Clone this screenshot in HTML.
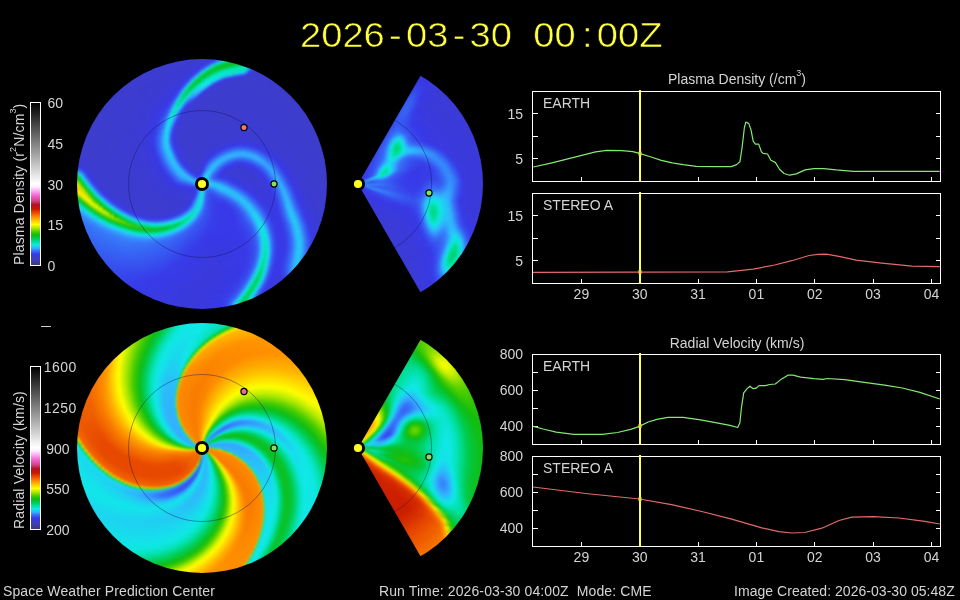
<!DOCTYPE html><html><head><meta charset="utf-8"><title>WSA-ENLIL Solar Wind Prediction</title><style>
html,body{margin:0;padding:0;background:#000;}
body{width:960px;height:600px;overflow:hidden;position:relative;font-family:"Liberation Sans",sans-serif;font-size:14px;color:#d4d4d4;}
.a{position:absolute;}
.t{position:absolute;white-space:nowrap;line-height:16px;}
.d{position:absolute;border-radius:50%;overflow:hidden;}.d .b{position:absolute;}.d i{position:absolute;border-radius:50%;}
.w{clip-path:polygon(125px 125px,250px -91.5px,400px -91.5px,400px 341.5px,250px 341.5px);}
.ttl{position:absolute;left:300px;top:15px;height:40px;white-space:nowrap;color:#ffff40;font-size:34.3px;line-height:40px;-webkit-text-stroke:0.55px #000;}
.ttl span{display:inline-block;width:21.2px;text-align:center;}
.ttl span i{display:inline-block;font-style:normal;transform:scaleX(1.11);}
.rot{position:absolute;white-space:nowrap;line-height:16px;letter-spacing:0.15px;transform-origin:0 0;transform:rotate(-90deg);}
sup{font-size:9px;line-height:0;vertical-align:8px;}
</style></head><body>
<div class="d" style="left:77px;top:59px;width:250px;height:250px"><div class="b" style="inset:-4px;filter:blur(0.8px)"><i style="inset:0px;background:conic-gradient(from 90deg,#3d3dcc 0%,#3b3bd5 6.25%,#383be9 7.97%,#367af9 9.58%,#34aeff 10.46%,#1cd5ef 11.29%,#34a6fe 12.12%,#3760f3 12.95%,#3747ec 13.33%,#3838e5 13.78%,#3a3adb 15%,#383ae8 17.08%,#374bed 17.5%,#366af6 17.92%,#34abff 18.33%,#0ee7e0 18.75%,#00db8b 19.2%,#00d061 19.58%,#02ca46 19.66%,#00d36d 20.11%,#06e3bb 20.57%,#14e1eb 20.83%,#2db9fb 21.03%,#3585fa 21.25%,#3762f4 21.48%,#3746ec 21.94%,#3839e8 22.5%,#3b3bd9 25.83%,#3838e7 33.75%,#3673f8 45%,#3588fb 45.97%,#3595fc 46.25%,#2eb8fb 46.72%,#18dbed 47.08%,#03e2af 47.5%,#02ca46 47.92%,#20c10b 48.22%,#37c705 48.33%,#c0ed00 48.75%,#f8fd00 48.98%,#ffe900 49.17%,#ffc400 49.58%,#e6f800 49.73%,#cff100 50%,#66d400 50.48%,#0ebe18 50.83%,#07e4c1 51.25%,#3584fa 51.67%,#3747ec 51.99%,#383be9 52.08%,#3c3cd1 52.74%,#3d3dcc 59.58%,#3b3bd3 75.42%,#3a3add 76.25%,#383dea 76.67%,#366ff8 77.12%,#28c2f7 77.5%,#0de7dc 77.72%,#01e1a6 77.92%,#03c945 78.33%,#0fbd13 78.75%,#0cc01e 79.17%,#04c840 79.58%,#00d881 80%,#00de99 80.11%,#09e5c9 80.42%,#04e2b3 80.71%,#03e2af 80.83%,#3674f9 81.25%,#375df2 81.31%,#3b3bd3 81.67%,#3d3dcc 82.92%,#3d3dcc 100%)"></i><i style="inset:1.5px;background:conic-gradient(from 90deg,#3d3dcc 0%,#3b3bd5 6.25%,#383be9 7.97%,#367af9 9.58%,#34aeff 10.46%,#1cd5ef 11.29%,#34a6fe 12.12%,#3760f3 12.95%,#3747ec 13.33%,#3838e5 13.78%,#3a3adb 15%,#383ae8 17.08%,#374bed 17.5%,#366af6 17.92%,#34abff 18.33%,#0ee7e0 18.75%,#00db8b 19.2%,#00d061 19.58%,#02ca46 19.66%,#00d36d 20.11%,#06e3bb 20.57%,#14e1eb 20.83%,#2db9fb 21.03%,#3585fa 21.25%,#3762f4 21.48%,#3746ec 21.94%,#3839e8 22.5%,#3b3bd9 25.83%,#3838e7 33.75%,#3673f8 45%,#3588fb 45.97%,#3595fc 46.25%,#2eb8fb 46.72%,#18dbed 47.08%,#03e2af 47.5%,#02ca46 47.92%,#20c10b 48.22%,#37c705 48.33%,#c0ed00 48.75%,#f8fd00 48.98%,#ffe900 49.17%,#ffc400 49.58%,#e6f800 49.73%,#cff100 50%,#66d400 50.48%,#0ebe18 50.83%,#07e4c1 51.25%,#3584fa 51.67%,#3747ec 51.99%,#383be9 52.08%,#3c3cd1 52.74%,#3d3dcc 59.58%,#3b3bd3 75.42%,#3a3add 76.25%,#383dea 76.67%,#366ff8 77.12%,#28c2f7 77.5%,#0de7dc 77.72%,#01e1a6 77.92%,#03c945 78.33%,#0fbd13 78.75%,#0cc01e 79.17%,#04c840 79.58%,#00d881 80%,#00de99 80.11%,#09e5c9 80.42%,#04e2b3 80.71%,#03e2af 80.83%,#3674f9 81.25%,#375df2 81.31%,#3b3bd3 81.67%,#3d3dcc 82.92%,#3d3dcc 100%)"></i><i style="inset:3px;background:conic-gradient(from 90deg,#3d3dcc 0%,#3b3bd5 6.25%,#383be9 7.97%,#367af9 9.58%,#34aeff 10.46%,#1cd5ef 11.29%,#34a6fe 12.12%,#3760f3 12.95%,#3747ec 13.33%,#3838e5 13.78%,#3a3adb 15%,#383ae8 17.08%,#374bed 17.5%,#366af6 17.92%,#34abff 18.33%,#0ee7e0 18.75%,#00db8b 19.2%,#00d061 19.58%,#02ca46 19.66%,#00d36d 20.11%,#06e3bb 20.57%,#14e1eb 20.83%,#2db9fb 21.03%,#3585fa 21.25%,#3762f4 21.48%,#3746ec 21.94%,#3839e8 22.5%,#3b3bd9 25.83%,#3838e7 33.75%,#3673f8 45%,#3588fb 45.97%,#3595fc 46.25%,#2eb8fb 46.72%,#18dbed 47.08%,#03e2af 47.5%,#02ca46 47.92%,#20c10b 48.22%,#37c705 48.33%,#c0ed00 48.75%,#f8fd00 48.98%,#ffe900 49.17%,#ffc400 49.58%,#e6f800 49.73%,#cff100 50%,#66d400 50.48%,#0ebe18 50.83%,#07e4c1 51.25%,#3584fa 51.67%,#3747ec 51.99%,#383be9 52.08%,#3c3cd1 52.74%,#3d3dcc 59.58%,#3b3bd3 75.42%,#3a3add 76.25%,#383dea 76.67%,#366ff8 77.12%,#28c2f7 77.5%,#0de7dc 77.72%,#01e1a6 77.92%,#03c945 78.33%,#0fbd13 78.75%,#0cc01e 79.17%,#04c840 79.58%,#00d881 80%,#00de99 80.11%,#09e5c9 80.42%,#04e2b3 80.71%,#03e2af 80.83%,#3674f9 81.25%,#375df2 81.31%,#3b3bd3 81.67%,#3d3dcc 82.92%,#3d3dcc 100%)"></i><i style="inset:4.5px;background:conic-gradient(from 90deg,#3d3dcc 0%,#3b3bd6 6.25%,#383be9 7.81%,#366df7 9.17%,#30b5fc 10.42%,#1fcff2 11.14%,#2db9fb 11.67%,#349ffd 12.08%,#375ff3 12.92%,#3839e8 13.63%,#3a3adc 14.58%,#3838e5 16.67%,#3844eb 17.2%,#3760f3 17.66%,#367cf9 17.92%,#359efd 18.12%,#28c2f7 18.33%,#0fe8e5 18.58%,#00d679 19.17%,#01cb4b 19.5%,#02ca4a 19.58%,#00d575 20%,#07e3bd 20.42%,#21cdf3 20.83%,#366df7 21.34%,#374bed 21.79%,#3839e8 22.5%,#3b3bd9 25.83%,#3838e7 33.75%,#3670f8 44.58%,#367cf9 45.42%,#3588fb 45.84%,#359dfd 46.25%,#2bbdf9 46.67%,#0fe8e5 47.08%,#00dd93 47.5%,#09c32c 47.92%,#1ec00c 48.11%,#58d000 48.33%,#dcf500 48.75%,#f7fd00 48.86%,#ffdd00 49.17%,#ffc300 49.61%,#baeb00 50%,#53cf00 50.42%,#08c431 50.83%,#00e09f 51.12%,#0be6d3 51.25%,#367bf9 51.67%,#3754f0 51.87%,#3839e8 52.08%,#3c3cd3 52.62%,#3d3dcc 55%,#3c3cd3 75%,#3b3bd8 75.83%,#3939e4 76.31%,#374dee 76.67%,#366af6 76.91%,#358cfb 77.08%,#0fe8e4 77.51%,#00d472 77.92%,#03c945 78.11%,#0ac227 78.33%,#0ebe17 78.75%,#06c636 79.31%,#00cd55 79.58%,#00e09f 80%,#09e5ca 80.42%,#04e2b3 80.83%,#2eb7fb 81.11%,#3669f6 81.25%,#3c3cd3 81.67%,#3d3dcc 83.33%,#3d3dcc 100%)"></i><i style="inset:6px;background:conic-gradient(from 90deg,#3d3dcc 0%,#3b3bd5 5.83%,#383ae9 7.5%,#366bf7 8.75%,#31b2fd 10%,#1fd1f1 10.83%,#34a8fe 11.67%,#3759f1 12.92%,#3843eb 13.33%,#3838e5 13.75%,#3a3add 15%,#383de9 16.67%,#3760f4 17.34%,#366ff8 17.5%,#33b0fe 17.92%,#11e7e8 18.26%,#00dc8f 18.75%,#00d05f 19.17%,#01cb4c 19.19%,#00d268 19.58%,#08e4c3 20.12%,#19daed 20.42%,#34a2fe 20.83%,#3668f6 21.25%,#374dee 21.67%,#3839e8 22.5%,#3a3ad9 25.83%,#383be9 34.58%,#3673f8 44.58%,#3588fb 45.59%,#2fb6fc 46.34%,#1cd5f0 46.67%,#05e2b6 47.1%,#00cd54 47.5%,#1abf0d 47.86%,#a6e500 48.33%,#effa00 48.61%,#fff600 48.75%,#ffcd00 49.17%,#ffc700 49.37%,#cef100 49.58%,#80db00 50%,#5dd200 50.12%,#19be0e 50.42%,#00d472 50.83%,#1bd7ef 51.25%,#3669f6 51.67%,#3838e5 52.08%,#3b3bd5 52.5%,#3d3dcc 54.17%,#3c3cd3 74.58%,#3a3adf 75.83%,#3845ec 76.25%,#3760f3 76.5%,#367bf9 76.67%,#16deec 77.1%,#00d983 77.5%,#01cb4d 77.7%,#09c32a 77.92%,#0ebe19 78.33%,#07c536 78.9%,#00cc50 79.17%,#00dd94 79.58%,#08e4c5 80%,#09e5ca 80.1%,#04e2b0 80.7%,#0ae5cc 80.83%,#3751ef 81.25%,#3844eb 81.3%,#3c3cd1 81.67%,#3d3dcc 86.25%,#3d3dcc 100%)"></i><i style="inset:7.5px;background:conic-gradient(from 90deg,#3d3dcc 0%,#3b3bd7 5.83%,#3838e7 7.09%,#3667f5 8.33%,#32b2fe 9.61%,#1fcff2 10.45%,#34adff 11.29%,#3676f9 12.13%,#3840ea 13.33%,#3939e4 13.81%,#3939e0 15.42%,#383be9 16.25%,#374cee 16.67%,#3668f6 17.08%,#34a0fd 17.5%,#11e6e9 17.96%,#00dd94 18.43%,#00d36a 18.75%,#00cf5c 19.17%,#00d576 19.36%,#00df9e 19.58%,#11e7e9 20%,#34aeff 20.42%,#3678f9 20.83%,#375bf2 21.25%,#3748ed 21.67%,#3838e8 22.5%,#3a3ad9 25.83%,#383ae9 34.17%,#3671f8 44.17%,#3588fb 45.33%,#2fb6fc 46.09%,#27c3f6 46.25%,#0de6da 46.67%,#06e3b9 46.85%,#00d984 47.08%,#0cc020 47.5%,#16be0e 47.61%,#65d400 47.92%,#e8f800 48.37%,#ffdf00 48.75%,#ffcb00 49.12%,#d6f300 49.17%,#a4e500 49.58%,#3bc804 50%,#04c842 50.42%,#00d986 50.64%,#07e3be 50.83%,#32b2fe 51.25%,#358bfb 51.4%,#3759f1 51.67%,#3939e1 52.08%,#3b3bd3 52.5%,#3d3dcc 54.58%,#3c3cd3 74.17%,#3a3ade 75.51%,#383ce9 75.83%,#366af6 76.25%,#24c8f5 76.67%,#1ed2f1 76.71%,#00de97 77.08%,#00cd55 77.31%,#07c532 77.5%,#0dbf1d 77.92%,#09c32d 78.33%,#00cd52 78.75%,#00dc8f 79.17%,#07e4c1 79.58%,#09e5ca 79.71%,#09e4c8 80%,#03e2ae 80.42%,#1dd3f0 80.83%,#30b5fc 80.91%,#3839e8 81.25%,#3c3cd0 81.67%,#3d3dcc 100%)"></i><i style="inset:9px;background:conic-gradient(from 90deg,#3d3dcd 0%,#3b3bd6 5.42%,#3939e5 6.7%,#383fea 7.08%,#3678f9 8.33%,#32b1fe 9.23%,#1ed2f1 10%,#33afff 10.92%,#3669f6 12.08%,#3839e8 13.45%,#3939e0 14.58%,#3839e8 15.83%,#3749ed 16.25%,#3666f5 16.71%,#34a3fe 17.18%,#10e8e7 17.65%,#00dd94 18.13%,#01cb4d 18.6%,#00cc52 18.75%,#00d677 19.07%,#0ce6d7 19.58%,#2eb7fb 20.02%,#3679f9 20.49%,#375bf2 20.97%,#383de9 22.08%,#3939df 23.75%,#3a3adb 28.75%,#383be9 34.17%,#3674f8 44.17%,#3588fb 45.07%,#3598fc 45.42%,#30b5fc 45.83%,#17ddec 46.25%,#06e3bd 46.59%,#02ca47 47.08%,#11bc10 47.35%,#33c606 47.5%,#b0e800 47.92%,#e0f600 48.12%,#fff600 48.33%,#ffd300 48.75%,#caef00 48.88%,#b9eb00 49.17%,#62d300 49.58%,#51cf00 49.64%,#0dbf1c 50%,#00db8d 50.42%,#1bd6ef 50.83%,#3594fc 51.16%,#3749ed 51.67%,#3939e4 51.92%,#3c3cd0 52.69%,#3c3cd0 72.5%,#3a3ada 75%,#3838e6 75.42%,#375cf2 75.83%,#30b4fd 76.25%,#23c9f4 76.35%,#03e2b0 76.67%,#00cf5c 76.95%,#04c841 77.08%,#10bc11 77.5%,#09c32c 77.92%,#00cd55 78.33%,#00dd93 78.76%,#07e4c1 79.17%,#0ae5cc 79.36%,#0ae5cd 79.58%,#04e2b4 80%,#08e4c4 80.42%,#0fe8e5 80.56%,#358efb 80.83%,#3a3adc 81.25%,#3c3cce 81.67%,#3d3dcd 100%)"></i><i style="inset:10.5px;background:conic-gradient(from 90deg,#3d3dcd 0%,#3b3bd5 5%,#383ae9 6.67%,#3676f9 8%,#33b0fe 8.85%,#1fd0f2 9.58%,#25c6f5 10%,#33afff 10.54%,#366ef8 11.67%,#383fea 13.09%,#3939e4 13.75%,#3939e3 15%,#3838e8 15.42%,#3749ed 15.91%,#3668f6 16.38%,#3589fb 16.67%,#34a8fe 16.86%,#0fe7e3 17.34%,#00d984 17.92%,#01cb4c 18.33%,#00d678 18.78%,#0be5d0 19.25%,#24c8f5 19.58%,#30b4fc 19.73%,#3675f9 20.21%,#3758f1 20.69%,#383be9 22.08%,#3a3ada 25.83%,#383ce9 34.17%,#3673f8 43.75%,#3587fb 44.8%,#31b4fd 45.57%,#22caf4 45.83%,#0ae5ce 46.25%,#00d574 46.67%,#10bc11 47.1%,#70d700 47.5%,#d8f400 47.86%,#e2f600 47.92%,#ffe400 48.33%,#c0ed00 48.63%,#bbeb00 48.75%,#80db00 49.17%,#4acd00 49.39%,#24c20a 49.58%,#00cf5d 50%,#00db8b 50.16%,#0ce6d4 50.42%,#34a7fe 50.83%,#3593fc 50.92%,#3760f4 51.25%,#3838e8 51.69%,#3c3cd1 52.5%,#3d3dcc 63.33%,#3b3bd5 74.19%,#3939e1 75%,#374eee 75.42%,#3598fd 75.83%,#28c1f8 76%,#0ae5ce 76.25%,#00cc4e 76.67%,#0ebe16 77.08%,#0fbd15 77.2%,#00cc50 77.92%,#00e0a0 78.41%,#08e4c5 78.75%,#0be5d0 79.01%,#0ae5cf 79.17%,#05e3b8 79.61%,#06e3bb 80%,#0ee7e0 80.22%,#27c3f7 80.42%,#374fef 80.83%,#3b3bd4 81.25%,#3d3dcc 82.08%,#3d3dcd 100%)"></i><i style="inset:12px;background:conic-gradient(from 90deg,#3d3dcd 0%,#3b3bd7 5.06%,#3838e7 6.25%,#3756f0 7.08%,#3670f8 7.62%,#34adff 8.48%,#21ccf3 9.17%,#23c9f4 9.58%,#34aeff 10.18%,#3672f8 11.25%,#3841eb 12.74%,#3939e3 13.75%,#3838e7 15%,#3748ed 15.56%,#3668f6 16.04%,#367ffa 16.25%,#34aaff 16.53%,#0ee7e1 17.01%,#00dd93 17.5%,#00d164 17.92%,#00d165 18.33%,#02e1aa 18.75%,#0ae5cd 18.94%,#19daee 19.17%,#2fb5fc 19.42%,#366cf7 20%,#3756f1 20.42%,#3843eb 21.25%,#3838e6 22.5%,#3a3ada 26.67%,#383be9 33.75%,#3676f9 43.75%,#3589fb 44.58%,#359dfd 45%,#2cbbfa 45.42%,#12e6e9 45.83%,#08e4c4 46.07%,#00e09f 46.25%,#05c73c 46.67%,#0ebe16 46.84%,#3bc804 47.08%,#b6ea00 47.5%,#cff100 47.61%,#fff800 47.92%,#ffdd00 48.37%,#96e100 48.75%,#3ec903 49.17%,#07c536 49.58%,#02e1ab 50%,#26c4f6 50.42%,#3592fc 50.68%,#3674f8 50.83%,#3748ed 51.25%,#383ae9 51.44%,#3b3bd3 52.21%,#3d3dcc 54.58%,#3b3bd4 73.33%,#3a3ade 74.58%,#3747ec 75.06%,#3679f9 75.42%,#2eb8fb 75.66%,#14e2ea 75.83%,#00d268 76.27%,#0dbf1d 76.67%,#0ac227 77.08%,#01cb4c 77.5%,#02e1a9 78.08%,#08e4c5 78.33%,#0be5d1 78.75%,#05e3b7 79.28%,#06e3ba 79.58%,#10e8e8 79.89%,#1dd2f1 80%,#3666f5 80.42%,#3939df 80.83%,#3c3cd0 81.25%,#3d3dcd 100%)"></i><i style="inset:13.5px;background:conic-gradient(from 90deg,#3d3dcd 0%,#3b3bd7 4.69%,#3939e4 5.83%,#3845ec 6.41%,#366cf7 7.27%,#2fb6fc 8.33%,#22caf4 8.75%,#22cbf4 9.17%,#34a3fe 10%,#3675f9 10.83%,#3842eb 12.41%,#3838e6 13.27%,#3838e6 14.58%,#3746ec 15.2%,#3673f8 15.83%,#30b4fd 16.25%,#0ee7e1 16.67%,#00dd94 17.15%,#00d36d 17.5%,#00cc50 17.64%,#00cf5d 17.92%,#00de97 18.33%,#0fe7e3 18.75%,#33b0fe 19.17%,#3675f9 19.59%,#3757f1 20.08%,#383fea 21.25%,#3939e2 22.92%,#3a3adb 27.5%,#383ce9 33.75%,#3674f9 43.33%,#3587fb 44.26%,#3593fc 44.58%,#32b1fe 45.03%,#1ed2f1 45.42%,#07e4c1 45.83%,#00d163 46.25%,#0dbf1b 46.58%,#16be0e 46.67%,#7fdb00 47.08%,#c7ef00 47.34%,#e6f800 47.5%,#ffe900 47.92%,#ade700 48.12%,#a1e400 48.33%,#3dc903 48.89%,#0ebe17 49.17%,#00d87e 49.58%,#00de97 49.66%,#13e3ea 50%,#3590fc 50.43%,#3757f1 50.83%,#3838e7 51.25%,#3c3cd3 52.08%,#3d3dcc 55.42%,#3b3bd4 72.92%,#3a3adb 74.17%,#3838e7 74.58%,#3843eb 74.73%,#3762f4 75%,#33afff 75.34%,#27c3f7 75.42%,#00dc91 75.83%,#00d46f 75.94%,#09c32c 76.25%,#0bc125 76.67%,#00cc4e 77.15%,#04e2b0 77.76%,#08e4c3 77.92%,#0be6d4 78.36%,#05e3b7 78.96%,#06e3bd 79.17%,#1bd7ef 79.58%,#3672f8 80%,#3838e6 80.42%,#3b3bd4 80.83%,#3d3dcc 82.5%,#3d3dcd 100%)"></i><i style="inset:15px;background:conic-gradient(from 90deg,#3c3ccd 0%,#3b3bd8 4.58%,#383ae9 5.83%,#3671f8 7.08%,#33afff 7.92%,#26c5f6 8.33%,#1fd0f2 8.75%,#34a5fe 9.58%,#3676f9 10.42%,#374cee 11.67%,#383be9 12.5%,#3838e6 14.17%,#3844ec 14.82%,#3669f6 15.42%,#34a3fe 15.83%,#0fe8e5 16.31%,#00dd96 16.8%,#00d572 17.08%,#00cc51 17.29%,#00ce57 17.5%,#00db8b 17.92%,#0be5d0 18.33%,#2abdf9 18.77%,#3679f9 19.26%,#3758f1 19.76%,#3840ea 20.83%,#3939e4 22.5%,#3a3adb 27.08%,#383ae9 33.33%,#3673f8 42.92%,#358cfb 44.17%,#33afff 44.76%,#28c2f7 45%,#0ee7df 45.42%,#00dc8e 45.83%,#0cc021 46.31%,#47cc00 46.67%,#beec00 47.08%,#fff900 47.5%,#ffe900 47.86%,#a3e500 47.92%,#70d700 48.33%,#22c10b 48.75%,#00cd54 49.17%,#00df9d 49.41%,#09e5c9 49.58%,#31b3fd 50%,#3668f6 50.42%,#3839e8 50.96%,#3b3bd4 51.73%,#3d3dcc 54.17%,#3b3bd4 72.5%,#3a3adb 73.81%,#3939e3 74.17%,#3840ea 74.42%,#3750ef 74.58%,#34a6fe 75.02%,#06e3bc 75.42%,#00d677 75.63%,#04c83f 75.83%,#0bc124 76.25%,#04c83f 76.67%,#00cd52 76.84%,#07e3be 77.5%,#0ce6d7 77.92%,#08e4c3 78.33%,#06e3bc 78.66%,#1dd3f0 79.17%,#28c2f7 79.26%,#3675f9 79.58%,#383ae8 80%,#3b3bd6 80.42%,#3d3dcc 81.67%,#3c3ccd 100%)"></i><i style="inset:16.5px;background:conic-gradient(from 90deg,#3c3ccd 0%,#3b3bd6 4.17%,#3838e6 5.42%,#3755f0 6.25%,#3669f6 6.67%,#34a5fe 7.5%,#1ed1f1 8.33%,#34a5fe 9.23%,#3672f8 10.1%,#3844eb 11.67%,#3838e6 12.7%,#383be9 14.17%,#3748ed 14.58%,#3760f3 15%,#3597fc 15.45%,#13e2ea 15.94%,#00de98 16.44%,#00cd52 16.94%,#00cd55 17.08%,#00d87f 17.5%,#09e4c6 17.94%,#21cdf3 18.33%,#3594fc 18.75%,#3668f6 19.17%,#3753f0 19.58%,#383ce9 20.83%,#3a3adb 26.25%,#383be9 33.33%,#3676f9 42.92%,#3587fb 43.75%,#3598fd 44.17%,#30b5fc 44.58%,#18dbed 45%,#0ae5cf 45.27%,#04e2b3 45.42%,#00cd53 45.83%,#0ac226 46.04%,#23c10b 46.25%,#b6ea00 46.82%,#e8f800 47.08%,#ffef00 47.5%,#95e100 47.6%,#7edb00 47.92%,#2fc507 48.38%,#06c63a 48.75%,#02e1a8 49.17%,#22cbf3 49.58%,#367efa 50%,#374eee 50.42%,#3838e8 50.71%,#3c3cd2 51.67%,#3d3dcc 56.67%,#3b3bd4 72.08%,#3939df 73.75%,#3843eb 74.17%,#367af9 74.58%,#34a0fd 74.73%,#11e6e9 75%,#00d05f 75.42%,#0ebe18 75.83%,#0ebe17 75.94%,#00ce59 76.55%,#07e4c0 77.15%,#0de6d9 77.5%,#09e5c9 77.92%,#08e4c5 78.37%,#1fd0f1 78.75%,#34a1fe 78.97%,#3670f8 79.17%,#383ae9 79.58%,#3b3bd7 80%,#3d3dcd 81.25%,#3c3ccd 100%)"></i><i style="inset:18px;background:conic-gradient(from 90deg,#3c3cce 0%,#3b3bd9 4.17%,#3939e4 5%,#3840ea 5.46%,#3666f5 6.33%,#2eb7fb 7.5%,#1fd0f1 8.07%,#34a2fe 8.95%,#366ef7 9.82%,#3845ec 11.25%,#3838e8 12.08%,#3839e8 13.75%,#3844eb 14.17%,#3759f1 14.58%,#367ffa 15%,#28c1f7 15.42%,#18dbed 15.59%,#0ae5cc 15.83%,#00da8a 16.25%,#00cd52 16.6%,#00cc4f 16.67%,#00d67a 17.1%,#09e5c9 17.61%,#1bd7ef 17.92%,#34a1fd 18.33%,#366ff8 18.75%,#3758f1 19.17%,#3843eb 20%,#3838e7 21.25%,#3a3adb 26.67%,#383ae9 32.92%,#3675f9 42.5%,#3586fa 43.44%,#34a9fe 44.17%,#23caf4 44.58%,#0be6d2 45%,#00d77d 45.42%,#0cc021 45.83%,#57d000 46.25%,#ade700 46.56%,#c5ee00 46.67%,#fffd00 47.08%,#8ade00 47.34%,#84dc00 47.5%,#44cb01 47.92%,#28c309 48.12%,#0cc01f 48.33%,#00d881 48.75%,#02e1ab 48.9%,#12e5e9 49.17%,#3599fd 49.58%,#375cf2 50%,#3838e8 50.46%,#3b3bd4 51.25%,#3d3dcc 54.17%,#3b3bd4 71.67%,#3a3add 73.33%,#3839e8 73.75%,#3663f4 74.17%,#359efd 74.44%,#27c3f7 74.58%,#00dc8e 75%,#0ac227 75.42%,#09c32e 75.83%,#00d05e 76.26%,#02e1ab 76.67%,#09e4c7 76.87%,#0de6d9 77.08%,#08e4c3 77.92%,#0be5d1 78.08%,#1cd5f0 78.33%,#3670f8 78.75%,#3838e8 79.17%,#3b3bd6 79.58%,#3d3dcc 81.25%,#3c3cce 100%)"></i><i style="inset:19.5px;background:conic-gradient(from 90deg,#3c3cce 0%,#3b3bd7 3.75%,#3839e8 5%,#3670f8 6.25%,#33afff 7.08%,#1fcff2 7.8%,#2fb6fc 8.33%,#3669f6 9.58%,#3845ec 10.83%,#3838e8 11.67%,#3838e8 13.33%,#3840ea 13.75%,#3756f0 14.23%,#3670f8 14.58%,#33b0fe 15%,#0fe7e3 15.42%,#00df9e 15.83%,#00d575 16.27%,#00d36d 16.67%,#03e1ad 17.08%,#0ae5cf 17.29%,#15e0eb 17.5%,#34acff 17.92%,#3677f9 18.33%,#375af2 18.82%,#3845ec 19.58%,#3838e5 21.25%,#3a3adb 26.67%,#383be9 32.92%,#3679f9 42.5%,#358bfb 43.33%,#34acff 43.94%,#2cbcfa 44.17%,#12e5e9 44.58%,#0ce6d6 44.72%,#01e0a4 45%,#08c431 45.51%,#2fc507 45.83%,#a4e500 46.29%,#e8f800 46.67%,#7fdb00 47.08%,#55cf00 47.5%,#17be0e 47.92%,#00cf5c 48.33%,#09e5ca 48.75%,#30b4fc 49.17%,#366bf7 49.58%,#3844eb 50%,#3838e7 50.21%,#3c3cd1 51.25%,#3d3dcd 60.83%,#3b3bd7 72.08%,#3a3adc 72.95%,#3939e4 73.33%,#3840ea 73.56%,#3753f0 73.75%,#34a1fe 74.17%,#06e3bd 74.58%,#00d881 74.77%,#04c83e 75%,#0ac229 75.42%,#01cb4b 75.83%,#00de99 76.25%,#0ce6d5 76.67%,#0ce6d8 77.08%,#08e4c4 77.5%,#0ee7e0 77.8%,#17dced 77.92%,#3678f9 78.33%,#3667f5 78.41%,#3838e8 78.75%,#3b3bd6 79.17%,#3d3dcc 80.83%,#3c3cce 100%)"></i><i style="inset:21px;background:conic-gradient(from 90deg,#3c3cce 0%,#3a3ada 3.75%,#3838e6 4.58%,#3843eb 5%,#3669f6 5.83%,#34a5fe 6.67%,#1ed1f1 7.5%,#34a4fe 8.33%,#3668f6 9.29%,#3845ec 10.42%,#3838e8 11.25%,#3838e7 12.92%,#383eea 13.38%,#3753f0 13.89%,#3665f5 14.17%,#3580fa 14.4%,#359cfd 14.58%,#19d9ee 15%,#04e2b2 15.43%,#00d87e 15.83%,#00d05f 15.95%,#00d46f 16.25%,#00d984 16.46%,#01e0a2 16.67%,#10e8e7 17.08%,#31b3fd 17.5%,#3676f9 18.01%,#3758f1 18.52%,#3840ea 19.58%,#3838e6 20.83%,#3a3adb 26.67%,#383ce9 32.92%,#3677f9 42.08%,#3586fb 42.92%,#3596fc 43.33%,#32b1fe 43.75%,#1dd3f0 44.17%,#0de6d9 44.45%,#08e4c3 44.58%,#00d269 45%,#0fbd13 45.42%,#67d400 45.83%,#9ae200 46.03%,#c9ef00 46.25%,#fbfe00 46.67%,#ffff00 46.81%,#61d300 47.08%,#1abf0d 47.6%,#04c83f 47.92%,#05e3b9 48.39%,#22ccf3 48.75%,#367cf9 49.18%,#374fef 49.58%,#3939e5 50%,#3c3cd3 50.83%,#3d3dcc 55%,#3b3bd4 70.83%,#3939e1 72.92%,#3846ec 73.33%,#367efa 73.75%,#34a1fe 73.89%,#12e5e9 74.17%,#00d061 74.58%,#0ebe19 75%,#09c32c 75.1%,#05c73e 75.42%,#00d268 75.7%,#0be5d1 76.31%,#0ee7df 76.67%,#09e4c8 77.08%,#13e3ea 77.52%,#3586fa 77.92%,#3759f1 78.12%,#383ce9 78.33%,#3b3bd6 78.75%,#3d3dcd 80%,#3c3cce 100%)"></i><i style="inset:22.5px;background:conic-gradient(from 90deg,#3c3ccf 0%,#3b3bd9 3.33%,#383dea 4.59%,#3664f5 5.48%,#2fb6fc 6.67%,#1fd0f1 7.25%,#34afff 7.92%,#3673f8 8.75%,#3846ec 10%,#3838e8 10.83%,#383eea 13.03%,#375cf2 13.75%,#3587fb 14.17%,#24c7f5 14.59%,#09e5cb 15%,#00dc91 15.42%,#00d267 15.63%,#00d36c 15.83%,#00db8c 16.15%,#0de7dc 16.68%,#33afff 17.19%,#3671f8 17.72%,#3753f0 18.33%,#383de9 19.58%,#3a3ade 23.33%,#3939e1 29.58%,#383de9 32.92%,#3676f9 41.67%,#3585fa 42.6%,#34a6fe 43.33%,#27c4f6 43.75%,#0de7dc 44.18%,#00dc91 44.58%,#07c535 45%,#3bc804 45.42%,#a4e500 45.83%,#e5f700 46.25%,#6ad500 46.55%,#66d400 46.67%,#38c705 47.08%,#13bd0f 47.34%,#0ac228 47.5%,#00da88 47.92%,#07e4c0 48.13%,#14e1eb 48.33%,#3598fc 48.75%,#3678f9 48.92%,#375cf2 49.17%,#383be9 49.58%,#3b3bd3 50.51%,#3d3dcc 54.17%,#3b3bd4 70.42%,#3a3adf 72.5%,#383ce9 72.92%,#3665f5 73.33%,#34a1fe 73.61%,#26c4f6 73.75%,#00dc91 74.17%,#00d881 74.21%,#0ac229 74.58%,#07c534 75%,#00d26a 75.42%,#06e3ba 75.83%,#0ce6d5 76.02%,#0fe7e2 76.25%,#0be5d0 76.67%,#0ee7dd 77.08%,#19daee 77.23%,#359afd 77.5%,#374fee 77.83%,#3843eb 77.92%,#3b3bd7 78.33%,#3c3cce 79.17%,#3c3ccf 100%)"></i><i style="inset:24px;background:conic-gradient(from 90deg,#3c3ccf 0%,#3a3adc 3.4%,#383ce9 4.3%,#366ff8 5.42%,#33afff 6.25%,#1fd0f1 6.98%,#2fb7fc 7.5%,#367cf9 8.33%,#3755f0 9.17%,#3838e8 10.42%,#3839e8 12.5%,#374fef 13.21%,#3676f9 13.75%,#31b3fd 14.17%,#0fe7e2 14.58%,#02e1a8 15%,#00d46f 15.32%,#00d46f 15.42%,#00dd95 15.85%,#0fe8e4 16.38%,#34a9fe 16.9%,#366df7 17.43%,#3754f0 17.96%,#383eea 19.17%,#3939e2 21.25%,#3a3add 27.5%,#383ce9 32.5%,#3679f9 41.67%,#358afb 42.5%,#34a8fe 43.11%,#17ddec 43.75%,#0ee7e0 43.9%,#04e2b2 44.17%,#00cd54 44.58%,#1bbf0d 45%,#86dd00 45.49%,#cbf000 45.83%,#eefa00 46.29%,#42ca02 46.67%,#0fbd14 47.08%,#00d269 47.5%,#0be6d2 47.92%,#32b1fe 48.33%,#3673f8 48.67%,#3845ec 49.17%,#3939e0 49.58%,#3c3ccf 50.83%,#3c3cd3 69.17%,#3a3ade 72.12%,#3838e6 72.5%,#3843eb 72.72%,#3755f0 72.92%,#34a3fe 73.33%,#07e3bf 73.75%,#00d985 73.93%,#03c943 74.17%,#08c431 74.58%,#00cd54 75%,#01e1a5 75.42%,#0ce6d7 75.73%,#0ee7e0 75.83%,#0be6d3 76.67%,#1ed2f1 76.94%,#31b3fd 77.08%,#3747ec 77.54%,#3a3ad9 77.92%,#3c3cce 78.75%,#3c3ccf 100%)"></i><i style="inset:25.5px;background:conic-gradient(from 90deg,#3c3cd0 0%,#3a3adc 3.1%,#383ce9 4%,#3667f5 5%,#34a4fe 5.83%,#1ed1f1 6.67%,#34a5fe 7.5%,#3664f5 8.49%,#3840ea 9.58%,#3838e6 10.29%,#383ce9 12.35%,#3750ef 12.92%,#3671f8 13.41%,#34a0fd 13.75%,#1ad8ee 14.17%,#09e5ca 14.48%,#06e3ba 14.58%,#00de96 15.01%,#00db8e 15.42%,#12e5e9 16.08%,#359bfd 16.67%,#3669f6 17.15%,#374cee 17.92%,#3838e8 19.58%,#3a3adb 25.42%,#383ae9 32.08%,#3678f9 41.25%,#3586fb 42.08%,#34a8fe 42.83%,#20cef2 43.33%,#0fe7e3 43.62%,#00d77c 44.17%,#0bc125 44.58%,#47cc00 45%,#abe700 45.42%,#def500 45.83%,#e6f800 46.02%,#48cc00 46.25%,#1dc00c 46.67%,#0ebe1a 46.82%,#01cb4b 47.08%,#04e2b3 47.5%,#0ae5ce 47.62%,#24c7f5 47.92%,#366ff8 48.41%,#374eee 48.75%,#3939e3 49.21%,#3c3ccf 50.42%,#3c3cd2 68.33%,#3a3adf 71.84%,#3939e3 72.08%,#3748ed 72.5%,#3580fa 72.92%,#34a0fd 73.04%,#11e6e9 73.33%,#00da88 73.64%,#00d268 73.75%,#0cc020 74.17%,#0cc021 74.24%,#02ca49 74.58%,#00dc90 75%,#0de6da 75.44%,#10e8e6 75.83%,#0be6d2 76.25%,#22caf4 76.67%,#375df3 77.08%,#3842eb 77.24%,#3a3adc 77.5%,#3c3cd1 77.92%,#3d3dcc 91.25%,#3c3cd0 100%)"></i><i style="inset:27px;background:conic-gradient(from 90deg,#3c3cd1 0%,#3a3ade 2.92%,#383de9 3.75%,#3761f4 4.61%,#3677f9 5%,#2fb6fc 5.83%,#1fcff2 6.42%,#33afff 7.08%,#3673f8 7.92%,#3842eb 9.17%,#3839e8 9.58%,#3939e4 11.25%,#383dea 12.08%,#374dee 12.55%,#366ff8 13.09%,#2db9fb 13.63%,#24c8f5 13.75%,#0be5d0 14.17%,#00e0a1 14.58%,#00d87f 14.71%,#00db8c 15%,#06e3bb 15.42%,#16dfec 15.79%,#34a6fe 16.25%,#3675f9 16.67%,#375cf2 17.08%,#3845ec 17.92%,#3838e6 19.58%,#3a3adb 25.42%,#383ce9 32.08%,#367cf9 41.25%,#358ffc 42.08%,#34a6fe 42.54%,#29c0f8 42.92%,#0fe8e5 43.34%,#00e0a0 43.75%,#03c943 44.17%,#29c309 44.58%,#74d800 44.95%,#83dc00 45%,#c7ef00 45.42%,#ddf500 45.75%,#4acd00 45.83%,#29c309 46.25%,#0cc021 46.55%,#07c535 46.67%,#00dd94 47.08%,#0be6d4 47.35%,#16deec 47.5%,#3593fc 47.92%,#366df7 48.16%,#383ae9 48.75%,#3c3cd2 49.76%,#3d3dcc 55%,#3b3bd6 69.58%,#3939e1 71.67%,#3845ec 72.17%,#3667f5 72.5%,#34a1fe 72.77%,#26c5f6 72.92%,#00dd95 73.33%,#08c431 73.75%,#04c842 74.17%,#00d77e 74.58%,#09e5c9 75%,#0ee7de 75.16%,#12e4e9 75.42%,#0de6d9 75.83%,#15e0eb 76.25%,#20cdf3 76.36%,#3677f9 76.67%,#3840ea 76.95%,#3939e3 77.08%,#3c3cd2 77.5%,#3d3dcc 81.67%,#3c3cd1 100%)"></i><i style="inset:28.5px;background:conic-gradient(from 90deg,#3c3cd2 0%,#3939e3 2.92%,#383de9 3.42%,#366ef7 4.58%,#34adff 5.42%,#1fd1f1 6.15%,#359cfd 7.06%,#3663f4 7.97%,#383ce9 9.17%,#3939e3 10.83%,#383be9 11.68%,#374cee 12.22%,#366df7 12.77%,#2eb7fb 13.33%,#10e8e7 13.75%,#04e2b1 14.17%,#00da87 14.41%,#00db8b 14.58%,#04e2b2 15%,#12e4ea 15.42%,#32b2fe 15.83%,#367efa 16.25%,#3760f4 16.67%,#3747ec 17.5%,#3838e7 19.17%,#3a3adb 25%,#383ae9 31.67%,#367af9 40.83%,#358bfb 41.67%,#34a5fe 42.26%,#30b5fc 42.5%,#10e8e8 43.06%,#07e3be 43.33%,#01cb4b 43.87%,#0ebe16 44.17%,#57d000 44.58%,#b0e800 45%,#d6f300 45.42%,#d5f300 45.48%,#31c606 45.83%,#0ac227 46.28%,#00d574 46.67%,#0de6da 47.09%,#34acff 47.5%,#3668f6 47.92%,#3843eb 48.33%,#3939e0 48.75%,#3c3ccf 50%,#3b3bd3 67.92%,#3939e0 71.29%,#3838e8 71.67%,#3757f1 72.08%,#34a3fe 72.5%,#07e4c0 72.92%,#00db8c 73.08%,#02ca4a 73.33%,#04c83e 73.75%,#00d36a 74.17%,#06e3b9 74.58%,#0fe8e5 74.87%,#14e2ea 75%,#0ee7e1 75.47%,#0fe7e2 75.83%,#23c9f4 76.07%,#359efd 76.25%,#383eea 76.67%,#3b3bd4 77.08%,#3d3dcc 78.75%,#3c3cd2 100%)"></i><i style="inset:30px;background:conic-gradient(from 90deg,#3c3cd3 0%,#3939e3 2.5%,#3838e8 2.92%,#3666f5 4.17%,#34a2fe 5%,#1ed2f1 5.83%,#29c0f8 6.25%,#359bfd 6.81%,#3762f4 7.72%,#383eea 8.75%,#3939e4 9.58%,#383ae9 11.34%,#3753f0 12.08%,#366ff8 12.5%,#32b2fd 13%,#19daee 13.33%,#0de6da 13.56%,#08e4c3 13.75%,#00db8c 14.11%,#00db8a 14.17%,#04e2b4 14.66%,#0ee7e0 15%,#2bbdf9 15.42%,#3589fb 15.83%,#3762f4 16.32%,#3749ed 17.08%,#3838e7 18.75%,#3a3adb 24.58%,#383ce9 31.67%,#3679f9 40.42%,#3587fb 41.25%,#34a4fe 41.97%,#23caf4 42.5%,#12e5e9 42.78%,#0ce6d6 42.92%,#00db8c 43.33%,#00cc51 43.58%,#07c533 43.75%,#35c705 44.17%,#8cde00 44.58%,#c4ee00 45%,#cdf000 45.2%,#36c705 45.42%,#0fbd15 45.83%,#00ce58 46.25%,#06e3bd 46.67%,#0fe7e2 46.82%,#28c1f7 47.08%,#3678f9 47.5%,#374cee 47.92%,#3939e4 48.33%,#3c3cd2 49.25%,#3d3dcd 55.83%,#3b3bd7 69.17%,#3838e5 71.25%,#374bed 71.67%,#3581fa 72.08%,#359efd 72.21%,#12e4ea 72.5%,#00dc91 72.8%,#00d36d 72.92%,#0ac229 73.33%,#03c944 73.4%,#00cf5b 73.75%,#02e1a7 74.17%,#12e5e9 74.59%,#19daee 75%,#11e6e9 75.18%,#0fe7e2 75.42%,#24c7f5 75.78%,#2bbdf9 75.83%,#3752ef 76.25%,#383fea 76.37%,#3b3bd9 76.67%,#3c3ccd 77.5%,#3c3cd1 99.17%,#3c3cd3 100%)"></i><i style="inset:31.5px;background:conic-gradient(from 90deg,#3b3bd5 0%,#3839e8 2.5%,#3663f4 3.78%,#3676f9 4.17%,#30b4fc 5%,#1fd0f2 5.62%,#33b0fe 6.25%,#3673f8 7.08%,#3841ea 8.39%,#3839e8 8.75%,#3939e4 10.42%,#383fea 11.25%,#374dee 11.67%,#3668f6 12.13%,#34aeff 12.69%,#0ee7df 13.25%,#03e1ad 13.75%,#01e0a3 14.17%,#0ce6d4 14.58%,#24c8f5 15%,#358cfb 15.49%,#366bf7 15.83%,#374dee 16.61%,#3838e8 18.33%,#3a3adb 24.17%,#383ae9 31.25%,#3679f9 40%,#3590fc 41.25%,#34a4fe 41.67%,#2abef9 42.08%,#12e4e9 42.5%,#03e1ac 42.92%,#00cc50 43.33%,#18be0e 43.75%,#64d400 44.17%,#ace700 44.58%,#34c606 44.93%,#35c705 45%,#15bd0f 45.42%,#03c943 45.83%,#00e0a2 46.25%,#10e8e8 46.56%,#358efb 47.08%,#3664f5 47.37%,#3839e8 47.92%,#3b3bd4 48.75%,#3d3dcc 51.67%,#3b3bd5 67.92%,#3939e3 70.83%,#3747ec 71.33%,#3668f6 71.67%,#359cfd 71.92%,#28c1f7 72.08%,#00de97 72.52%,#05c73c 72.92%,#08c430 73.11%,#00cc51 73.33%,#00dd95 73.75%,#0ee7df 74.17%,#15e0eb 74.3%,#1fd0f2 74.58%,#15dfeb 75%,#21cdf3 75.42%,#29c0f8 75.48%,#3668f6 75.83%,#383fea 76.08%,#3939df 76.25%,#3c3cd1 76.67%,#3d3dcc 90.83%,#3b3bd5 100%)"></i><i style="inset:33px;background:conic-gradient(from 90deg,#3b3bd7 0%,#383ae8 2.08%,#3665f5 3.49%,#358cfb 4.17%,#34abff 4.58%,#1fcff2 5.35%,#1ed1f1 5.42%,#359dfd 6.25%,#3665f5 7.08%,#383ce9 8.33%,#3939e3 10%,#383be9 10.83%,#3748ec 11.25%,#3666f5 11.81%,#3580fa 12.08%,#34a9fe 12.38%,#0fe8e5 12.95%,#06e3bd 13.33%,#00de96 13.52%,#00e09e 13.75%,#09e4c8 14.17%,#1cd4f0 14.58%,#34a2fe 15%,#3673f8 15.42%,#375cf2 15.83%,#3846ec 16.67%,#3838e7 18.33%,#3a3adb 24.58%,#383be9 31.25%,#3673f8 39.17%,#358dfb 40.83%,#34a3fe 41.38%,#2fb5fc 41.67%,#14e1eb 42.2%,#08e4c4 42.5%,#00cf5e 43.01%,#0bc123 43.33%,#3fca02 43.75%,#90df00 44.17%,#bbeb00 44.58%,#baeb00 44.65%,#1dc00c 45%,#05c73d 45.47%,#00da87 45.83%,#0fe8e5 46.25%,#34a5fe 46.67%,#3762f4 47.1%,#3841eb 47.5%,#3a3adf 47.92%,#3c3ccf 49.17%,#3c3cd3 66.25%,#3939e3 70.46%,#383ce9 70.83%,#3759f1 71.25%,#34a1fe 71.67%,#09e5ca 72.08%,#00df9e 72.24%,#00ce57 72.5%,#06c636 72.83%,#00cc51 72.92%,#00d882 73.33%,#0be5d0 73.75%,#18dbed 74.01%,#20cff2 74.17%,#1fd0f1 75%,#2eb7fb 75.19%,#367ffa 75.42%,#383ce9 75.78%,#3c3cd3 76.25%,#3d3dcc 79.17%,#3c3cd2 98.75%,#3b3bd7 100%)"></i><i style="inset:34.5px;background:conic-gradient(from 90deg,#3a3ad9 0%,#383be9 1.67%,#366ff8 3.33%,#34a2fe 4.17%,#1fcff2 5%,#28c1f8 5.42%,#359cfd 5.99%,#366cf7 6.67%,#383fea 7.92%,#3939e4 8.8%,#3839e8 10.42%,#3754f0 11.25%,#366ff8 11.67%,#34a5fe 12.08%,#11e7e9 12.65%,#09e5cb 12.92%,#00df9b 13.22%,#00df9c 13.33%,#08e4c2 13.8%,#15e0eb 14.17%,#32b1fe 14.58%,#367ffa 15%,#375cf2 15.52%,#3842eb 16.67%,#3838e5 18.33%,#3a3adc 24.58%,#383ce9 31.25%,#3670f8 38.75%,#358afb 40.42%,#34a3fe 41.08%,#34aeff 41.25%,#15e0eb 41.91%,#0de6da 42.08%,#00dd93 42.5%,#04c83f 42.92%,#25c20a 43.33%,#46cc00 43.55%,#6ed600 43.75%,#a7e600 44.17%,#26c20a 44.37%,#20c10b 44.58%,#0ac228 45%,#03c944 45.19%,#00d46e 45.42%,#0ae5cd 45.83%,#16deec 46.02%,#2db9fb 46.25%,#3671f8 46.67%,#374aed 47.08%,#3939e3 47.5%,#3c3ccf 48.75%,#3c3cd2 65.42%,#3939e4 70.19%,#3838e8 70.42%,#374eee 70.83%,#3581fa 71.25%,#359cfd 71.37%,#17dced 71.67%,#01e0a3 71.96%,#00d87f 72.08%,#05c73b 72.5%,#00cf5d 72.55%,#00d678 72.92%,#07e4c0 73.33%,#1dd3f0 73.75%,#27c2f7 74.17%,#22cbf3 74.58%,#34aeff 74.9%,#3595fc 75%,#383ae8 75.49%,#3b3bd6 75.83%,#3c3ccd 76.67%,#3c3cd2 97.92%,#3a3ad9 100%)"></i><i style="inset:36px;background:conic-gradient(from 90deg,#3a3add 0%,#383de9 1.25%,#366ff8 2.92%,#30b5fc 4.17%,#21ccf3 4.74%,#33affe 5.42%,#3676f9 6.25%,#374fef 7.08%,#3839e8 7.92%,#3939e4 9.58%,#383fea 10.42%,#3761f4 11.19%,#349ffd 11.77%,#14e2ea 12.36%,#0ee7dd 12.5%,#06e3bd 12.92%,#00e0a0 12.94%,#04e2b4 13.33%,#0fe8e4 13.75%,#2abef9 14.17%,#3581fa 14.69%,#3668f6 15%,#374aed 15.85%,#3838e8 17.5%,#3a3adb 23.75%,#383be9 30.83%,#366ff8 38.33%,#3588fb 40%,#34a4fe 40.78%,#29c0f8 41.25%,#12e5e9 41.67%,#03e2ae 42.08%,#00cf5c 42.5%,#0fbd13 42.92%,#49cc00 43.33%,#90df00 43.75%,#1fc00c 44.09%,#0cc020 44.58%,#00ce59 45%,#05e2b6 45.42%,#19d9ee 45.74%,#3584fa 46.25%,#3754f0 46.67%,#3838e7 47.08%,#3c3cd1 48.22%,#3c3ccf 60.42%,#3a3adc 68.33%,#3838e6 70%,#374cee 70.5%,#366af6 70.83%,#359cfd 71.09%,#2abff8 71.25%,#02e1a9 71.68%,#00cc4f 72.08%,#03c944 72.26%,#00d573 72.5%,#04e2b3 72.92%,#19daee 73.33%,#21ccf3 73.44%,#2dbafa 73.75%,#29c0f8 74.17%,#359dfd 74.61%,#3754f0 75%,#3838e8 75.2%,#3a3ada 75.42%,#3c3ccd 76.25%,#3c3cd2 97.5%,#3a3add 100%)"></i><i style="inset:37.5px;background:conic-gradient(from 90deg,#3939e2 0%,#383fea 0.83%,#3670f8 2.5%,#31b2fd 3.75%,#24c8f5 4.38%,#31b3fd 5%,#3665f5 6.29%,#383ce9 7.5%,#3939e3 9.17%,#383ce9 10%,#375bf2 10.83%,#367df9 11.25%,#31b3fd 11.67%,#15dfeb 12.08%,#09e4c8 12.5%,#08e4c3 12.66%,#03e2ae 12.92%,#0ce6d7 13.33%,#28c1f8 13.84%,#359bfd 14.17%,#3670f8 14.58%,#374eee 15.42%,#3839e8 17.08%,#3a3adb 23.75%,#383ce9 30.83%,#3671f8 38.33%,#3586fb 39.65%,#34a5fe 40.48%,#2dbafa 40.83%,#16deec 41.31%,#08e4c4 41.67%,#00d36c 42.14%,#09c32c 42.5%,#3bc804 42.98%,#74d800 43.33%,#9ce300 43.75%,#9be200 43.81%,#0ebe19 44.17%,#00cd52 44.64%,#00e0a1 45%,#17ddec 45.42%,#3598fc 45.83%,#375af2 46.3%,#383eea 46.67%,#3c3cd1 47.92%,#3c3ccf 60%,#3a3adc 67.92%,#3838e7 69.64%,#3841eb 70%,#375ef3 70.42%,#34a3fe 70.83%,#0ce6d4 71.25%,#03e1ad 71.4%,#00d36b 71.67%,#01cb4a 71.98%,#00d574 72.08%,#03e2af 72.57%,#13e4ea 72.92%,#26c5f6 73.15%,#2fb5fc 73.33%,#31b3fd 73.75%,#34a7fe 74.17%,#3663f4 74.58%,#3838e7 74.91%,#3c3cd1 75.42%,#3d3dcc 82.92%,#3b3bd3 97.5%,#3939e2 100%)"></i><i style="inset:39px;background:conic-gradient(from 90deg,#3838e8 0%,#3672f8 2.08%,#32b1fe 3.33%,#26c5f6 3.98%,#31b3fd 4.58%,#3669f6 5.89%,#383fea 7.08%,#3939e4 7.92%,#3839e8 9.58%,#3753f0 10.42%,#366df7 10.83%,#359dfd 11.25%,#19daee 11.79%,#0ce6d8 12.08%,#02e1a9 12.39%,#02e1aa 12.5%,#0be5d1 12.99%,#1ad8ee 13.33%,#34abff 13.75%,#367bf9 14.18%,#3759f1 14.78%,#3842eb 15.83%,#3838e6 17.5%,#3a3adc 24.17%,#383be9 30.42%,#3674f8 38.33%,#358cfb 39.58%,#31b3fd 40.42%,#15e0eb 41.01%,#0be6d4 41.25%,#00dc92 41.67%,#03c944 42.08%,#1dc00c 42.5%,#55cf00 42.92%,#87dd00 43.33%,#10bc10 43.52%,#0ebe17 43.75%,#04c83f 44.17%,#00cf5b 44.35%,#00db8d 44.58%,#0ee7e0 45%,#34acff 45.42%,#366af6 45.83%,#3846ec 46.25%,#3939e1 46.67%,#3c3ccf 47.92%,#3b3bd3 64.17%,#3838e7 69.17%,#3840ea 69.58%,#3755f0 70%,#3587fb 70.42%,#349ffd 70.53%,#17dced 70.83%,#04e2b2 71.11%,#00dc90 71.25%,#00cc50 71.67%,#00df9b 72.08%,#0ee7e0 72.5%,#2fb6fc 72.92%,#349ffd 73.44%,#34a1fe 73.75%,#3586fa 74.03%,#366ef8 74.17%,#3939e4 74.61%,#3b3bd4 75%,#3d3dcc 77.08%,#3c3cd2 96.67%,#3939e3 99.58%,#3838e8 100%)"></i><i style="inset:40.5px;background:conic-gradient(from 90deg,#3844eb 0%,#3677f9 1.67%,#32b2fe 2.92%,#27c2f7 3.53%,#32b1fe 4.17%,#366ef7 5.44%,#3843eb 6.67%,#3838e6 7.35%,#3838e6 9.09%,#3842eb 9.69%,#3762f4 10.42%,#3592fc 10.91%,#2cbbfa 11.25%,#12e5e9 11.67%,#09e5ca 12.08%,#03e1ad 12.12%,#07e3bf 12.5%,#12e5e9 12.92%,#2db9fb 13.34%,#3677f9 13.95%,#3757f1 14.58%,#3840ea 15.83%,#3939e5 17.5%,#3a3adc 24.58%,#383ce9 30.42%,#3671f8 37.92%,#3588fb 39.17%,#34aeff 40%,#0fe7e3 40.83%,#01e1a6 41.25%,#00ce57 41.67%,#0ebe18 42.08%,#3ec903 42.5%,#74d800 42.92%,#85dc00 43.22%,#0ebe19 43.33%,#06c639 43.75%,#00d677 44.17%,#0ae5cc 44.58%,#21ccf3 44.9%,#2bbcf9 45%,#3678f9 45.42%,#374eee 45.83%,#3939e5 46.25%,#3c3cd0 47.5%,#3c3cd2 62.92%,#3939e1 67.92%,#383de9 69.07%,#3755f0 69.66%,#3675f9 70%,#34a1fe 70.24%,#27c2f7 70.42%,#05e2b4 70.83%,#00d062 71.25%,#00da89 71.41%,#00de96 71.67%,#0be6d3 72.08%,#2fb6fc 72.57%,#3595fc 72.92%,#358cfb 73.33%,#3671f8 73.73%,#3675f9 73.75%,#3840ea 74.17%,#3939e3 74.32%,#3b3bd6 74.58%,#3c3ccd 75.42%,#3c3cd2 95.83%,#3939e4 99.17%,#3844eb 100%)"></i><i style="inset:42px;background:conic-gradient(from 90deg,#3751ef 0%,#367bf9 1.25%,#31b3fd 2.5%,#28c2f7 2.92%,#2bbcf9 3.33%,#34a2fe 3.99%,#366ff8 5%,#383ce9 6.67%,#3939e3 8.33%,#383ce9 9.17%,#375af2 10.02%,#3675f9 10.42%,#34a7fe 10.83%,#1dd3f0 11.25%,#0de6d9 11.67%,#0ae5cf 11.87%,#05e3b7 12.08%,#0de7dc 12.5%,#30b5fc 13.1%,#3671f8 13.75%,#3750ef 14.58%,#383ae9 16.25%,#3a3adb 23.33%,#383be9 30%,#366ff8 37.5%,#3584fa 38.75%,#34a6fe 39.58%,#29c0f8 40%,#13e2ea 40.42%,#05e3b7 40.83%,#00d36d 41.25%,#0ac22a 41.67%,#2dc408 42.08%,#5dd200 42.5%,#7ad900 42.92%,#0cc01f 42.92%,#07c533 43.33%,#00d36b 43.76%,#06e3bb 44.17%,#23c9f4 44.61%,#358afb 45%,#3754f0 45.46%,#3839e8 45.83%,#3b3bd5 46.67%,#3d3dcd 49.58%,#3b3bd7 65%,#3838e8 68.33%,#374eee 69.17%,#366af6 69.58%,#34aeff 70%,#0be6d3 70.42%,#00d77c 70.83%,#00d164 71.11%,#00de99 71.25%,#09e5c9 71.69%,#23c9f4 72.08%,#33b0fe 72.27%,#3591fc 72.5%,#3678f9 72.92%,#366ef8 73.33%,#3748ed 73.75%,#3939e1 74.02%,#3c3cd0 74.58%,#3c3ccf 93.33%,#3a3ade 97.92%,#383de9 99.17%,#3751ef 100%)"></i><i style="inset:43.5px;background:conic-gradient(from 90deg,#3760f4 0%,#367efa 0.83%,#30b4fd 2.08%,#2cbbfa 2.52%,#2fb6fc 2.92%,#366ef8 4.58%,#383ce9 6.34%,#3939e3 7.92%,#3839e8 8.75%,#3759f1 9.74%,#3668f6 10%,#3591fc 10.42%,#1fd0f2 10.99%,#11e7e9 11.25%,#04e2b4 11.62%,#0ae5ce 12.08%,#0ee7de 12.24%,#1ad7ef 12.5%,#34aeff 12.92%,#3671f8 13.49%,#3754f0 14.17%,#383ce9 15.83%,#3a3adb 23.33%,#383be9 30%,#3672f8 37.5%,#358dfb 38.75%,#2db9fb 39.58%,#17ddec 40.05%,#08e4c6 40.42%,#00d574 40.91%,#05c73b 41.25%,#1dc00c 41.67%,#49cc00 42.08%,#70d700 42.5%,#0ac226 42.61%,#07c532 42.92%,#00d05f 43.33%,#02e1a9 43.75%,#18dbed 44.17%,#359afd 44.58%,#3761f4 45%,#3840ea 45.42%,#3b3bd6 46.25%,#3d3dcd 48.33%,#3b3bd6 64.17%,#383ae9 67.92%,#374cee 68.75%,#3664f4 69.17%,#34a5fe 69.65%,#14e1eb 70%,#00df9d 70.42%,#00e09f 70.83%,#07e3bf 71.25%,#0be6d2 71.39%,#1dd3f0 71.67%,#34a8fe 71.97%,#3594fc 72.08%,#366cf7 72.55%,#3759f1 73.13%,#374aed 73.33%,#3a3add 73.75%,#3c3cd1 74.17%,#3d3dcc 81.67%,#3b3bd4 95.42%,#3838e8 98.33%,#3760f4 100%)"></i><i style="inset:45px;background:conic-gradient(from 90deg,#3670f8 0%,#2fb6fc 1.67%,#2bbdf9 2.08%,#34a0fd 2.93%,#375ff3 4.58%,#3838e8 6.25%,#3939e4 7.92%,#383fea 8.75%,#375ef3 9.58%,#3588fb 10.1%,#34aeff 10.42%,#1bd6ef 10.83%,#0ce6d7 11.37%,#08e4c3 11.67%,#12e6e9 12.08%,#33b0fe 12.64%,#366ff8 13.27%,#374eee 14.17%,#3838e7 16.25%,#3a3adc 23.33%,#383be9 29.58%,#366ff8 37.08%,#3589fb 38.33%,#349ffd 38.86%,#31b2fd 39.17%,#19daed 39.71%,#0ce6d4 40%,#00d679 40.57%,#02ca4a 40.83%,#10bc12 41.25%,#3ac804 41.67%,#5fd200 42.08%,#09c32d 42.29%,#07c532 42.5%,#00cd55 42.92%,#00df9d 43.33%,#11e7e8 43.75%,#34aaff 44.17%,#366af6 44.58%,#3748ed 45%,#3939e2 45.42%,#3c3cd0 46.67%,#3c3cd3 61.67%,#3939e3 66.67%,#3842eb 67.92%,#374cee 68.33%,#3760f3 68.77%,#358afb 69.17%,#34a7fe 69.34%,#20cdf3 69.58%,#09e4c7 69.92%,#05e2b6 70%,#00d678 70.42%,#00d679 70.5%,#07e3bf 70.83%,#0de7dc 71.08%,#19daee 71.25%,#34a0fd 71.67%,#3668f6 72.08%,#3746ec 72.92%,#3a3ade 73.4%,#3c3cce 74.17%,#3c3cd0 93.33%,#3939e2 97.2%,#3840ea 98.16%,#3670f8 100%)"></i><i style="inset:46.5px;background:conic-gradient(from 90deg,#3587fb 0%,#2eb8fb 1.25%,#30b4fc 1.67%,#375cf2 4.17%,#3838e8 5.83%,#3939e3 7.5%,#3841ea 8.55%,#3757f1 9.19%,#366df7 9.58%,#3598fc 10%,#23c9f4 10.48%,#11e6e9 10.83%,#0de7db 11.13%,#06e3bd 11.25%,#0fe8e5 11.77%,#34a4fe 12.5%,#366ef7 13.06%,#3753f0 13.75%,#383ce9 15.42%,#3a3adc 22.92%,#383be9 29.58%,#366ef7 36.67%,#3585fa 37.92%,#34acff 38.75%,#1ad8ee 39.36%,#0fe7e2 39.58%,#01e1a6 40%,#00cf5b 40.42%,#0cc020 40.83%,#1ec00c 41.09%,#52cf00 41.67%,#5ed200 41.95%,#07c535 42.08%,#00cd53 42.5%,#00dd94 42.92%,#0de6da 43.33%,#2eb8fb 43.75%,#3676f9 44.17%,#374fef 44.58%,#3838e6 45%,#3b3bd4 45.83%,#3d3dcd 49.58%,#3b3bd8 63.75%,#383ce9 67.08%,#374cee 67.92%,#3663f4 68.46%,#367efa 68.75%,#34a9fe 69.04%,#2bbcf9 69.17%,#09e5ca 69.62%,#00dd92 70%,#00d984 70.19%,#07e3bf 70.42%,#11e6e9 70.77%,#34a9fe 71.25%,#3594fc 71.35%,#3668f6 71.67%,#374bed 72.08%,#383ce9 72.51%,#3c3ccf 73.75%,#3c3cd1 92.92%,#3939e3 96.67%,#383fea 97.5%,#3676f9 99.58%,#3587fb 100%)"></i><i style="inset:48px;background:conic-gradient(from 90deg,#359efd 0%,#30b5fc 0.87%,#33b0fe 1.25%,#3664f5 3.33%,#383eea 5%,#3939e4 5.83%,#3838e6 7.62%,#3842eb 8.33%,#3663f4 9.17%,#3584fa 9.58%,#32b1fe 10%,#1bd6ef 10.42%,#0ee7df 10.83%,#07e3bf 10.89%,#0ae5cf 11.25%,#11e7e8 11.55%,#34abff 12.2%,#366df7 12.86%,#374eee 13.75%,#3838e8 15.83%,#3a3adc 22.92%,#383ce9 29.58%,#3670f8 36.67%,#3590fc 37.92%,#34a5fe 38.33%,#1cd4f0 39.01%,#13e3ea 39.17%,#05e2b6 39.58%,#00d46f 40%,#08c42f 40.42%,#18be0e 40.75%,#44cb01 41.25%,#06c63a 41.62%,#06c638 41.67%,#00cc4f 42.08%,#00da8a 42.5%,#0be5d0 42.92%,#2abef9 43.35%,#3582fa 43.75%,#3751ef 44.22%,#3839e8 44.58%,#3b3bd5 45.42%,#3d3dcd 48.33%,#3b3bd7 62.92%,#3838e8 66.25%,#374eee 67.58%,#3666f5 68.15%,#3674f8 68.33%,#34aeff 68.75%,#10e8e7 69.17%,#01e1a5 69.58%,#08e4c4 69.88%,#08e4c5 70%,#12e4ea 70.42%,#32b1fe 70.83%,#366df7 71.25%,#3747ec 71.67%,#3939e2 72.19%,#3c3cce 73.75%,#3c3cd1 92.5%,#3838e5 96.25%,#374cee 97.5%,#367bf9 99.17%,#359efd 100%)"></i><i style="inset:49.5px;background:conic-gradient(from 90deg,#33b0fe 0%,#2fb6fc 0.42%,#366af6 2.5%,#383ce9 4.58%,#3939e2 6.67%,#3838e7 7.5%,#374aed 8.33%,#3672f8 9.17%,#359cfd 9.58%,#26c4f6 10%,#13e3ea 10.42%,#08e4c4 10.66%,#09e4c8 10.83%,#12e4ea 11.32%,#359dfd 12.08%,#366cf7 12.66%,#374bed 13.75%,#3838e7 15.83%,#3a3add 23.33%,#383ce9 29.17%,#366ef7 36.25%,#367efa 37.08%,#349ffd 37.92%,#2eb8fb 38.33%,#19d9ee 38.75%,#09e4c6 39.17%,#00d985 39.58%,#04c83f 40%,#14bd0f 40.42%,#38c804 40.83%,#4ccd00 41.25%,#04c83f 41.28%,#00cd52 41.67%,#00dc8f 42.15%,#09e4c7 42.5%,#22caf4 42.92%,#2cbbfa 43.02%,#358efb 43.33%,#3750ef 43.9%,#383fea 44.17%,#3b3bd7 45%,#3d3dcd 47.08%,#3b3bd6 62.08%,#3839e8 65.83%,#375af2 67.5%,#366ff8 67.92%,#34acff 68.41%,#1bd7ef 68.75%,#0be6d4 68.99%,#06e3ba 69.17%,#11e6e9 70%,#2eb8fb 70.42%,#3677f9 70.83%,#3749ed 71.29%,#3939e3 71.67%,#3b3bd4 72.5%,#3d3dcc 75.42%,#3c3cd2 92.5%,#3838e8 95.83%,#3671f8 98.33%,#33b0fe 100%)"></i><i style="inset:51px;background:conic-gradient(from 90deg,#34aeff 0%,#3670f8 1.67%,#3840ea 3.75%,#3838e6 4.58%,#3939e3 6.67%,#383fea 7.71%,#3755f0 8.39%,#3667f5 8.75%,#3589fb 9.17%,#31b3fd 9.58%,#1cd4f0 10%,#10e8e7 10.43%,#0de6d9 10.83%,#14e1eb 11.11%,#34a5fe 11.79%,#3587fb 12.08%,#3669f6 12.5%,#374fef 13.33%,#3838e8 15.42%,#3a3add 22.92%,#383ae9 28.75%,#366cf7 35.83%,#367af9 36.67%,#3598fd 37.5%,#31b2fd 37.92%,#1fd1f1 38.33%,#0be6d3 38.75%,#00dd95 39.17%,#01cb4d 39.58%,#0fbd14 40.05%,#2fc507 40.42%,#45cb01 40.83%,#02ca46 40.93%,#00cc50 41.25%,#00de97 41.81%,#08e4c2 42.08%,#1fd0f2 42.5%,#2eb7fb 42.69%,#3662f4 43.33%,#3843eb 43.75%,#3939e1 44.17%,#3c3cd0 45.42%,#3b3bd3 60%,#3939e2 64.58%,#3841ea 65.83%,#375af2 67.08%,#366ef7 67.52%,#3596fc 67.92%,#34aeff 68.1%,#23caf4 68.33%,#0de6d9 68.67%,#00e0a2 69.17%,#01e0a3 69.24%,#11e6e9 69.58%,#2bbcf9 70%,#367ffa 70.42%,#3747ec 70.97%,#3838e5 71.25%,#3c3cd3 72.12%,#3d3dcc 78.33%,#3c3cd3 92.08%,#3838e6 95%,#3761f4 97.08%,#359afd 98.79%,#31b4fd 99.58%,#34aeff 100%)"></i><i style="inset:52.5px;background:conic-gradient(from 90deg,#359bfd 0%,#366bf7 1.25%,#383de9 3.33%,#3939e0 5.83%,#3838e8 7.08%,#3755f0 8.12%,#367df9 8.82%,#349ffd 9.17%,#26c4f6 9.58%,#15dfeb 10%,#12e5e9 10.2%,#0be5d1 10.42%,#16dfec 10.9%,#359bfd 11.67%,#3676f9 12.08%,#3754f0 12.92%,#383de9 14.58%,#3a3adf 19.17%,#3939e3 26.67%,#383eea 29.17%,#366ff8 35.83%,#3582fa 36.67%,#3593fc 37.08%,#34acff 37.5%,#23caf4 37.92%,#0ee7df 38.33%,#00df9c 38.81%,#00d05e 39.17%,#0dbf1b 39.7%,#23c20a 40%,#3dc903 40.42%,#02ca49 40.59%,#00cc50 40.83%,#00d77d 41.25%,#06e3bb 41.67%,#1bd6ef 42.08%,#32b2fd 42.36%,#3668f6 42.92%,#3748ed 43.33%,#3939e4 43.75%,#3c3cd0 45.03%,#3c3cd3 59.17%,#3939e3 64.17%,#3842eb 65.42%,#375bf2 66.67%,#3673f8 67.2%,#33b0fe 67.77%,#0ee7de 68.35%,#04e2b2 68.75%,#03e1ad 68.92%,#12e5e9 69.17%,#29c0f8 69.58%,#367df9 70.07%,#3845ec 70.64%,#3838e8 70.83%,#3c3cd3 71.79%,#3d3dcc 78.33%,#3b3bd3 91.67%,#3839e8 94.58%,#3677f9 97.24%,#34acff 98.75%,#32b1fe 99.17%,#34aaff 99.58%,#359bfd 100%)"></i><i style="inset:54px;background:conic-gradient(from 90deg,#3583fa 0%,#3757f1 1.41%,#3839e8 2.92%,#3939df 5.42%,#383de9 7.08%,#3756f1 7.92%,#367bf9 8.57%,#2cbbfa 9.28%,#1ed1f1 9.58%,#14e2ea 9.98%,#0ae5cd 10%,#0fe7e2 10.42%,#1ed1f1 10.83%,#33affe 11.25%,#3588fb 11.67%,#366af6 12.1%,#3750ef 12.92%,#3838e8 15%,#3a3ade 22.92%,#383ce9 28.75%,#366df7 35.42%,#367efa 36.25%,#34a5fe 37.08%,#25c6f6 37.56%,#12e6e9 37.92%,#01e0a3 38.46%,#00d470 38.75%,#0cc020 39.35%,#17be0e 39.58%,#33c606 40%,#00cc50 40.25%,#00cd52 40.42%,#00d77b 40.83%,#05e2b6 41.25%,#18dbed 41.67%,#34a5fe 42.08%,#366cf7 42.5%,#3749ed 42.94%,#3838e5 43.33%,#3c3cd1 44.58%,#3c3cd1 57.08%,#3939e1 63.33%,#383ce9 64.58%,#375ef3 66.3%,#3677f9 66.87%,#2eb8fb 67.5%,#13e3ea 67.92%,#07e4c0 68.33%,#12e5e9 68.59%,#14e1eb 68.75%,#28c1f7 69.17%,#3678f9 69.73%,#3844eb 70.31%,#383ce9 70.42%,#3c3cd3 71.45%,#3d3dcc 77.92%,#3c3cd2 90.83%,#3838e6 93.77%,#366df7 96.25%,#33affe 98.33%,#34afff 98.75%,#3583fa 100%)"></i><i style="inset:55.5px;background:conic-gradient(from 90deg,#366cf7 0%,#383ce9 2.08%,#3a3ade 5%,#383eea 6.88%,#3761f4 7.92%,#367af9 8.33%,#2eb8fb 9.04%,#18daed 9.58%,#16dfec 9.76%,#0ce6d8 10%,#19daee 10.48%,#359bfd 11.25%,#3678f9 11.67%,#3663f4 12.08%,#3846ec 13.37%,#3838e6 15.42%,#3a3adf 23.75%,#383be9 28.75%,#3671f8 35.42%,#358afb 36.28%,#2cbbfa 37.08%,#17dded 37.5%,#02e1a9 38.09%,#04c842 38.75%,#0fbd14 39.17%,#2bc408 39.58%,#00cd53 39.92%,#00cc52 40%,#00d676 40.42%,#03e2b0 40.83%,#14e2ea 41.25%,#34adff 41.67%,#3671f8 42.08%,#3845ec 42.65%,#3838e7 42.92%,#3c3cd1 44.17%,#3c3ccf 55%,#3a3ade 62.5%,#3838e8 63.75%,#3663f4 65.96%,#366cf7 66.25%,#3588fb 66.67%,#30b4fd 67.11%,#0fe7e3 67.68%,#09e5cb 67.92%,#17ddec 68.25%,#15e1eb 68.33%,#2bbdf9 68.82%,#3674f8 69.39%,#3840ea 70%,#3a3adc 70.53%,#3c3cce 72.08%,#3c3cd1 90%,#3838e6 93.14%,#375ff3 95.06%,#34aaff 97.5%,#34adff 97.92%,#34a8fe 98.33%,#366cf7 100%)"></i><i style="inset:57px;background:conic-gradient(from 90deg,#375df2 0%,#3839e8 1.67%,#3a3add 4.17%,#3838e7 6.25%,#3753f0 7.34%,#3677f9 8.07%,#2fb6fc 8.81%,#21ccf3 9.17%,#0ce6d4 9.58%,#10e8e8 10%,#33afff 10.83%,#358afb 11.25%,#3669f6 11.76%,#374aed 12.92%,#3838e7 15%,#3a3ade 22.92%,#383de9 28.75%,#366ef7 35%,#3586fb 35.89%,#2abef9 36.81%,#1cd4f0 37.08%,#0be5d0 37.5%,#00dd93 37.92%,#00cc4e 38.33%,#0cc020 38.75%,#22c10b 39.17%,#00ce58 39.58%,#00d574 40%,#04e2b4 40.5%,#10e8e8 40.83%,#31b3fd 41.25%,#3677f9 41.67%,#3840ea 42.35%,#3839e8 42.5%,#3c3cd2 43.75%,#3c3cce 52.5%,#3a3adc 61.67%,#3838e8 63.33%,#3665f5 65.62%,#3587fb 66.25%,#30b5fc 66.76%,#10e8e6 67.33%,#0ce6d6 67.5%,#07e4c1 67.9%,#18dbed 67.92%,#2db9fb 68.47%,#3671f8 69.04%,#3842eb 69.61%,#3a3adc 70.18%,#3c3ccf 71.67%,#3c3cd0 89.17%,#3939e1 92.08%,#383de9 92.92%,#367cf9 95.42%,#33afff 97.08%,#34a0fd 97.92%,#3667f6 99.58%,#375df2 100%)"></i><i style="inset:58.5px;background:conic-gradient(from 90deg,#374eee 0%,#3838e6 1.36%,#3a3adc 4.17%,#383de9 6.32%,#3664f4 7.5%,#367df9 7.92%,#31b3fd 8.58%,#1cd5f0 9.17%,#1ad8ee 9.33%,#0ee7e1 9.58%,#1cd4f0 10.09%,#359cfd 10.84%,#367cf9 11.25%,#3666f5 11.67%,#3748ed 12.92%,#3838e7 15%,#3939df 23.33%,#383ce9 28.33%,#366cf7 34.58%,#3584fa 35.49%,#34afff 36.25%,#22cbf3 36.67%,#0de7dc 37.08%,#01e0a3 37.5%,#00d05f 37.92%,#09c32c 38.33%,#17be0e 38.75%,#2bc408 39.24%,#00d46f 39.58%,#06e3b9 40.18%,#0de7dc 40.42%,#2bbcf9 40.83%,#367efa 41.25%,#3755f0 41.67%,#383be9 42.08%,#3c3cd2 43.33%,#3c3cce 50.83%,#3a3adb 60.83%,#3839e8 62.92%,#3669f6 65.26%,#3586fa 65.83%,#2fb6fc 66.41%,#11e6e9 66.98%,#09e4c6 67.5%,#1cd4f0 67.54%,#27c4f6 67.92%,#359afd 68.33%,#3668f6 68.75%,#3841eb 69.25%,#3939e2 69.58%,#3c3cd1 70.83%,#3c3cce 87.08%,#3a3ada 90.83%,#3838e8 92.08%,#3676f9 94.66%,#34a8fe 96.25%,#34aeff 96.67%,#3757f1 99.58%,#374eee 100%)"></i><i style="inset:60px;background:conic-gradient(from 90deg,#3841eb 0%,#3939e5 0.83%,#3a3adb 3.75%,#383ce9 6.04%,#375cf2 7.08%,#3674f8 7.58%,#33b0fe 8.35%,#1cd5f0 9.12%,#0de7dc 9.17%,#13e3ea 9.58%,#33affe 10.42%,#3670f8 11.25%,#374cee 12.5%,#3838e8 14.58%,#3939e0 22.92%,#383ae9 27.92%,#366af6 34.17%,#3580fa 35.1%,#34a7fe 35.83%,#27c4f6 36.25%,#10e8e7 36.67%,#04e2b0 37.08%,#00d470 37.5%,#07c535 37.96%,#10bc12 38.33%,#25c20a 38.75%,#26c20a 38.91%,#00d36d 39.17%,#00df9b 39.58%,#0be6d3 40%,#26c5f6 40.42%,#358bfb 40.83%,#375cf2 41.25%,#3839e8 41.77%,#3c3cd3 42.92%,#3c3cce 49.58%,#3a3adb 60.42%,#383ae9 62.5%,#3670f8 65%,#3587fb 65.45%,#30b5fc 66.03%,#11e6e9 66.67%,#0ae5cd 67.08%,#21cdf3 67.19%,#27c3f7 67.5%,#34aeff 67.77%,#3669f6 68.35%,#383fea 68.92%,#3939e4 69.17%,#3c3cd1 70.42%,#3d3dcd 84.17%,#3b3bd5 89.58%,#383be9 91.67%,#367cf9 94.17%,#34adff 95.83%,#358dfb 97.08%,#375cf2 98.75%,#3841eb 100%)"></i><i style="inset:61.5px;background:conic-gradient(from 90deg,#3838e7 0%,#3a3ad9 2.92%,#3838e6 5.42%,#3748ec 6.25%,#3673f8 7.34%,#34aeff 8.13%,#20cef2 8.75%,#1ed1f1 8.91%,#10e8e8 9.17%,#2bbdf9 10%,#359afd 10.49%,#3669f6 11.25%,#374aed 12.5%,#3838e8 14.58%,#3939e0 22.92%,#383ce9 27.92%,#3668f6 33.75%,#367cf9 34.7%,#34a0fd 35.42%,#2bbdf9 35.83%,#15dfeb 36.25%,#07e3be 36.67%,#00d982 37.08%,#03c945 37.5%,#0dbf1c 37.92%,#1bbf0d 38.33%,#00d268 38.58%,#00d36d 38.75%,#00dd93 39.17%,#09e5c9 39.58%,#20cff2 40%,#3589fb 40.51%,#3663f4 40.83%,#3838e8 41.48%,#3b3bd3 42.5%,#3c3ccd 47.92%,#3b3bd9 59.58%,#383ae9 62.08%,#3672f8 64.58%,#34a0fd 65.42%,#29c0f8 65.83%,#16dfec 66.25%,#0ce6d6 66.67%,#23c9f4 66.84%,#28c1f8 67.08%,#359cfd 67.5%,#3663f4 68.01%,#383ce9 68.6%,#3b3bd3 69.78%,#3d3dcc 76.25%,#3c3cd2 88.33%,#3838e5 90.83%,#3752f0 92.08%,#34a6fe 95%,#34acff 95.42%,#366af6 97.5%,#383de9 99.58%,#3838e7 100%)"></i><i style="inset:63px;background:conic-gradient(from 90deg,#3939e1 0%,#3b3bd9 2.92%,#383be9 5.49%,#375ef3 6.67%,#3671f8 7.1%,#34abff 7.92%,#20cef2 8.71%,#0fe8e4 8.75%,#16deec 9.17%,#32b1fe 10%,#3675f9 10.83%,#3752ef 11.93%,#383ce9 13.75%,#3939e0 20.83%,#383be9 27.5%,#3666f5 33.33%,#3679f9 34.31%,#359afd 35%,#2fb6fc 35.42%,#1bd7ef 35.83%,#09e4c8 36.27%,#00dd92 36.67%,#00cc52 37.08%,#0ac229 37.5%,#15bd0f 37.92%,#00d36d 38.24%,#00d36c 38.33%,#00dc8e 38.75%,#09e5c9 39.22%,#1ad7ef 39.58%,#34a3fe 40%,#366bf7 40.42%,#374aed 40.83%,#3939e5 41.25%,#3c3cd1 42.5%,#3c3cd2 55.83%,#3939e1 60.83%,#383ae9 61.67%,#3674f8 64.17%,#34a0fd 65%,#2cbcfa 65.42%,#18dbed 65.89%,#0ee7e0 66.25%,#27c4f6 66.49%,#29bff8 66.67%,#359efd 67.09%,#375ef3 67.69%,#3838e7 68.33%,#3c3cd3 69.58%,#3d3dcc 78.75%,#3b3bd4 88.33%,#3838e7 90.42%,#3675f9 92.71%,#34a4fe 94.17%,#34aeff 94.58%,#3664f4 97.08%,#3839e8 99.17%,#3939e1 100%)"></i><i style="inset:64.5px;background:conic-gradient(from 90deg,#3a3add 0%,#3a3ada 3.33%,#3839e8 5.21%,#3668f6 6.67%,#30b5fc 7.92%,#22cbf4 8.5%,#13e3ea 8.75%,#2bbdf9 9.58%,#3598fc 10.15%,#3668f6 10.98%,#374dee 12.08%,#3838e8 14.58%,#3939e2 23.33%,#383ce9 27.5%,#3664f5 32.92%,#3675f9 33.91%,#3593fc 34.58%,#33afff 35%,#20cef2 35.42%,#0de6da 35.83%,#00e0a2 36.25%,#00d162 36.67%,#07c534 37.08%,#0fbd14 37.5%,#00d471 37.92%,#00db8b 38.33%,#0ae5ce 38.91%,#15e0eb 39.17%,#34aeff 39.58%,#3674f8 40%,#3751ef 40.42%,#3838e8 40.83%,#3c3cd2 42.08%,#3c3cd0 52.92%,#3a3ade 60%,#383ae8 61.25%,#3676f9 63.75%,#349ffd 64.58%,#2db9fb 65%,#10e7e8 65.83%,#0ee7e0 66.15%,#2abff8 66.25%,#3595fc 66.76%,#366ff8 67.08%,#3838e8 67.92%,#3b3bd3 69.19%,#3d3dcc 77.08%,#3c3cd2 87.5%,#3839e8 90.07%,#3675f9 92.11%,#34abff 93.75%,#34aeff 94.17%,#358dfb 95.16%,#3668f6 96.25%,#383ce9 98.33%,#3a3add 100%)"></i><i style="inset:66px;background:conic-gradient(from 90deg,#3a3ad9 0%,#3a3ada 3.33%,#383ae9 5%,#3760f4 6.25%,#3672f8 6.67%,#34a7fe 7.5%,#2cbbfa 7.92%,#12e5e9 8.33%,#24c7f5 9.17%,#32b2fe 9.58%,#367bf9 10.42%,#375cf2 11.25%,#3841eb 12.92%,#3838e6 15.42%,#3939e4 25%,#3840ea 27.92%,#3667f6 32.92%,#367af9 33.75%,#34a8fe 34.58%,#10e8e6 35.42%,#04e2b0 35.83%,#02ca4a 36.56%,#0dbf1e 37.08%,#14bd0f 37.5%,#00d677 37.58%,#00da87 37.92%,#0ce6d4 38.59%,#10e8e8 38.75%,#2eb8fb 39.17%,#367bf9 39.61%,#3757f1 40%,#383de9 40.42%,#3c3cd2 41.67%,#3c3cce 49.58%,#3a3adc 59.17%,#3839e8 60.83%,#366af6 62.92%,#3593fc 63.95%,#2fb7fc 64.58%,#13e3ea 65.42%,#2bbcf9 65.83%,#34a1fe 66.25%,#3674f8 66.67%,#3753f0 67.08%,#383be9 67.5%,#3c3cd3 68.9%,#3d3dcc 77.5%,#3c3cd2 87.08%,#383ae8 89.58%,#3678f9 91.67%,#34a7fe 92.92%,#33b0fe 93.75%,#3663f4 95.83%,#3838e8 97.92%,#3a3ad9 100%)"></i><i style="inset:67.5px;background:conic-gradient(from 90deg,#3b3bd7 0%,#3a3adb 3.33%,#3838e7 4.64%,#3759f1 5.83%,#367ffa 6.67%,#32b1fe 7.5%,#26c5f6 8.1%,#16deec 8.33%,#2bbdf9 9.17%,#3596fc 9.83%,#3673f8 10.42%,#3750ef 11.67%,#383be9 13.75%,#3939e3 23.75%,#383de9 27.08%,#3665f5 32.5%,#3676f9 33.33%,#34a1fd 34.17%,#2abff8 34.58%,#15e0eb 35%,#0de7dd 35.17%,#00d986 35.83%,#01cb4b 36.25%,#0ac229 36.67%,#0fbd12 37.08%,#10bc11 37.25%,#00da87 37.5%,#03e1ac 37.92%,#0ee7de 38.33%,#28c1f8 38.75%,#3676f9 39.32%,#3842eb 40%,#3939e1 40.42%,#3c3cd0 41.67%,#3b3bd3 55.42%,#3939e0 59.58%,#3838e8 60.42%,#366af6 62.5%,#349ffd 63.75%,#2fb6fc 64.2%,#16deec 65%,#10e8e6 65.42%,#2eb8fb 65.46%,#34a5fe 65.83%,#3679f9 66.25%,#3753f0 66.72%,#383eea 67.08%,#3939e0 67.5%,#3c3cd0 69.17%,#3c3ccf 85%,#3a3adb 87.92%,#383be9 89.17%,#367cf9 91.25%,#34acff 92.5%,#31b3fd 93.06%,#3591fc 94.11%,#3761f4 95.42%,#3838e7 97.26%,#3b3bd7 100%)"></i><i style="inset:69px;background:conic-gradient(from 90deg,#3b3bd6 0%,#3a3ade 3.47%,#383be9 4.58%,#366cf7 6.12%,#2eb7fb 7.5%,#27c3f7 7.9%,#15e0eb 7.92%,#26c5f6 8.78%,#31b3fd 9.17%,#366df7 10.42%,#374eee 11.67%,#3839e8 14.17%,#3939e4 24.17%,#383eea 27.08%,#3664f4 32.08%,#3672f8 32.92%,#359afd 33.76%,#2eb8fb 34.17%,#0fe7e3 34.81%,#00dd96 35.42%,#00ce56 35.87%,#07c533 36.25%,#0dbf1b 36.67%,#0fbd16 36.92%,#00d984 37.08%,#01e1a7 37.5%,#0ee7de 37.98%,#23caf4 38.33%,#3596fc 38.75%,#3671f8 39.03%,#3748ed 39.58%,#3939e2 40.09%,#3c3cd1 41.25%,#3c3cd2 53.33%,#3939e0 59.17%,#3838e8 60%,#366af6 62.08%,#359efd 63.33%,#2fb6fc 63.82%,#19daee 64.58%,#11e7e9 65.11%,#34a7fe 65.42%,#375bf2 66.25%,#3842eb 66.67%,#3939e2 67.08%,#3c3cd1 68.75%,#3c3cce 83.75%,#3a3adb 87.5%,#383de9 88.75%,#366ef7 90.42%,#33afff 92.08%,#30b4fd 92.54%,#33afff 92.92%,#3668f6 94.68%,#383fea 96.25%,#3939e3 97.08%,#3b3bd6 100%)"></i><i style="inset:70.5px;background:conic-gradient(from 90deg,#3b3bd5 0%,#3a3ade 3.33%,#3838e7 4.17%,#375af2 5.42%,#367efa 6.25%,#34adff 7.08%,#28c1f8 7.7%,#19d9ee 7.92%,#34a9fe 9.17%,#3679f9 10%,#375df2 10.83%,#3842eb 12.5%,#3838e6 15.42%,#3838e7 25%,#3753f0 30%,#366ff8 32.5%,#3596fc 33.37%,#32b1fe 33.75%,#10e8e8 34.45%,#01e1a5 35%,#00cf5d 35.52%,#04c83e 35.83%,#0bc124 36.25%,#0dbf1b 36.6%,#00d985 36.67%,#01e0a2 37.08%,#0fe8e4 37.68%,#34a3fe 38.33%,#366df7 38.75%,#374fee 39.17%,#3838e7 39.58%,#3c3cd1 40.91%,#3c3cd2 52.92%,#3939e0 58.75%,#3838e7 59.58%,#3762f4 61.43%,#3595fc 62.77%,#2fb5fc 63.44%,#14e2ea 64.58%,#31b3fd 64.78%,#34acff 65%,#375ff3 65.83%,#3845ec 66.25%,#3939e2 66.79%,#3c3cd2 68.33%,#3d3dcd 81.67%,#3b3bd7 86.6%,#3838e5 87.92%,#374aed 88.78%,#3670f8 90%,#34a4fe 91.25%,#32b1fe 91.67%,#2fb5fc 92.08%,#359dfd 92.92%,#375cf2 94.58%,#383ce9 95.83%,#3b3bd6 98.75%,#3b3bd5 100%)"></i><i style="inset:72px;background:conic-gradient(from 90deg,#3b3bd4 0%,#3939e0 3.33%,#383ce9 4.17%,#3672f8 5.83%,#31b3fd 7.08%,#2abff8 7.5%,#19d9ee 7.51%,#2abff8 8.44%,#3591fc 9.37%,#3668f6 10.31%,#374bed 11.67%,#3838e8 14.58%,#3838e7 24.58%,#374eee 29.17%,#3669f6 31.89%,#367bf9 32.5%,#34aaff 33.33%,#0fe8e5 34.17%,#00d77c 35%,#02ca4a 35.42%,#09c32d 35.83%,#0cc01f 36.28%,#00e09e 36.67%,#10e8e8 37.38%,#33afff 37.92%,#366bf6 38.47%,#383ce9 39.17%,#3c3cd3 40.42%,#3c3ccf 47.92%,#3a3add 57.92%,#383ce9 59.58%,#3676f9 61.68%,#30b4fc 63.07%,#17deec 64.17%,#14e1eb 64.46%,#32b2fe 64.58%,#3666f5 65.42%,#3749ed 65.85%,#3838e7 66.25%,#3b3bd5 67.5%,#3d3dcc 73.33%,#3c3cd3 85.42%,#3838e6 87.5%,#374aed 88.33%,#3672f8 89.58%,#34a7fe 90.83%,#2fb6fc 91.67%,#3677f9 93.33%,#3844eb 95%,#3939e4 95.83%,#3b3bd4 98.75%,#3b3bd4 100%)"></i><i style="inset:73.5px;background:conic-gradient(from 90deg,#3b3bd4 0%,#3939e3 3.33%,#3838e8 3.75%,#366af6 5.42%,#34a8fe 6.67%,#2eb8fb 7.08%,#1cd5f0 7.31%,#2db9fb 8.33%,#358efb 9.23%,#3665f5 10.19%,#3749ed 11.67%,#3838e8 14.58%,#3838e7 24.17%,#3750ef 29.17%,#366bf7 31.67%,#358ffb 32.6%,#34a3fe 32.92%,#14e2ea 33.75%,#07e3bf 34.17%,#00ce58 35%,#06c636 35.42%,#0bc124 35.96%,#00df9e 36.25%,#07e3be 36.67%,#13e4ea 37.08%,#2db9fb 37.5%,#3668f6 38.2%,#3843eb 38.75%,#3a3ade 39.32%,#3c3ccf 40.83%,#3b3bd7 55.42%,#383be9 59.17%,#3673f8 61.25%,#30b4fd 62.72%,#1ad8ee 63.75%,#32b2fe 64.17%,#3597fc 64.58%,#366df7 65%,#383be9 65.83%,#3b3bd3 67.5%,#3d3dcc 75.83%,#3c3cd3 85%,#3838e6 87.08%,#3758f1 88.33%,#3597fc 89.96%,#31b3fd 90.83%,#30b5fc 91.25%,#375af2 93.75%,#3839e8 95%,#3b3bd5 97.5%,#3b3bd4 100%)"></i><i style="inset:75px;background:conic-gradient(from 90deg,#3b3bd4 0%,#3939e1 2.92%,#383eea 3.75%,#3674f8 5.42%,#33b0fe 6.67%,#2cbcfa 7.08%,#1dd2f1 7.12%,#33b0fe 8.33%,#3673f8 9.58%,#374eee 11.06%,#383be9 13.33%,#3838e7 23.75%,#374fef 28.75%,#3669f6 31.25%,#3585fa 32.08%,#359dfd 32.5%,#2cbbfa 32.92%,#18dbed 33.34%,#0ae5cc 33.75%,#00de99 34.17%,#00d266 34.58%,#04c842 35%,#09c32c 35.42%,#0ac229 35.63%,#00df9a 35.83%,#06e3ba 36.25%,#0fe8e4 36.67%,#27c2f7 37.08%,#3592fc 37.5%,#3666f5 37.92%,#3749ed 38.33%,#3838e5 38.75%,#3c3cd2 40%,#3c3cd2 51.67%,#3939e1 57.92%,#383ae8 58.75%,#366ff8 60.83%,#2fb7fc 62.5%,#18dced 63.75%,#32b1fe 63.9%,#34a2fe 64.17%,#3673f8 64.64%,#3842eb 65.42%,#3939e4 65.83%,#3c3cd1 67.63%,#3c3ccd 81.25%,#3b3bd8 85.42%,#3838e6 86.67%,#3758f1 87.92%,#3589fb 89.17%,#30b5fc 90.42%,#30b4fd 90.83%,#3663f4 92.95%,#3838e8 94.58%,#3b3bd5 97.08%,#3b3bd4 100%)"></i><i style="inset:76.5px;background:conic-gradient(from 90deg,#3b3bd4 0%,#3939e4 2.92%,#383ae9 3.33%,#366cf7 5%,#34a9fe 6.25%,#2eb7fb 6.67%,#1ed2f1 6.93%,#2fb6fc 7.94%,#366cf7 9.58%,#3749ed 11.25%,#3838e8 14.17%,#383be9 24.58%,#3758f1 29.58%,#3671f8 31.25%,#3598fd 32.08%,#2fb6fc 32.5%,#1bd7ef 32.97%,#0ce6d7 33.33%,#01e1a6 33.75%,#00d574 34.17%,#01cb4b 34.58%,#07c533 35%,#00de9a 35.31%,#00de9a 35.42%,#05e2b5 35.83%,#0de7dd 36.25%,#16deec 36.47%,#349ffd 37.08%,#366ef7 37.5%,#383ae8 38.33%,#3c3cd3 39.58%,#3c3ccf 47.08%,#3a3add 56.67%,#3838e8 58.33%,#366bf7 60.42%,#31b3fd 62.1%,#1ad7ef 63.33%,#19daee 63.65%,#33afff 63.75%,#3665f5 64.58%,#3838e8 65.42%,#3c3cd3 67.08%,#3d3dcc 76.25%,#3b3bd3 84.3%,#3838e6 86.25%,#374bed 87.08%,#3676f9 88.33%,#34aaff 89.58%,#2fb6fc 90.2%,#34a6fe 90.83%,#3761f4 92.56%,#3838e7 94.17%,#3b3bd4 96.67%,#3b3bd4 100%)"></i><i style="inset:78px;background:conic-gradient(from 90deg,#3b3bd4 0%,#3939e3 2.56%,#3838e7 2.92%,#3666f5 4.58%,#32b1fe 6.25%,#2bbdf9 6.67%,#1ed1f1 6.74%,#33b0fe 7.92%,#3674f8 9.17%,#3753f0 10.42%,#383ce9 12.5%,#3838e8 22.92%,#3753f0 28.75%,#366ef8 30.83%,#3595fc 31.67%,#32b1fe 32.08%,#0ee7e1 32.92%,#00d880 33.78%,#00ce57 34.17%,#05c73d 34.58%,#07c532 34.97%,#00df9e 35%,#04e2b2 35.42%,#0ce6d5 35.83%,#18dbed 36.17%,#34aaff 36.67%,#367af9 37.08%,#3758f1 37.5%,#3840ea 37.92%,#3a3add 38.56%,#3c3ccf 40.42%,#3b3bd8 55%,#3838e8 57.92%,#375cf2 59.58%,#3677f9 60.42%,#31b2fd 61.8%,#1dd2f1 62.92%,#1ad8ef 63.33%,#34afff 63.42%,#359afd 63.75%,#366df7 64.22%,#383fea 65.03%,#3a3adc 65.84%,#3c3cce 68.33%,#3c3cd1 83.33%,#3838e5 85.83%,#374aed 86.67%,#3675f9 87.92%,#34abff 89.17%,#2fb6fc 89.78%,#34a6fe 90.42%,#3662f4 92.08%,#3838e6 93.75%,#3b3bd4 96.25%,#3b3bd4 100%)"></i><i style="inset:79.5px;background:conic-gradient(from 90deg,#3b3bd5 0%,#383ce9 2.92%,#366ef7 4.58%,#34aaff 5.83%,#2bbdf9 6.54%,#1fcff2 6.67%,#34a8fe 7.92%,#366ef7 9.17%,#3748ed 10.86%,#3838e8 13.33%,#383be9 23.75%,#3759f2 29.17%,#366cf7 30.42%,#3581fa 30.96%,#34acff 31.67%,#11e6e9 32.5%,#00da88 33.41%,#00d165 33.75%,#02ca47 34.17%,#06c63a 34.63%,#04e2b2 35%,#0be5d0 35.42%,#1ad8ee 35.86%,#30b4fd 36.25%,#3585fa 36.67%,#3760f3 37.08%,#3746ec 37.5%,#3939e5 37.92%,#3c3cd2 39.17%,#3c3cd1 49.58%,#3a3adf 56.25%,#3838e8 57.5%,#375af2 59.17%,#3584fa 60.42%,#2fb6fc 61.67%,#1cd4f0 62.92%,#34aeff 63.2%,#34abff 63.33%,#3663f4 64.17%,#3839e8 65%,#3b3bd3 66.67%,#3d3dcc 74.58%,#3c3cd2 83.33%,#3839e8 85.69%,#3673f8 87.5%,#34aaff 88.75%,#2eb8fb 89.38%,#3595fc 90.42%,#3662f4 91.67%,#383be9 93.08%,#3b3bd4 95.83%,#3b3bd5 100%)"></i><i style="inset:81px;background:conic-gradient(from 90deg,#3b3bd6 0%,#3839e8 2.5%,#3668f6 4.17%,#32b2fe 5.83%,#2bbdf9 6.25%,#1fcff2 6.36%,#32b2fe 7.5%,#3669f6 9.17%,#3746ec 10.83%,#3838e7 13.33%,#383ce9 23.33%,#3758f1 28.75%,#366bf7 30%,#358dfb 30.83%,#34a7fe 31.25%,#15dfeb 32.08%,#09e4c8 32.5%,#00dc91 33.04%,#00cc51 33.75%,#04c841 34.17%,#03e1ac 34.29%,#05e2b6 34.58%,#0be6d2 35%,#16deec 35.42%,#2cbbfa 35.83%,#3668f6 36.67%,#3838e8 37.5%,#3b3bd3 38.75%,#3c3ccf 45%,#3a3add 55.42%,#3838e8 57.08%,#3663f4 59.17%,#32b1fe 61.25%,#1fcff2 62.5%,#1dd3f0 62.92%,#34adff 62.98%,#3597fc 63.33%,#366af6 63.86%,#383dea 64.73%,#3a3adc 65.6%,#3c3cce 68.33%,#3c3cd2 82.71%,#3838e8 85.23%,#3671f8 87.08%,#34a8fe 88.33%,#2eb8fb 89.02%,#3597fc 90%,#3663f4 91.25%,#3838e8 92.8%,#3b3bd3 95.42%,#3b3bd6 100%)"></i><i style="inset:82.5px;background:conic-gradient(from 90deg,#3b3bd7 0%,#3838e7 2.08%,#3663f4 3.75%,#34abff 5.42%,#2eb8fb 5.83%,#20cef2 6.16%,#32b2fe 7.31%,#3671f8 8.75%,#374aed 10.42%,#3838e8 12.5%,#383ce9 22.92%,#3758f1 28.33%,#3669f6 29.58%,#3589fb 30.42%,#34a2fe 30.83%,#25c6f6 31.37%,#19d9ee 31.67%,#0be5d1 32.08%,#00d880 32.92%,#00cf5e 33.33%,#02ca49 33.75%,#02ca48 33.94%,#05e3b9 34.17%,#0be5d1 34.58%,#16dfec 35%,#2abff8 35.42%,#3597fc 35.83%,#366df7 36.25%,#383eea 37.08%,#3a3ada 37.92%,#3c3cce 40%,#3a3ada 54.17%,#3838e7 56.67%,#3762f4 58.75%,#33b0fe 60.95%,#22cbf4 62.08%,#1fd0f2 62.5%,#34acff 62.77%,#34a8fe 62.92%,#3665f5 63.75%,#383de9 64.59%,#3c3cd2 66.67%,#3d3dcd 77.08%,#3b3bd4 82.92%,#383be9 85%,#366ef8 86.67%,#34a6fe 87.92%,#2eb8fb 88.67%,#359bfd 89.58%,#3665f5 90.83%,#383fea 92.08%,#3939e1 92.92%,#3c3cd2 95.83%,#3b3bd7 100%)"></i><i style="inset:84px;background:conic-gradient(from 90deg,#3b3bd8 0%,#383ce9 2.08%,#366af6 3.75%,#31b2fd 5.42%,#2abef9 5.83%,#20cef2 5.98%,#33b0fe 7.16%,#366cf7 8.75%,#3748ec 10.42%,#3838e8 12.5%,#383de9 22.5%,#3757f1 27.92%,#3673f8 29.58%,#359dfd 30.42%,#29c0f8 30.95%,#1cd5f0 31.25%,#0de6da 31.67%,#00db8d 32.5%,#00d36a 32.92%,#00cd52 33.33%,#07e3bd 33.59%,#06e3bc 33.75%,#15e1eb 34.58%,#359efd 35.42%,#3675f9 35.83%,#3843eb 36.67%,#3939e4 37.08%,#3c3cd3 38.33%,#3c3cd1 46.67%,#3a3adf 55%,#3838e7 56.25%,#3761f4 58.33%,#30b4fd 60.83%,#21ccf3 62.08%,#20cef2 62.5%,#34abff 62.56%,#3596fc 62.92%,#3668f6 63.51%,#3838e8 64.58%,#3b3bd4 66.35%,#3d3dcc 74.58%,#3b3bd4 82.5%,#383ae9 84.58%,#366cf7 86.25%,#32b1fe 87.92%,#2eb8fb 88.35%,#349ffd 89.17%,#375af2 90.83%,#3838e7 92.08%,#3b3bd3 94.58%,#3b3bd8 100%)"></i><i style="inset:85.5px;background:conic-gradient(from 90deg,#3a3ad9 0%,#3839e8 1.67%,#3673f8 3.75%,#34acff 5%,#29c0f8 5.79%,#21cdf3 5.83%,#34acff 7.08%,#3667f6 8.75%,#3845ec 10.42%,#3838e7 12.5%,#383de9 22.08%,#3756f1 27.5%,#3668f6 28.75%,#3584fa 29.58%,#2cbbfa 30.52%,#0fe7e3 31.25%,#00de99 32.08%,#00d677 32.5%,#00d05e 32.92%,#08e4c2 33.24%,#0ce6d4 33.75%,#14e1eb 34.17%,#34a4fe 35%,#367cf9 35.42%,#3748ed 36.25%,#3838e7 36.67%,#3b3bd4 37.92%,#3c3ccf 43.33%,#3a3add 54.17%,#3838e8 55.83%,#3760f3 57.92%,#3596fc 59.58%,#2cbafa 60.83%,#22ccf3 62.08%,#21ccf3 62.34%,#34a5fe 62.5%,#3667f5 63.33%,#383ce9 64.32%,#3b3bd3 66.3%,#3d3dcc 75%,#3b3bd4 82.08%,#3839e8 84.17%,#366af6 85.83%,#33afff 87.5%,#2eb8fb 88.04%,#34a5fe 88.75%,#375ef3 90.42%,#3839e8 91.67%,#3b3bd3 94.17%,#3b3bd8 99.65%,#3a3ad9 100%)"></i><i style="inset:87px;background:conic-gradient(from 90deg,#3a3adb 0%,#3838e7 1.25%,#375ff3 2.92%,#31b2fd 5%,#2abdf9 5.42%,#22ccf3 5.62%,#34aeff 6.89%,#3670f8 8.33%,#3749ed 10%,#3838e7 12.08%,#383de9 21.67%,#3758f1 27.3%,#3670f8 28.75%,#3597fc 29.58%,#2fb6fc 30.1%,#12e5e9 30.83%,#01e1a5 31.67%,#00d36b 32.5%,#0ae5cc 32.89%,#0ce6d7 33.33%,#15dfeb 33.75%,#34a8fe 34.58%,#3663f4 35.42%,#383be9 36.25%,#3c3cd2 37.92%,#3c3cd3 48.33%,#3939e2 54.58%,#3838e8 55.42%,#375ff3 57.5%,#3593fc 59.17%,#2eb8fb 60.42%,#23c9f4 61.67%,#23caf4 62.08%,#34a9fe 62.11%,#3594fc 62.5%,#3667f5 63.14%,#383be9 64.17%,#3b3bd3 66.25%,#3d3dcc 75.42%,#3b3bd5 81.67%,#3839e8 83.75%,#3678f9 85.83%,#34acff 87.08%,#2dbafa 87.73%,#3599fd 88.75%,#3663f4 90%,#383dea 91.25%,#3a3adb 92.5%,#3c3cd1 95.83%,#3a3adb 100%)"></i><i style="inset:88.5px;background:conic-gradient(from 90deg,#3a3ade 0%,#383ce9 1.25%,#3676f9 3.33%,#34acff 4.58%,#28c1f8 5.42%,#22cbf4 5.45%,#34acff 6.77%,#366cf7 8.33%,#3747ec 10%,#3838e8 11.67%,#383ce9 20.83%,#3757f1 26.79%,#366ff8 28.33%,#3594fc 29.17%,#32b2fd 29.67%,#16dfec 30.42%,#06e3bd 31.11%,#00dc91 31.67%,#00d677 32.08%,#00d36b 32.5%,#0be5d0 32.55%,#0de7dc 32.92%,#15dfeb 33.33%,#34adff 34.17%,#3668f6 35%,#383fea 35.83%,#3a3adc 36.67%,#3c3ccf 38.75%,#3a3adb 52.5%,#3838e8 55%,#366af6 57.54%,#30b5fc 60%,#25c7f5 61.25%,#23c9f4 61.86%,#34a2fe 62.08%,#3666f5 62.94%,#3838e8 64.17%,#3c3cd3 66.25%,#3d3dcd 76.25%,#3b3bd7 81.69%,#3838e8 83.33%,#3675f9 85.42%,#34a9fe 86.67%,#2dbafa 87.5%,#349ffd 88.33%,#375bf2 90%,#3838e8 91.25%,#3b3bd3 93.75%,#3b3bd7 98.86%,#3a3ade 100%)"></i><i style="inset:90px;background:conic-gradient(from 90deg,#3939e0 0%,#3839e8 0.83%,#366ff8 2.92%,#32b2fd 4.58%,#22caf4 5.29%,#34abff 6.67%,#3669f6 8.33%,#3846ec 10%,#3838e7 11.67%,#383de9 20.83%,#3756f1 26.26%,#366ef8 27.92%,#3592fc 28.75%,#34aeff 29.23%,#19daee 30%,#0de6d9 30.42%,#00df9d 31.25%,#00d574 32.08%,#0de6d9 32.21%,#15dfeb 32.92%,#33b0fe 33.75%,#366cf7 34.58%,#3844eb 35.42%,#3838e6 35.83%,#3c3cd2 37.5%,#3b3bd5 48.75%,#3838e5 54.17%,#3846ec 55.42%,#3673f8 57.5%,#31b3fd 59.58%,#24c7f5 61.25%,#34a8fe 61.61%,#375ef3 62.92%,#383be9 63.86%,#3c3cd3 66.25%,#3d3dcd 76.67%,#3b3bd8 81.29%,#3839e8 82.92%,#3672f8 85%,#31b2fd 86.67%,#2cbbfa 87.14%,#34a6fe 87.92%,#3761f4 89.58%,#383de9 90.83%,#3b3bd8 92.5%,#3c3cd2 96.67%,#3939e0 100%)"></i><i style="inset:91.5px;background:conic-gradient(from 90deg,#3939e3 0%,#3838e8 0.42%,#366af6 2.5%,#34acff 4.17%,#25c7f5 5.42%,#34a6fe 6.67%,#3667f5 8.33%,#3840ea 10.42%,#3838e6 12.08%,#383de9 20.42%,#3755f0 25.83%,#366ff8 27.5%,#3590fc 28.33%,#34aaff 28.79%,#1bd6ef 29.58%,#0ee7e0 30%,#00dc90 31.25%,#00d77e 31.67%,#0ee7de 31.86%,#16dfec 32.5%,#34adff 33.4%,#3672f8 34.17%,#3839e8 35.42%,#3b3bd3 37.08%,#3c3cd2 45%,#3939e1 52.92%,#383ae9 54.17%,#3669f6 56.68%,#32b1fe 59.17%,#26c5f6 60.83%,#25c6f6 61.25%,#34a7fe 61.36%,#359bfd 61.67%,#3665f5 62.53%,#383ae8 63.75%,#3c3cd2 66.25%,#3c3ccd 76.67%,#3a3adb 81.25%,#3839e8 82.5%,#3670f8 84.58%,#33b0fe 86.25%,#2cbbfa 86.85%,#359cfd 87.92%,#375bf2 89.58%,#3839e8 90.83%,#3b3bd4 93.33%,#3b3bd8 98.33%,#3939e3 100%)"></i><i style="inset:93px;background:conic-gradient(from 90deg,#3838e7 0%,#375af2 1.67%,#3583fa 2.92%,#32b2fd 4.17%,#23c9f4 5%,#34abff 6.4%,#3670f8 7.92%,#3844ec 10%,#3838e7 11.67%,#383de9 20%,#3756f0 25.42%,#366ef7 27.08%,#3590fc 27.92%,#2cbbfa 28.75%,#10e8e6 29.58%,#00de99 30.83%,#00da87 31.25%,#00d984 31.51%,#0fe7e2 31.67%,#16deec 32.08%,#34a9fe 33.11%,#3678f9 33.75%,#383dea 35%,#3b3bd4 36.67%,#3c3cd0 42.92%,#3939df 52.08%,#383be9 53.75%,#3668f6 56.25%,#33afff 58.75%,#27c3f7 60.42%,#26c4f6 60.83%,#34a6fe 61.11%,#34a4fe 61.25%,#3664f5 62.33%,#383ae9 63.54%,#3c3cd2 66.25%,#3c3ccd 76.67%,#3a3adc 80.83%,#3839e8 82.08%,#366ff8 84.17%,#34afff 85.83%,#2cbbfa 86.67%,#358bfb 88.08%,#3761f4 89.17%,#3838e6 90.83%,#3b3bd4 93.33%,#3b3bd8 97.92%,#3838e7 100%)"></i><i style="inset:94.5px;background:conic-gradient(from 90deg,#383de9 0%,#366ef7 2.08%,#34adff 3.75%,#24c7f5 5%,#34aaff 6.28%,#366ef7 7.92%,#3844eb 10%,#3838e7 11.67%,#383ce9 19.58%,#3756f0 25%,#366ef7 26.67%,#358efb 27.5%,#2dbafa 28.33%,#12e5e9 29.17%,#01e0a2 30.42%,#00dc90 30.83%,#10e8e8 31.16%,#21ccf3 32.08%,#359dfd 32.92%,#3666f5 33.75%,#3843eb 34.58%,#3838e6 35%,#3b3bd3 36.67%,#3b3bd3 45.42%,#3939e2 52.08%,#383ce9 53.33%,#3672f8 56.25%,#34adff 58.33%,#28c1f7 60%,#27c3f7 60.83%,#34a5fe 60.86%,#3594fc 61.25%,#3663f4 62.13%,#3839e8 63.41%,#3c3cd3 65.95%,#3c3cce 76.25%,#3a3adc 80.42%,#383ae9 81.67%,#366ef7 83.75%,#34adff 85.42%,#2bbcf9 86.25%,#34a8fe 87.08%,#3668f6 88.75%,#383be9 90.42%,#3b3bd4 93.33%,#3a3ada 97.92%,#383de9 100%)"></i><i style="inset:96px;background:conic-gradient(from 90deg,#3844eb 0%,#3678f9 2.08%,#31b3fd 3.75%,#24c8f5 4.64%,#34aaff 6.16%,#366cf7 7.92%,#3845ec 10%,#3838e7 11.67%,#383ce9 19.17%,#3755f0 24.58%,#366df7 26.25%,#34a1fe 27.5%,#22cbf3 28.33%,#15e0eb 28.75%,#0ce6d7 29.17%,#02e1ab 30%,#00de9a 30.42%,#11e6e9 30.83%,#21cdf3 31.67%,#349ffd 32.54%,#366bf7 33.33%,#383ae9 34.58%,#3c3cd2 36.67%,#3b3bd6 46.67%,#3838e5 52.08%,#3843eb 53.33%,#3672f8 55.83%,#34acff 57.95%,#28c1f7 60%,#28c1f7 60.61%,#349ffd 60.83%,#366df7 61.67%,#3842eb 62.92%,#3838e8 63.33%,#3c3cd2 65.94%,#3c3cce 76.25%,#3939e1 80.42%,#383be9 81.25%,#366ef7 83.33%,#30b5fc 85.42%,#2bbcf9 85.96%,#34a0fd 87.08%,#3662f4 88.75%,#3838e8 90.42%,#3b3bd5 92.92%,#3a3ada 97.5%,#383ce9 99.58%,#3844eb 100%)"></i><i style="inset:97.5px;background:conic-gradient(from 90deg,#374cee 0%,#3674f8 1.67%,#33afff 3.33%,#25c7f5 4.58%,#34a3fe 6.25%,#366bf7 7.92%,#3840ea 10.42%,#3838e5 12.5%,#383dea 19.17%,#3755f0 24.17%,#366df7 25.83%,#3595fc 26.89%,#31b3fd 27.5%,#0fe7e3 28.69%,#04e2b4 29.58%,#01e0a3 30%,#00df9b 30.42%,#15e0eb 30.48%,#21cdf3 31.25%,#359afd 32.27%,#3670f8 32.92%,#383fea 34.17%,#3a3ade 35%,#3c3cd0 37.64%,#3a3adc 49.17%,#383ae9 52.08%,#366af6 55%,#32b1fe 57.92%,#29c0f8 60%,#34a4fe 60.42%,#3761f4 61.78%,#3838e8 63.18%,#3c3cd2 65.97%,#3c3ccf 76.25%,#3939e1 80%,#383ce9 80.83%,#366df7 82.92%,#31b3fd 85%,#2bbdf9 85.67%,#34a6fe 86.67%,#375ef3 88.75%,#3838e7 90.42%,#3b3bd5 93.33%,#3a3add 97.5%,#383ce9 99.17%,#374cee 100%)"></i><i style="inset:99px;background:conic-gradient(from 90deg,#3754f0 0%,#3581fa 1.67%,#30b5fc 3.33%,#24c7f5 4.29%,#34aaff 5.91%,#366af6 7.92%,#3841eb 10.42%,#3838e6 12.5%,#383eea 19.17%,#3755f0 23.75%,#366cf7 25.42%,#359cfd 26.67%,#32b1fe 27.08%,#10e8e7 28.33%,#03e1ac 29.58%,#01e0a3 30.15%,#18daed 30.42%,#34a9fe 31.67%,#3676f9 32.5%,#3840ea 33.9%,#3838e8 34.17%,#3c3cd3 36.25%,#3b3bd6 46.25%,#3838e8 51.25%,#366bf6 54.58%,#33b0fe 57.5%,#2abff8 59.58%,#2abef9 60.16%,#359bfd 60.42%,#366df7 61.25%,#383be9 62.92%,#3c3cd2 66.04%,#3c3ccf 75.83%,#3838e6 80%,#3762f4 82.08%,#32b1fe 84.58%,#2abef9 85.42%,#349ffd 86.67%,#3665f5 88.33%,#383de9 90%,#3a3adc 91.67%,#3b3bd7 95.42%,#3838e7 98.33%,#3754f0 100%)"></i><i style="inset:100.5px;background:conic-gradient(from 90deg,#375ef3 0%,#367ffa 1.25%,#31b3fd 2.92%,#24c8f5 4.17%,#34aaff 5.83%,#366bf6 7.92%,#3843eb 10.42%,#3838e7 12.51%,#383eea 18.75%,#3754f0 23.33%,#366cf7 25%,#3599fd 26.25%,#34adff 26.67%,#14e2eb 27.92%,#09e4c7 28.75%,#03e1ab 29.58%,#1ad8ee 29.85%,#21cdf3 30.42%,#34aeff 31.25%,#3669f6 32.5%,#383de9 33.77%,#3b3bd7 35.42%,#3c3cd1 40.42%,#3a3add 48.33%,#383be9 50.83%,#366cf7 54.17%,#33afff 57.08%,#2abef9 59.17%,#2bbdf9 59.95%,#34a2fe 60%,#375ff3 61.5%,#3838e7 63.05%,#3c3cd1 66.25%,#3c3cd0 75.83%,#383ce9 79.87%,#366cf7 82.08%,#33b0fe 84.17%,#2abff8 85.11%,#34a6fe 86.25%,#3762f4 88.33%,#3838e7 90.36%,#3b3bd7 93.33%,#3939e4 97.37%,#383fea 98.33%,#375ef3 100%)"></i><i style="inset:102px;background:conic-gradient(from 90deg,#3667f6 0%,#32b1fe 2.5%,#23c9f4 3.9%,#34adff 5.65%,#366bf7 7.92%,#3845ec 10.42%,#3838e7 12.92%,#383fea 18.75%,#3758f1 23.33%,#3677f9 25%,#34aaff 26.25%,#17ddec 27.51%,#0fe7e2 27.92%,#05e2b5 29.17%,#1bd6ef 29.58%,#28c1f8 30.42%,#359efd 31.25%,#366ff8 32.08%,#3839e8 33.75%,#3b3bd4 35.83%,#3b3bd5 44.58%,#3939e4 49.17%,#3843eb 50.83%,#3678f9 54.17%,#34aeff 56.67%,#2abdf9 58.75%,#2bbdf9 59.75%,#359cfd 60%,#3671f8 60.83%,#3841eb 62.5%,#3838e7 63.02%,#3c3cd2 66.3%,#3c3cd0 75%,#3a3ade 77.92%,#383dea 79.44%,#366cf7 81.67%,#34aeff 83.75%,#29c0f8 84.86%,#34aeff 85.83%,#3760f3 88.33%,#3838e7 90.42%,#3b3bd9 93.33%,#383be9 97.5%,#3667f6 100%)"></i><i style="inset:103.5px;background:conic-gradient(from 90deg,#3672f8 0%,#33b0fe 2.08%,#23caf4 3.75%,#34a7fe 5.83%,#366cf7 7.92%,#3844eb 10.83%,#3838e8 14.17%,#3749ed 20.83%,#375ef3 23.33%,#3676f9 24.58%,#34a7fe 25.83%,#10e8e8 27.5%,#06e3ba 28.75%,#04e2b2 29.32%,#1ed2f1 29.58%,#34a7fe 30.83%,#3669f6 32.08%,#3838e7 33.75%,#3b3bd3 36.25%,#3b3bd9 46.25%,#3839e8 49.58%,#367bf9 53.75%,#34aeff 56.25%,#2bbdf9 58.75%,#2bbdf9 59.17%,#34a3fe 59.58%,#375ff3 61.25%,#3838e7 63.02%,#3c3cd2 66.5%,#3c3cd1 75%,#3939e2 77.92%,#3842eb 79.17%,#3679f9 81.67%,#2fb5fc 83.75%,#28c1f8 84.62%,#34aaff 85.83%,#3669f6 87.92%,#3838e8 90.42%,#3a3adb 93.33%,#383ae8 96.67%,#3669f6 99.58%,#3672f8 100%)"></i><i style="inset:105px;background:conic-gradient(from 90deg,#3581fa 0%,#2eb7fb 2.08%,#22ccf3 3.44%,#33b0fe 5.42%,#366df7 7.92%,#3844eb 11.1%,#383ae8 14.58%,#374bed 20.83%,#3664f5 23.33%,#3584fa 24.58%,#2fb6fc 25.83%,#13e3ea 27.08%,#05e3b7 28.75%,#1cd5f0 29.09%,#29c0f8 30%,#34a0fd 30.83%,#3666f5 32.08%,#3838e7 33.75%,#3b3bd4 36.25%,#3a3ad9 45.83%,#3838e8 49.17%,#366df7 52.5%,#34aeff 55.83%,#2bbdf9 58.33%,#2bbcf9 59.36%,#359efd 59.58%,#3669f6 60.83%,#3838e8 62.92%,#3c3cd2 66.67%,#3c3cd2 74.66%,#3a3add 77.08%,#3838e8 77.92%,#366df7 80.83%,#30b4fd 83.33%,#27c2f7 84.4%,#34a8fe 85.83%,#3669f6 87.92%,#383be9 90.42%,#3a3ade 93.75%,#383be9 96.25%,#3676f9 99.61%,#3581fa 100%)"></i><i style="inset:106.5px;background:conic-gradient(from 90deg,#3590fc 0%,#2eb8fb 1.67%,#21cdf3 3.33%,#34aeff 5.42%,#366ff8 7.92%,#3747ec 11.25%,#383be9 15%,#374dee 20.83%,#3663f4 22.92%,#3674f8 23.75%,#31b3fd 25.42%,#16dfec 26.67%,#0fe7e3 27.08%,#06e3bc 28.33%,#05e2b6 28.88%,#1ed2f1 29.17%,#34aeff 30.42%,#3665f5 32.08%,#3839e8 33.75%,#3b3bd5 36.25%,#3b3bd8 45%,#3838e8 48.75%,#3669f6 52.08%,#34a2fe 54.58%,#2db9fb 56.67%,#2bbcfa 59.17%,#34a3fe 59.17%,#3585fa 60%,#375ef3 61.14%,#3839e8 62.92%,#3c3cd3 66.67%,#3c3cd2 74.17%,#3939e0 77.08%,#3841eb 78.1%,#367af9 80.83%,#31b2fd 82.92%,#26c5f6 84.2%,#34a7fe 85.83%,#3663f4 88.33%,#383be9 90.83%,#3939e3 94.36%,#383de9 95.83%,#366ef7 98.75%,#3590fc 100%)"></i><i style="inset:108px;background:conic-gradient(from 90deg,#359bfd 0%,#29c0f8 1.67%,#20cff2 2.92%,#30b4fd 5.04%,#3672f8 7.92%,#3748ec 11.67%,#383dea 15%,#374dee 20.42%,#3669f6 22.92%,#358ffc 24.23%,#33afff 25%,#11e7e9 26.67%,#07e4c1 27.92%,#06e3ba 28.33%,#1cd5ef 28.68%,#2eb8fb 30%,#3586fa 31.25%,#375af2 32.5%,#383ce9 33.75%,#3b3bd5 36.67%,#3a3adc 45.83%,#383ce9 48.75%,#366ef7 52.08%,#34a8fe 54.74%,#2bbcf9 57.08%,#2bbcfa 58.75%,#34a4fe 58.99%,#3592fc 59.58%,#3670f8 60.42%,#383ae9 62.92%,#3c3cd2 67.08%,#3b3bd3 74.17%,#3939e4 77.08%,#366df7 80%,#32b2fe 82.5%,#25c6f6 84%,#34a7fe 85.83%,#3666f5 88.33%,#383ce9 91.25%,#3838e8 94.58%,#375ef3 97.5%,#3584fa 99.17%,#359bfd 100%)"></i><i style="inset:109.5px;background:conic-gradient(from 90deg,#34a6fe 0%,#23c9f4 2.08%,#21cdf3 2.92%,#34abff 5.42%,#3673f8 7.92%,#3749ed 11.67%,#3840ea 15.42%,#3750ef 20.42%,#3667f5 22.5%,#3588fb 23.75%,#34a9fe 24.58%,#14e1eb 26.26%,#0be6d3 27.08%,#06e3b9 28.33%,#06e3b9 28.48%,#1dd4f0 28.75%,#34a7fe 30.42%,#3665f5 32.08%,#383ce9 33.75%,#3b3bd6 36.67%,#3a3adc 45.42%,#383ce9 48.33%,#366df7 51.67%,#34acff 55%,#2bbcf9 57.5%,#2cbbfa 58.75%,#34a5fe 58.82%,#358dfb 59.58%,#3663f4 60.83%,#383ae9 62.92%,#3c3cd3 67.08%,#3b3bd4 73.75%,#3838e8 77.08%,#3842eb 77.24%,#3674f8 80%,#30b5fc 82.5%,#26c5f6 83.81%,#34afff 85.42%,#375ff3 88.75%,#3840ea 91.25%,#383ae9 93.33%,#3750ef 96.02%,#367bf9 98.33%,#34a6fe 100%)"></i><i style="inset:111px;background:conic-gradient(from 90deg,#33afff 0%,#22ccf3 2.23%,#2db9fb 4.17%,#3593fc 6.25%,#3670f8 7.92%,#374bed 11.67%,#3843eb 15.83%,#3754f0 20.42%,#366ff8 22.5%,#2fb6fc 24.58%,#10e8e6 26.25%,#08e4c3 27.5%,#06e3bc 27.92%,#1bd7ef 28.29%,#2abef9 29.58%,#3592fc 30.83%,#3665f5 32.08%,#383de9 33.75%,#3a3adf 35%,#3b3bd5 38.75%,#3939e3 46.67%,#383be9 47.92%,#366ff8 51.67%,#34aaff 54.58%,#2cbbfa 57.08%,#2cbcfa 58.33%,#34a6fe 58.66%,#358afb 59.58%,#3761f4 60.89%,#3839e8 63.11%,#3b3bd3 67.55%,#3b3bd6 73.75%,#383ce9 76.96%,#374fee 77.5%,#3674f8 79.58%,#31b2fd 82.08%,#26c4f6 83.75%,#34a2fe 85.84%,#3668f6 88.33%,#3846ec 91.25%,#3842eb 93.34%,#3759f1 95.83%,#367efa 97.92%,#33afff 100%)"></i><i style="inset:112.5px;background:conic-gradient(from 90deg,#2fb6fc 0%,#22cbf3 2.08%,#34a8fe 5%,#366ef7 7.92%,#374dee 11.67%,#3845ec 15.83%,#3757f1 20.42%,#3678f9 22.5%,#31b3fd 24.17%,#11e6e9 25.86%,#07e4c0 27.5%,#06e3bb 27.92%,#1ad8ef 28.09%,#2cbcfa 29.58%,#34a1fe 30.42%,#3670f8 31.67%,#383fea 33.75%,#3939e5 34.58%,#3b3bd7 37.92%,#3939e0 45.42%,#383ae9 47.41%,#3667f6 50.83%,#34abff 54.58%,#2cbbfa 57.08%,#2cbbfa 58.33%,#34a7fe 58.52%,#3588fb 59.58%,#3663f4 60.83%,#3838e8 63.33%,#3b3bd4 67.92%,#3b3bd9 73.75%,#3839e8 76.25%,#3845ec 77.08%,#3757f1 77.5%,#3675f9 79.17%,#31b3fd 81.67%,#24c7f5 83.43%,#34a8fe 85.65%,#366cf7 88.33%,#3750ef 90.83%,#374bed 92.94%,#3760f3 95.42%,#3580fa 97.39%,#33b0fe 99.61%,#2fb6fc 100%)"></i><i style="inset:114px;background:conic-gradient(from 90deg,#2abef9 0%,#22cbf4 1.67%,#34a9fe 4.58%,#366bf7 7.92%,#366cf7 8.33%,#374dee 12.08%,#374aed 16.67%,#375bf2 20%,#3670f8 21.67%,#31b2fd 23.75%,#10e8e7 25.65%,#08e4c3 27.08%,#06e3bd 27.5%,#19d9ee 27.87%,#26c4f6 29.17%,#34a0fd 30.42%,#3664f5 32.08%,#383ce9 34.17%,#3b3bd9 37.92%,#3939e3 45.42%,#383fea 47.29%,#367bf9 51.73%,#34a7fe 54.17%,#2cbafa 56.67%,#2cbcfa 58.33%,#34a8fe 58.4%,#3595fc 59.17%,#3664f5 60.83%,#383ce9 63.33%,#3b3bd5 68.33%,#3a3add 73.75%,#383be9 75.83%,#374dee 77.08%,#3762f4 77.5%,#367af9 78.79%,#30b4fd 81.25%,#22caf4 83.23%,#33afff 85.45%,#366cf7 88.75%,#3756f1 91.25%,#375bf2 93.75%,#3679f9 96.25%,#32b2fd 99.17%,#2abef9 100%)"></i><i style="inset:115.5px;background:conic-gradient(from 90deg,#27c4f6 0%,#24c8f5 1.67%,#34a5fe 4.58%,#366cf7 7.92%,#366af6 8.75%,#374fef 12.5%,#374fef 17.08%,#3663f4 20%,#3673f8 21.25%,#31b3fd 23.33%,#14e1eb 25%,#0ce6d8 25.83%,#07e3be 27.08%,#06e3bb 27.5%,#18dbed 27.65%,#27c3f7 29.17%,#34a0fd 30.42%,#3671f8 31.67%,#3839e8 34.58%,#3a3adb 38.76%,#3838e7 45.42%,#3751ef 48.33%,#3671f8 50.83%,#34a5fe 53.84%,#2db9fb 56.25%,#2cbbfa 57.92%,#34a9fe 58.33%,#3667f5 60.83%,#383be9 63.75%,#3b3bd8 69.17%,#3939e2 73.75%,#383be9 75%,#3757f1 77.08%,#366cf7 77.5%,#2fb6fc 80.83%,#20cff2 83.02%,#30b4fd 85.42%,#3670f8 89.17%,#3762f4 91.67%,#366df7 94.17%,#3593fc 96.67%,#2cbbfa 99.17%,#27c4f6 100%)"></i><i style="inset:117px;background:conic-gradient(from 90deg,#24c8f5 0%,#26c5f6 1.67%,#34a4fe 4.58%,#366cf7 7.92%,#3670f8 8.33%,#3758f1 11.67%,#3752f0 16.29%,#3668f6 19.58%,#3591fc 21.67%,#2eb8fb 22.96%,#14e2ea 24.58%,#0ce6d8 25.42%,#06e3bb 27.08%,#17ddec 27.41%,#21ccf3 28.75%,#34a2fe 30.42%,#366bf7 32.08%,#383be9 35%,#3a3ade 39.58%,#383de9 45.42%,#366df7 50%,#34a1fe 53.33%,#30b5fc 55.42%,#2cbbfa 57.92%,#34aaff 58.18%,#358bfb 59.58%,#3664f5 61.25%,#3839e8 64.58%,#3a3adc 69.58%,#383ce9 74.17%,#3761f4 77.08%,#367efa 77.5%,#30b4fd 80%,#1dd3f0 82.5%,#23caf4 84.17%,#34a6fe 86.67%,#3678f9 90%,#3675f9 91.69%,#367af9 92.92%,#358efb 95%,#30b5fc 97.92%,#24c8f5 100%)"></i><i style="inset:118.5px;background:conic-gradient(from 90deg,#21cdf3 0%,#33b0fe 3.75%,#3671f8 7.92%,#3679f9 8.33%,#3762f4 11.03%,#3759f1 15.42%,#3667f5 18.33%,#366ef7 19.17%,#3590fc 20.83%,#31b3fd 22.08%,#12e5e9 24.17%,#07e3be 26.25%,#05e3b7 27.08%,#15e1eb 27.15%,#21cdf3 28.75%,#34a7fe 30.42%,#3669f6 32.5%,#3843eb 35%,#3838e7 36.67%,#3838e5 42.08%,#3844eb 45%,#366bf7 49.18%,#34a1fd 52.92%,#2fb6fc 55.42%,#2bbcf9 58.07%,#34aaff 58.33%,#366af6 61.25%,#383fea 65%,#3838e5 67.08%,#3838e8 71.67%,#3754f0 75%,#366ff8 77.08%,#3593fc 77.5%,#30b5fc 79.17%,#19daee 82.08%,#1cd5f0 83.75%,#34a6fe 87.92%,#3595fc 90%,#3591fc 91.46%,#3598fd 93.25%,#2fb6fc 96.67%,#21cdf3 100%)"></i><i style="inset:120px;background:conic-gradient(from 90deg,#1fd1f1 0%,#34aaff 4.58%,#367cf9 7.92%,#3585fa 8.33%,#366ef7 10.83%,#3662f4 14.58%,#366ef8 17.5%,#3596fc 20%,#2fb5fc 21.25%,#0fe8e4 23.75%,#06e3bb 25.83%,#04e2b4 26.67%,#12e5e9 26.89%,#1ed1f1 28.75%,#34a3fe 30.83%,#366ef7 32.92%,#3750ef 35%,#383ce9 38%,#3840ea 42.5%,#366cf7 48.33%,#359efd 52.08%,#30b5fc 54.58%,#2abff8 57.98%,#34aeff 58.33%,#3669f6 62.08%,#3746ec 65.83%,#3840ea 70%,#375bf2 74.17%,#3583fa 77.08%,#34acff 77.5%,#15e0eb 81.25%,#12e4e9 82.92%,#30b5fc 89.58%,#31b3fd 93.33%,#1ed2f1 99.58%,#1fd1f1 100%)"></i><i style="inset:121.5px;background:conic-gradient(from 90deg,#1ad8ee 0%,#34a8fe 5.49%,#358afb 7.92%,#359bfd 8.33%,#367bf9 12.08%,#3675f9 14.17%,#3580fa 16.25%,#359afd 18.33%,#2db9fb 20%,#10e7e8 22.5%,#04e2b4 25.42%,#03e1ad 26.25%,#0fe7e2 26.62%,#13e4ea 27.92%,#34aaff 31.25%,#366cf7 34.17%,#3751ef 37.5%,#3750ef 41.67%,#3761f4 45.42%,#366ff8 47.08%,#34a0fd 51.25%,#2eb8fb 54.17%,#27c3f7 57.5%,#30b5fc 57.92%,#34a3fe 59.58%,#366df7 63.33%,#3755f0 67.92%,#375ef3 71.67%,#3675f9 74.17%,#34a2fe 77.08%,#24c8f5 77.5%,#10e8e8 80%,#0ce6d4 82.11%,#0fe7e1 84.58%,#15e0eb 86.67%,#1fd0f1 91.25%,#18dbed 99.58%,#1ad8ee 100%)"></i><i style="inset:123px;background:conic-gradient(from 90deg,#10e8e6 0%,#34a8fe 7.92%,#2dbafa 8.33%,#34a8fe 12.5%,#2fb5fc 16.67%,#17dced 20%,#11e6e9 20.42%,#02e1a9 24.58%,#00e09e 26.25%,#0be6d2 26.34%,#0fe7e3 28.33%,#1bd6ef 30%,#34acff 33.01%,#3584fa 35.42%,#366ff8 37.5%,#3670f8 42.5%,#3591fc 47.92%,#34a9fe 50.42%,#24c8f5 55.83%,#21ccf3 57.5%,#29c0f8 57.92%,#359cfd 62.27%,#3581fa 66.25%,#3582fa 70%,#3593fc 72.5%,#32b1fe 75.42%,#23c9f4 77.5%,#0ee7de 77.92%,#04e2b4 81.67%,#06e3bb 85%,#0ce6d7 90.83%,#0de6da 93.33%,#0de7db 98.33%,#10e8e6 100%)"></i><i style="inset:124.5px;background:conic-gradient(from 90deg,#09e4c8 0%,#13e4ea 4.35%,#20cff2 7.92%,#11e6e9 8.33%,#15e0eb 12.92%,#0fe7e3 15.83%,#00db8a 23.84%,#00d87f 25.83%,#05e2b4 26.06%,#08e4c6 28.75%,#12e5e9 31.67%,#33b0fe 37.92%,#34a4fe 42.08%,#2cbcfa 48.88%,#16deec 57.5%,#1dd3f0 57.77%,#2eb8fb 67.08%,#25c6f6 72.08%,#0fe8e4 77.18%,#0ee7e1 77.5%,#03e1ad 77.92%,#00db8c 81.67%,#00dc91 86.07%,#07e3bd 98.75%,#09e4c8 100%)"></i><i style="inset:126px;background:conic-gradient(from 90deg,#09e4c8 0%,#10e8e8 8.21%,#07e3bd 8.33%,#07e3be 14.67%,#00e0a0 25.42%,#0de6da 25.78%,#12e4e9 32.08%,#21ccf3 42.08%,#18dbed 52.08%,#10e8e6 57.5%,#2cbafa 57.72%,#1ad8ee 72.92%,#0fe8e4 78.33%,#03e1ad 78.75%,#01e1a6 80.83%,#02e1a9 90.43%,#09e4c8 100%)"></i><i style="inset:127.5px;background:conic-gradient(from 90deg,#0ee7df 0%,#10e8e7 8.75%,#03e1ac 9.17%,#04e2b3 22.08%,#14e2ea 22.5%,#16dfec 36.25%,#13e3ea 40.83%,#0fe7e2 56.67%,#30b4fd 57.08%,#24c8f5 78.33%,#26c5f6 81.25%,#0de6d9 81.67%,#0ee7df 100%)"></i></div></div><div class="d" style="left:77px;top:323px;width:250px;height:250px"><div class="b" style="inset:-4px;filter:blur(0.8px)"><i style="inset:0px;background:conic-gradient(from 90deg,#26c20a 0%,#0fbd15 0.92%,#00ce59 2.92%,#04e2b4 5%,#0ee7e0 6.67%,#10e8e8 8.75%,#0fe8e5 10.42%,#07e4c0 11.67%,#00cd55 13.75%,#08c432 15%,#08c430 15.83%,#04c842 16.25%,#00d163 16.67%,#06e3b9 17.5%,#0de6d8 17.92%,#10e8e8 18.41%,#10e8e8 19.14%,#0fe7e3 19.17%,#0ae5cc 19.2%,#00d985 19.26%,#0bc125 19.33%,#5ed200 19.39%,#e2f700 19.46%,#ffd000 19.52%,#ff9e00 19.58%,#fe8c00 19.64%,#ff9200 23.75%,#ffb700 25.42%,#ffff00 27.5%,#c2ed00 28.33%,#3dc903 29.58%,#0fbd15 30.44%,#00d267 32.08%,#06e3bb 33.75%,#0ee7e0 35%,#15dfeb 37.08%,#1bd6ef 41.67%,#10e8e8 45%,#18dbed 49.58%,#13e3ea 50.31%,#0ee7e0 50.42%,#0be5d0 50.47%,#00d880 50.63%,#0dbf1c 50.79%,#20c10b 50.83%,#77d900 50.95%,#fdff00 51.11%,#ffb800 51.26%,#fa8100 51.42%,#f36a00 51.58%,#ed5800 53.39%,#f36a00 57.5%,#ff9100 60.83%,#ffbb00 62.08%,#fcfe00 63.75%,#64d400 66.67%,#2ec507 67.92%,#0fbd15 68.88%,#02ca4a 70%,#05e3b9 71.67%,#0de7dc 72.5%,#10e8e8 73.33%,#0fe8e4 75.42%,#08e4c5 77.08%,#00e0a1 78.11%,#00d982 78.33%,#02ca47 78.55%,#16be0e 78.77%,#62d300 78.99%,#c6ee00 79.21%,#fff300 79.43%,#ffcf00 79.65%,#ffbc00 80%,#ff9700 82.92%,#ff9200 86.25%,#ffb700 90%,#ffff00 94.59%,#bbeb00 96.67%,#41ca02 99.17%,#26c20a 100%)"></i><i style="inset:1.5px;background:conic-gradient(from 90deg,#26c20a 0%,#0fbd15 0.92%,#00ce59 2.92%,#04e2b4 5%,#0ee7e0 6.67%,#10e8e8 8.75%,#0fe8e5 10.42%,#07e4c0 11.67%,#00cd55 13.75%,#08c432 15%,#08c430 15.83%,#04c842 16.25%,#00d163 16.67%,#06e3b9 17.5%,#0de6d8 17.92%,#10e8e8 18.41%,#10e8e8 19.14%,#0fe7e3 19.17%,#0ae5cc 19.2%,#00d985 19.26%,#0bc125 19.33%,#5ed200 19.39%,#e2f700 19.46%,#ffd000 19.52%,#ff9e00 19.58%,#fe8c00 19.64%,#ff9200 23.75%,#ffb700 25.42%,#ffff00 27.5%,#c2ed00 28.33%,#3dc903 29.58%,#0fbd15 30.44%,#00d267 32.08%,#06e3bb 33.75%,#0ee7e0 35%,#15dfeb 37.08%,#1bd6ef 41.67%,#10e8e8 45%,#18dbed 49.58%,#13e3ea 50.31%,#0ee7e0 50.42%,#0be5d0 50.47%,#00d880 50.63%,#0dbf1c 50.79%,#20c10b 50.83%,#77d900 50.95%,#fdff00 51.11%,#ffb800 51.26%,#fa8100 51.42%,#f36a00 51.58%,#ed5800 53.39%,#f36a00 57.5%,#ff9100 60.83%,#ffbb00 62.08%,#fcfe00 63.75%,#64d400 66.67%,#2ec507 67.92%,#0fbd15 68.88%,#02ca4a 70%,#05e3b9 71.67%,#0de7dc 72.5%,#10e8e8 73.33%,#0fe8e4 75.42%,#08e4c5 77.08%,#00e0a1 78.11%,#00d982 78.33%,#02ca47 78.55%,#16be0e 78.77%,#62d300 78.99%,#c6ee00 79.21%,#fff300 79.43%,#ffcf00 79.65%,#ffbc00 80%,#ff9700 82.92%,#ff9200 86.25%,#ffb700 90%,#ffff00 94.59%,#bbeb00 96.67%,#41ca02 99.17%,#26c20a 100%)"></i><i style="inset:3px;background:conic-gradient(from 90deg,#26c20a 0%,#0fbd15 0.92%,#00ce59 2.92%,#04e2b4 5%,#0ee7e0 6.67%,#10e8e8 8.75%,#0fe8e5 10.42%,#07e4c0 11.67%,#00cd55 13.75%,#08c432 15%,#08c430 15.83%,#04c842 16.25%,#00d163 16.67%,#06e3b9 17.5%,#0de6d8 17.92%,#10e8e8 18.41%,#10e8e8 19.14%,#0fe7e3 19.17%,#0ae5cc 19.2%,#00d985 19.26%,#0bc125 19.33%,#5ed200 19.39%,#e2f700 19.46%,#ffd000 19.52%,#ff9e00 19.58%,#fe8c00 19.64%,#ff9200 23.75%,#ffb700 25.42%,#ffff00 27.5%,#c2ed00 28.33%,#3dc903 29.58%,#0fbd15 30.44%,#00d267 32.08%,#06e3bb 33.75%,#0ee7e0 35%,#15dfeb 37.08%,#1bd6ef 41.67%,#10e8e8 45%,#18dbed 49.58%,#13e3ea 50.31%,#0ee7e0 50.42%,#0be5d0 50.47%,#00d880 50.63%,#0dbf1c 50.79%,#20c10b 50.83%,#77d900 50.95%,#fdff00 51.11%,#ffb800 51.26%,#fa8100 51.42%,#f36a00 51.58%,#ed5800 53.39%,#f36a00 57.5%,#ff9100 60.83%,#ffbb00 62.08%,#fcfe00 63.75%,#64d400 66.67%,#2ec507 67.92%,#0fbd15 68.88%,#02ca4a 70%,#05e3b9 71.67%,#0de7dc 72.5%,#10e8e8 73.33%,#0fe8e4 75.42%,#08e4c5 77.08%,#00e0a1 78.11%,#00d982 78.33%,#02ca47 78.55%,#16be0e 78.77%,#62d300 78.99%,#c6ee00 79.21%,#fff300 79.43%,#ffcf00 79.65%,#ffbc00 80%,#ff9700 82.92%,#ff9200 86.25%,#ffb700 90%,#ffff00 94.59%,#bbeb00 96.67%,#41ca02 99.17%,#26c20a 100%)"></i><i style="inset:4.5px;background:conic-gradient(from 90deg,#21c10b 0%,#0ebe17 0.83%,#00d062 2.92%,#06e3bb 5%,#0fe7e3 6.67%,#10e8e7 10%,#09e4c8 11.25%,#00d05f 13.33%,#07c535 14.58%,#09c32c 15.42%,#06c637 15.83%,#00cc4e 16.25%,#01e0a4 17.08%,#09e4c8 17.5%,#0ee7e1 17.92%,#10e8e8 19%,#0ae5cd 19.06%,#00d983 19.13%,#0bc123 19.19%,#5bd100 19.25%,#e0f600 19.32%,#ffd100 19.38%,#ff9f00 19.44%,#fe8c00 19.51%,#ff9300 23.75%,#ffbc00 25.42%,#ffff00 27.34%,#b4e900 28.33%,#54cf00 29.17%,#1abf0d 30%,#08c42f 30.83%,#00da87 32.5%,#07e4c0 33.75%,#0fe7e2 35%,#1cd5f0 41.25%,#10e7e8 45%,#19daee 49.17%,#13e3ea 50.17%,#0be5cf 50.33%,#02e1aa 50.42%,#00d880 50.49%,#0dbf1c 50.65%,#76d900 50.81%,#fdfe00 50.97%,#fd8b00 51.25%,#f36a00 51.44%,#ed5700 53.33%,#f36b00 57.5%,#ff9400 60.83%,#ffd500 62.5%,#ffff00 63.55%,#47cc00 67.08%,#0fbd15 68.75%,#00cc52 70%,#02e1a9 71.25%,#0ee7df 72.5%,#11e7e8 73.75%,#0fe8e4 75.42%,#08e4c2 77.08%,#00e0a2 77.98%,#00d984 78.2%,#02ca48 78.42%,#16be0e 78.64%,#37c705 78.75%,#c7ef00 79.08%,#e7f800 79.17%,#fff200 79.3%,#ffc700 79.58%,#ffb900 80%,#ff9600 82.92%,#ff9200 86.25%,#ffb900 90%,#fcfe00 94.58%,#b5ea00 96.67%,#4acd00 98.75%,#21c10b 100%)"></i><i style="inset:6px;background:conic-gradient(from 90deg,#18be0e 0%,#08c42f 1.25%,#00d573 2.92%,#06e3ba 4.58%,#0fe7e3 6.25%,#10e8e7 9.58%,#09e4c7 10.83%,#00cf5d 12.92%,#07c534 14.17%,#09c32c 15%,#07c536 15.42%,#01cb4c 15.83%,#00e09f 16.67%,#0ee7de 17.5%,#10e8e8 17.92%,#0fe8e4 18.75%,#0ae5cf 18.79%,#00d986 18.85%,#0bc126 18.91%,#5dd200 18.98%,#e0f600 19.04%,#ffd100 19.11%,#ff9f00 19.17%,#fe8c00 19.23%,#ff9100 23.33%,#ffb800 25%,#fcfe00 27.08%,#bdec00 27.92%,#61d300 28.75%,#3ac804 29.17%,#0fbd16 30%,#00d269 31.67%,#02e1ab 32.92%,#0ee7e0 34.58%,#16dfec 36.67%,#1cd5ef 41.25%,#10e8e8 44.58%,#18dbed 49.17%,#13e2ea 49.89%,#0ee7df 50%,#0be5d0 50.05%,#00d880 50.21%,#0dbf1b 50.37%,#21c10b 50.42%,#77d900 50.53%,#fcfe00 50.69%,#ffb800 50.85%,#fa8100 51.01%,#f36a00 51.17%,#ed5600 52.92%,#f16500 56.67%,#ff9200 60.42%,#ffbc00 61.67%,#fdfe00 63.33%,#7cda00 65.83%,#3dc903 67.08%,#0fbd15 68.46%,#02ca4a 69.58%,#05e3b7 71.25%,#0de7db 72.08%,#10e8e8 72.92%,#0fe7e2 75.42%,#06e3bb 77.08%,#01e0a3 77.72%,#00d985 77.94%,#02ca48 78.16%,#16be0e 78.38%,#63d300 78.6%,#c7ef00 78.81%,#fff200 79.03%,#ffce00 79.25%,#ffbb00 79.58%,#ff9600 82.5%,#ff9100 85.83%,#ffb700 89.58%,#ffff00 94.19%,#baeb00 96.25%,#3fc903 98.75%,#18be0e 100%)"></i><i style="inset:7.5px;background:conic-gradient(from 90deg,#10bc12 0%,#00cf5b 2.08%,#05e3b8 4.17%,#0fe7e3 5.83%,#10e8e7 9.17%,#09e4c6 10.42%,#00cf5c 12.5%,#07c533 13.75%,#09c32b 14.58%,#07c535 15%,#01cb4a 15.42%,#00df9b 16.25%,#0de6da 17.08%,#10e8e8 17.57%,#11e7e8 18.45%,#0ae5cd 18.51%,#00d983 18.58%,#0bc124 18.64%,#5fd200 18.7%,#e2f600 18.77%,#ffd100 18.83%,#ff9f00 18.89%,#fe8c00 18.96%,#ff8f00 22.92%,#ffb400 24.58%,#ffff00 26.73%,#c7ef00 27.5%,#42ca02 28.75%,#0fbd15 29.67%,#00d162 31.25%,#05e3b7 32.92%,#0ee7de 34.17%,#12e4e9 35.42%,#1dd4f0 40.42%,#11e7e8 44.58%,#19d9ee 48.75%,#14e2ea 49.61%,#0be5d0 49.77%,#00d880 49.93%,#00cc4e 50%,#0dbf1c 50.09%,#75d800 50.25%,#fffe00 50.42%,#ffb900 50.57%,#fa8100 50.73%,#f36a00 50.9%,#ec5600 52.5%,#f16300 56.25%,#ff9000 60%,#ffb700 61.25%,#ffff00 63.03%,#85dc00 65.42%,#42ca02 66.67%,#0fbd15 68.18%,#00cf5b 69.58%,#03e2af 70.83%,#0fe7e1 72.08%,#12e5e9 74.17%,#0ee7e0 75.42%,#04e2b3 77.08%,#01e0a2 77.5%,#00d986 77.69%,#03c945 77.92%,#16be0e 78.12%,#63d300 78.34%,#c8ef00 78.55%,#fff100 78.77%,#ffcd00 78.98%,#ffbc00 79.2%,#ff9600 82.08%,#ff9000 85.42%,#ffb400 89.17%,#ffff00 93.92%,#afe800 96.25%,#43cb01 98.33%,#10bc12 100%)"></i><i style="inset:9px;background:conic-gradient(from 90deg,#0dbf1b 0%,#00ce58 1.67%,#05e3b7 3.75%,#0fe7e3 5.42%,#10e8e7 8.75%,#08e4c6 10%,#00d471 11.67%,#05c73c 12.92%,#0ac22a 14.17%,#07c534 14.58%,#02ca49 15%,#06e3bb 16.25%,#0ce6d7 16.67%,#10e8e8 17.23%,#11e7e8 18.17%,#0ae5ce 18.23%,#00d985 18.3%,#0bc125 18.36%,#5cd100 18.42%,#dff600 18.49%,#ffd200 18.55%,#ff9e00 18.62%,#fe8c00 18.68%,#ff9200 22.92%,#ffbd00 24.58%,#ffff00 26.42%,#d1f200 27.08%,#abe700 27.5%,#4bcd00 28.33%,#15bd0f 29.17%,#00cf5b 30.83%,#04e2b2 32.5%,#0de7db 33.75%,#12e5e9 35%,#1dd4f0 40.42%,#11e7e8 44.17%,#1ad8ee 48.33%,#14e2ea 49.32%,#0be5d0 49.48%,#01e1a5 49.58%,#0dbf1b 49.81%,#75d800 49.97%,#feff00 50.13%,#fe8c00 50.42%,#f36900 50.62%,#ec5400 52.5%,#f16500 56.25%,#ff9700 60%,#ffff00 62.78%,#76d800 65.42%,#47cc00 66.25%,#0fbd16 67.92%,#00cc51 69.17%,#06e3bc 70.83%,#0ee7dd 71.67%,#12e6e9 72.92%,#0fe8e5 75%,#06e3bb 76.67%,#01e1a5 77.21%,#00da87 77.43%,#02ca49 77.64%,#15be0e 77.86%,#64d400 78.08%,#daf400 78.33%,#fff000 78.5%,#ffc800 78.75%,#ffbb00 78.93%,#ff9600 81.67%,#ff8f00 85%,#ffb200 88.75%,#fcfe00 93.75%,#b4e900 95.83%,#47cc00 97.92%,#0fbd15 99.79%,#0dbf1b 100%)"></i><i style="inset:10.5px;background:conic-gradient(from 90deg,#0bc126 0%,#00d269 1.67%,#05e2b6 3.33%,#0fe7e2 5%,#10e8e7 8.33%,#08e4c5 9.58%,#00ce59 11.67%,#08c431 12.92%,#0ac229 13.75%,#07c532 14.17%,#02ca47 14.58%,#05e2b6 15.83%,#0be6d3 16.25%,#10e8e8 16.88%,#0fe8e5 17.92%,#0ae5ce 17.96%,#00d985 18.02%,#0bc126 18.08%,#5bd100 18.15%,#e2f700 18.21%,#ffd100 18.28%,#ff9f00 18.34%,#fe8c00 18.41%,#ff9000 22.5%,#ffb900 24.17%,#ffff00 26.12%,#b7ea00 27.08%,#58d000 27.92%,#1bbf0d 28.75%,#0ebe19 29.17%,#00d36d 30.83%,#03e1ad 32.08%,#0ee7e1 33.75%,#18daed 36.67%,#1bd7ef 40.83%,#10e7e8 43.75%,#1ad7ef 47.92%,#14e2eb 49.03%,#0be5d1 49.2%,#00d880 49.36%,#0dbf1b 49.52%,#27c309 49.58%,#77d900 49.69%,#fcfe00 49.85%,#ffb900 50.01%,#fa8100 50.18%,#f36900 50.34%,#ec5300 52.08%,#ef5f00 55.42%,#ff9400 59.58%,#ffe000 61.67%,#ffff00 62.52%,#7fdb00 65%,#3ec903 66.25%,#0fbd15 67.62%,#02ca49 68.75%,#05e2b5 70.42%,#0fe7e3 71.67%,#10e8e8 74.58%,#08e4c2 76.25%,#01e1a6 76.96%,#00de9a 77.08%,#00da88 77.17%,#0ac229 77.5%,#16be0e 77.6%,#63d300 77.81%,#c9ef00 78.02%,#fff000 78.24%,#ffcb00 78.45%,#ffb800 78.75%,#ff9400 81.67%,#ff9000 85%,#ffb600 88.75%,#ffff00 93.36%,#b9eb00 95.42%,#4ccd00 97.5%,#0fbd15 99.47%,#0bc126 100%)"></i><i style="inset:12px;background:conic-gradient(from 90deg,#08c431 0%,#00d166 1.25%,#04e2b4 2.92%,#0fe7e2 4.58%,#10e8e6 7.92%,#08e4c4 9.17%,#00ce58 11.25%,#08c430 12.5%,#0ac228 13.33%,#08c431 13.75%,#03c945 14.17%,#04e2b2 15.42%,#0be5d0 15.83%,#10e8e8 16.54%,#11e6e9 17.61%,#0be5d0 17.68%,#00d985 17.74%,#0bc126 17.81%,#5ad100 17.87%,#bfed00 17.92%,#e1f600 17.94%,#ffd100 18%,#ffa000 18.06%,#fe8c00 18.13%,#fe8e00 22.08%,#ffb500 23.75%,#ffff00 25.83%,#c1ed00 26.67%,#3dc903 27.92%,#0fbd15 28.77%,#00d166 30.42%,#06e3b9 32.08%,#0ee7de 33.33%,#14e1eb 35%,#1dd3f0 40%,#11e7e9 43.75%,#1ad8ee 47.92%,#14e1eb 48.75%,#0be5d1 48.91%,#00d881 49.08%,#0dbf1c 49.24%,#74d800 49.4%,#fdfe00 49.57%,#ffb800 49.73%,#fa8100 49.9%,#f36900 50.06%,#eb5100 52.08%,#f06000 55.42%,#ff9200 59.17%,#ffca00 60.83%,#ffff00 62.27%,#88dd00 64.58%,#43cb01 65.83%,#0fbd15 67.34%,#00cf5a 68.75%,#03e1ac 70%,#0ee7e0 71.25%,#12e4e9 72.5%,#10e8e7 74.58%,#06e3ba 76.25%,#02e1a7 76.7%,#00da89 76.92%,#01cb4a 77.13%,#15bd0f 77.34%,#49cc00 77.5%,#cbf000 77.76%,#fffc00 77.92%,#ffca00 78.19%,#ffb900 78.4%,#ff9400 81.25%,#ff8f00 84.58%,#ffb400 88.33%,#ffff00 93.07%,#beec00 95%,#40ca02 97.5%,#0fbd15 99.17%,#08c431 100%)"></i><i style="inset:13.5px;background:conic-gradient(from 90deg,#05c73d 0%,#04e2b2 2.5%,#0fe7e2 4.17%,#10e8e8 7.18%,#0be6d3 8.33%,#00df9d 9.58%,#03c946 11.25%,#0ac229 12.5%,#0ac227 12.92%,#08c430 13.33%,#03c943 13.75%,#00da89 14.58%,#0ae5cc 15.42%,#0ee7e1 15.83%,#11e6e9 17.08%,#11e6e9 17.33%,#0be5cf 17.4%,#00da88 17.46%,#0bc125 17.53%,#5bd100 17.59%,#e2f600 17.66%,#ffd200 17.72%,#ff9e00 17.79%,#fe8c00 17.85%,#fe8c00 21.67%,#ffa400 22.92%,#ffff00 25.53%,#ccf000 26.25%,#74d800 27.08%,#45cb01 27.5%,#0fbd15 28.48%,#00d676 30.42%,#04e2b4 31.67%,#0de7dc 32.92%,#12e5e9 34.17%,#1dd3f0 39.58%,#11e7e8 43.33%,#1bd7ef 47.5%,#14e1eb 48.46%,#0be5d1 48.62%,#00d882 48.79%,#0dbf1c 48.95%,#76d800 49.12%,#a2e400 49.17%,#feff00 49.29%,#ffb900 49.45%,#fa8000 49.62%,#f36900 49.78%,#eb5100 51.67%,#ee5a00 54.58%,#ff9000 58.76%,#ffb400 60%,#fcfe00 62.08%,#91e000 64.17%,#49cc00 65.42%,#0fbd16 67.08%,#00cc50 68.33%,#06e3ba 70%,#0fe8e5 71.25%,#13e3ea 73.75%,#0de7db 75%,#02e1a8 76.45%,#00da88 76.67%,#01cb4b 76.87%,#16be0e 77.08%,#64d400 77.29%,#cbf000 77.5%,#ffee00 77.71%,#ffca00 77.92%,#ffb800 78.13%,#ff9500 80.83%,#fe8e00 84.17%,#ffb200 87.92%,#fcfe00 92.92%,#b2e900 95%,#44cb01 97.08%,#0fbd15 98.84%,#05c73d 100%)"></i><i style="inset:15px;background:conic-gradient(from 90deg,#02ca4a 0%,#04e2b0 2.08%,#0fe7e1 3.75%,#10e8e8 6.74%,#0be6d3 7.92%,#00df9c 9.17%,#03c945 10.83%,#0ac228 12.08%,#08c42f 12.92%,#04c841 13.33%,#00d985 14.17%,#09e4c8 15%,#0ee7de 15.42%,#11e7e8 16.25%,#0fe8e4 17.08%,#0be5d0 17.12%,#00d985 17.18%,#0ac227 17.25%,#5ed200 17.31%,#dff600 17.38%,#ffd100 17.44%,#ffa000 17.51%,#fe8c00 17.58%,#ff8f00 21.67%,#ffba00 23.33%,#ffff00 25.24%,#b2e900 26.25%,#52cf00 27.08%,#19be0e 27.92%,#08c42f 28.75%,#00df9c 30.83%,#0de6d9 32.5%,#11e6e9 33.75%,#1ed2f1 39.17%,#11e7e8 42.92%,#1bd6ef 47.08%,#14e1eb 48.16%,#0be5d1 48.33%,#00d882 48.5%,#0dbf1b 48.67%,#34c606 48.75%,#fdfe00 49%,#ffb800 49.17%,#fa8000 49.33%,#f36900 49.5%,#eb5100 51.25%,#ed5700 54.17%,#ff9000 58.46%,#ffbe00 60%,#ffff00 61.76%,#9be200 63.75%,#3ec903 65.42%,#0fbd15 66.79%,#02ca49 67.92%,#04e2b2 69.58%,#0fe7e2 70.83%,#13e3ea 73.75%,#0ce6d6 75%,#01e1a5 76.25%,#00db8b 76.4%,#05c73b 76.67%,#15bd0f 76.82%,#64d400 77.03%,#cbf000 77.24%,#ffee00 77.44%,#ffc900 77.65%,#ffb600 77.92%,#ff9200 80.83%,#ff8f00 84.17%,#ffb500 87.92%,#ffff00 92.5%,#b7ea00 94.58%,#48cc00 96.67%,#0fbd15 98.52%,#02ca4a 100%)"></i><i style="inset:16.5px;background:conic-gradient(from 90deg,#00ce5a 0%,#03e2ae 1.67%,#0de6d8 2.92%,#10e8e8 4.17%,#10e8e6 6.67%,#08e4c2 7.92%,#00cd55 10%,#09c32d 11.25%,#0bc126 12.08%,#04c83f 12.92%,#00cf5b 13.33%,#08e4c5 14.58%,#0de7dc 15%,#10e8e8 15.49%,#12e6e9 16.77%,#0be5d0 16.84%,#00d985 16.9%,#0ac227 16.97%,#5dd200 17.03%,#def500 17.1%,#ffd200 17.16%,#ff9f00 17.23%,#fe8c00 17.29%,#fe8d00 21.25%,#ffb500 22.92%,#fcfe00 25%,#bdec00 25.83%,#60d300 26.67%,#3ac804 27.08%,#0fbd16 27.92%,#00d268 29.58%,#06e3ba 31.25%,#0ee7df 32.5%,#14e1eb 34.17%,#1dd2f1 39.17%,#11e6e9 42.92%,#1bd7ef 47.08%,#13e3ea 47.92%,#0be6d2 48.04%,#00d881 48.21%,#0dbf1d 48.38%,#75d800 48.54%,#feff00 48.71%,#ffb800 48.88%,#fa8000 49.05%,#f36900 49.22%,#ea4f00 51.25%,#ed5800 54.17%,#ff9300 58.33%,#ffd900 60.42%,#ffff00 61.51%,#8cde00 63.75%,#44cb01 65%,#0fbd15 66.51%,#00ce59 67.92%,#02e1aa 69.17%,#0ee7de 70.42%,#13e3ea 71.67%,#12e4ea 73.75%,#0be5d0 75%,#02e1ab 75.94%,#00db8c 76.14%,#01cb4c 76.35%,#15bd0f 76.56%,#38c804 76.67%,#ccf000 76.97%,#f8fd00 77.08%,#ffc800 77.39%,#ffb600 77.59%,#ff9200 80.42%,#fe8e00 83.75%,#ffb300 87.5%,#ffff00 92.19%,#bceb00 94.17%,#3dc903 96.67%,#0fbd15 98.21%,#00ce5a 100%)"></i><i style="inset:18px;background:conic-gradient(from 90deg,#00d36c 0%,#06e3bd 1.67%,#0ee7e1 2.92%,#10e8e8 5%,#0fe8e5 6.25%,#07e4c1 7.5%,#00cd54 9.58%,#09c32d 10.83%,#0bc125 11.67%,#05c73d 12.5%,#00ce57 12.92%,#07e4c1 14.17%,#0de6d9 14.58%,#10e8e8 15.14%,#12e5e9 16.49%,#0be5d1 16.55%,#00da87 16.62%,#0bc126 16.69%,#5ed200 16.75%,#def500 16.82%,#ffd200 16.88%,#ff9f00 16.95%,#fe8c00 17.02%,#fd8b00 20.83%,#ffa400 22.08%,#ffff00 24.66%,#c8ef00 25.42%,#43ca02 26.67%,#0fbd15 27.61%,#00d678 29.58%,#05e2b5 30.83%,#0de7dc 32.08%,#12e4e9 33.33%,#1ed1f1 38.46%,#11e7e9 42.5%,#1bd6ef 46.67%,#15e0eb 47.58%,#0be6d2 47.75%,#00d881 47.92%,#0dbf1c 48.09%,#75d800 48.26%,#baeb00 48.33%,#fdfe00 48.42%,#ffb800 48.59%,#fa8000 48.76%,#f26900 48.93%,#ea4f00 50.83%,#eb5200 53.33%,#fb8200 57.08%,#ffa600 58.75%,#ffff00 61.26%,#95e100 63.33%,#4bcd00 64.58%,#0fbd15 66.25%,#00cc4f 67.5%,#05e3b8 69.17%,#0fe8e4 70.42%,#14e1eb 73.33%,#0ce6d7 74.58%,#03e1ac 75.68%,#00db8d 75.89%,#01cb4c 76.09%,#15bd0f 76.3%,#66d400 76.51%,#cdf000 76.71%,#ffec00 76.91%,#ffc700 77.12%,#ffb500 77.32%,#ff9300 80%,#fe8d00 83.33%,#ffab00 86.67%,#ffff00 91.88%,#afe800 94.17%,#41ca02 96.25%,#0fbd15 97.92%,#00cd55 99.58%,#00d36c 100%)"></i><i style="inset:19.5px;background:conic-gradient(from 90deg,#00d77e 0%,#09e5c9 1.67%,#10e8e6 2.92%,#10e8e7 5.83%,#08e4c2 7.08%,#00cd54 9.17%,#09c32c 10.42%,#0bc124 11.25%,#05c73c 12.08%,#00cd54 12.5%,#07e3be 13.75%,#0ce6d7 14.17%,#10e8e8 14.78%,#12e5e9 16.21%,#0ee7df 16.25%,#0be5d0 16.27%,#00da89 16.34%,#0ac228 16.4%,#5ad100 16.47%,#dff600 16.54%,#ffd100 16.6%,#ff9f00 16.67%,#fe8c00 16.74%,#fd8900 20.42%,#ffa000 21.67%,#ffff00 24.38%,#aee800 25.42%,#4ece00 26.25%,#17be0e 27.08%,#00ce59 28.75%,#04e2b0 30.42%,#0fe7e2 32.08%,#1ed1f1 37.5%,#16dfec 40.42%,#13e4ea 42.92%,#1cd4f0 46.25%,#15e0eb 47.28%,#0be6d2 47.45%,#00d882 47.62%,#0dbf1c 47.79%,#4acc00 47.92%,#fdff00 48.14%,#ffad00 48.33%,#fa8000 48.48%,#f26900 48.65%,#e94c00 50.83%,#ec5300 53.33%,#ff9000 57.59%,#ffce00 59.58%,#ffff00 61.01%,#9fe300 62.92%,#40ca02 64.58%,#0fbd15 65.96%,#00d062 67.5%,#04e2b0 68.75%,#0ee7e1 70%,#16deec 72.08%,#10e8e8 73.75%,#08e4c2 75%,#03e2af 75.43%,#00dc91 75.63%,#00cc4e 75.84%,#13bd0f 76.04%,#69d500 76.25%,#cef100 76.45%,#ffe800 76.67%,#ffc600 76.85%,#ffb300 77.08%,#ff9000 80%,#fe8e00 83.33%,#ffb600 87.08%,#fcfe00 91.67%,#b3e900 93.75%,#45cb01 95.83%,#0fbd15 97.6%,#00cc50 99.17%,#00d77e 100%)"></i><i style="inset:21px;background:conic-gradient(from 90deg,#00dc90 0%,#0be6d4 1.67%,#10e8e8 2.92%,#10e8e8 5.42%,#08e4c3 6.67%,#00cd53 8.75%,#09c32c 10%,#0bc123 10.83%,#06c63a 11.67%,#00cc51 12.08%,#06e3ba 13.33%,#0fe8e4 14.17%,#12e5e9 15.92%,#0be5d1 15.99%,#00da87 16.06%,#0bc126 16.12%,#5dd200 16.19%,#e1f600 16.26%,#ffd100 16.32%,#ff9f00 16.39%,#fe8c00 16.46%,#fe8b00 20.42%,#ffb500 22.08%,#fbfe00 24.17%,#bbeb00 25%,#5dd200 25.83%,#38c705 26.25%,#0fbd15 27.03%,#00d26a 28.75%,#06e3bb 30.42%,#0ee7df 31.67%,#15e1eb 33.33%,#1ed1f1 38.33%,#11e6e9 42.08%,#1dd3f0 45.83%,#15e0eb 46.98%,#10e8e6 47.08%,#0be6d2 47.16%,#00d882 47.33%,#0dbf1c 47.5%,#75d800 47.67%,#fdfe00 47.84%,#ffb800 48.02%,#fa8000 48.19%,#f26900 48.36%,#e94c00 50.42%,#eb5000 52.92%,#fb8500 56.67%,#ffab00 58.33%,#fcfe00 60.83%,#90df00 62.92%,#45cb01 64.17%,#0fbd15 65.69%,#00ce58 67.08%,#07e3bd 68.75%,#10e8e6 70%,#17ddec 72.5%,#0fe8e5 73.75%,#04e2b3 75.17%,#00da89 75.42%,#00cc51 75.58%,#11bc10 75.78%,#63d300 75.98%,#eaf900 76.25%,#ffeb00 76.38%,#ffbb00 76.67%,#ffa700 77.5%,#fe8c00 80.42%,#ff9100 83.75%,#ffc800 87.92%,#ffff00 91.25%,#b8ea00 93.33%,#4acd00 95.42%,#0fbd15 97.29%,#00d062 99.17%,#00dc90 100%)"></i><i style="inset:22.5px;background:conic-gradient(from 90deg,#00e0a1 0%,#0de7dd 1.67%,#11e7e9 2.92%,#11e7e9 5%,#08e4c3 6.25%,#00cd53 8.33%,#09c32b 9.58%,#0bc122 10.42%,#06c638 11.25%,#00cc4e 11.67%,#05e3b7 12.92%,#0fe7e3 13.75%,#12e5e9 15.64%,#0be6d2 15.71%,#00da89 15.77%,#0ac228 15.84%,#59d100 15.91%,#e2f600 15.98%,#ffd100 16.04%,#ff9f00 16.11%,#fe8c00 16.17%,#fd8900 20%,#ffb000 21.67%,#ffff00 23.81%,#c6ef00 24.58%,#41ca02 25.83%,#0fbd15 26.75%,#00d062 28.33%,#05e2b6 30%,#0de7dd 31.25%,#12e4ea 32.5%,#1fd0f1 37.64%,#11e6e9 41.67%,#1dd3f0 45.83%,#15dfeb 46.69%,#0be6d3 46.86%,#00d881 47.03%,#0dbf1c 47.21%,#76d800 47.38%,#fdfe00 47.55%,#ffb800 47.73%,#f97c00 47.92%,#f26900 48.07%,#e94c00 50%,#ea4e00 52.5%,#f87a00 55.83%,#ffa600 57.92%,#ffff00 60.52%,#99e200 62.5%,#4dcd00 63.75%,#0fbd15 65.42%,#00cc4e 66.67%,#05e2b6 68.33%,#0fe7e3 69.58%,#17dced 72.5%,#0fe7e1 73.75%,#05e2b6 74.92%,#00de98 75.12%,#07c534 75.42%,#10bc10 75.52%,#62d300 75.72%,#cdf000 75.92%,#ffeb00 76.12%,#ffc400 76.32%,#ffb200 76.52%,#ff9100 79.17%,#fe8b00 82.5%,#ffab00 85.83%,#ffff00 90.94%,#bcec00 92.92%,#3fc903 95.42%,#0ebe18 97.08%,#00cf5c 98.75%,#00e0a1 100%)"></i><i style="inset:24px;background:conic-gradient(from 90deg,#03e2b0 0%,#0de7db 1.25%,#11e6e9 2.5%,#12e5e9 4.58%,#0ce6d5 5.42%,#00d983 7.08%,#03c943 8.33%,#0bc124 9.58%,#0ac227 10.42%,#01cb4c 11.25%,#04e2b3 12.5%,#0ee7e1 13.33%,#12e5e9 14.58%,#12e4e9 15.36%,#0be6d3 15.42%,#00da87 15.49%,#0ac227 15.56%,#5ad100 15.62%,#ddf500 15.69%,#ffd100 15.76%,#ff9c00 15.83%,#fe8c00 15.89%,#fc8700 19.58%,#ff9f00 20.83%,#ffff00 23.53%,#ade700 24.58%,#4ccd00 25.42%,#16be0e 26.25%,#00ce5a 27.92%,#04e2b1 29.58%,#0fe7e2 31.25%,#1fd0f1 37.08%,#11e6e9 41.25%,#1ed1f1 45.42%,#16dfec 46.39%,#0be6d3 46.56%,#02e1a8 46.67%,#0dbf1c 46.91%,#76d800 47.09%,#fdfe00 47.26%,#ffa000 47.5%,#fa8000 47.61%,#f26800 47.79%,#e94a00 50%,#ea4e00 52.5%,#fc8700 56.25%,#ffaf00 57.92%,#ffff00 60.27%,#8ade00 62.5%,#41ca02 63.75%,#0fbd15 65.15%,#00d060 66.67%,#03e2ae 67.92%,#0ee7e0 69.17%,#16deec 70.83%,#17ddec 72.5%,#10e8e8 73.33%,#06e3ba 74.67%,#00df9c 74.86%,#00ce58 75.06%,#10bc11 75.26%,#48cc00 75.42%,#ccf000 75.66%,#ffeb00 75.85%,#ffc300 76.05%,#ffb100 76.25%,#ff8f00 79.17%,#fe8c00 82.5%,#ffb600 86.25%,#ffff00 90.62%,#afe800 92.92%,#43cb01 95%,#0fbd15 96.68%,#00ce56 98.33%,#03e2b0 100%)"></i><i style="inset:25.5px;background:conic-gradient(from 90deg,#07e3bd 0%,#0fe7e3 1.25%,#12e4ea 4.17%,#0ce6d6 5%,#00d984 6.67%,#03c943 7.92%,#0bc123 9.17%,#0bc125 10%,#02ca49 10.83%,#03e2b0 12.08%,#0ee7df 12.92%,#11e7e9 13.75%,#12e4ea 15.08%,#0be6d2 15.14%,#00db8a 15.21%,#0ac226 15.28%,#5ad100 15.34%,#e6f800 15.42%,#ffd100 15.48%,#ffa000 15.55%,#fe8c00 15.62%,#fd8a00 19.58%,#ffb400 21.25%,#fafe00 23.33%,#baeb00 24.17%,#5cd100 25%,#38c705 25.42%,#0fbd15 26.19%,#00d36a 27.92%,#06e3bb 29.58%,#0ee7e0 30.83%,#16deec 32.92%,#1fd1f1 37.5%,#11e6e9 40.83%,#1fd0f2 45%,#16dfec 46.09%,#0be6d2 46.26%,#00d882 46.44%,#0dbf1d 46.61%,#20c10b 46.67%,#76d800 46.79%,#fcfe00 46.97%,#ffb800 47.14%,#fa8000 47.32%,#f26800 47.5%,#e94a00 49.58%,#e94c00 52.08%,#f97c00 55.42%,#ffaa00 57.5%,#ffff00 60.02%,#94e000 62.08%,#47cc00 63.33%,#0fbd15 64.88%,#00cd56 66.25%,#06e3bb 67.92%,#0fe8e6 69.17%,#19daed 72.08%,#0fe8e4 73.33%,#07e3bd 74.41%,#00e0a1 74.61%,#00cf5b 74.81%,#0fbd13 75%,#5ed200 75.2%,#d7f300 75.42%,#ffea00 75.59%,#ffbb00 75.83%,#ffb000 75.98%,#ff8f00 78.75%,#fd8b00 82.08%,#ffad00 85.42%,#fcfe00 90.42%,#b4e900 92.5%,#47cc00 94.58%,#0fbd15 96.38%,#00cc51 97.92%,#03e1ac 99.58%,#07e3bd 100%)"></i><i style="inset:27px;background:conic-gradient(from 90deg,#09e5ca 0%,#10e8e8 1.3%,#13e3ea 3.75%,#0ce6d8 4.58%,#00d984 6.25%,#03c943 7.5%,#0bc123 8.75%,#0bc124 9.58%,#02ca46 10.42%,#03e1ac 11.67%,#0de7dd 12.5%,#11e7e9 13.33%,#13e4ea 14.79%,#0be6d2 14.86%,#00da87 14.93%,#0bc124 15%,#5dd200 15.07%,#dff600 15.13%,#ffd300 15.2%,#ff9f00 15.27%,#fe8c00 15.34%,#fc8700 19.17%,#ffa200 20.42%,#ffff00 22.98%,#c6ee00 23.75%,#41ca02 25%,#0fbd15 25.92%,#00d062 27.5%,#05e2b6 29.17%,#0ee7dd 30.42%,#13e4ea 31.67%,#1fcff2 36.81%,#11e6e9 40.83%,#20cef2 44.58%,#14e2eb 45.83%,#0be6d2 45.96%,#00d881 46.14%,#0dbf1b 46.32%,#76d900 46.5%,#feff00 46.68%,#ffb700 46.85%,#f67500 47.08%,#f26800 47.21%,#e94a00 49.17%,#e84900 51.67%,#f87900 55%,#ffa600 57.08%,#ffff00 59.78%,#9ee300 61.67%,#3dc903 63.33%,#0fbd15 64.61%,#01cb4d 65.83%,#04e2b4 67.5%,#0fe7e2 68.75%,#1ad8ee 71.67%,#12e6e9 72.92%,#07e4c1 74.17%,#01e0a4 74.36%,#00cc50 74.58%,#0fbd15 74.74%,#5dd200 74.94%,#cbf000 75.13%,#ffea00 75.32%,#ffc200 75.52%,#ffaf00 75.71%,#fe8d00 78.75%,#fe8c00 82.08%,#ffb800 85.83%,#ffff00 90.02%,#b9eb00 92.08%,#3dc903 94.58%,#0fbd15 96.08%,#01cb4c 97.5%,#06e3ba 99.58%,#09e5ca 100%)"></i><i style="inset:28.5px;background:conic-gradient(from 90deg,#0ce6d5 0%,#12e5e9 1.25%,#14e1eb 3.33%,#10e8e7 3.75%,#05e2b4 5%,#00cd55 6.67%,#0ac22a 7.92%,#0cc01f 8.82%,#08c430 9.58%,#00d061 10.42%,#08e4c5 11.67%,#10e8e7 12.5%,#13e3ea 14.51%,#0be6d2 14.58%,#00da8a 14.65%,#0ac227 14.72%,#58d000 14.79%,#dff600 14.86%,#ffd100 14.92%,#ff9b00 15%,#fe8c00 15.06%,#fc8500 18.75%,#ff9d00 20%,#ffff00 22.71%,#ade700 23.75%,#4dcd00 24.58%,#17be0e 25.42%,#00ce59 27.08%,#04e2b0 28.75%,#0fe7e2 30.42%,#1fcff2 36.25%,#11e6e9 40.42%,#20cff2 44.58%,#16deec 45.48%,#0be6d3 45.66%,#00d982 45.84%,#0dbf1c 46.02%,#75d800 46.2%,#a0e400 46.25%,#feff00 46.38%,#ff9300 46.67%,#fa8000 46.74%,#f26800 46.92%,#e84700 49.17%,#e94a00 51.67%,#f97d00 55%,#ffae00 57.08%,#fdfe00 59.58%,#8fdf00 61.67%,#43cb01 62.92%,#0fbd15 64.34%,#00cf5e 65.83%,#03e1ac 67.08%,#0ee7df 68.33%,#15e0eb 69.58%,#1ad8ee 71.67%,#10e8e7 72.92%,#08e4c5 73.91%,#02e1a8 74.1%,#00d163 74.29%,#0ebe18 74.49%,#2ec507 74.58%,#5cd100 74.68%,#ccf000 74.87%,#fffa00 75%,#ffc000 75.26%,#ffae00 75.45%,#fe8d00 78.33%,#fd8b00 81.67%,#ffaf00 85%,#ffff00 89.73%,#ade700 92.08%,#41ca02 94.17%,#0ebe17 95.83%,#00cf5d 97.5%,#05e3b7 99.17%,#0ce6d5 100%)"></i><i style="inset:30px;background:conic-gradient(from 90deg,#0ee7df 0%,#14e2ea 1.25%,#15e0eb 2.92%,#10e7e8 3.33%,#05e2b6 4.58%,#03c944 6.67%,#0bc122 7.92%,#0cc022 8.75%,#04c842 9.58%,#00d982 10.42%,#08e4c3 11.25%,#10e8e7 12.08%,#13e3ea 14.24%,#0be6d4 14.3%,#00da8a 14.37%,#0ac227 14.44%,#5cd100 14.51%,#e6f800 14.58%,#ffd200 14.65%,#ff9f00 14.72%,#fe8c00 14.79%,#fb8400 18.33%,#ff9800 19.58%,#fbfe00 22.5%,#bbeb00 23.33%,#5ed200 24.17%,#39c804 24.58%,#0ebe16 25.42%,#00d269 27.08%,#06e3bb 28.75%,#0ee7e0 30%,#17ddec 32.08%,#1fd0f2 36.67%,#11e6e9 40%,#21cdf3 44.17%,#17dced 45.18%,#0ce6d5 45.36%,#00d984 45.54%,#0dbf1d 45.72%,#3dc903 45.83%,#fcfe00 46.08%,#ffb800 46.26%,#fa7f00 46.44%,#f26700 46.67%,#e84900 48.75%,#e84800 51.25%,#f87a00 54.58%,#ffa800 56.67%,#ffff00 59.3%,#99e200 61.25%,#4acd00 62.5%,#0ebe19 64.17%,#00cd54 65.42%,#06e3b9 67.08%,#0fe8e5 68.33%,#1bd6ef 71.25%,#0fe7e3 72.92%,#07e4c0 73.75%,#02e1ab 73.85%,#00d166 74.04%,#0ebe19 74.23%,#5bd100 74.42%,#ccf000 74.61%,#ffe800 74.8%,#ffbd00 75%,#ffac00 75.18%,#fe8d00 77.92%,#fd8900 81.25%,#ffac00 84.58%,#fbfe00 89.58%,#b3e900 91.67%,#46cb01 93.75%,#0fbd15 95.49%,#00ce57 97.08%,#04e2b3 98.75%,#0ee7df 100%)"></i><i style="inset:31.5px;background:conic-gradient(from 90deg,#10e8e6 0%,#18dbed 2.08%,#11e6e9 2.92%,#05e3b8 4.17%,#03c945 6.25%,#0bc123 7.5%,#0cc021 8.33%,#04c840 9.17%,#00d880 10%,#07e4c1 10.83%,#10e8e8 11.67%,#13e3ea 13.96%,#0ce6d4 14.02%,#00db8b 14.09%,#0bc125 14.17%,#58d000 14.23%,#def500 14.3%,#ffd200 14.37%,#ff9f00 14.44%,#fe8c00 14.51%,#fb8500 18.33%,#ff9f00 19.58%,#ffff00 22.17%,#c8ef00 22.92%,#43cb01 24.17%,#0fbd15 25.12%,#00d678 27.08%,#05e2b5 28.33%,#0de7dd 29.58%,#13e4ea 30.83%,#20cff2 35.99%,#12e5e9 40%,#22cbf3 43.75%,#18dbed 44.88%,#11e7e8 45%,#0ce6d8 45.06%,#00da86 45.24%,#0cc01f 45.42%,#72d700 45.61%,#fcfe00 45.79%,#ffb800 45.97%,#fa8000 46.15%,#f26800 46.33%,#e94a00 48.33%,#e74700 50.83%,#f46f00 53.75%,#ffb000 56.67%,#fafe00 59.17%,#a4e500 60.83%,#3fc903 62.5%,#0fbd15 63.81%,#01cb4b 65%,#04e2b2 66.67%,#0fe7e2 67.92%,#1cd5f0 70.83%,#11e6e9 72.5%,#0ae5cc 73.41%,#03e2ae 73.6%,#00d269 73.79%,#0dbf1a 73.98%,#5bd100 74.17%,#cdf100 74.35%,#ffe700 74.54%,#ffbd00 74.73%,#ffa900 75%,#fd8b00 77.92%,#fd8a00 81.25%,#ffb000 84.58%,#ffff00 89.17%,#b8ea00 91.25%,#3cc903 93.75%,#0fbd15 95.19%,#00cc51 96.67%,#03e2af 98.33%,#0ee7dd 99.58%,#10e8e6 100%)"></i><i style="inset:33px;background:conic-gradient(from 90deg,#12e5e9 0%,#19daee 1.67%,#12e4ea 2.5%,#0ae5ce 3.33%,#00d572 5%,#02ca46 5.83%,#0bc123 7.08%,#0cc020 7.92%,#04c83e 8.75%,#00ce58 9.17%,#07e3bf 10.42%,#10e8e8 11.25%,#13e3ea 13.68%,#0be6d3 13.75%,#00da8a 13.82%,#0ac228 13.89%,#59d100 13.96%,#def500 14.03%,#ffd200 14.1%,#ffa000 14.17%,#fe8c00 14.24%,#fb8300 17.92%,#ff9a00 19.17%,#ffff00 21.9%,#b1e800 22.92%,#52cf00 23.75%,#19bf0d 24.58%,#08c42f 25.42%,#00df9d 27.5%,#0de6d9 29.17%,#12e5e9 30.42%,#20cef2 35.42%,#12e5e9 39.58%,#23caf4 43.36%,#19d9ee 44.58%,#0de6d9 44.76%,#00da88 44.94%,#0cc020 45.12%,#73d700 45.31%,#caf000 45.42%,#fcfe00 45.49%,#ffb800 45.67%,#fa8000 45.85%,#f26800 46.03%,#e84800 48.33%,#e84800 50.83%,#f87b00 54.17%,#ffab00 56.25%,#ffff00 58.83%,#95e100 60.83%,#46cb01 62.08%,#0fbd15 63.55%,#00cf5b 65%,#07e3be 66.67%,#10e8e8 67.97%,#1dd4f0 70.61%,#10e8e6 72.5%,#0be5cf 73.17%,#04e2b2 73.35%,#00d36d 73.54%,#10bc10 73.75%,#59d100 73.91%,#cef100 74.09%,#f3fb00 74.17%,#ffe600 74.28%,#ffbc00 74.46%,#ffa900 74.65%,#fd8b00 77.5%,#fd8900 80.83%,#ffad00 84.17%,#ffff00 88.89%,#ace700 91.25%,#40ca02 93.33%,#0ebe19 95%,#00d163 96.67%,#07e3be 98.33%,#10e8e8 99.76%,#12e5e9 100%)"></i><i style="inset:34.5px;background:conic-gradient(from 90deg,#15e0eb 0%,#18dbed 1.67%,#0fe7e1 2.5%,#00db8e 4.17%,#02ca47 5.42%,#0bc123 6.67%,#0cc01f 7.5%,#05c73c 8.33%,#00cd55 8.75%,#06e3bd 10%,#10e8e8 10.83%,#13e2ea 13.4%,#0ce6d5 13.47%,#00da89 13.54%,#0ac228 13.61%,#58d000 13.68%,#ddf500 13.75%,#ffd100 13.82%,#ff9f00 13.89%,#fe8c00 13.96%,#fa8100 17.5%,#ff9500 18.75%,#fdfe00 21.67%,#beec00 22.5%,#3cc903 23.75%,#0fbd15 24.6%,#00d266 26.25%,#06e3ba 27.92%,#0ee7df 29.17%,#15e0eb 30.83%,#20cef2 35.43%,#12e5e9 39.17%,#23caf4 43.33%,#1bd7ef 44.28%,#0de7dc 44.46%,#02e1ab 44.58%,#0cc021 44.82%,#71d700 45.01%,#fafe00 45.19%,#ffa800 45.42%,#fa8000 45.55%,#f26800 45.74%,#e84900 47.92%,#e74700 50.42%,#f57000 53.33%,#ffb200 56.25%,#ffff00 58.59%,#a0e400 60.42%,#4fce00 61.67%,#0ebe17 63.33%,#00cc51 64.58%,#05e3b7 66.25%,#0fe8e4 67.5%,#1dd3f1 70.42%,#13e3ea 72.08%,#0be6d3 72.92%,#05e2b6 73.1%,#00ce58 73.33%,#0dbf1e 73.47%,#58d000 73.65%,#cef100 73.84%,#ffe500 74.02%,#ffba00 74.2%,#ffa700 74.38%,#fd8900 77.5%,#fd8a00 80.83%,#ffb100 84.17%,#fbfe00 88.75%,#b2e900 90.83%,#45cb01 92.92%,#0fbd15 94.6%,#00cf5d 96.25%,#06e3ba 97.92%,#0fe8e4 99.17%,#15e0eb 100%)"></i><i style="inset:36px;background:conic-gradient(from 90deg,#18dbed 0%,#19daee 1.25%,#0fe8e4 2.08%,#00dc90 3.75%,#02ca49 5%,#0bc124 6.25%,#0cc01f 7.08%,#06c63a 7.92%,#00cc52 8.33%,#06e3bb 9.58%,#10e8e8 10.42%,#14e2ea 13.13%,#0ce6d5 13.2%,#00da89 13.27%,#0ac229 13.34%,#57d000 13.41%,#dff600 13.48%,#ffd200 13.55%,#ffa000 13.62%,#fe8c00 13.69%,#fa8000 17.12%,#ff9000 18.33%,#fffa00 21.25%,#ffff00 21.37%,#ccf000 22.08%,#75d800 22.92%,#47cc00 23.33%,#0fbd15 24.34%,#00d576 26.25%,#04e2b4 27.5%,#0de7dc 28.75%,#13e4ea 30%,#20cef2 35.16%,#12e5e9 38.75%,#24c8f5 42.92%,#1cd5ef 43.98%,#0de7db 44.17%,#00db8c 44.34%,#0cc022 44.52%,#1ec00c 44.58%,#6ed600 44.71%,#f9fd00 44.89%,#ffb900 45.07%,#fa7f00 45.26%,#f26800 45.44%,#e84800 47.92%,#e84900 50.42%,#f97d00 53.75%,#ffad00 55.83%,#ffff00 58.36%,#90df00 60.42%,#42ca02 61.67%,#0fbd15 63.02%,#00d163 64.58%,#03e2af 65.83%,#0ee7e1 67.08%,#1cd5ef 69.17%,#1cd4f0 70.83%,#11e6e9 72.08%,#0ce6d7 72.68%,#06e3b9 72.86%,#01e1a6 72.92%,#00d572 73.04%,#0cc01f 73.22%,#35c705 73.33%,#57d000 73.4%,#cff100 73.58%,#ffe400 73.76%,#ffb800 73.94%,#ffa500 74.17%,#fc8800 77.5%,#fd8b00 80.83%,#ffbc00 84.58%,#ffff00 88.34%,#b8ea00 90.42%,#4bcd00 92.5%,#0fbd15 94.31%,#00ce56 95.83%,#05e2b6 97.5%,#0fe7e3 98.75%,#18dbed 100%)"></i><i style="inset:37.5px;background:conic-gradient(from 90deg,#1bd7ef 0%,#16dfec 1.25%,#10e8e6 1.67%,#00dd93 3.33%,#01cb4a 4.58%,#0bc124 5.83%,#0cc01e 6.67%,#06c638 7.5%,#00cc4f 7.92%,#05e3b8 9.17%,#10e8e7 10%,#14e1eb 11.67%,#14e2ea 12.85%,#0ce6d5 12.92%,#00da89 12.99%,#0ac229 13.06%,#5bd100 13.14%,#ddf500 13.21%,#ffd100 13.28%,#ffa000 13.35%,#fe8c00 13.42%,#fa8000 17.08%,#ff9600 18.33%,#ffff00 21.11%,#b5e900 22.08%,#58d000 22.92%,#1cc00c 23.75%,#0ebe18 24.17%,#00d36c 25.83%,#03e2ae 27.08%,#0fe7e2 28.75%,#20cff2 33.75%,#1cd5ef 36.25%,#12e5e9 38.75%,#25c7f5 42.5%,#1dd4f0 43.67%,#0ee7e0 43.86%,#00dc8f 44.04%,#0bc124 44.22%,#6dd600 44.41%,#f9fd00 44.59%,#ffb900 44.77%,#f77600 45%,#f26700 45.14%,#e84900 47.5%,#e74700 50%,#f57100 52.92%,#ffa700 55.42%,#ffff00 58.13%,#9be200 60%,#49cc00 61.25%,#0fbd15 62.77%,#00ce59 64.17%,#06e3bc 65.83%,#10e8e8 67.16%,#1fd0f1 70%,#15e1eb 71.67%,#0de6da 72.43%,#0ce6d4 72.5%,#06e3bd 72.61%,#00d576 72.79%,#0cc021 72.96%,#56d000 73.14%,#d6f300 73.33%,#ffe300 73.5%,#ffab00 73.75%,#ff9f00 74.17%,#fc8600 77.5%,#fe8d00 80.83%,#ffc100 84.58%,#ffff00 88.08%,#ace700 90.42%,#40ca02 92.5%,#0fbd15 94.02%,#00cc50 95.42%,#04e2b2 97.08%,#0fe7e1 98.33%,#1bd7ef 100%)"></i><i style="inset:39px;background:conic-gradient(from 90deg,#1dd3f0 0%,#11e7e8 1.25%,#03e2af 2.5%,#01cb4c 4.17%,#0bc125 5.42%,#0dbf1e 6.25%,#07c535 7.08%,#01cb4c 7.5%,#05e2b5 8.75%,#10e8e6 9.58%,#15e0eb 10.83%,#14e2eb 12.58%,#0ce6d4 12.65%,#00da8a 12.72%,#0ac22a 12.79%,#59d100 12.86%,#dff600 12.93%,#ffd300 13%,#ffa000 13.08%,#fe8c00 13.15%,#fa7f00 16.67%,#ff9100 17.92%,#ffff00 20.86%,#c3ee00 21.67%,#41ca02 22.92%,#0fbd15 23.84%,#00d163 25.42%,#05e3b8 27.08%,#0ee7df 28.33%,#15dfeb 30%,#21cdf3 34.61%,#12e5e9 38.33%,#26c4f6 42.14%,#1ed2f1 43.37%,#0fe7e2 43.55%,#00da88 43.75%,#0bc125 43.92%,#6dd600 44.11%,#a2e400 44.17%,#f9fd00 44.29%,#ff9300 44.58%,#fa7f00 44.66%,#f26700 44.84%,#e94a00 47.08%,#e84900 50%,#f97e00 53.33%,#ffae00 55.42%,#feff00 57.92%,#a7e600 59.58%,#3ec903 61.25%,#0fbd15 62.51%,#00cc4f 63.75%,#05e2b5 65.42%,#0fe8e4 66.67%,#20cff2 69.72%,#18dbed 71.25%,#0ee7de 72.19%,#07e4c1 72.36%,#00d67a 72.54%,#0bc123 72.71%,#54cf00 72.89%,#d0f100 73.06%,#ffe200 73.24%,#ffb500 73.41%,#ffa200 73.59%,#fc8600 77.08%,#fd8b00 80.42%,#ffbe00 84.17%,#fcfe00 87.92%,#b3e900 90%,#45cb01 92.08%,#0fbd16 93.75%,#00d163 95.42%,#07e4c1 97.08%,#11e7e9 98.33%,#1dd3f0 100%)"></i><i style="inset:40.5px;background:conic-gradient(from 90deg,#1dd2f1 0%,#13e3ea 0.83%,#09e5c9 1.67%,#00d266 3.33%,#04c83e 4.17%,#0cc01f 5.42%,#0bc124 6.25%,#02ca49 7.08%,#04e2b1 8.33%,#0fe8e4 9.17%,#15dfeb 10.42%,#14e1eb 12.3%,#0ce6d4 12.37%,#00da8a 12.44%,#09c32a 12.51%,#57d000 12.59%,#ddf500 12.66%,#ffd200 12.73%,#ff9f00 12.8%,#fe8c00 12.88%,#f97e00 16.39%,#fe8c00 17.5%,#ffd700 19.58%,#ffff00 20.6%,#ace700 21.67%,#4ece00 22.5%,#18be0e 23.33%,#03c943 24.58%,#04e2b2 26.67%,#0de7db 27.92%,#13e4ea 29.17%,#21cdf3 34.17%,#12e5e9 37.92%,#28c1f7 41.82%,#1fd0f1 43.06%,#0fe8e4 43.25%,#08e4c3 43.33%,#00dd93 43.43%,#0bc126 43.62%,#42ca02 43.75%,#f9fd00 43.99%,#ffb800 44.18%,#fa7f00 44.36%,#f26700 44.58%,#e84800 47.08%,#e94b00 50%,#fb8200 53.33%,#ffb600 55.42%,#ffff00 57.67%,#97e100 59.58%,#45cb01 60.83%,#0fbd15 62.25%,#00d05f 63.75%,#03e1ad 65%,#0ee7e0 66.25%,#1bd7ef 67.92%,#20cef2 70%,#0fe7e3 71.94%,#08e4c5 72.11%,#00d87e 72.29%,#10bc11 72.5%,#54cf00 72.63%,#cff100 72.81%,#fff500 72.92%,#ffb400 73.15%,#ffa000 73.33%,#fc8600 76.67%,#fd8900 80%,#ffb300 83.33%,#ffff00 87.55%,#b9eb00 89.58%,#3bc804 92.08%,#0fbd15 93.44%,#00cf5b 95%,#06e3bc 96.67%,#10e7e8 97.92%,#1fd0f1 99.62%,#1dd2f1 100%)"></i><i style="inset:42px;background:conic-gradient(from 90deg,#1bd6ef 0%,#0fe7e1 0.83%,#00d985 2.5%,#00cc51 3.33%,#0ac227 4.58%,#0dbf1d 5.42%,#08c431 6.25%,#00d165 7.08%,#0ae5cb 8.33%,#0fe7e3 8.75%,#16deec 9.58%,#14e1eb 12.02%,#0ce6d6 12.09%,#00db8d 12.17%,#09c32b 12.24%,#56d000 12.31%,#dbf500 12.38%,#ffd100 12.46%,#ff9f00 12.53%,#fe8c00 12.6%,#f97e00 16.25%,#ff9200 17.5%,#fbfe00 20.42%,#bbeb00 21.25%,#3bc804 22.5%,#0fbd15 23.34%,#00d268 25%,#02e1ab 26.25%,#0ee7e1 27.92%,#1bd6ef 30.83%,#20cef2 34.58%,#12e5e9 37.5%,#2abef9 41.51%,#20cef2 42.76%,#0fe8e6 42.94%,#00dd94 43.13%,#0dbf1c 43.33%,#6ad500 43.5%,#fafd00 43.69%,#ffb800 43.87%,#fa7f00 44.06%,#f26700 44.25%,#e84900 46.67%,#e84900 49.58%,#f97e00 52.92%,#ffb000 55%,#fcfe00 57.5%,#a3e400 59.17%,#4fce00 60.42%,#0fbd15 61.99%,#00cd55 63.33%,#06e3ba 65%,#10e8e8 66.34%,#21cdf3 68.75%,#1ed1f1 70.42%,#10e8e7 71.7%,#09e5c9 71.87%,#00d882 72.04%,#0ac227 72.21%,#51ce00 72.38%,#b1e800 72.5%,#cff100 72.55%,#ffe000 72.72%,#ffad00 72.92%,#ff9e00 73.06%,#fb8500 76.67%,#fd8b00 80%,#ffbf00 83.75%,#ffff00 87.29%,#aee700 89.58%,#40ca02 91.67%,#0fbd15 93.16%,#00cd53 94.58%,#05e3b7 96.25%,#10e8e8 97.52%,#20cdf3 99.24%,#1bd6ef 100%)"></i><i style="inset:43.5px;background:conic-gradient(from 90deg,#17dced 0%,#10e8e6 0.42%,#00da89 2.08%,#00cd54 2.92%,#0ac228 4.17%,#0dbf1d 5.05%,#08c42e 5.83%,#00d060 6.67%,#09e4c8 7.92%,#0ee7e1 8.33%,#17ddec 9.17%,#14e1eb 11.75%,#0ce6d5 11.82%,#00db8c 11.89%,#09c32a 11.96%,#55d000 12.04%,#b3e900 12.08%,#dff600 12.11%,#ffd200 12.18%,#ffa000 12.26%,#fe8c00 12.33%,#f97d00 15.93%,#fe8c00 17.08%,#ffeb00 19.58%,#ffff00 20.1%,#c9ef00 20.83%,#46cc00 22.08%,#0fbd15 23.1%,#00d677 25%,#05e2b5 26.25%,#0ee7de 27.5%,#13e3ea 28.75%,#21ccf3 33.33%,#17dced 35.83%,#12e4ea 37.5%,#2cbafa 41.2%,#21cdf3 42.45%,#10e8e7 42.64%,#00dd95 42.82%,#00cf5b 42.92%,#0ac227 43.01%,#6bd500 43.2%,#f8fd00 43.39%,#ffb800 43.58%,#fa7f00 43.76%,#f26700 43.95%,#e84800 46.67%,#e94b00 49.58%,#fd8b00 53.33%,#ffd200 55.83%,#ffff00 57.21%,#93e000 59.17%,#42ca02 60.42%,#0fbd15 61.74%,#01cb4c 62.92%,#04e2b2 64.58%,#0fe7e3 65.83%,#23c9f4 69.04%,#1ad8ee 70.83%,#12e5e9 71.46%,#0ae5ce 71.62%,#00da87 71.79%,#0ac229 71.96%,#38c705 72.08%,#51ce00 72.12%,#d0f100 72.29%,#ffdf00 72.46%,#ffb100 72.62%,#ff9d00 72.79%,#fb8500 76.25%,#fd8900 79.58%,#ffb400 82.92%,#feff00 87.08%,#b4e900 89.17%,#45cb01 91.25%,#0ebe17 92.92%,#01cb4d 94.17%,#04e2b2 95.83%,#10e8e8 97.16%,#22cbf4 98.85%,#17dced 100%)"></i><i style="inset:45px;background:conic-gradient(from 90deg,#11e6e9 0%,#02e1a8 1.25%,#00ce58 2.5%,#0ac229 3.75%,#0dbf1c 4.69%,#09c32c 5.42%,#00cf5b 6.25%,#08e4c4 7.5%,#0ee7de 7.92%,#14e1eb 8.33%,#17ddec 10.42%,#15e1eb 11.47%,#0ce6d5 11.54%,#00db8d 11.61%,#0ac228 11.69%,#58d000 11.76%,#dbf500 11.83%,#ffd200 11.91%,#ffa000 11.98%,#fe8c00 12.06%,#f97c00 15.42%,#fc8700 16.67%,#ffc100 18.33%,#ffff00 19.85%,#b4e900 20.83%,#58d000 21.67%,#1dc00c 22.5%,#0ebe18 22.92%,#00d36d 24.58%,#03e2af 25.83%,#0de6da 27.08%,#13e4ea 28.33%,#21ccf3 32.92%,#1bd6ef 35%,#12e4e9 37.08%,#2eb7fb 40.88%,#22cbf4 42.14%,#10e7e8 42.33%,#00dd96 42.52%,#0ac227 42.71%,#6cd600 42.9%,#f8fd00 43.09%,#ffa400 43.33%,#f97f00 43.46%,#f26700 43.65%,#e84800 46.25%,#e84900 49.17%,#f97f00 52.5%,#ffb000 54.58%,#fafe00 57.08%,#9fe300 58.75%,#4acd00 60%,#0fbd15 61.48%,#00cf5c 62.92%,#07e3be 64.58%,#10e7e8 65.83%,#23c9f4 68.33%,#1dd3f0 70.42%,#13e3ea 71.25%,#0be6d3 71.38%,#00db8b 71.54%,#09c32c 71.71%,#4ece00 71.87%,#d1f200 72.04%,#effa00 72.08%,#ffde00 72.2%,#ffaf00 72.36%,#ff9b00 72.53%,#fb8400 76.25%,#fd8a00 79.58%,#ffc000 83.33%,#ffff00 86.79%,#a8e600 89.17%,#3cc804 91.25%,#0fbd15 92.59%,#00d05f 94.17%,#07e4c1 95.83%,#10e8e8 96.8%,#24c8f5 98.33%,#1ad8ee 99.58%,#11e6e9 100%)"></i><i style="inset:46.5px;background:conic-gradient(from 90deg,#0de7dc 0%,#00d677 1.67%,#02ca47 2.5%,#0cc021 3.75%,#0cc01e 4.58%,#05c73c 5.42%,#00ce56 5.83%,#07e4c0 7.08%,#0de7dc 7.5%,#14e2ea 7.92%,#18dbed 9.17%,#15e0eb 11.19%,#0ce6d6 11.26%,#00db8b 11.34%,#09c32b 11.41%,#58d000 11.48%,#dff600 11.56%,#ffd300 11.63%,#ffa000 11.71%,#fe8c00 11.78%,#f97c00 15%,#fb8300 16.25%,#ffa800 17.5%,#ffff00 19.6%,#c2ed00 20.42%,#41ca02 21.67%,#0fbd15 22.61%,#00d162 24.17%,#06e3b9 25.83%,#0ee7e0 27.08%,#16deec 28.75%,#22cbf3 33.33%,#12e4e9 36.67%,#28c1f7 39.17%,#30b5fc 40.83%,#23c9f4 41.84%,#11e6e9 42.03%,#0ce6d7 42.08%,#00de97 42.22%,#0ac228 42.41%,#29c309 42.5%,#69d500 42.6%,#f8fd00 42.79%,#ffb800 42.98%,#f97f00 43.17%,#f26700 43.36%,#e84700 46.25%,#e94b00 49.17%,#fe8b00 52.92%,#ffc500 55%,#ffff00 56.76%,#abe700 58.33%,#3fc903 60%,#0fbd16 61.25%,#00cc51 62.5%,#05e3b7 64.17%,#10e8e8 65.52%,#24c8f5 67.92%,#20cef2 70%,#16deec 70.97%,#0ce6d7 71.13%,#00dc8f 71.29%,#09c32e 71.46%,#4dcd00 71.62%,#d0f100 71.78%,#ffde00 71.94%,#ffad00 72.1%,#ff9900 72.26%,#fb8300 76.25%,#fd8800 79.17%,#ffb500 82.5%,#fbfe00 86.67%,#b0e800 88.75%,#41ca02 90.83%,#0fbd15 92.3%,#00ce57 93.75%,#06e3bc 95.42%,#10e8e8 96.45%,#25c5f6 97.92%,#1cd5f0 99.17%,#0de7dc 100%)"></i><i style="inset:48px;background:conic-gradient(from 90deg,#09e5ca 0%,#00d060 1.67%,#06c639 2.5%,#0dbf1d 3.75%,#0ac227 4.58%,#00cc51 5.42%,#06e3bc 6.67%,#0de6d8 7.08%,#13e4ea 7.5%,#19daee 8.33%,#15e0eb 10.91%,#0ce6d7 10.98%,#00db8d 11.06%,#0ac229 11.13%,#59d100 11.21%,#b0e800 11.25%,#dbf500 11.28%,#ffd300 11.35%,#ffa000 11.43%,#fe8c00 11.5%,#f87b00 15%,#fc8700 16.25%,#ffc300 17.92%,#ffff00 19.36%,#ace700 20.42%,#50ce00 21.25%,#19bf0d 22.08%,#08c42f 22.92%,#00e09f 25%,#0de7dc 26.67%,#13e3ea 27.92%,#22cbf3 32.5%,#1ad7ef 34.58%,#12e4e9 36.25%,#1fd1f1 37.92%,#32b1fe 40%,#2abff8 41.25%,#24c7f5 41.54%,#12e5e9 41.72%,#00de98 41.92%,#0ac229 42.11%,#6ad500 42.3%,#fffe00 42.5%,#ffb800 42.68%,#f67500 42.92%,#f26700 43.06%,#e84800 45.83%,#e84900 48.75%,#f97f00 52.08%,#ffb100 54.17%,#ffff00 56.54%,#9be200 58.33%,#46cb01 59.58%,#0fbd15 60.97%,#00d162 62.5%,#03e2af 63.75%,#0fe7e2 65%,#26c5f6 67.92%,#20cef2 70%,#19daed 70.73%,#12e5e9 70.83%,#0de7dc 70.89%,#00dd93 71.05%,#0ebe16 71.25%,#4bcd00 71.36%,#d0f100 71.52%,#ffdc00 71.68%,#ffac00 71.84%,#ff9700 72%,#fa8200 76.25%,#fd8a00 79.17%,#ffc000 82.92%,#ffff00 86.29%,#b7ea00 88.33%,#47cc00 90.42%,#0ebe17 92.08%,#00cc4f 93.33%,#05e3b7 95%,#10e8e8 96.09%,#27c3f7 97.5%,#24c8f5 98.33%,#0ee7e0 99.58%,#09e5ca 100%)"></i><i style="inset:49.5px;background:conic-gradient(from 90deg,#05e2b6 0%,#01cb4c 1.67%,#0bc123 2.92%,#0dbf1c 3.75%,#06c636 4.58%,#01cb4d 5%,#05e3b9 6.25%,#12e4e9 7.08%,#1ad8ee 7.92%,#15e0eb 10.62%,#0ce6d6 10.7%,#00db8c 10.78%,#09c32a 10.85%,#56d000 10.92%,#dbf500 11%,#ffd200 11.08%,#ffa000 11.15%,#fe8c00 11.25%,#f87b00 14.58%,#fb8300 15.83%,#ffa900 17.08%,#fcfe00 19.17%,#bcec00 20%,#3dc903 21.25%,#0fbd15 22.13%,#00d266 23.75%,#02e1aa 25%,#0ce6d7 26.25%,#12e4e9 27.5%,#22cbf4 32.08%,#1cd5ef 34.17%,#13e3ea 36.25%,#34aeff 39.58%,#32b1fe 40.42%,#25c7f5 41.25%,#13e4ea 41.42%,#00de99 41.61%,#0ac229 41.81%,#6ad500 42%,#b2e900 42.08%,#f9fd00 42.19%,#ff9000 42.5%,#f97f00 42.57%,#f26700 42.76%,#e84900 45.42%,#e84800 48.33%,#f67200 51.25%,#ffaa00 53.75%,#ffff00 56.32%,#a8e600 57.92%,#51ce00 59.17%,#0fbd15 60.72%,#00ce57 62.08%,#06e3bc 63.75%,#10e7e8 65%,#26c4f6 67.5%,#23c9f4 69.58%,#1bd6ef 70.49%,#0ee7e0 70.65%,#00d982 70.83%,#07c532 70.96%,#4acc00 71.11%,#d1f200 71.27%,#ffdb00 71.42%,#ffaa00 71.58%,#ff9600 71.73%,#fa8100 75.83%,#fc8800 78.75%,#ffb500 82.08%,#ffff00 86.05%,#abe700 88.33%,#3dc903 90.42%,#0fbd15 91.74%,#00d062 93.33%,#09e4c7 95%,#12e5e9 95.83%,#28c1f8 97.08%,#26c4f6 97.92%,#0fe8e6 99.17%,#05e2b6 100%)"></i><i style="inset:51px;background:conic-gradient(from 90deg,#00e0a2 0%,#00cc4f 1.25%,#0bc124 2.5%,#0dbf1c 3.33%,#07c533 4.17%,#02ca4a 4.58%,#05e2b5 5.83%,#12e5e9 6.67%,#1bd6ef 7.5%,#15e0eb 10.34%,#0ce6d7 10.42%,#00db8c 10.49%,#09c32c 10.57%,#57d000 10.65%,#def500 10.72%,#ffd300 10.8%,#ffa000 10.88%,#fe8c00 10.96%,#f87b00 14.17%,#fa7f00 15.42%,#ffa200 16.67%,#ffff00 18.87%,#a5e500 20%,#49cc00 20.83%,#16be0e 21.67%,#00cf5c 23.33%,#05e2b4 25%,#0ee7dd 26.25%,#14e2ea 27.5%,#23c9f4 32.08%,#1ad8ee 34.17%,#13e4ea 35.83%,#29c0f8 37.92%,#34a8fe 39.58%,#28c1f8 40.83%,#26c4f6 40.92%,#14e2ea 41.12%,#06e3b9 41.25%,#00df9c 41.31%,#0ac229 41.5%,#51ce00 41.67%,#f7fd00 41.89%,#ffb700 42.08%,#f97e00 42.27%,#f26600 42.5%,#e84800 45.42%,#e84900 48.33%,#f97f00 51.67%,#ffb100 53.75%,#ffff00 56.1%,#98e200 57.92%,#43cb01 59.17%,#0fbd15 60.47%,#01cb4e 61.67%,#05e2b4 63.33%,#10e8e8 64.69%,#27c4f6 67.08%,#25c5f6 69.17%,#1dd3f0 70.25%,#0ee7e0 70.42%,#00df9c 70.56%,#07c534 70.71%,#48cc00 70.86%,#d1f200 71.01%,#ffdb00 71.16%,#ffa800 71.31%,#ff9400 71.46%,#fa8100 75.83%,#fd8900 78.75%,#ffc100 82.5%,#feff00 85.83%,#b3e900 87.92%,#42ca02 90%,#0fbd15 91.46%,#00ce5a 92.92%,#07e4c2 94.58%,#10e7e8 95.42%,#2abff8 96.67%,#29c0f8 97.5%,#11e6e9 98.75%,#00e0a2 100%)"></i><i style="inset:52.5px;background:conic-gradient(from 90deg,#00db8b 0%,#00cd53 0.83%,#0bc125 2.08%,#0dbf1b 2.92%,#08c430 3.75%,#02ca46 4.17%,#04e2b1 5.42%,#11e6e9 6.25%,#1dd3f0 7.08%,#15dfeb 10.06%,#0ce6d7 10.14%,#00dc8e 10.21%,#09c32b 10.29%,#55d000 10.37%,#ade700 10.42%,#dbf500 10.45%,#ffd200 10.53%,#ff9f00 10.61%,#fe8c00 10.68%,#f87b00 14.17%,#fb8300 15.42%,#ffab00 16.67%,#ffff00 18.63%,#b7ea00 19.58%,#5dd200 20.42%,#39c804 20.83%,#0fbd15 21.67%,#00d26a 23.33%,#03e1ad 24.58%,#0de6d9 25.83%,#13e3ea 27.08%,#24c9f4 31.67%,#1bd6ef 33.75%,#12e4ea 35.42%,#23caf4 37.08%,#34a7fe 38.75%,#34a6fe 39.58%,#27c2f7 40.62%,#11e7e8 40.83%,#00df9c 41.01%,#11bc10 41.25%,#67d400 41.39%,#f8fd00 41.59%,#ffb800 41.78%,#f97e00 41.98%,#f26700 42.17%,#e84800 45%,#e84800 47.92%,#f57200 50.83%,#ffaa00 53.33%,#ffff00 55.88%,#a5e500 57.5%,#4dcd00 58.75%,#0fbd15 60.22%,#00cf5e 61.67%,#03e1ac 62.92%,#0ee7e1 64.17%,#29c0f8 67.08%,#23c9f4 69.58%,#1fcff2 70.02%,#10e7e8 70.16%,#00e09f 70.31%,#06c636 70.46%,#47cc00 70.61%,#d2f200 70.76%,#fff700 70.83%,#ffa700 71.05%,#ff9200 71.2%,#fa8000 75.83%,#fd8b00 78.75%,#ffc500 82.5%,#ffff00 85.58%,#baeb00 87.5%,#48cc00 89.58%,#0ebe17 91.25%,#00cc51 92.5%,#06e3bc 94.17%,#10e8e8 95.05%,#2bbdf9 96.25%,#2bbdf9 97.08%,#14e1eb 98.33%,#07e4c1 99.17%,#00db8b 100%)"></i><i style="inset:54px;background:conic-gradient(from 90deg,#00d573 0%,#03c943 0.83%,#0cc01e 2.08%,#0cc020 2.92%,#03c942 3.75%,#00da87 4.58%,#0ae5cd 5.42%,#10e8e8 5.83%,#1ed1f1 6.67%,#16dfec 9.78%,#0ce6d7 9.86%,#00dc8f 9.94%,#0ac22a 10.02%,#55d000 10.09%,#ddf500 10.18%,#ffd400 10.25%,#ffa000 10.33%,#fe8c00 10.42%,#f87b00 13.75%,#fa7f00 15%,#ffa300 16.25%,#ffff00 18.4%,#c6ee00 19.17%,#45cb01 20.42%,#0fbd15 21.42%,#00d678 23.33%,#05e3b7 24.58%,#0ee7df 25.83%,#17ddec 27.5%,#24c7f5 31.9%,#12e4ea 35.01%,#1cd4f0 36.25%,#34a4fe 38.33%,#34a0fd 39.17%,#29c0f8 40.31%,#22cbf3 40.42%,#16deec 40.5%,#00e0a0 40.7%,#01cb4b 40.83%,#09c32b 40.89%,#66d400 41.09%,#f7fd00 41.28%,#ffb900 41.48%,#f97e00 41.68%,#f26600 41.87%,#e84900 44.58%,#e94a00 47.92%,#f97e00 51.25%,#ffb000 53.33%,#ffff00 55.66%,#95e100 57.5%,#40ca02 58.75%,#0ebe16 60%,#00cd53 61.25%,#06e3ba 62.92%,#10e8e8 64.17%,#29c0f8 66.67%,#26c5f6 69.17%,#22ccf3 69.78%,#13e4ea 69.92%,#09e5ca 70%,#01e0a3 70.07%,#06c638 70.21%,#47cc00 70.36%,#d0f100 70.5%,#ffd900 70.64%,#ff9b00 70.83%,#ff9100 70.93%,#fa7f00 75.83%,#fe8d00 78.75%,#ffd100 82.92%,#fdfe00 85.42%,#b0e800 87.5%,#3ec903 89.58%,#0fbd15 90.91%,#01cb4a 92.08%,#05e2b6 93.75%,#10e8e8 94.71%,#2bbcfa 95.83%,#2db9fb 96.67%,#17dced 97.92%,#0ee7e0 98.33%,#00d573 100%)"></i><i style="inset:55.5px;background:conic-gradient(from 90deg,#00cf5d 0%,#07c536 0.83%,#0dbf1b 2.08%,#09c32a 2.92%,#00cf5b 3.75%,#09e5c9 5%,#0fe8e6 5.42%,#20cff2 6.41%,#16dfec 9.5%,#0ce6d6 9.58%,#00dc8f 9.66%,#09c32b 9.74%,#55d000 9.82%,#dbf500 9.9%,#ffd300 9.98%,#ffa000 10.06%,#fe8c00 10.14%,#f87b00 13.75%,#fb8300 15%,#ffac00 16.25%,#ffff00 18.17%,#b2e900 19.17%,#57d000 20%,#1dc00c 20.83%,#0ebe18 21.25%,#00d36d 22.92%,#03e2af 24.17%,#0de6da 25.42%,#14e2ea 26.67%,#24c7f5 30.83%,#21ccf3 32.5%,#13e4ea 34.71%,#1bd5ef 35.83%,#34aaff 37.5%,#3598fd 38.58%,#34adff 39.58%,#2bbdf9 40%,#18dced 40.19%,#00dd93 40.42%,#09c32d 40.59%,#64d300 40.78%,#f6fc00 40.98%,#ffa000 41.25%,#f97e00 41.37%,#f26600 41.57%,#e84800 44.58%,#e84800 47.5%,#f57200 50.42%,#ffa900 52.92%,#ffff00 55.44%,#a2e400 57.08%,#49cc00 58.33%,#0fbd15 59.73%,#00d164 61.25%,#04e2b2 62.5%,#10e8e8 63.87%,#29bff8 66.25%,#29c0f8 68.75%,#22cbf4 69.58%,#15e0eb 69.68%,#01e1a7 69.82%,#0cc020 70%,#46cb01 70.1%,#d1f200 70.24%,#ffd700 70.38%,#ffa400 70.52%,#ff8f00 70.66%,#fa7f00 75.83%,#ff8f00 78.75%,#ffe500 83.75%,#ffff00 85.12%,#b8ea00 87.08%,#44cb01 89.17%,#0fbd15 90.64%,#00cf5c 92.08%,#09e4c8 93.75%,#10e8e8 94.36%,#2cbbfa 95.42%,#2fb6fc 96.25%,#1ad8ef 97.5%,#10e8e6 97.92%,#00d679 99.58%,#00cf5d 100%)"></i><i style="inset:57px;background:conic-gradient(from 90deg,#02ca4a 0%,#0cc020 1.25%,#0dbf1d 2.08%,#05c73b 2.92%,#00cd55 3.33%,#08e4c4 4.58%,#0fe7e3 5%,#21cdf3 6.08%,#1ad9ee 8.75%,#16dfec 9.23%,#0ce6d8 9.31%,#00db8c 9.39%,#09c32a 9.47%,#59d100 9.56%,#ddf500 9.64%,#ffd200 9.72%,#ffa000 9.8%,#fe8c00 9.88%,#f87b00 13.33%,#fa7f00 14.58%,#ffa300 15.83%,#ffff00 17.94%,#c2ed00 18.75%,#42ca02 20%,#0fbd15 20.96%,#00d062 22.5%,#05e3b9 24.17%,#0ee7e0 25.42%,#1ad8ee 27.5%,#25c5f6 31.36%,#13e3ea 34.58%,#21ccf3 35.83%,#34a8fe 37.08%,#3592fc 38.25%,#34a4fe 39.17%,#2db9fb 39.69%,#19d9ee 39.89%,#0ae5ce 40%,#01e1a5 40.08%,#08c42f 40.28%,#38c705 40.42%,#f5fc00 40.68%,#ffb800 40.88%,#f97e00 41.07%,#f26600 41.27%,#e84800 44.17%,#e94a00 47.5%,#f97e00 50.83%,#ffaf00 52.92%,#ffff00 55.23%,#b0e800 56.67%,#3ec903 58.33%,#0ebe1a 59.58%,#00ce59 60.83%,#07e3bf 62.5%,#10e8e8 63.59%,#2cbcfa 66.25%,#27c3f7 69.17%,#26c4f6 69.31%,#17dded 69.44%,#01e1a6 69.58%,#05c73c 69.71%,#45cb01 69.85%,#def500 70%,#ffd700 70.12%,#ffa200 70.26%,#fe8d00 70.42%,#f97e00 75.95%,#ff9100 78.75%,#fff900 84.58%,#fcfe00 85%,#ade700 87.08%,#4ccd00 88.75%,#0ebe17 90.42%,#00cd53 91.67%,#08e4c2 93.33%,#10e8e8 94.03%,#2cbbfa 95%,#32b0fe 95.53%,#27c4f6 96.67%,#12e4ea 97.5%,#00d87f 99.17%,#02ca4a 100%)"></i><i style="inset:58.5px;background:conic-gradient(from 90deg,#05c73b 0%,#0dbf1c 1.25%,#0bc125 2.08%,#00cc4f 2.92%,#07e4c0 4.17%,#0ee7df 4.58%,#20cef2 5.42%,#1ed2f1 7.92%,#16deec 8.96%,#0ce6d8 9.04%,#00dc8e 9.12%,#09c32b 9.21%,#56d000 9.29%,#dcf500 9.37%,#ffd300 9.46%,#ffa000 9.54%,#fe8c00 9.62%,#f87b00 13.33%,#fb8300 14.58%,#ffac00 15.83%,#ffff00 17.71%,#aee800 18.75%,#53cf00 19.58%,#1bbf0d 20.42%,#0ebe19 20.83%,#00d46f 22.5%,#04e2b1 23.75%,#0de7dc 25%,#14e1eb 26.25%,#26c5f6 30.42%,#21ccf3 32.08%,#13e4ea 34.17%,#20cef2 35.42%,#34a6fe 36.67%,#358ffc 37.5%,#3590fc 38.33%,#2fb6fc 39.38%,#1ad9ee 39.58%,#02e1a8 39.77%,#0bc122 40%,#62d300 40.17%,#f4fc00 40.37%,#fff300 40.42%,#ffb900 40.57%,#f97e00 40.77%,#f26600 40.97%,#e84700 44.17%,#e84800 47.08%,#f87900 50.42%,#ffa800 52.5%,#ffff00 55.02%,#a0e400 56.67%,#46cb01 57.92%,#0fbd15 59.24%,#00cc4e 60.42%,#05e3b7 62.08%,#10e8e8 63.33%,#2cbbfa 65.83%,#2abff8 68.75%,#28c1f7 69.07%,#19d9ee 69.2%,#03e2ae 69.33%,#04c83f 69.46%,#44cb01 69.6%,#d1f100 69.73%,#ffd600 69.86%,#ff9f00 70%,#fe8c00 70.12%,#f97e00 75.83%,#ff9300 78.75%,#ffff00 84.69%,#b5ea00 86.67%,#41ca02 88.75%,#0fbd15 90.09%,#01cb4c 91.25%,#06e3bc 92.92%,#12e6e9 93.75%,#33affe 95%,#30b4fd 95.83%,#16dfec 97.08%,#0de7db 97.5%,#00da86 98.75%,#01cb4e 99.58%,#05c73b 100%)"></i><i style="inset:60px;background:conic-gradient(from 90deg,#08c42f 0%,#0dbf1a 1.16%,#0bc122 1.67%,#01cb4a 2.5%,#06e3ba 3.75%,#0de7db 4.17%,#17ddec 4.58%,#24c8f5 5.42%,#1ad8ef 8.33%,#17ddec 8.69%,#10e8e6 8.75%,#0de6da 8.77%,#00dc8f 8.86%,#09c32c 8.94%,#56d000 9.03%,#def500 9.11%,#ffe900 9.17%,#ff9f00 9.28%,#fe8c00 9.37%,#f87b00 13.33%,#fc8700 14.58%,#ffc900 16.25%,#feff00 17.5%,#bfec00 18.33%,#40ca02 19.58%,#0fbd15 20.52%,#00d164 22.08%,#06e3ba 23.75%,#0ee7e1 25%,#23caf4 28.75%,#26c5f6 31.25%,#13e4ea 33.83%,#1fd0f2 35%,#34a5fe 36.25%,#358bfb 37.08%,#3588fb 37.92%,#34a4fe 38.75%,#2abef9 39.17%,#1dd3f0 39.26%,#02e1ab 39.46%,#00d060 39.58%,#07c532 39.66%,#5ed200 39.86%,#ccf000 40%,#f4fc00 40.06%,#ffba00 40.26%,#f97e00 40.46%,#f26600 40.66%,#e84800 43.75%,#e94a00 47.08%,#f97d00 50.42%,#ffae00 52.5%,#ffff00 54.81%,#aee700 56.25%,#52cf00 57.5%,#0fbd15 58.99%,#00d05f 60.42%,#03e2af 61.67%,#10e8e8 63.04%,#2bbcf9 65.42%,#2cbafa 67.92%,#29c0f8 68.83%,#1ad9ee 68.96%,#03e2ae 69.09%,#04c83f 69.22%,#44cb01 69.34%,#d2f200 69.47%,#ffde00 69.58%,#ffa100 69.72%,#fe8c00 69.85%,#f97d00 75.54%,#ff9000 78.33%,#fff100 83.75%,#fcfe00 84.58%,#aae600 86.67%,#47cc00 88.33%,#0fbd15 89.82%,#00d05e 91.25%,#05e2b5 92.5%,#10e8e8 93.36%,#33afff 94.58%,#32b0fe 95.42%,#0fe7e2 97.08%,#00d46f 98.75%,#04c83f 99.58%,#08c42f 100%)"></i><i style="inset:61.5px;background:conic-gradient(from 90deg,#0bc125 0%,#0dbf1a 0.83%,#08c42f 1.67%,#03c945 2.08%,#05e2b5 3.33%,#0ce6d6 3.75%,#16dfec 4.17%,#25c7f5 5%,#1cd4f0 7.92%,#18dbed 8.42%,#0de7dc 8.51%,#00dd92 8.59%,#09c32e 8.68%,#3dc903 8.75%,#ddf500 8.86%,#ffd300 8.94%,#ffa000 9.03%,#fe8c00 9.11%,#f87b00 12.92%,#fa8200 14.17%,#ffac00 15.42%,#ffff00 17.27%,#abe700 18.33%,#51ce00 19.17%,#1abf0d 20%,#0dbf1b 20.42%,#00d471 22.08%,#04e2b2 23.33%,#0ee7dd 24.58%,#15e0eb 25.83%,#27c3f7 30%,#21cdf3 31.67%,#13e3ea 33.54%,#1ed2f1 34.58%,#34a5fe 35.83%,#3587fb 36.67%,#3581fa 37.5%,#359afd 38.33%,#33b0fe 38.76%,#1fd1f1 38.96%,#02e1a7 39.17%,#07c535 39.35%,#5ed200 39.55%,#f3fb00 39.75%,#ffa800 40%,#f97e00 40.15%,#f26600 40.35%,#e84800 43.33%,#e84800 46.67%,#f77800 50%,#ffa600 52.08%,#ffff00 54.6%,#9ee300 56.25%,#44cb01 57.5%,#0fbd15 58.75%,#00cd54 60%,#06e3bd 61.67%,#10e8e8 62.76%,#2db9fb 65.42%,#2abef9 68.33%,#29c0f8 68.6%,#13e3ea 68.75%,#03e2af 68.84%,#04c840 68.97%,#42ca02 69.09%,#d2f200 69.21%,#ffd600 69.34%,#ffa100 69.46%,#fe8c00 69.58%,#f97d00 75.42%,#ff9200 78.33%,#ffff00 84.28%,#b4e900 86.25%,#3dc903 88.33%,#0ebe16 89.58%,#00cd55 90.83%,#09e5c9 92.5%,#10e8e8 93.03%,#33b0fe 94.17%,#34a8fe 94.58%,#27c3f7 95.83%,#11e7e8 96.67%,#00d575 98.33%,#03c942 99.17%,#0bc125 100%)"></i><i style="inset:63px;background:conic-gradient(from 90deg,#0dbf1e 0%,#0dbf1e 0.83%,#04c841 1.67%,#00da87 2.5%,#0be5d1 3.33%,#14e2ea 3.75%,#25c5f6 4.58%,#1ed1f1 7.5%,#19daee 8.16%,#0de7dd 8.25%,#00dc91 8.34%,#08c42e 8.42%,#54cf00 8.51%,#dcf500 8.6%,#ffd400 8.69%,#ffa000 8.78%,#fe8c00 8.86%,#f87b00 12.92%,#fc8600 14.17%,#ffb500 15.42%,#fdfe00 17.08%,#bdec00 17.92%,#3fc903 19.17%,#0fbd15 20.08%,#00d165 21.67%,#06e3bb 23.33%,#10e8e8 24.92%,#27c4f6 29.17%,#26c4f6 30.83%,#13e3ea 33.33%,#25c7f5 34.58%,#3592fc 35.83%,#367bf9 36.67%,#3582fa 37.5%,#34acff 38.44%,#20cef2 38.64%,#0ee7df 38.75%,#04e2b1 38.84%,#06c637 39.04%,#2dc408 39.17%,#5cd100 39.24%,#f2fb00 39.44%,#ffba00 39.64%,#f97e00 39.84%,#f26600 40.04%,#e84700 43.33%,#e94a00 46.67%,#f87b00 50%,#ffac00 52.08%,#ffff00 54.4%,#ace700 55.83%,#4fce00 57.08%,#0fbd15 58.51%,#00d166 60%,#05e2b5 61.25%,#10e8e8 62.5%,#2dbafa 65%,#2db9fb 67.5%,#29bff8 68.36%,#1ad8ef 68.48%,#04e2b1 68.6%,#0bc126 68.75%,#42ca02 68.84%,#d1f200 68.96%,#ffd700 69.07%,#ffa100 69.19%,#fe8c00 69.31%,#f97c00 75%,#ff8f00 77.92%,#ffe800 82.92%,#fcfe00 84.17%,#a9e600 86.25%,#44cb01 87.92%,#0fbd15 89.29%,#01cb4d 90.42%,#08e4c2 92.08%,#10e8e8 92.7%,#32b1fe 93.75%,#34a5fe 94.22%,#2abef9 95.42%,#14e1eb 96.25%,#06e3ba 97.08%,#02ca46 98.75%,#0dbf1e 100%)"></i><i style="inset:64.5px;background:conic-gradient(from 90deg,#0dbf1a 0%,#0ac228 0.83%,#00ce58 1.67%,#0ae5cc 2.92%,#12e5e9 3.33%,#26c5f6 4.17%,#23c9f4 6.67%,#19daee 7.92%,#0ee7df 7.99%,#00dd93 8.08%,#09c32e 8.17%,#52cf00 8.26%,#dcf500 8.35%,#ffd300 8.44%,#ffa000 8.52%,#fe8c00 8.62%,#f87b00 12.5%,#fa8100 13.75%,#ffab00 15%,#ffff00 16.84%,#a9e600 17.92%,#4fce00 18.75%,#19bf0d 19.58%,#08c42f 20.42%,#00e0a1 22.5%,#0ee7de 24.17%,#15dfeb 25.42%,#28c2f7 29.17%,#25c7f5 30.83%,#13e3ea 32.98%,#23caf4 34.17%,#34a6fe 35%,#3580fa 35.83%,#3673f8 36.67%,#3587fb 37.5%,#34a8fe 38.13%,#22cbf3 38.33%,#04e2b3 38.53%,#09c32d 38.75%,#59d100 38.93%,#f2fb00 39.13%,#fff700 39.17%,#ffba00 39.32%,#f67300 39.58%,#f16600 39.72%,#e84800 42.92%,#e84900 46.25%,#f77700 49.58%,#ffa400 51.67%,#ffff00 54.19%,#9ce300 55.83%,#42ca02 57.08%,#0ebe18 58.33%,#00cf5a 59.58%,#03e1ad 60.83%,#10e8e8 62.21%,#2cbbfa 64.58%,#2eb7fb 67.08%,#2abef9 68.13%,#1bd7ef 68.24%,#08e4c4 68.33%,#04c841 68.47%,#42ca02 68.58%,#d2f200 68.7%,#fffa00 68.75%,#ffa100 68.92%,#fe8c00 69.04%,#f97c00 74.58%,#fe8c00 77.5%,#ffd300 81.67%,#ffff00 83.89%,#b3e900 85.83%,#3ac804 87.92%,#0fbd15 89.02%,#00d061 90.42%,#06e3bc 91.67%,#10e8e8 92.38%,#30b4fd 93.33%,#34a2fe 93.9%,#2eb8fb 95%,#18dbed 95.83%,#0ee7de 96.25%,#00d984 97.5%,#01cb4b 98.33%,#0cc01f 99.58%,#0dbf1a 100%)"></i><i style="inset:66px;background:conic-gradient(from 90deg,#0dbf1b 0%,#06c637 0.83%,#00cc50 1.25%,#00e0a1 2.08%,#10e8e7 2.92%,#26c5f6 3.75%,#27c4f6 5.83%,#1bd7ef 7.64%,#0ee7e1 7.73%,#00de97 7.82%,#0ac22a 7.92%,#51ce00 8%,#daf400 8.09%,#ffd400 8.19%,#ffa000 8.28%,#fe8c00 8.37%,#f87b00 12.5%,#fb8500 13.75%,#ffb400 15%,#fdfe00 16.67%,#bcec00 17.5%,#3ec903 18.75%,#0fbd15 19.66%,#00d266 21.25%,#02e1ab 22.5%,#0fe7e3 24.17%,#28c1f7 28.75%,#26c4f6 30.42%,#13e3ea 32.71%,#21cdf3 33.75%,#34a8fe 34.58%,#367efa 35.42%,#366ef7 36.25%,#367efa 37.08%,#34a4fe 37.82%,#32b1fe 37.92%,#24c7f5 38.02%,#05e3b7 38.22%,#00d36d 38.33%,#06c63a 38.42%,#57d000 38.61%,#c6ee00 38.75%,#f1fb00 38.81%,#ffbb00 39.01%,#f97e00 39.21%,#f16600 39.41%,#e84800 42.5%,#e84700 45.83%,#f67300 49.17%,#ffa900 51.67%,#ffff00 53.99%,#abe700 55.42%,#4ccd00 56.67%,#0fbd15 58.03%,#00cc4f 59.17%,#06e3bb 60.83%,#10e8e8 61.93%,#2eb8fb 64.58%,#2cbafa 67.5%,#2abff8 67.92%,#1bd6ef 68.01%,#04e2b2 68.11%,#04c840 68.22%,#45cb01 68.33%,#cff100 68.44%,#ffd700 68.54%,#ffa100 68.65%,#fe8c00 68.76%,#f87c00 74.17%,#fd8900 77.08%,#ffc600 80.83%,#fdff00 83.75%,#bdec00 85.42%,#41ca02 87.5%,#0fbd15 88.76%,#00ce57 90%,#05e2b4 91.25%,#11e7e9 92.08%,#2eb7fb 92.92%,#34a0fd 93.59%,#31b3fd 94.58%,#10e8e6 95.83%,#00db8d 97.08%,#00cc50 97.92%,#0cc021 99.17%,#0dbf1b 100%)"></i><i style="inset:67.5px;background:conic-gradient(from 90deg,#0cc022 0%,#01cb4b 0.83%,#00de99 1.67%,#0fe7e2 2.5%,#26c5f6 3.33%,#2abef9 4.17%,#22cbf3 6.67%,#1cd5ef 7.38%,#0fe7e2 7.47%,#00dd96 7.57%,#08c430 7.66%,#52cf00 7.75%,#dbf500 7.85%,#ffe300 7.92%,#ffa000 8.03%,#fe8c00 8.13%,#f87b00 12.08%,#fa8000 13.33%,#ffa900 14.58%,#ffff00 16.42%,#a9e600 17.5%,#4ece00 18.33%,#19bf0d 19.17%,#08c430 20%,#00e0a1 22.08%,#0ee7de 23.75%,#16deec 25%,#29c0f8 28.75%,#24c7f5 30.42%,#13e3ea 32.43%,#1fd0f1 33.33%,#34abff 34.17%,#367cf9 35%,#366ef7 35.42%,#366cf7 36.25%,#3587fb 37.08%,#34a0fd 37.5%,#26c5f6 37.7%,#04e2b2 37.92%,#05c73d 38.1%,#55d000 38.3%,#eefa00 38.5%,#ffa800 38.75%,#f97e00 38.9%,#f16600 39.09%,#e84700 42.5%,#e84900 45.83%,#f77600 49.17%,#ffa100 51.25%,#ffff00 53.79%,#9be200 55.42%,#40ca02 56.67%,#0fbd15 57.79%,#00d061 59.17%,#04e2b3 60.42%,#10e8e8 61.67%,#2eb8fb 64.17%,#2fb6fc 66.67%,#2bbdf9 67.67%,#1cd5ef 67.77%,#04e2b2 67.87%,#04c840 67.97%,#40ca02 68.08%,#cff100 68.18%,#ffd700 68.28%,#ffa100 68.38%,#fe8c00 68.49%,#f87b00 73.75%,#fc8600 76.67%,#ffb900 80%,#ffff00 83.51%,#b3e900 85.42%,#49cc00 87.08%,#0fbd15 88.49%,#01cb4e 89.58%,#09e5c9 91.25%,#10e8e8 91.74%,#34a6fe 92.92%,#359dfd 93.33%,#34aeff 94.17%,#13e2ea 95.42%,#00dd96 96.67%,#00ce56 97.5%,#0bc123 98.75%,#0ebe1a 99.58%,#0cc022 100%)"></i><i style="inset:69px;background:conic-gradient(from 90deg,#08c42e 0%,#03c945 0.42%,#05e3b8 1.67%,#0de7dc 2.08%,#19d9ee 2.5%,#2bbdf9 3.33%,#24c8f5 6.25%,#1cd4f0 7.12%,#0fe8e4 7.22%,#00df9a 7.31%,#08c430 7.41%,#4fce00 7.5%,#d7f300 7.6%,#ffd400 7.69%,#ffa100 7.79%,#fe8b00 7.92%,#f87b00 12.08%,#fb8300 13.33%,#ffb200 14.58%,#fdfe00 16.25%,#bceb00 17.08%,#3ec903 18.33%,#0fbd15 19.24%,#00d266 20.83%,#02e1ab 22.08%,#0fe7e3 23.75%,#29bff8 28.33%,#26c4f6 30%,#13e3ea 32.16%,#1cd4f0 32.92%,#34afff 33.75%,#367df9 34.58%,#366cf7 35%,#3668f6 35.83%,#367efa 36.67%,#359cfd 37.19%,#28c2f7 37.39%,#10e7e8 37.5%,#06e3bd 37.59%,#05c73e 37.79%,#2ac309 37.92%,#52cf00 37.98%,#eefa00 38.18%,#ffbb00 38.38%,#f97e00 38.58%,#f16500 38.78%,#e84800 42.08%,#e94b00 45.83%,#fa8000 49.58%,#ffa700 51.25%,#ffff00 53.59%,#aae600 55%,#49cc00 56.25%,#0fbd15 57.55%,#00cd54 58.75%,#02e1ab 60%,#10e8e8 61.37%,#2db9fa 63.75%,#31b4fd 65.83%,#2bbcf9 67.42%,#1cd4f0 67.52%,#04e2b4 67.62%,#03c943 67.72%,#40ca02 67.82%,#d1f200 67.92%,#ffd600 68.02%,#ffa100 68.12%,#fe8c00 68.23%,#f87b00 73.75%,#fc8700 76.67%,#ffc400 80.42%,#ffff00 83.33%,#bdec00 85%,#3ec903 87.08%,#0ebe1a 88.33%,#00d163 89.58%,#07e4c1 90.83%,#10e8e8 91.42%,#34a9fe 92.5%,#359afd 92.99%,#34a7fe 93.75%,#18dbed 95%,#0de7dc 95.42%,#00d77e 96.67%,#03c945 97.5%,#0dbf1c 98.75%,#0cc01f 99.58%,#08c42e 100%)"></i><i style="inset:70.5px;background:conic-gradient(from 90deg,#04c83f 0%,#00d05e 0.42%,#0ce6d5 1.67%,#16deec 2.08%,#2bbdf9 2.92%,#28c1f7 5.42%,#1dd2f1 6.86%,#0fe8e5 6.96%,#00de9a 7.06%,#08c432 7.16%,#4fce00 7.26%,#d8f400 7.35%,#ffd400 7.45%,#ffa100 7.55%,#fe8c00 7.65%,#f87b00 12.08%,#fc8700 13.33%,#ffd000 15%,#ffff00 16.01%,#a9e600 17.08%,#4fce00 17.92%,#19bf0d 18.75%,#08c430 19.58%,#00db8b 21.25%,#08e4c5 22.5%,#10e8e8 23.77%,#29bff8 27.92%,#28c1f7 29.58%,#13e3ea 31.88%,#1ad8ee 32.5%,#31b3fd 33.33%,#367ffa 34.17%,#366cf7 34.58%,#3664f5 35.42%,#3676f9 36.25%,#3598fc 36.87%,#27c2f7 37.08%,#07e4c0 37.27%,#08c42f 37.5%,#50ce00 37.67%,#edfa00 37.87%,#fff500 37.92%,#ffbc00 38.06%,#f97e00 38.26%,#f16500 38.46%,#e84800 41.67%,#e84900 45.42%,#f67400 48.75%,#ff9e00 50.83%,#ffff00 53.39%,#99e200 55%,#3ec903 56.25%,#0fbd15 57.32%,#00d267 58.75%,#06e3b9 60%,#10e8e8 61.09%,#2fb6fc 63.75%,#2eb8fb 66.67%,#2cbbfa 67.16%,#1dd4f0 67.26%,#04e2b4 67.37%,#04c842 67.47%,#0bc124 67.5%,#42ca02 67.57%,#d1f100 67.68%,#ffd800 67.78%,#ffa200 67.88%,#fe8c00 67.98%,#f87b00 73.33%,#fb8500 76.25%,#ffb700 79.58%,#ffff00 83.15%,#b3e900 85%,#46cc00 86.67%,#0fbd15 87.97%,#00ce58 89.17%,#06e3b9 90.42%,#10e8e8 91.11%,#34aeff 92.08%,#3597fc 92.69%,#34a1fe 93.33%,#29c0f8 94.17%,#0fe8e5 95%,#00da87 96.25%,#01cb4a 97.08%,#0dbf1e 98.33%,#0dbf1c 99.17%,#04c83f 100%)"></i><i style="inset:72px;background:conic-gradient(from 90deg,#00cd55 0%,#02e1a7 0.83%,#13e3ea 1.67%,#2abef9 2.5%,#2bbcf9 4.58%,#1ed1f1 6.61%,#10e8e6 6.71%,#00df9b 6.81%,#07c534 6.91%,#4ccd00 7.01%,#baeb00 7.08%,#d7f300 7.11%,#ffd500 7.21%,#ffa100 7.31%,#fe8c00 7.41%,#f87b00 11.67%,#fa8100 12.92%,#ffaf00 14.17%,#fdfe00 15.83%,#bcec00 16.67%,#3fc903 17.92%,#0fbd15 18.83%,#00d266 20.42%,#02e1ab 21.67%,#0fe8e4 23.33%,#2bbdf9 27.92%,#26c4f6 29.58%,#13e3ea 31.61%,#21cdf3 32.5%,#359efd 33.33%,#366df7 34.17%,#3761f4 35%,#366ff8 35.83%,#3594fc 36.55%,#34a5fe 36.67%,#2cbcfa 36.75%,#08e4c5 36.95%,#03c943 37.15%,#4fce00 37.35%,#cbf000 37.5%,#ebf900 37.55%,#ffbb00 37.75%,#f97e00 37.95%,#f16500 38.14%,#e84700 41.67%,#e94b00 45.42%,#f97e00 49.17%,#ffa300 50.83%,#ffff00 53.19%,#a9e600 54.58%,#47cc00 55.83%,#0fbd15 57.08%,#00cf5a 58.33%,#04e2b1 59.58%,#10e8e8 60.83%,#2fb7fc 63.33%,#30b4fd 65.83%,#2cbbfa 66.9%,#1dd3f0 67.01%,#0ae5cd 67.08%,#03c944 67.21%,#40ca02 67.32%,#cff100 67.42%,#ffe900 67.5%,#ffa100 67.63%,#fe8c00 67.74%,#f87b00 73.33%,#fc8700 76.25%,#ffc300 80%,#ffff00 82.98%,#bdec00 84.58%,#3cc804 86.67%,#0fbd15 87.71%,#01cb4d 88.75%,#04e2b1 90%,#11e7e9 90.83%,#31b3fd 91.67%,#359bfd 92.08%,#3595fc 92.5%,#34a8fe 93.33%,#14e2ea 94.58%,#04e2b2 95.42%,#00cc50 96.67%,#0cc01f 97.92%,#0dbf1a 98.75%,#06c63a 99.58%,#00cd55 100%)"></i><i style="inset:73.5px;background:conic-gradient(from 90deg,#00d574 0%,#08e4c5 0.83%,#10e8e8 1.25%,#29bff8 2.08%,#2eb8fb 2.92%,#24c8f5 5.83%,#1fd0f2 6.36%,#10e7e8 6.46%,#00df9e 6.56%,#08c430 6.67%,#4bcd00 6.76%,#d7f300 6.87%,#ffd400 6.97%,#ff9c00 7.08%,#fe8c00 7.17%,#f87b00 11.67%,#fb8500 12.92%,#ffb900 14.17%,#ffff00 15.61%,#aae600 16.67%,#50ce00 17.5%,#1abf0d 18.33%,#0dbf1b 18.75%,#00d573 20.42%,#05e2b4 21.67%,#0ee7df 22.92%,#1bd7ef 24.58%,#2cbbfa 27.92%,#28c1f8 29.17%,#13e3ea 31.34%,#1ed2f1 32.08%,#34a4fe 32.92%,#366ef7 33.75%,#375ef3 34.58%,#366af6 35.42%,#3591fc 36.25%,#2eb8fb 36.43%,#09e4c7 36.63%,#03c946 36.83%,#4ccd00 37.03%,#eaf900 37.23%,#ffbc00 37.43%,#f97e00 37.63%,#f16500 37.82%,#e84800 41.25%,#e84900 45%,#f87900 48.75%,#ff9b00 50.42%,#ffff00 52.99%,#98e200 54.58%,#3cc903 55.83%,#0fbd15 56.85%,#00cc4e 57.92%,#07e4c0 59.58%,#10e8e8 60.54%,#2eb8fb 62.92%,#32b1fe 65%,#2cbcfa 66.67%,#1ed2f1 66.75%,#05e2b6 66.86%,#03c945 66.96%,#40ca02 67.07%,#d0f100 67.18%,#ffd700 67.28%,#ffa100 67.39%,#fe8c00 67.5%,#f87b00 72.92%,#fb8400 75.83%,#ffb500 79.17%,#fbfe00 82.92%,#b4e900 84.58%,#44cb01 86.25%,#0ebe17 87.5%,#00d163 88.75%,#08e4c5 90%,#10e8e8 90.51%,#2db9fb 91.25%,#349ffd 91.67%,#3592fc 92.12%,#34a1fe 92.92%,#26c4f6 93.75%,#0de7db 94.58%,#00d679 95.83%,#04c841 96.67%,#0cc022 97.5%,#0ebe19 98.33%,#07c534 99.17%,#01cb4d 99.58%,#00d574 100%)"></i><i style="inset:75px;background:conic-gradient(from 90deg,#00dd94 0%,#0ee7e0 0.83%,#28c2f7 1.67%,#2fb6fc 2.5%,#26c5f6 5.42%,#20cef2 6.1%,#11e6e9 6.21%,#0be5d1 6.25%,#00e09f 6.31%,#07c536 6.42%,#4ccd00 6.52%,#d8f400 6.63%,#fffd00 6.67%,#ffd500 6.73%,#ffa000 6.84%,#fe8c00 6.94%,#f87b00 11.67%,#fa7f00 12.5%,#ffac00 13.75%,#feff00 15.42%,#beec00 16.25%,#40ca02 17.5%,#0fbd15 18.44%,#00d165 20%,#02e1ab 21.25%,#0fe8e4 22.92%,#2bbdf9 27.08%,#2abef9 28.75%,#13e2ea 31.08%,#1bd7ef 31.67%,#34acff 32.5%,#3670f8 33.33%,#375cf2 34.17%,#3671f8 35.42%,#358cfb 35.91%,#30b5fc 36.11%,#12e5e9 36.25%,#09e5cb 36.31%,#02ca49 36.51%,#31c507 36.67%,#49cc00 36.71%,#eaf900 36.91%,#ffbd00 37.11%,#f97e00 37.31%,#f16500 37.51%,#e84800 40.83%,#e84800 44.58%,#f46e00 47.92%,#ff9f00 50.42%,#ffff00 52.8%,#a9e600 54.17%,#46cb01 55.42%,#0ebe17 56.67%,#00d060 57.92%,#05e3b7 59.17%,#10e8e8 60.26%,#30b4fd 62.92%,#30b5fc 65.83%,#2db9fb 66.38%,#1ed2f1 66.49%,#05e3b7 66.6%,#03c944 66.71%,#3fc903 66.82%,#cff100 66.93%,#ffd700 67.04%,#ffa100 67.15%,#fe8c00 67.26%,#f87b00 72.92%,#fc8600 75.83%,#ffb900 79.17%,#ffff00 82.63%,#bfec00 84.17%,#39c804 86.25%,#0fbd15 87.2%,#00ce57 88.33%,#06e3bc 89.58%,#10e8e8 90.21%,#34a5fe 91.25%,#358ffb 91.84%,#359afd 92.5%,#2bbcf9 93.33%,#10e8e6 94.17%,#00d983 95.42%,#02ca46 96.25%,#0bc124 97.08%,#0ebe18 97.92%,#08c42f 98.75%,#02ca47 99.17%,#00dd94 100%)"></i><i style="inset:76.5px;background:conic-gradient(from 90deg,#04e2b3 0%,#0de6d8 0.42%,#19daee 0.83%,#2eb8fb 1.67%,#2abef9 4.58%,#21cdf3 5.85%,#12e4ea 5.96%,#00e0a1 6.07%,#07c535 6.18%,#2ec408 6.25%,#49cc00 6.28%,#d7f300 6.39%,#ffd500 6.49%,#ffa100 6.6%,#fe8c00 6.71%,#f87b00 11.25%,#fb8200 12.5%,#ffb500 13.75%,#ffff00 15.21%,#ace700 16.25%,#53cf00 17.08%,#1cbf0d 17.92%,#0ebe19 18.33%,#00d472 20%,#04e2b4 21.25%,#0ee7e0 22.5%,#1bd6ef 24.17%,#2db9fb 27.5%,#28c1f8 28.75%,#15e0eb 30.42%,#18dbed 31.25%,#31b2fd 32.08%,#3674f8 32.92%,#375af2 33.75%,#366bf7 35%,#3587fb 35.59%,#31b2fd 35.79%,#29c0f8 35.83%,#0ae5cf 35.99%,#02ca4a 36.19%,#0bc125 36.25%,#46cc00 36.38%,#e8f800 36.58%,#ffea00 36.67%,#ffbc00 36.78%,#f97e00 36.98%,#f36c00 37.08%,#f06100 37.5%,#e74600 41.25%,#e94c00 45%,#f97e00 48.75%,#ffa400 50.42%,#ffff00 52.6%,#98e100 54.17%,#55cf00 55%,#0fbd15 56.39%,#00cd53 57.5%,#03e2ae 58.75%,#10e7e8 60%,#30b5fc 62.5%,#32b2fe 65%,#2db9fb 66.12%,#1ad7ef 66.25%,#05e3b7 66.35%,#03c945 66.46%,#40ca02 66.57%,#cef100 66.68%,#ffd800 66.79%,#ffa100 66.91%,#fe8c00 67.02%,#f87b00 72.5%,#fb8400 75.42%,#ffb400 78.75%,#feff00 82.5%,#b4e900 84.17%,#42ca02 85.83%,#0fbd15 86.95%,#01cb4c 87.92%,#04e2b2 89.17%,#13e3ea 90%,#34acff 90.83%,#3593fc 91.25%,#358cfb 91.67%,#34a1fe 92.5%,#23c9f4 93.33%,#15e0eb 93.75%,#04e2b1 94.58%,#01cb4d 95.83%,#0dbf1d 97.08%,#0dbf1c 97.92%,#04c840 98.75%,#00d060 99.17%,#04e2b3 100%)"></i><i style="inset:78px;background:conic-gradient(from 90deg,#0be5d0 0%,#15e0eb 0.42%,#2db9fb 1.25%,#30b5fc 2.92%,#22cbf3 5.6%,#13e3ea 5.71%,#00de98 5.83%,#07c536 5.93%,#49cc00 6.04%,#d7f300 6.15%,#ffd500 6.26%,#ffa000 6.37%,#fe8c00 6.48%,#f87b00 11.25%,#f97d00 12.08%,#ff9500 12.92%,#ffff00 15.02%,#bfed00 15.83%,#42ca02 17.08%,#0fbd15 18.05%,#00d164 19.58%,#02e1aa 20.83%,#0fe8e5 22.5%,#2cbafa 26.67%,#2abdf9 28.33%,#14e2ea 30.42%,#16dfec 30.83%,#2db9fb 31.67%,#3679f9 32.5%,#3663f4 32.92%,#3757f1 33.53%,#3665f5 34.58%,#3583fa 35.26%,#33afff 35.46%,#0be5d1 35.66%,#01cb4d 35.86%,#45cb01 36.06%,#e7f800 36.26%,#ffbd00 36.46%,#f87b00 36.67%,#f16500 36.86%,#e84800 40.42%,#e94b00 44.58%,#f87a00 48.33%,#ff9a00 50%,#ffff00 52.41%,#a8e600 53.75%,#45cb01 55%,#0ebe19 56.25%,#00d266 57.5%,#07e3be 58.75%,#10e8e8 59.7%,#2fb6fc 62.08%,#33afff 64.17%,#2eb8fb 65.86%,#1fd0f2 65.98%,#05e3b7 66.09%,#03c945 66.21%,#0cc021 66.25%,#3ec903 66.32%,#cef100 66.44%,#ffd800 66.55%,#ffa200 66.67%,#fe8c00 66.78%,#f87b00 72.5%,#fb8500 75.42%,#ffb700 78.75%,#ffff00 82.29%,#c0ed00 83.75%,#6cd600 85%,#36c705 85.83%,#0fbd15 86.7%,#00d061 87.92%,#09e4c7 89.17%,#10e8e8 89.62%,#30b4fd 90.42%,#3597fc 90.83%,#3589fb 91.29%,#3599fd 92.08%,#34acff 92.5%,#1ad7ef 93.33%,#0ee7dd 93.75%,#00d676 95%,#00cd55 95.42%,#09c32c 96.25%,#0ebe18 97.26%,#0bc125 97.92%,#00cd56 98.75%,#0be5d0 100%)"></i><i style="inset:79.5px;background:conic-gradient(from 90deg,#11e6e9 0%,#2cbbfa 0.83%,#32b2fe 1.67%,#29c0f8 4.58%,#23caf4 5.35%,#1ed2f1 5.42%,#14e2ea 5.47%,#01e1a5 5.58%,#06c638 5.69%,#49cc00 5.81%,#d4f300 5.92%,#ffd500 6.03%,#ffa000 6.14%,#fe8c00 6.26%,#f87b00 11.25%,#fa7f00 12.08%,#ff9c00 12.92%,#ffff00 14.82%,#afe800 15.83%,#56d000 16.67%,#1ec00c 17.5%,#0ebe18 17.92%,#00d470 19.58%,#04e2b4 20.83%,#10e8e8 22.45%,#2cbbfa 26.25%,#2cbbfa 27.92%,#14e1eb 30%,#14e1eb 30.42%,#29c1f8 31.25%,#34a3fe 31.67%,#3666f5 32.5%,#3754f0 33.21%,#3761f4 34.17%,#3583fa 34.94%,#358afb 35%,#34afff 35.13%,#0be6d2 35.33%,#00e0a0 35.42%,#01cb4b 35.53%,#45cb01 35.73%,#a0e400 35.83%,#e7f800 35.93%,#ffbc00 36.13%,#f97e00 36.33%,#f16500 36.53%,#e84800 40%,#e84900 44.17%,#f67500 47.92%,#ff9f00 50%,#ffff00 52.21%,#97e100 53.75%,#54cf00 54.58%,#0fbd15 55.94%,#00ce58 57.08%,#05e2b5 58.33%,#10e8e8 59.42%,#31b2fd 62.08%,#31b3fd 65%,#2eb8fb 65.61%,#1fd0f2 65.72%,#06e3b9 65.84%,#03c945 65.96%,#3ec903 66.08%,#cef100 66.19%,#fffb00 66.25%,#ffa100 66.43%,#fe8c00 66.55%,#f87b00 72.5%,#fc8600 75.42%,#ffba00 78.75%,#ffff00 82.13%,#b6ea00 83.75%,#3fca02 85.42%,#0fbd15 86.45%,#00cd54 87.5%,#07e3bd 88.75%,#10e8e8 89.33%,#359efd 90.42%,#3586fb 91.02%,#3591fc 91.67%,#2eb8fb 92.5%,#11e7e8 93.33%,#00d882 94.58%,#03c944 95.42%,#0cc022 96.25%,#0ebe18 97.08%,#07c534 97.92%,#01cb4d 98.33%,#00e09f 99.17%,#11e6e9 100%)"></i><i style="inset:81px;background:conic-gradient(from 90deg,#1dd2f1 0%,#31b2fd 0.83%,#2db9fb 3.75%,#24c8f5 5.11%,#15e0eb 5.22%,#01e1a6 5.34%,#06c639 5.45%,#48cc00 5.57%,#d3f200 5.68%,#ffd600 5.8%,#ffa100 5.92%,#fe8c00 6.03%,#f87b00 10.83%,#fb8300 12.08%,#ffba00 13.33%,#ffff00 14.64%,#9ae200 15.83%,#44cb01 16.67%,#0fbd15 17.68%,#00d162 19.17%,#02e1aa 20.42%,#0de6da 21.67%,#13e4ea 22.5%,#2bbcf9 25.83%,#2db9fb 27.5%,#14e2ea 30.02%,#18dbed 30.42%,#34adff 31.25%,#3669f6 32.08%,#3758f1 32.5%,#3754f0 33.33%,#366af6 34.17%,#3583fa 34.61%,#33afff 34.81%,#0be5d1 35.01%,#01cb4b 35.21%,#46cb01 35.4%,#e8f800 35.6%,#ffb000 35.83%,#f97e00 36%,#f16400 36.25%,#e74700 40%,#e94b00 44.17%,#f77700 47.92%,#ff9600 49.58%,#fbfe00 52.08%,#86dd00 53.75%,#44cb01 54.58%,#0fbd15 55.71%,#01cb4c 56.67%,#03e1ab 57.92%,#10e8e8 59.14%,#30b4fd 61.67%,#32b1fe 64.17%,#2eb8fb 65.34%,#28c1f8 65.42%,#1fd0f1 65.47%,#05e3b9 65.59%,#03c945 65.71%,#43ca02 65.83%,#cef100 65.95%,#ffd800 66.07%,#ffa100 66.19%,#fe8c00 66.31%,#f87b00 72.08%,#fb8400 75%,#ffb400 78.33%,#fbfe00 82.08%,#c2ed00 83.33%,#6bd500 84.58%,#4acc00 85%,#0ebe18 86.25%,#02ca49 87.08%,#04e2b3 88.33%,#10e8e8 89.05%,#34a7fe 90%,#358cfb 90.42%,#3584fa 90.83%,#3599fd 91.67%,#33afff 92.08%,#17ddec 92.92%,#0ce6d4 93.33%,#00d269 94.58%,#01cb4a 95%,#0bc125 95.83%,#0ebe17 96.67%,#09c32e 97.5%,#03c946 97.92%,#00dd94 98.75%,#0fe7e2 99.58%,#1dd2f1 100%)"></i><i style="inset:82.5px;background:conic-gradient(from 90deg,#28c2f7 0%,#34afff 0.83%,#2abef9 4.17%,#25c7f5 4.86%,#10e8e7 5%,#02e1a8 5.09%,#05c73a 5.21%,#46cb01 5.33%,#afe800 5.42%,#d4f200 5.45%,#ffd600 5.57%,#ffa100 5.69%,#fe8c00 5.83%,#f87b00 10.83%,#f97d00 11.67%,#ff9700 12.5%,#ffff00 14.45%,#b2e900 15.42%,#5ad100 16.25%,#20c10b 17.08%,#0fbd15 17.5%,#00d46e 19.17%,#04e2b3 20.42%,#10e8e8 22.02%,#2bbdf9 25.42%,#2eb8fb 27.08%,#14e2ea 29.76%,#1fcff2 30.42%,#2fb6fc 30.83%,#366df7 31.67%,#3759f1 32.08%,#374fef 32.59%,#3665f5 33.75%,#3583fa 34.28%,#32b0fe 34.48%,#1dd4f0 34.58%,#0be5d0 34.68%,#02ca4a 34.88%,#1dc00c 35%,#47cc00 35.07%,#e9f900 35.28%,#ffd200 35.42%,#f97e00 35.67%,#f16400 35.87%,#e84700 39.58%,#e94a00 43.75%,#f67300 47.5%,#ff9900 49.58%,#ffff00 51.83%,#97e100 53.33%,#53cf00 54.17%,#0fbd15 55.49%,#00d05e 56.67%,#06e3bc 57.92%,#10e8e8 58.86%,#2fb6fc 61.25%,#33afff 63.33%,#2eb8fb 65.09%,#1fd0f2 65.21%,#05e3b8 65.33%,#03c945 65.46%,#40ca02 65.58%,#cdf000 65.71%,#ffd600 65.83%,#ffa100 65.96%,#fe8c00 66.08%,#f87b00 72.08%,#fc8500 75%,#ffb700 78.33%,#ffff00 81.81%,#b8ea00 83.33%,#3dc903 85%,#0fbd15 85.95%,#00cf5d 87.08%,#09e4c8 88.33%,#10e8e8 88.77%,#32b1fe 89.58%,#3592fc 90%,#3581fa 90.51%,#3590fc 91.25%,#2cbbfa 92.08%,#0fe7e1 92.92%,#00d575 94.17%,#00cd52 94.58%,#0ac229 95.42%,#0ebe17 96.34%,#0ac229 97.08%,#00cf5e 97.92%,#0de6d9 99.17%,#1ad8ee 99.58%,#28c2f7 100%)"></i><i style="inset:84px;background:conic-gradient(from 90deg,#2fb5fc 0%,#34adff 0.83%,#29c0f8 4.17%,#25c5f6 4.61%,#16deec 4.73%,#02e1a8 4.86%,#0ac229 5%,#46cb01 5.1%,#d2f200 5.22%,#ffd500 5.35%,#ffa100 5.47%,#fe8c00 5.59%,#f87b00 10.83%,#fa7f00 11.67%,#ff9e00 12.5%,#ffff00 14.26%,#9ee300 15.42%,#47cc00 16.25%,#0fbd15 17.31%,#00d77a 19.17%,#06e3bc 20.42%,#10e8e8 21.81%,#2cbbfa 25.42%,#2dbafa 27.08%,#15e0eb 29.17%,#14e1eb 29.58%,#1bd6ef 30%,#2abff8 30.42%,#3676f9 31.25%,#375df3 31.67%,#374eee 32.28%,#3761f4 33.33%,#3583fa 33.95%,#30b5fc 34.17%,#0be5d0 34.35%,#02ca4a 34.55%,#06c637 34.58%,#49cc00 34.75%,#e9f900 34.95%,#fff700 35%,#ffbc00 35.15%,#f97d00 35.35%,#f16400 35.54%,#e84800 39.17%,#e94b00 43.75%,#f67500 47.5%,#ff9e00 49.58%,#fdfe00 51.67%,#86dd00 53.33%,#44cb01 54.17%,#0fbd15 55.26%,#00cc50 56.25%,#04e2b2 57.5%,#10e8e8 58.58%,#2eb7fb 60.83%,#34afff 62.92%,#2eb8fb 64.82%,#1fd0f1 64.95%,#13e4ea 65%,#05e3b8 65.08%,#03c945 65.21%,#3fc903 65.34%,#cef100 65.46%,#ffd700 65.59%,#ffa100 65.72%,#fe8c00 65.85%,#f87b00 72.08%,#fc8700 75%,#ffba00 78.33%,#ffff00 81.67%,#c5ee00 82.92%,#8cde00 83.75%,#47cc00 84.58%,#0fbd15 85.71%,#00cc50 86.67%,#06e3bc 87.92%,#10e8e8 88.5%,#2cbafa 89.17%,#3583fa 90%,#367ffa 90.42%,#3599fd 91.25%,#32b1fe 91.67%,#14e2ea 92.5%,#02e1a8 93.33%,#00cf5d 94.17%,#08c42e 95%,#0ebe18 95.83%,#0ebe18 96.25%,#06c638 97.08%,#00cd53 97.5%,#02e1a8 98.33%,#0be5cf 98.75%,#16dfec 99.17%,#2fb5fc 100%)"></i><i style="inset:85.5px;background:conic-gradient(from 90deg,#34adff 0%,#2eb8fb 3.33%,#26c4f6 4.36%,#17dded 4.49%,#07e4c1 4.58%,#05c73c 4.74%,#46cc00 4.87%,#d8f400 5%,#ffd500 5.12%,#ffa100 5.25%,#fe8c00 5.38%,#f87b00 10.42%,#fb8200 11.67%,#ffa600 12.5%,#ffff00 14.08%,#b5ea00 15%,#5fd200 15.83%,#3cc903 16.25%,#0fbd15 17.13%,#00d36c 18.75%,#04e2b2 20%,#0ee7e0 21.25%,#1dd4f0 22.92%,#2eb8fb 25.83%,#2abdf9 27.08%,#14e2eb 29.17%,#18dced 29.58%,#34aaff 30.42%,#3663f4 31.25%,#374eee 31.97%,#375ef3 32.92%,#366ef8 33.33%,#3583fa 33.63%,#3598fd 33.75%,#32b1fe 33.83%,#0ae5cf 34.02%,#02ca49 34.22%,#49cc00 34.43%,#e9f900 34.62%,#ffbb00 34.82%,#f97d00 35.02%,#f16400 35.22%,#e84800 38.75%,#e94a00 43.33%,#f57000 47.08%,#ff9400 49.17%,#ffcc00 50.42%,#ffff00 51.45%,#98e100 52.92%,#52cf00 53.75%,#0fbd15 55.04%,#00d164 56.25%,#08e4c3 57.5%,#11e7e8 58.33%,#31b4fd 60.83%,#32b1fe 63.33%,#2eb8fb 64.58%,#1fd0f2 64.69%,#05e3b7 64.83%,#03c945 64.96%,#0bc125 65%,#3ec903 65.09%,#cef100 65.22%,#ffd800 65.35%,#ffa200 65.48%,#fe8c00 65.62%,#f87b00 71.67%,#fb8400 74.58%,#ffb500 77.92%,#ffff00 81.51%,#bbeb00 82.92%,#3bc804 84.58%,#0fbd15 85.46%,#03c945 86.25%,#03e2b0 87.5%,#10e8e8 88.24%,#34a6fe 89.17%,#3588fb 89.58%,#367bf9 90.01%,#358ffb 90.83%,#2bbdf9 91.67%,#1bd7ef 92.08%,#0de6da 92.5%,#00d26a 93.75%,#02ca49 94.17%,#0bc123 95%,#0ebe17 95.83%,#08c431 96.67%,#01cb4a 97.08%,#00df9c 97.92%,#11e6e9 98.75%,#2eb8fb 99.58%,#34adff 100%)"></i><i style="inset:87px;background:conic-gradient(from 90deg,#34a9fe 0%,#2db9fb 3.33%,#24c7f5 4.17%,#18dbed 4.24%,#03e1ac 4.38%,#05c73d 4.51%,#1dc00c 4.58%,#44cb01 4.64%,#d2f200 4.77%,#ffd600 4.9%,#ffa100 5.03%,#fe8c00 5.16%,#f87b00 10.42%,#f97c00 11.25%,#ff9800 12.08%,#ffff00 13.9%,#a3e500 15%,#4ccd00 15.83%,#0fbd15 16.95%,#00d677 18.75%,#06e3ba 20%,#10e8e8 21.39%,#2cbafa 25%,#2cbbfa 26.67%,#15e1eb 28.75%,#15e0eb 29.17%,#1fd0f1 29.58%,#2fb5fc 30%,#366af6 30.83%,#3756f0 31.25%,#374eee 31.67%,#375bf2 32.5%,#366af6 32.92%,#3586fa 33.33%,#33b0fe 33.5%,#0ae5ce 33.7%,#02ca49 33.9%,#48cc00 34.1%,#84dc00 34.17%,#eaf900 34.3%,#ffbc00 34.5%,#f97d00 34.7%,#f16400 34.9%,#e74700 38.75%,#e94b00 43.33%,#f77800 47.5%,#ff9700 49.17%,#ffff00 51.26%,#86dd00 52.92%,#44cb01 53.75%,#0fbd15 54.82%,#00cd55 55.83%,#06e3ba 57.08%,#10e8e8 58.01%,#30b5fc 60.42%,#33afff 62.5%,#2eb8fb 64.3%,#1fd0f2 64.44%,#04e2b0 64.58%,#03c945 64.71%,#3fca02 64.84%,#e0f600 65%,#ffd800 65.11%,#ffa200 65.25%,#fe8c00 65.42%,#f87b00 71.67%,#fc8600 74.58%,#ffb700 77.92%,#ffff00 81.36%,#c9ef00 82.5%,#8ddf00 83.33%,#46cb01 84.17%,#0fbd15 85.21%,#00ce58 86.25%,#08e4c3 87.5%,#10e8e8 87.98%,#31b2fd 88.75%,#3590fc 89.17%,#3679f9 89.78%,#3585fa 90.42%,#31b2fd 91.25%,#11e7e8 92.08%,#00e09f 92.92%,#00cd52 93.75%,#0ac228 94.58%,#0ebe17 95.44%,#09c32b 96.25%,#03c942 96.67%,#00dc90 97.5%,#0ee7e0 98.33%,#2bbcf9 99.17%,#34a9fe 100%)"></i><i style="inset:88.5px;background:conic-gradient(from 90deg,#34a8fe 0%,#2cbafa 3.33%,#28c1f7 3.87%,#19daee 4%,#03e1ad 4.14%,#05c73d 4.27%,#44cb01 4.41%,#d2f200 4.54%,#f6fc00 4.58%,#ffd700 4.68%,#ffa100 4.81%,#fe8c00 4.95%,#f87b00 10.42%,#f97e00 11.25%,#ff9f00 12.08%,#fdfe00 13.75%,#baeb00 14.58%,#40ca02 15.83%,#0fbd15 16.78%,#00d269 18.33%,#04e2b0 19.58%,#0ee7df 20.83%,#19daee 22.08%,#2db9fb 25%,#2db9fb 26.25%,#14e1eb 28.74%,#1ad7ef 29.17%,#29c0f8 29.58%,#359cfd 30%,#3673f8 30.42%,#375bf2 30.83%,#374eee 31.37%,#3758f1 32.08%,#367efa 32.92%,#3583fa 32.98%,#32b1fe 33.18%,#10e8e8 33.33%,#02ca49 33.58%,#38c705 33.75%,#49cc00 33.78%,#ebf900 33.98%,#ffbb00 34.18%,#f97d00 34.38%,#f16400 34.58%,#e84800 38.33%,#e94a00 42.92%,#f67400 47.08%,#ff9b00 49.17%,#ffff00 51.08%,#98e200 52.5%,#52cf00 53.33%,#0fbd15 54.6%,#02ca48 55.42%,#03e2af 56.67%,#10e8e8 57.73%,#2fb7fc 60%,#34afff 62.08%,#2eb8fb 64.04%,#1fd0f2 64.18%,#06e3b9 64.32%,#03c945 64.46%,#3ec903 64.6%,#cef100 64.74%,#ffd800 64.88%,#ffa200 65.02%,#fe8c00 65.16%,#f87b00 71.67%,#fc8700 74.58%,#ffb900 77.92%,#feff00 81.25%,#bfec00 82.5%,#38c804 84.17%,#0ebe17 85%,#01cb4b 85.83%,#05e2b6 87.08%,#10e8e8 87.74%,#359dfd 88.75%,#3580fa 89.17%,#3676f9 89.58%,#358dfb 90.42%,#34a5fe 90.83%,#18daed 91.67%,#0ce6d4 92.08%,#00d05f 93.33%,#09c32d 94.17%,#0ebe17 95%,#0ebe19 95.42%,#05c73b 96.25%,#00ce58 96.67%,#0ce6d6 97.92%,#19daee 98.33%,#32b1fe 99.17%,#34a8fe 100%)"></i><i style="inset:90px;background:conic-gradient(from 90deg,#34a8fe 0%,#2bbdf9 3.33%,#28c1f8 3.62%,#19daee 3.76%,#03e1ad 3.9%,#04c83f 4.04%,#45cb01 4.18%,#d2f200 4.32%,#ffd700 4.46%,#ffa100 4.6%,#fe8c00 4.74%,#f87b00 10.42%,#fa8100 11.25%,#ffa700 12.08%,#ffff00 13.55%,#aae600 14.58%,#53cf00 15.42%,#1ec00c 16.25%,#0ebe18 16.67%,#00d574 18.33%,#05e3b9 19.58%,#10e8e8 20.99%,#2dbafa 24.58%,#2bbcfa 26.25%,#14e1eb 28.33%,#17ddec 28.75%,#23c9f4 29.17%,#34abff 29.58%,#3580fa 30%,#3761f4 30.42%,#374eee 31.07%,#3662f4 32.08%,#3583fa 32.64%,#32b1fe 32.85%,#25c6f5 32.92%,#0ae5ce 33.05%,#02ca48 33.26%,#0cc01e 33.33%,#48cc00 33.46%,#eaf900 33.67%,#ffea00 33.75%,#ffbb00 33.87%,#f97d00 34.08%,#f46d00 34.17%,#f16400 34.28%,#e84800 37.92%,#e94b00 42.92%,#f67500 47.08%,#ff9100 48.75%,#ffb400 49.58%,#ffff00 50.9%,#87dd00 52.5%,#44cb01 53.33%,#0fbd15 54.39%,#00cf5a 55.42%,#01e0a4 56.25%,#0de6d9 57.08%,#11e7e9 57.5%,#31b3fd 60%,#31b2fd 62.92%,#2eb8fb 63.77%,#1fd0f1 63.92%,#05e3b7 64.06%,#03c945 64.21%,#3fc903 64.35%,#cef100 64.5%,#fff300 64.58%,#ffa100 64.79%,#fe8c00 64.93%,#f87b00 71.25%,#fb8400 74.17%,#ffb300 77.5%,#ffff00 81.1%,#cff100 82.08%,#90df00 82.92%,#44cb01 83.75%,#0fbd15 84.71%,#00d05f 85.83%,#09e4c8 87.08%,#10e8e8 87.51%,#34acff 88.33%,#3589fb 88.75%,#3673f8 89.33%,#3581fa 90%,#31b2fd 90.83%,#0fe8e5 91.67%,#00de96 92.5%,#01cb4a 93.33%,#0bc122 94.17%,#0ebe17 95%,#07c533 95.83%,#01cb4d 96.25%,#00e0a1 97.08%,#13e2ea 97.92%,#30b5fc 98.75%,#34a8fe 99.37%,#34a8fe 100%)"></i><i style="inset:91.5px;background:conic-gradient(from 90deg,#34a8fe 0%,#29c0f8 3.37%,#19d9ee 3.51%,#03e2ae 3.66%,#04c83f 3.8%,#43ca02 3.95%,#d2f200 4.09%,#fff700 4.17%,#ffa100 4.38%,#fe8c00 4.53%,#f87b00 10%,#f87b00 10.83%,#ff9600 11.67%,#ffff00 13.39%,#98e200 14.58%,#45cb01 15.42%,#0fbd15 16.45%,#00d164 17.92%,#03e1ad 19.17%,#0ee7de 20.42%,#15e0eb 21.25%,#2eb8fb 24.58%,#2db9fa 25.83%,#15e0eb 27.92%,#15e0eb 28.33%,#1ed2f1 28.75%,#2fb7fc 29.17%,#3669f6 30%,#3754f0 30.42%,#374eee 30.83%,#375ff3 31.67%,#3583fa 32.31%,#32b2fe 32.52%,#0ae5cd 32.73%,#02ca49 32.94%,#4bcd00 33.15%,#eaf900 33.36%,#ffbb00 33.57%,#f97d00 33.78%,#f16400 33.99%,#e74700 37.92%,#e94c00 42.92%,#f77700 47.08%,#ff9300 48.75%,#ffbb00 49.58%,#ffff00 50.73%,#77d900 52.5%,#39c804 53.33%,#0fbd15 54.17%,#01cb4b 55%,#05e3b7 56.25%,#10e8e8 57.16%,#30b4fc 59.58%,#33b0fe 62.08%,#2eb8fb 63.51%,#1fd0f1 63.66%,#0de6da 63.75%,#05e3b7 63.81%,#03c945 63.96%,#40ca02 64.11%,#ccf000 64.26%,#ffd800 64.41%,#ff9b00 64.58%,#fe8c00 64.71%,#f87b00 71.25%,#fb8500 74.17%,#ffb500 77.5%,#ffff00 80.99%,#c5ee00 82.08%,#7edb00 82.92%,#55cf00 83.33%,#0fbd15 84.46%,#00cc50 85.42%,#06e3b9 86.67%,#10e8e8 87.28%,#2cbbfa 87.92%,#367af9 88.75%,#3670f8 89.17%,#3677f9 89.58%,#34a3fe 90.42%,#17ddec 91.25%,#0ae5cf 91.67%,#00d77d 92.5%,#00cd56 92.92%,#0ac227 93.75%,#0fbd16 94.58%,#09c32c 95.42%,#03c944 95.83%,#00dd93 96.67%,#0fe7e3 97.5%,#2cbafa 98.33%,#34a7fe 99.17%,#34a8fe 100%)"></i><i style="inset:93px;background:conic-gradient(from 90deg,#34a9fe 0%,#29c0f8 3.12%,#1ad8ee 3.27%,#0ee7e0 3.33%,#03e2ae 3.42%,#04c83e 3.57%,#44cb01 3.72%,#d1f200 3.87%,#ffd600 4.02%,#ffa100 4.17%,#fe8c00 4.32%,#f87b00 10%,#f97c00 10.83%,#ff9c00 11.67%,#ffff00 13.23%,#b2e900 14.17%,#5dd200 15%,#23c10b 15.83%,#0fbd15 16.29%,#00d46e 17.92%,#05e2b6 19.17%,#10e8e8 20.62%,#2bbcf9 23.75%,#2eb8fb 25.42%,#14e1eb 27.98%,#19d9ee 28.33%,#28c2f7 28.75%,#359dfd 29.17%,#3672f8 29.58%,#3759f2 30%,#374eee 30.48%,#375bf2 31.25%,#366df7 31.67%,#3583fa 31.97%,#3594fc 32.08%,#31b2fd 32.19%,#0ae5cc 32.4%,#00dd95 32.5%,#02ca48 32.62%,#4ccd00 32.83%,#90df00 32.92%,#ebf900 33.05%,#ffa300 33.33%,#f97d00 33.48%,#f16300 33.75%,#e84700 37.5%,#e94a00 42.5%,#f57200 46.67%,#ff9500 48.75%,#ffc300 49.58%,#ffff00 50.57%,#8ade00 52.08%,#45cb01 52.92%,#0fbd15 53.96%,#00d060 55%,#03e1ac 55.83%,#0ee7e0 56.67%,#1ad8ef 57.5%,#32b1fe 59.58%,#2fb5fc 62.92%,#2eb8fb 63.24%,#28c1f7 63.33%,#1fd0f1 63.4%,#05e3b7 63.55%,#03c946 63.71%,#0ac229 63.75%,#3ec903 63.86%,#cdf000 64.02%,#ffd800 64.17%,#ffa200 64.33%,#fe8c00 64.48%,#f87b00 71.25%,#fc8600 74.17%,#ffb700 77.5%,#ffff00 80.88%,#d7f300 81.67%,#95e100 82.5%,#42ca02 83.33%,#0fbd15 84.22%,#00d165 85.42%,#09e5ca 86.67%,#10e7e8 87.08%,#34a9fe 87.92%,#3585fa 88.33%,#366ef7 88.92%,#367df9 89.58%,#32b1fe 90.42%,#0fe7e1 91.25%,#00d164 92.5%,#03c943 92.92%,#0dbf1d 93.75%,#0fbd16 94.27%,#0ac226 95%,#00cf5a 95.83%,#0ce6d7 97.08%,#19d9ee 97.5%,#33b0fe 98.33%,#34a7fe 99.17%,#34a9fe 100%)"></i><i style="inset:94.5px;background:conic-gradient(from 90deg,#34a9fe 0%,#28c2f7 2.92%,#1ad8ee 3.03%,#03e2af 3.18%,#04c83f 3.34%,#42ca02 3.49%,#d1f200 3.65%,#ffef00 3.75%,#ffa100 3.96%,#fe8b00 4.17%,#f87b00 10%,#f97e00 10.83%,#ffa400 11.67%,#ffff00 13.08%,#a2e400 14.17%,#4dcd00 15%,#0fbd15 16.14%,#00d679 17.92%,#06e3bd 19.17%,#10e8e8 20.43%,#2cbafa 23.75%,#2cbafa 25.42%,#15e0eb 27.5%,#16dfec 27.92%,#21ccf3 28.33%,#34adff 28.75%,#3580fa 29.17%,#3760f3 29.58%,#374eee 30.19%,#3758f1 30.83%,#3669f6 31.25%,#3586fa 31.67%,#32b2fd 31.86%,#09e4c8 32.08%,#03c946 32.3%,#4ccd00 32.52%,#ecfa00 32.74%,#ffbb00 32.96%,#f97c00 33.18%,#f16400 33.41%,#e84800 37.08%,#e84900 42.08%,#f46d00 46.25%,#ff9800 48.75%,#feff00 50.42%,#56d000 52.5%,#0fbd15 53.75%,#00cc4e 54.58%,#00e09f 55.42%,#0de6da 56.25%,#11e6e9 56.67%,#2eb8fb 58.75%,#34afff 60.83%,#2eb8fb 62.97%,#1fd0f1 63.13%,#05e3b8 63.29%,#03c946 63.46%,#3ec903 63.62%,#cdf000 63.78%,#ffd800 63.94%,#ffa100 64.1%,#fe8c00 64.26%,#f87b00 70.83%,#fc8700 74.17%,#ffb800 77.5%,#fdfe00 80.83%,#cef100 81.67%,#ade700 82.08%,#55cf00 82.92%,#19be0e 83.75%,#05c73b 84.58%,#00d678 85.42%,#10e8e8 86.86%,#2dbafa 87.5%,#3676f9 88.33%,#366cf7 88.75%,#3672f8 89.17%,#34a0fd 90%,#16deec 90.83%,#0ae5cb 91.25%,#00d575 92.08%,#01cb4d 92.5%,#0cc022 93.33%,#0fbd15 93.98%,#0cc021 94.58%,#01cb4e 95.42%,#01e0a2 96.25%,#14e2ea 97.08%,#30b5fc 97.92%,#34a7fe 98.55%,#34a9fe 100%)"></i><i style="inset:96px;background:conic-gradient(from 90deg,#34aaff 0%,#2abff8 2.62%,#1ad8ee 2.78%,#04e2b0 2.94%,#04c83f 3.11%,#43cb01 3.27%,#d0f100 3.43%,#ffd700 3.6%,#ffa100 3.76%,#fe8c00 3.92%,#f87b00 10%,#fa8000 10.83%,#ffac00 11.67%,#ffff00 12.92%,#92e000 14.17%,#42ca02 15%,#0fbd15 15.99%,#00d268 17.5%,#04e2b2 18.75%,#10e8e8 20.25%,#2cbcfa 23.33%,#2eb8fb 25%,#14e1eb 27.48%,#1cd5f0 27.92%,#2db9fa 28.33%,#3668f6 29.17%,#3753f0 29.58%,#374eee 30%,#3665f5 30.83%,#3583fa 31.3%,#31b3fd 31.52%,#15dfeb 31.67%,#09e5ca 31.75%,#03c945 31.98%,#10bc12 32.08%,#4ecd00 32.21%,#edfa00 32.44%,#fff300 32.5%,#ffba00 32.66%,#f77800 32.92%,#f16400 33.12%,#e74700 37.08%,#e94a00 42.08%,#f46f00 46.25%,#ff9000 48.42%,#ff9b00 48.75%,#ffff00 50.24%,#46cb01 52.5%,#0fbd15 53.54%,#04c840 54.17%,#05e2b5 55.42%,#10e8e8 56.29%,#31b4fd 58.75%,#33b0fe 61.25%,#2eb8fb 62.7%,#1fd0f1 62.87%,#16deec 62.92%,#05e3b9 63.04%,#03c945 63.21%,#27c309 63.33%,#3ec903 63.37%,#cef100 63.54%,#ffd800 63.71%,#ffa100 63.88%,#fe8c00 64.04%,#f87b00 70.83%,#fc8800 74.17%,#ffba00 77.5%,#ffff00 80.68%,#e1f600 81.25%,#9ce300 82.08%,#41ca02 82.92%,#0ebe16 83.75%,#00d269 85%,#09e5ca 86.25%,#10e8e8 86.67%,#34a8fe 87.5%,#3582fa 87.92%,#366cf7 88.33%,#366cf7 88.75%,#3677f9 89.17%,#33affe 90%,#0ee7df 90.83%,#00cf5c 92.08%,#0ac227 92.92%,#0fbd15 93.75%,#09c32d 94.58%,#03c945 95%,#00dd94 95.83%,#0fe7e3 96.67%,#2cbbfa 97.5%,#34a7fe 98.33%,#34aaff 100%)"></i><i style="inset:97.5px;background:conic-gradient(from 90deg,#34abff 0%,#2abef9 2.37%,#1bd7ef 2.54%,#04e2b1 2.71%,#0ac229 2.92%,#43ca02 3.05%,#d0f100 3.22%,#ffeb00 3.33%,#ffa100 3.56%,#fe8c00 3.75%,#f87b00 10%,#fb8300 10.83%,#ffb500 11.67%,#ffff00 12.76%,#ace700 13.75%,#57d000 14.58%,#21c10b 15.42%,#0fbd15 15.83%,#00d573 17.5%,#06e3ba 18.75%,#10e8e8 20.07%,#2dbafa 23.33%,#2cbbfa 25%,#15e0eb 27.08%,#18dced 27.5%,#26c5f6 27.92%,#34a1fd 28.33%,#3673f8 28.75%,#3759f1 29.17%,#374eee 29.61%,#3760f4 30.42%,#3583fa 30.96%,#31b4fd 31.19%,#26c4f6 31.25%,#09e4c8 31.43%,#04c842 31.67%,#4fce00 31.9%,#edfa00 32.13%,#ffba00 32.37%,#f97c00 32.6%,#f16300 32.84%,#e84700 36.67%,#e94b00 42.08%,#f57000 46.25%,#ff9000 48.35%,#ffa000 48.75%,#ffff00 50.07%,#3bc804 52.5%,#0fbd15 53.33%,#00cd52 54.17%,#02e1a8 55%,#0ee7e1 55.83%,#2cbbfa 57.92%,#34aeff 59.58%,#2eb8fb 62.43%,#2bbcf9 62.5%,#1fd0f2 62.6%,#05e3b8 62.78%,#03c946 62.95%,#3ec903 63.13%,#e1f600 63.33%,#ffd700 63.48%,#ffa100 63.66%,#fe8c00 63.83%,#f87b00 70.83%,#fd8900 74.17%,#ffbc00 77.5%,#ffff00 80.58%,#d8f400 81.25%,#b6ea00 81.67%,#55cf00 82.5%,#14bd0f 83.33%,#00cf5b 84.58%,#06e3bb 85.83%,#10e8e8 86.46%,#2dbafa 87.08%,#3673f8 87.92%,#3668f6 88.34%,#366df7 88.75%,#367ffa 89.17%,#2abdf9 90%,#16deec 90.42%,#09e4c8 90.83%,#00d36d 91.67%,#02ca47 92.08%,#0dbf1d 92.92%,#0fbd15 93.41%,#0ac226 94.17%,#00cf5a 95%,#0ce6d6 96.25%,#19d9ee 96.67%,#33b0fe 97.5%,#34a6fe 98.33%,#34abff 100%)"></i><i style="inset:99px;background:conic-gradient(from 90deg,#34acff 0%,#2abdf9 2.11%,#1bd6ef 2.29%,#04e2b1 2.47%,#04c841 2.64%,#43cb01 2.82%,#d1f200 3%,#ffd700 3.18%,#ffa100 3.36%,#fe8c00 3.54%,#f87b00 9.58%,#f87b00 10.42%,#fc8700 10.83%,#ffff00 12.6%,#9ae200 13.75%,#47cc00 14.58%,#0fbd15 15.67%,#00d162 17.08%,#03e2ae 18.33%,#0ee7e0 19.58%,#1fd0f2 21.25%,#2fb6fc 23.75%,#29bff8 25%,#16dfec 26.67%,#15e0eb 27.08%,#1fd0f2 27.5%,#32b1fe 27.92%,#3583fa 28.33%,#3760f4 28.75%,#374eee 29.33%,#375cf2 30%,#3583fa 30.61%,#30b4fc 30.86%,#09e4c8 31.1%,#00d677 31.25%,#03c943 31.34%,#50ce00 31.58%,#8cde00 31.67%,#effa00 31.83%,#ffb500 32.08%,#f97c00 32.31%,#f16300 32.56%,#e84800 36.67%,#ea4d00 42.08%,#f57100 46.25%,#ff9100 48.33%,#ffa600 48.75%,#ffff00 49.9%,#47cc00 52.08%,#0fbd15 53.12%,#03c943 53.75%,#00de99 54.58%,#0de6da 55.42%,#12e5e9 55.83%,#2fb6fc 57.92%,#34afff 60%,#2eb8fb 62.15%,#1fd0f1 62.34%,#05e3b7 62.52%,#03c945 62.7%,#3fca02 62.89%,#cef100 63.07%,#ffd800 63.25%,#ffa200 63.43%,#fe8c00 63.62%,#f87b00 70.83%,#fd8a00 74.17%,#ffbd00 77.5%,#ffff00 80.46%,#ccf000 81.25%,#a3e500 81.67%,#3fca02 82.5%,#0fbd15 83.23%,#00d36e 84.58%,#09e5ca 85.83%,#10e8e8 86.25%,#34a8fe 87.08%,#3581fa 87.5%,#366af6 87.92%,#3668f6 88.33%,#3672f8 88.75%,#34aeff 89.58%,#0de7dd 90.42%,#00d881 91.25%,#00cd54 91.67%,#0bc123 92.5%,#0fbd16 93.13%,#0cc021 93.75%,#00cc4e 94.58%,#00e0a2 95.42%,#13e3ea 96.25%,#2fb5fc 97.08%,#34a6fe 97.92%,#34acff 100%)"></i><i style="inset:100.5px;background:conic-gradient(from 90deg,#34aeff 0%,#2bbdf9 1.85%,#14e1eb 2.08%,#04e2b1 2.23%,#04c841 2.41%,#0fbd13 2.5%,#41ca02 2.6%,#d0f100 2.79%,#ffeb00 2.92%,#ffa200 3.16%,#fe8c00 3.35%,#f87b00 9.58%,#f97d00 10.42%,#fe8d00 10.83%,#ffff00 12.42%,#88dd00 13.75%,#3dc903 14.58%,#0fbd15 15.51%,#00d36e 17.08%,#05e3b7 18.33%,#10e8e8 19.68%,#2db9fb 22.92%,#2fb7fc 24.17%,#15e0eb 26.73%,#1ad8ee 27.08%,#2abdf9 27.5%,#366af6 28.33%,#3753f0 28.75%,#374eee 29.17%,#366df7 30%,#3583fa 30.26%,#359cfd 30.42%,#2fb5fc 30.52%,#08e4c6 30.77%,#02e1a7 30.83%,#04c842 31.02%,#45cb01 31.25%,#f0fb00 31.52%,#ffd900 31.67%,#f97c00 32.02%,#f16300 32.28%,#e94a00 36.67%,#eb5000 42.08%,#f87900 46.67%,#ff9400 48.33%,#ffaf00 48.75%,#ffff00 49.72%,#58d000 51.67%,#0fbd16 52.92%,#00ce58 53.75%,#04e2b1 54.58%,#0be5d1 55%,#10e8e8 55.43%,#2eb8fb 57.5%,#34aeff 59.17%,#2eb8fb 61.87%,#1cd5f0 62.08%,#05e3b7 62.26%,#03c945 62.45%,#09c32b 62.5%,#3fc903 62.64%,#cdf100 62.83%,#fffe00 62.92%,#ffd800 63.02%,#ffa200 63.22%,#fe8c00 63.41%,#f87b00 70.42%,#fc8700 73.75%,#ffb700 77.08%,#fcfe00 80.42%,#e2f700 80.83%,#beec00 81.25%,#54cf00 82.08%,#10bc11 82.92%,#00d061 84.17%,#06e3bc 85.42%,#10e8e8 86.04%,#2cbafa 86.67%,#3673f8 87.5%,#3667f6 87.96%,#366cf7 88.33%,#367efa 88.75%,#2abef9 89.58%,#15e1eb 90%,#08e4c4 90.42%,#00d267 91.25%,#03c942 91.67%,#0dbf1b 92.5%,#0ebe17 92.92%,#08c42e 93.75%,#03c946 94.17%,#06e3bc 95.42%,#0fe7e2 95.83%,#2cbcfa 96.67%,#34a6fe 97.5%,#34aeff 100%)"></i><i style="inset:102px;background:conic-gradient(from 90deg,#33afff 0%,#28c1f8 1.67%,#1cd5ef 1.79%,#04e2b2 1.99%,#04c840 2.18%,#42ca02 2.38%,#cff100 2.58%,#ffd700 2.77%,#ffa100 2.97%,#fe8c00 3.17%,#f87b00 9.58%,#fa7f00 10.42%,#ff9400 10.83%,#ffff00 12.24%,#75d800 13.75%,#4dcd00 14.17%,#0fbd15 15.32%,#00d05e 16.67%,#03e1ac 17.92%,#0ee7e0 19.17%,#16deec 20%,#2eb7fb 22.92%,#2db9fa 24.17%,#15e0eb 26.25%,#16deec 26.67%,#23c9f4 27.08%,#34a6fe 27.5%,#3676f9 27.92%,#375af2 28.33%,#374eee 28.78%,#3754f0 29.17%,#3668f6 29.58%,#358ffb 30%,#2fb6fc 30.17%,#08e4c4 30.43%,#04c840 30.69%,#1cbf0d 30.83%,#56d000 30.96%,#f2fb00 31.22%,#fffd00 31.25%,#ffb800 31.48%,#f87b00 31.74%,#f16300 32%,#e94c00 36.67%,#ec5600 42.5%,#fa8100 47.08%,#ff9900 48.33%,#ffff00 49.53%,#47cc00 51.67%,#0fbd15 52.69%,#02ca47 53.33%,#01e0a3 54.17%,#0fe7e2 55%,#30b4fd 57.5%,#33b0fe 60%,#2bbcfa 61.67%,#1fd0f1 61.79%,#05e3b8 61.99%,#03c946 62.19%,#3fc903 62.4%,#cef100 62.6%,#ffd800 62.8%,#ffa200 63%,#fe8c00 63.21%,#f87b00 70.42%,#fc8800 73.75%,#ffb900 77.08%,#ffff00 80.21%,#d5f300 80.83%,#aae600 81.25%,#3cc903 82.08%,#0fbd15 82.72%,#00d574 84.17%,#10e8e8 85.83%,#34a8fe 86.67%,#3582fa 87.08%,#366bf7 87.5%,#3668f6 87.92%,#3672f8 88.33%,#33afff 89.17%,#1fd0f1 89.58%,#0de6d9 90%,#00d77b 90.83%,#00cc4f 91.25%,#0cc021 92.08%,#0ebe18 92.58%,#0ac229 93.33%,#00cf5b 94.17%,#0ce6d5 95.42%,#18dbed 95.83%,#32b1fe 96.67%,#34a6fe 97.5%,#33afff 100%)"></i><i style="inset:103.5px;background:conic-gradient(from 90deg,#33b0fe 0%,#2bbcfa 1.32%,#1cd5f0 1.53%,#0be6d3 1.67%,#04e2b2 1.74%,#04c841 1.95%,#1fc00c 2.08%,#42ca02 2.16%,#d0f100 2.37%,#ffee00 2.5%,#ffa100 2.78%,#fe8c00 2.99%,#f87b00 9.58%,#fb8400 10.42%,#ffc200 11.25%,#fcfe00 12.08%,#8bde00 13.33%,#3fca02 14.17%,#0fbd15 15.13%,#00d36c 16.67%,#05e2b6 17.92%,#10e8e8 19.27%,#2eb8fb 22.5%,#2eb7fb 23.75%,#15e0eb 26.24%,#1dd3f0 26.67%,#2fb5fc 27.08%,#3662f4 27.92%,#374eee 28.51%,#3663f4 29.17%,#3586fb 29.58%,#2eb8fb 29.82%,#10e8e8 30%,#07e4c0 30.1%,#0ac229 30.42%,#59d100 30.64%,#ccf000 30.83%,#f4fc00 30.91%,#ffa600 31.25%,#f87b00 31.46%,#f16300 31.73%,#ea4e00 37.08%,#ee5b00 42.92%,#fd8900 47.5%,#ff9000 47.98%,#ffa200 48.33%,#ffff00 49.33%,#57d000 51.25%,#0fbd15 52.46%,#00d060 53.33%,#06e3bb 54.17%,#10e8e8 54.87%,#2fb5fc 57.08%,#33afff 59.17%,#2eb8fb 61.3%,#1fd1f1 61.52%,#0be6d2 61.67%,#05e3b8 61.73%,#03c945 61.94%,#1ec00c 62.08%,#3ec903 62.15%,#cdf100 62.37%,#fff100 62.5%,#ffa200 62.79%,#fe8c00 63.01%,#f87b00 70.42%,#fd8900 73.75%,#ffbc00 77.08%,#ffff00 80.06%,#eaf900 80.42%,#c3ee00 80.83%,#4ece00 81.67%,#27c309 82.08%,#0ebe18 82.5%,#00d269 83.75%,#07e3bf 85%,#10e8e8 85.6%,#2db9fb 86.25%,#3673f8 87.08%,#3667f6 87.55%,#366cf7 87.92%,#367efa 88.33%,#359efd 88.75%,#13e4ea 89.58%,#00dc90 90.42%,#00d061 90.83%,#04c83e 91.25%,#0dbf1b 92.08%,#0dbf1a 92.5%,#06c636 93.33%,#00cc4f 93.75%,#00e0a0 94.58%,#12e5e9 95.42%,#2eb7fb 96.25%,#34a5fe 97.08%,#33b0fe 100%)"></i><i style="inset:105px;background:conic-gradient(from 90deg,#32b2fd 0%,#2cbbfa 1.06%,#1cd4f0 1.27%,#04e2b3 1.49%,#04c841 1.72%,#41ca02 1.94%,#cff100 2.16%,#ffd700 2.38%,#ffa100 2.6%,#fe8c00 2.82%,#f87b00 9.58%,#f87b00 10%,#fd8b00 10.42%,#ffff00 11.84%,#4dcd00 13.75%,#0fbd15 14.93%,#00d67a 16.67%,#07e4c0 17.92%,#11e6e9 19.17%,#2dbafa 22.08%,#2cbafa 23.75%,#15e0eb 25.83%,#18dbed 26.25%,#27c2f7 26.67%,#359afd 27.08%,#366df7 27.5%,#3755f0 27.92%,#374eee 28.33%,#375ef3 28.75%,#3583fa 29.19%,#2dbafa 29.47%,#1bd7ef 29.58%,#06e3bc 29.76%,#06c639 30.04%,#5ed200 30.32%,#96e100 30.42%,#f8fd00 30.61%,#ffb600 30.89%,#f57100 31.25%,#f16300 31.46%,#eb5100 37.08%,#ef5f00 42.92%,#fd8b00 47.5%,#ff9200 47.92%,#ffb100 48.33%,#ffff00 49.12%,#45cb01 51.25%,#0fbd15 52.23%,#01cb4c 52.92%,#03e1ac 53.75%,#0be5d0 54.17%,#10e8e8 54.59%,#2eb7fb 56.67%,#34afff 58.75%,#2eb8fb 61.01%,#1dd4f0 61.25%,#05e3b7 61.46%,#03c945 61.69%,#3fc903 61.91%,#cdf100 62.14%,#ffd800 62.36%,#ffa200 62.59%,#fe8c00 62.81%,#f87b00 70%,#fc8700 73.33%,#ffb600 76.67%,#ffff00 79.89%,#d9f400 80.42%,#abe700 80.83%,#6ad500 81.25%,#35c705 81.67%,#0fbd15 82.19%,#00d77b 83.75%,#12e5e9 85.42%,#34a6fe 86.25%,#3580fa 86.67%,#366bf6 87.08%,#3668f6 87.5%,#3673f8 87.92%,#32b1fe 88.75%,#1dd3f0 89.17%,#0be6d4 89.58%,#00d574 90.42%,#01cb4b 90.83%,#0cc020 91.67%,#0dbf1a 92.08%,#08c430 92.92%,#02ca46 93.33%,#06e3b9 94.58%,#0ee7df 95%,#2abef9 95.83%,#34a5fe 96.67%,#32b2fd 100%)"></i><i style="inset:106.5px;background:conic-gradient(from 90deg,#31b4fd 0%,#2bbdf9 0.83%,#1dd4f0 1.01%,#04e2b2 1.25%,#03c942 1.48%,#2cc408 1.67%,#41ca02 1.72%,#cff100 1.95%,#fff400 2.08%,#ffa100 2.42%,#fe8c00 2.65%,#f87b00 9.58%,#f97e00 10%,#ff9500 10.42%,#ffff00 11.63%,#3ec903 13.75%,#0fbd15 14.71%,#00d36c 16.25%,#05e3b7 17.5%,#10e8e8 18.82%,#2cbbfa 21.67%,#2eb8fb 23.33%,#16dfec 25.42%,#15dfeb 25.83%,#20cef2 26.25%,#34adff 26.67%,#367cf9 27.08%,#375cf2 27.5%,#374eee 27.98%,#3759f1 28.33%,#3582fa 28.81%,#2bbdf9 29.11%,#22caf4 29.17%,#05e3b7 29.41%,#00d26a 29.58%,#07c535 29.71%,#64d400 30.01%,#fbfe00 30.31%,#ffb400 30.61%,#f87a00 30.91%,#f16300 31.25%,#ec5400 37.92%,#f26700 43.75%,#ff9000 47.67%,#ff9b00 47.92%,#ffff00 48.9%,#53cf00 50.83%,#0fbd15 52%,#05c73d 52.5%,#00df9c 53.33%,#08e4c4 53.75%,#10e8e8 54.31%,#2db9fb 56.25%,#34aeff 57.92%,#2eb8fb 60.71%,#29bff8 60.83%,#1fd1f1 60.95%,#05e3b7 61.19%,#03c945 61.43%,#3fc903 61.67%,#cdf000 61.91%,#ffe900 62.08%,#ffa200 62.39%,#fe8c00 62.62%,#f87b00 70%,#fd8800 73.33%,#ffba00 76.67%,#ffff00 79.7%,#ecfa00 80%,#c3ee00 80.42%,#45cb01 81.25%,#0fbd15 81.92%,#00d471 83.33%,#0ee7df 85%,#10e8e8 85.13%,#2fb6fc 85.83%,#3671f8 86.67%,#3667f6 87.12%,#366cf7 87.5%,#3580fa 87.92%,#34a1fd 88.33%,#10e8e8 89.17%,#00da89 90%,#00cf5b 90.42%,#05c73b 90.83%,#0ac226 91.25%,#0dbf1c 91.79%,#09c32a 92.5%,#00cf5a 93.33%,#0be5d1 94.58%,#16deec 95%,#31b3fd 95.83%,#34a5fe 96.67%,#31b4fd 100%)"></i><i style="inset:108px;background:conic-gradient(from 90deg,#2fb6fc 0%,#2cbafa 0.49%,#1dd4f0 0.74%,#11e6e9 0.83%,#04e2b4 0.99%,#04c840 1.25%,#40ca02 1.49%,#cff100 1.75%,#ffd700 2%,#ffa200 2.25%,#fe8c00 2.5%,#f87b00 9.17%,#f87b00 9.69%,#fb8300 10%,#ffa400 10.42%,#ffff00 11.4%,#4acc00 13.33%,#0fbd15 14.49%,#00d05f 15.83%,#03e2ae 17.08%,#0ee7e1 18.33%,#2db9fb 21.67%,#2fb6fc 22.92%,#15e0eb 25.49%,#1bd7ef 25.83%,#2cbbfa 26.25%,#3666f5 27.08%,#3751ef 27.5%,#3753f0 27.92%,#3583fa 28.43%,#28c2f7 28.75%,#03e2b0 29.06%,#00d984 29.17%,#08c42f 29.38%,#3ac804 29.58%,#ffff00 30.01%,#ff9d00 30.42%,#f87900 30.64%,#f16300 30.95%,#ed5800 38.33%,#f46e00 44.17%,#ff9000 47.5%,#ffaf00 47.92%,#ffff00 48.67%,#43ca02 50.83%,#0fbd15 51.77%,#00cd54 52.5%,#05e3b7 53.33%,#0de6d9 53.75%,#12e4ea 54.17%,#30b5fc 56.25%,#33b0fe 58.75%,#2eb8fb 60.42%,#1fd0f1 60.66%,#0be6d4 60.83%,#05e3b7 60.91%,#03c944 61.17%,#0bc125 61.25%,#3fc903 61.42%,#cef100 61.68%,#ffd800 61.94%,#ffa200 62.19%,#fe8b00 62.5%,#f87b00 70%,#fd8a00 73.33%,#ffbe00 76.67%,#fafe00 79.58%,#d8f400 80%,#a4e500 80.42%,#5ed200 80.83%,#2cc408 81.25%,#0fbd16 81.67%,#00d266 82.92%,#06e3b9 84.17%,#10e8e8 84.89%,#34a2fe 85.83%,#367efa 86.25%,#366af6 86.67%,#3669f6 87.08%,#3674f8 87.5%,#30b4fd 88.33%,#1bd7ef 88.75%,#0ae5ce 89.17%,#00e0a0 89.58%,#02ca47 90.42%,#0cc020 91.25%,#0dbf1d 91.67%,#06c637 92.5%,#00cc4e 92.92%,#00df9c 93.75%,#10e8e7 94.58%,#2dbafa 95.42%,#34a5fe 96.25%,#2fb6fc 100%)"></i><i style="inset:109.5px;background:conic-gradient(from 90deg,#2eb8fb 0%,#2dbafa 0.2%,#1dd3f0 0.47%,#05e2b4 0.74%,#03c943 1.01%,#40ca02 1.27%,#cef100 1.54%,#fffd00 1.67%,#ffa100 2.09%,#fe8c00 2.36%,#f87b00 9.17%,#f87b00 9.58%,#fe8d00 10%,#ffe400 10.83%,#ffff00 11.17%,#59d100 12.92%,#25c20a 13.75%,#0fbd15 14.26%,#00d46f 15.83%,#06e3b9 17.08%,#10e8e8 18.35%,#2dbafa 21.25%,#2db9fb 22.92%,#16dfec 25%,#17ddec 25.42%,#24c8f5 25.83%,#34a2fe 26.25%,#3672f8 26.67%,#3757f1 27.08%,#374eee 27.5%,#366ff8 27.92%,#25c7f5 28.37%,#01e1a5 28.71%,#0bc125 29.04%,#25c20a 29.17%,#78d900 29.37%,#d8f400 29.58%,#fff900 29.71%,#ffaf00 30.04%,#f67300 30.42%,#f06200 30.83%,#ef5c00 39.58%,#f77800 45%,#ff9000 47.26%,#ff9c00 47.5%,#ffff00 48.43%,#4fce00 50.42%,#0fbd15 51.53%,#03c943 52.08%,#02e1a7 52.92%,#0ae5ce 53.33%,#10e8e8 53.76%,#2fb6fc 55.83%,#33afff 57.92%,#2eb8fb 60.08%,#18dbed 60.42%,#05e3b8 60.63%,#03c945 60.91%,#3fc903 61.18%,#cdf000 61.46%,#ffe700 61.67%,#ff9700 62.08%,#fe8c00 62.28%,#f87b00 69.58%,#fd8800 72.92%,#ffba00 76.25%,#ffff00 79.26%,#eaf900 79.58%,#bcec00 80%,#3bc804 80.83%,#0fbd15 81.38%,#00d679 82.92%,#10e8e8 84.65%,#31b2fd 85.42%,#3670f8 86.25%,#3667f6 86.68%,#366df7 87.08%,#3582fa 87.5%,#34a4fe 87.92%,#0fe7e3 88.75%,#00d983 89.58%,#00cd55 90%,#06c638 90.42%,#0bc126 90.83%,#0cc01e 91.28%,#08c430 92.08%,#03c945 92.5%,#00db8d 93.33%,#0de6d9 94.17%,#1ad8ee 94.58%,#33b0fe 95.42%,#34a5fe 96.25%,#2eb8fb 100%)"></i><i style="inset:111px;background:conic-gradient(from 90deg,#2abef9 0%,#1dd3f0 0.18%,#09e4c7 0.42%,#03c942 0.77%,#09c32c 0.83%,#41ca02 1.06%,#cff100 1.35%,#ffd200 1.67%,#ffa200 1.93%,#fe8c00 2.22%,#f87b00 9.17%,#f97e00 9.58%,#ff9d00 10%,#fff800 10.83%,#ffff00 10.92%,#44cb01 12.92%,#0fbd15 14.01%,#00d163 15.42%,#04e2b1 16.67%,#10e8e8 18.11%,#2eb8fb 21.25%,#2fb7fc 22.5%,#15e0eb 24.99%,#1dd2f1 25.42%,#31b3fd 25.83%,#3584fa 26.25%,#3760f3 26.67%,#374eee 27.21%,#366af6 27.5%,#28c2f7 27.92%,#1ed1f1 27.99%,#00dc91 28.34%,#0fbd14 28.7%,#1bbf0d 28.75%,#beec00 29.17%,#fff200 29.41%,#ffaa00 29.77%,#f77600 30.12%,#f06300 30.48%,#f06100 40%,#f97f00 45.42%,#ff9100 47.08%,#ffb400 47.5%,#ffff00 48.19%,#5ed200 50%,#0fbd15 51.29%,#00d05f 52.08%,#07e4c1 52.92%,#10e8e8 53.49%,#2eb8fb 55.42%,#34aeff 57.08%,#2eb8fb 59.75%,#1fd0f1 60.05%,#05e3b7 60.34%,#03c945 60.64%,#1cbf0d 60.83%,#3fc903 60.94%,#d3f200 61.25%,#ffd800 61.53%,#ffa200 61.83%,#fe8c00 62.12%,#f87b00 69.58%,#fd8b00 72.92%,#ffbe00 76.25%,#ffff00 79.02%,#d1f100 79.58%,#95e100 80%,#4ccd00 80.42%,#20c10b 80.83%,#0cc01f 81.25%,#00d46f 82.5%,#07e3be 83.75%,#10e8e8 84.4%,#359dfd 85.42%,#367bf9 85.83%,#3667f6 86.46%,#3676f9 87.08%,#2eb8fb 87.92%,#18dbed 88.33%,#09e5c9 88.75%,#00d269 89.58%,#03c944 90%,#09c32d 90.42%,#0cc01f 91.02%,#09c32b 91.67%,#00ce57 92.5%,#01e1a6 93.33%,#13e3ea 94.17%,#2fb6fc 95%,#34a4fe 95.83%,#2db9fb 99.89%,#2abef9 100%)"></i><i style="inset:112.5px;background:conic-gradient(from 90deg,#12e5e9 0%,#05e2b5 0.2%,#03c943 0.52%,#40ca02 0.84%,#cef100 1.16%,#f0fb00 1.25%,#ffd800 1.48%,#ffa200 1.79%,#fe8c00 2.11%,#f87b00 9.3%,#fc8600 9.58%,#ffe800 10.42%,#ffff00 10.68%,#4fce00 12.5%,#0fbd15 13.76%,#00d574 15.42%,#06e3bd 16.67%,#11e7e8 17.92%,#2db9fb 20.83%,#30b5fc 22.08%,#15e0eb 24.74%,#19daed 25%,#28c1f7 25.42%,#3598fd 25.83%,#366bf7 26.25%,#3753f0 26.67%,#374eee 26.96%,#375ff3 27.08%,#3583fa 27.21%,#1fd1f1 27.5%,#11e7e8 27.59%,#00d164 27.97%,#2bc408 28.35%,#bdec00 28.75%,#ffe100 29.12%,#ff9400 29.58%,#f36b00 30%,#f06200 30.42%,#f26600 40.83%,#fd8a00 46.25%,#ff9000 46.76%,#ffa300 47.08%,#ffff00 47.94%,#4acc00 50%,#0fbd15 51.05%,#01cb4b 51.67%,#04e2b2 52.5%,#0ce6d7 52.92%,#12e4e9 53.33%,#30b4fd 55.42%,#32b1fe 57.92%,#2eb8fb 59.4%,#29c0f8 59.58%,#1fd0f1 59.72%,#08e4c5 60%,#06c637 60.42%,#3ec903 60.69%,#cdf100 61.02%,#ffeb00 61.25%,#ffa200 61.67%,#fd8b00 62.08%,#f87b00 69.58%,#fe8d00 72.92%,#ffc400 76.25%,#ffff00 78.77%,#e2f600 79.17%,#afe800 79.58%,#65d400 80%,#2dc408 80.42%,#0fbd16 80.83%,#00d165 82.08%,#05e2b5 83.33%,#10e7e8 84.17%,#34aeff 85%,#3589fb 85.42%,#366ef8 85.83%,#3667f6 86.25%,#366ef7 86.67%,#3585fa 87.08%,#34a8fe 87.5%,#22cbf4 87.92%,#0ee7de 88.33%,#00d77e 89.17%,#00cc51 89.58%,#0bc126 90.42%,#0cc021 90.83%,#06c636 91.67%,#01cb4c 92.08%,#06e3bd 93.33%,#0ee7e1 93.75%,#2abdf9 94.58%,#34a4fe 95.42%,#30b5fc 99.17%,#2db9fb 99.58%,#1dd2f1 99.89%,#12e5e9 100%)"></i><i style="inset:114px;background:conic-gradient(from 90deg,#00e09f 0%,#03c943 0.27%,#0ebe1a 0.42%,#40ca02 0.62%,#cef100 0.97%,#ffe500 1.25%,#ffa200 1.67%,#fe8b00 2.08%,#f87b00 9.17%,#ff9800 9.58%,#ffd200 10%,#ffff00 10.42%,#5bd100 12.08%,#28c309 12.92%,#0fbd15 13.5%,#00d26a 15%,#05e2b5 16.25%,#10e8e8 17.6%,#2cbafa 20.42%,#2eb7fb 22.08%,#16deec 24.17%,#16dfec 24.58%,#23caf4 25%,#34a2fe 25.42%,#366ff8 25.83%,#3754f0 26.25%,#374eee 26.54%,#3665f5 26.67%,#3582fa 26.76%,#1ad8ee 27.08%,#0ee7e1 27.17%,#00ce56 27.59%,#21c10b 27.92%,#36c705 28%,#c4ee00 28.42%,#ffe900 28.75%,#ff9c00 29.25%,#f57200 29.66%,#f06200 30.08%,#f36900 40.83%,#fe8d00 46.25%,#ff9700 46.67%,#ffff00 47.68%,#58d000 49.58%,#0fbd15 50.8%,#05c73b 51.25%,#00e0a1 52.08%,#0ae5cb 52.5%,#10e8e8 52.95%,#2fb5fc 55%,#33affe 57.08%,#2bbcf9 59.17%,#1ed1f1 59.39%,#0ee7df 59.58%,#05e3b7 59.74%,#03c945 60.1%,#3fc903 60.45%,#d5f300 60.83%,#ffd800 61.16%,#ffa200 61.52%,#fe8c00 61.87%,#f87b00 69.27%,#fe8b00 72.5%,#ffc000 75.83%,#ffff00 78.5%,#effa00 78.75%,#c2ed00 79.17%,#3bc804 80%,#0fbd15 80.54%,#00d678 82.08%,#10e8e8 83.9%,#2cbafa 84.58%,#3678f9 85.42%,#3667f6 86%,#3678f9 86.67%,#2cbbfa 87.5%,#16dfec 87.92%,#08e4c4 88.33%,#00d164 89.17%,#04c841 89.58%,#09c32c 90%,#0cc022 90.52%,#08c430 91.25%,#00d060 92.08%,#0be6d3 93.33%,#16deec 93.75%,#31b3fd 94.58%,#34a4fe 95.42%,#2eb8fb 99.22%,#1dd4f0 99.58%,#05e2b5 99.92%,#00e09f 100%)"></i><i style="inset:115.5px;background:conic-gradient(from 90deg,#02ca47 0%,#43ca02 0.42%,#daf400 0.83%,#ffd800 1.18%,#ff9900 1.67%,#fd8b00 2.08%,#f87b00 9.01%,#fa8000 9.17%,#fff100 10%,#ffff00 10.15%,#66d400 11.67%,#44cb01 12.08%,#0dbf1a 13.33%,#00d77c 15%,#07e4c2 16.25%,#10e8e8 17.34%,#2eb8fb 20.42%,#2fb5fc 21.67%,#15dfeb 24.24%,#1cd4f0 24.58%,#32b2fd 25%,#367cf9 25.42%,#3759f1 25.83%,#3751ef 26.25%,#3582fa 26.43%,#28c2f7 26.67%,#0ee7e1 26.85%,#00de96 27.08%,#00ce56 27.26%,#0ebe16 27.5%,#36c705 27.68%,#c4ee00 28.1%,#fffa00 28.33%,#ff9c00 28.93%,#f57200 29.35%,#f06200 29.76%,#f36c00 40.83%,#ff9000 46.19%,#ffb100 46.67%,#ffff00 47.41%,#45cb01 49.58%,#0fbd15 50.55%,#00cd54 51.25%,#06e3bd 52.08%,#10e8e8 52.68%,#2eb7fb 54.58%,#34aeff 56.25%,#2cbbfa 58.75%,#13e3ea 59.17%,#05e3b7 59.42%,#03c944 59.82%,#0fbd16 60%,#3fc903 60.21%,#cdf000 60.61%,#fff400 60.83%,#ffa200 61.39%,#fe8c00 61.79%,#f87b00 69.17%,#ff8e00 72.5%,#ffc600 75.83%,#ffff00 78.22%,#d2f200 78.75%,#96e100 79.17%,#4bcd00 79.58%,#1fc00c 80%,#0cc020 80.42%,#00d46f 81.67%,#06e3bb 82.92%,#10e8e8 83.64%,#34a7fe 84.58%,#3584fa 85%,#366df7 85.42%,#3668f6 85.83%,#366ff8 86.25%,#3588fb 86.67%,#34acff 87.08%,#20cff2 87.5%,#0de6d9 87.92%,#00d679 88.75%,#00cc4e 89.17%,#0ac226 90%,#0bc124 90.42%,#05c73c 91.25%,#00cd53 91.67%,#00e09f 92.5%,#10e8e7 93.33%,#2cbafa 94.17%,#34a4fe 95.05%,#2eb7fb 98.85%,#1ed2f1 99.24%,#05e2b6 99.62%,#02ca47 100%)"></i><i style="inset:117px;background:conic-gradient(from 90deg,#13bd0f 0%,#40ca02 0.19%,#cdf100 0.61%,#fff600 0.83%,#ffa200 1.44%,#fe8c00 1.86%,#f87b00 8.86%,#ff9300 9.17%,#ffdb00 9.58%,#ffff00 9.87%,#70d700 11.25%,#4ccd00 11.67%,#0fbd15 12.96%,#00d572 14.58%,#06e3bb 15.83%,#10e8e8 17.08%,#2db9fb 20%,#2eb8fb 21.67%,#16deec 23.75%,#18dced 24.17%,#29bff8 24.58%,#358dfb 25%,#3760f4 25.42%,#374eee 25.89%,#34abff 26.25%,#0ee7e1 26.53%,#00cd56 26.94%,#08c430 27.08%,#37c705 27.36%,#c5ee00 27.78%,#edfa00 27.92%,#ffdb00 28.19%,#fd8b00 28.75%,#f36900 29.17%,#f06200 30%,#f57000 41.25%,#ff9000 45.88%,#ffa500 46.25%,#ffff00 47.14%,#52cf00 49.17%,#0fbd15 50.3%,#03c943 50.83%,#03e1ad 51.67%,#0ce6d4 52.08%,#12e5e9 52.5%,#2db9fb 54.17%,#34aeff 55.83%,#2eb8fb 58.33%,#1cd5f0 58.75%,#03e2af 59.17%,#05c73d 59.58%,#46cb01 60%,#d6f300 60.42%,#ffd400 60.83%,#ff9f00 61.25%,#fe8c00 61.67%,#f87b00 68.75%,#fe8d00 72.08%,#ffc400 75.42%,#ffff00 77.92%,#e0f600 78.33%,#ace700 78.75%,#61d300 79.17%,#2bc408 79.58%,#0ebe17 80%,#00d165 81.25%,#0ae5cb 82.92%,#10e8e8 83.38%,#30b4fc 84.17%,#3674f8 85%,#3667f6 85.54%,#366af6 85.83%,#367bf9 86.25%,#359bfd 86.67%,#2abff8 87.08%,#13e3ea 87.5%,#00dc8f 88.33%,#00d060 88.75%,#04c840 89.17%,#09c32c 89.58%,#0bc124 90.04%,#07c535 90.83%,#02ca49 91.25%,#05e2b5 92.5%,#0de6d9 92.92%,#19daee 93.33%,#32b1fe 94.17%,#34a3fe 95%,#2eb7fb 98.52%,#29c0f8 98.75%,#0ee7de 99.17%,#05e2b6 99.36%,#03c944 99.77%,#13bd0f 100%)"></i><i style="inset:118.5px;background:conic-gradient(from 90deg,#46cb01 0%,#d5f300 0.42%,#ffd400 0.83%,#ffa000 1.25%,#fe8c00 1.67%,#f87b00 8.71%,#ffb900 9.17%,#ffff00 9.59%,#79d900 10.83%,#54cf00 11.25%,#0fbd15 12.68%,#00d269 14.17%,#04e2b4 15.42%,#10e8e8 16.8%,#2cbbfa 19.58%,#2fb6fc 21.25%,#16dfec 23.74%,#21ccf3 24.17%,#34a0fd 24.58%,#3669f6 25%,#3750ef 25.42%,#374eee 25.57%,#358ffb 25.83%,#0ee7e0 26.21%,#02ca49 26.67%,#41ca02 27.08%,#d1f200 27.5%,#ffd400 27.92%,#ff9700 28.33%,#f46f00 28.75%,#f06200 29.17%,#f67300 41.25%,#ff9000 45.56%,#ff9c00 45.83%,#ffff00 46.86%,#41ca02 49.17%,#0fbd15 50.05%,#07c534 50.42%,#00d061 50.83%,#00df9a 51.25%,#09e4c7 51.67%,#10e8e8 52.14%,#30b4fc 54.17%,#33b0fe 56.25%,#2eb8fb 58.06%,#1ed1f1 58.48%,#0ce6d6 58.75%,#05e2b6 58.89%,#03c944 59.31%,#1dc00c 59.58%,#3fc903 59.73%,#cdf000 60.14%,#ffef00 60.42%,#ffa200 60.98%,#fe8c00 61.39%,#f87b00 68.41%,#fe8c00 71.67%,#ffc100 75%,#ffff00 77.62%,#ebf900 77.92%,#bcec00 78.33%,#38c705 79.17%,#0fbd15 79.68%,#00d678 81.25%,#10e8e8 83.12%,#34a0fd 84.17%,#367ffa 84.58%,#366bf7 85%,#3668f6 85.42%,#3671f8 85.83%,#33b0fe 86.67%,#1dd3f0 87.08%,#0ce6d4 87.5%,#00d575 88.33%,#01cb4c 88.75%,#07c535 89.17%,#0bc126 89.8%,#08c430 90.42%,#00cf5a 91.25%,#09e5ca 92.5%,#12e5e9 92.92%,#2eb8fb 93.75%,#34a3fe 94.59%,#2fb7fc 98.33%,#1dd4f0 98.75%,#04e2b0 99.17%,#05c73e 99.58%,#46cb01 100%)"></i><i style="inset:120px;background:conic-gradient(from 90deg,#94e000 0%,#cdf000 0.18%,#fff400 0.42%,#ffa200 1.01%,#fe8c00 1.42%,#f87b00 8.56%,#fe8e00 8.75%,#ffed00 9.17%,#ffff00 9.3%,#80db00 10.42%,#5bd100 10.83%,#2cc408 11.67%,#0dbf1b 12.5%,#00d77c 14.17%,#07e4c1 15.42%,#12e5e9 16.67%,#2eb8fb 19.58%,#30b4fd 20.83%,#16dfec 23.49%,#1bd7ef 23.75%,#32b2fe 24.17%,#3676f9 24.58%,#3754f0 25%,#374eee 25.25%,#3670f8 25.42%,#14e1eb 25.83%,#0ee7e1 25.89%,#00ce56 26.3%,#2ac309 26.67%,#c5ee00 27.14%,#ffe400 27.5%,#ff9c00 27.97%,#f57100 28.39%,#f06200 28.8%,#f67500 41.25%,#ff9000 45.22%,#ff9600 45.42%,#ffff00 46.58%,#4acc00 48.75%,#0fbd15 49.79%,#01cb4d 50.42%,#05e3b8 51.25%,#10e8e8 51.88%,#2fb6fc 53.75%,#34afff 55.42%,#2dbafa 57.92%,#17ddec 58.33%,#05e2b6 58.65%,#03c944 59.07%,#09c32d 59.17%,#3fc903 59.49%,#e8f800 60%,#ffd800 60.32%,#ff9a00 60.83%,#fd8b00 61.25%,#f87b00 68.33%,#ff8f00 71.67%,#ffc800 75%,#ffff00 77.3%,#f4fc00 77.5%,#caf000 77.92%,#44cb01 78.75%,#1bbf0d 79.17%,#0bc122 79.58%,#00d46f 80.83%,#0be6d2 82.5%,#12e4e9 82.92%,#34aeff 83.75%,#3670f8 84.58%,#3667f6 85.07%,#366cf7 85.42%,#367ffa 85.83%,#349ffd 86.25%,#11e7e8 87.08%,#00db8b 87.92%,#00cf5d 88.33%,#04c83f 88.75%,#09c32d 89.17%,#0ac227 89.58%,#06c63a 90.42%,#01cb4e 90.83%,#06e3ba 92.08%,#0ee7dd 92.5%,#29c0f8 93.33%,#34a4fe 94.17%,#32b1fe 97.5%,#2fb6fc 98.09%,#29c0f8 98.33%,#1fd0f1 98.51%,#0de7dd 98.75%,#05e3b7 98.92%,#03c944 99.34%,#16be0e 99.58%,#3fc903 99.76%,#94e000 100%)"></i><i style="inset:121.5px;background:conic-gradient(from 90deg,#d8f400 0%,#ffd300 0.42%,#ff9e00 0.83%,#fe8c00 1.25%,#f87b00 8.39%,#ffff00 9%,#87dd00 10%,#42ca02 10.83%,#0fbd15 12.08%,#00d574 13.75%,#06e3bb 15%,#10e8e8 16.25%,#2db9fa 19.17%,#2fb6fc 20.83%,#17ddec 22.92%,#16deec 23.33%,#28c1f8 23.75%,#3588fb 24.17%,#375af2 24.58%,#374eee 24.93%,#3756f1 25%,#3583fa 25.15%,#23caf4 25.42%,#0ee7e0 25.57%,#00db8b 25.83%,#00cd55 25.98%,#12bd0f 26.25%,#37c705 26.4%,#c5ee00 26.82%,#fff400 27.08%,#ff9c00 27.65%,#f57100 28.07%,#f06200 28.48%,#f77800 41.25%,#ff9300 45%,#ffb000 45.42%,#ffff00 46.28%,#57d000 48.33%,#0fbd15 49.53%,#05c73d 50%,#01e1a7 50.83%,#0be5d1 51.25%,#11e6e9 51.67%,#2eb8fb 53.33%,#34aeff 55%,#2eb8fb 57.58%,#1ed1f1 57.99%,#09e4c8 58.33%,#03c944 58.83%,#2cc408 59.17%,#3fc903 59.24%,#cdf000 59.66%,#ffe400 60%,#ffa200 60.49%,#fe8c00 60.91%,#f87b00 67.92%,#fe8e00 71.25%,#ffc600 74.58%,#fafd00 77.08%,#d6f300 77.5%,#9de300 77.92%,#55cf00 78.33%,#26c20a 78.75%,#0dbf1a 79.17%,#00d266 80.42%,#09e5ca 82.08%,#10e8e8 82.58%,#2db9fb 83.33%,#367af9 84.17%,#3667f6 84.83%,#3674f8 85.42%,#30b4fd 86.25%,#1bd7ef 86.67%,#0be5cf 87.08%,#00d472 87.92%,#01cb4b 88.33%,#07c535 88.75%,#0ac228 89.34%,#07c534 90%,#00d060 90.83%,#0ae5ce 92.08%,#14e1eb 92.5%,#2fb6fc 93.33%,#34a3fe 94.17%,#2fb6fc 97.92%,#1cd4f0 98.33%,#03e2ae 98.75%,#05c73c 99.17%,#48cc00 99.58%,#d8f400 100%)"></i><i style="inset:123px;background:conic-gradient(from 90deg,#fff300 0%,#ffa200 0.58%,#fe8c00 1%,#f87b00 8.23%,#fd8a00 8.33%,#ffff00 8.7%,#8cde00 9.58%,#63d300 10%,#44cb01 10.42%,#0fbd15 11.78%,#00d36c 13.33%,#05e2b6 14.58%,#10e8e8 15.95%,#2eb7fb 19.17%,#30b5fc 20.42%,#16dfec 22.99%,#20cff2 23.33%,#359dfd 23.75%,#3663f4 24.17%,#374eee 24.61%,#31b3fd 25%,#0ee7e0 25.24%,#02e1ab 25.42%,#00cd55 25.66%,#0ac227 25.83%,#37c705 26.08%,#c5ee00 26.49%,#f7fd00 26.67%,#ffbf00 27.08%,#fc8700 27.5%,#f26700 27.92%,#f16300 30%,#f97e00 42.08%,#ff9100 44.58%,#ffa800 45%,#ffff00 45.99%,#43cb01 48.33%,#0fbd15 49.27%,#00ce59 50%,#00dd93 50.42%,#08e4c2 50.83%,#10e8e8 51.35%,#2cbbfa 52.92%,#34aeff 54.17%,#2bbcf9 57.5%,#11e6e9 57.92%,#05e3b7 58.17%,#03c945 58.59%,#0dbf1d 58.75%,#3fc903 59%,#cdf000 59.42%,#fbfe00 59.58%,#ffa200 60.25%,#fe8c00 60.67%,#f87b00 67.5%,#fe8d00 70.83%,#ffc500 74.17%,#feff00 76.67%,#dff600 77.08%,#aee700 77.5%,#67d400 77.92%,#30c507 78.33%,#0fbd15 78.79%,#00d679 80.42%,#10e8e8 82.31%,#34a5fe 83.33%,#366ef7 84.17%,#3667f6 84.59%,#366df7 85%,#3582fa 85.42%,#34a4fe 85.83%,#0fe8e4 86.67%,#00da87 87.5%,#00cf5b 87.92%,#04c83f 88.33%,#08c42e 88.75%,#0ac229 89.17%,#05c73e 90%,#00cd53 90.42%,#07e3bf 91.67%,#0fe7e1 92.08%,#34aeff 93.33%,#34a2fe 94.17%,#30b5fc 97.66%,#29c0f8 97.92%,#0de7dc 98.33%,#05e3b8 98.5%,#03c945 98.91%,#18be0e 99.17%,#3ec903 99.33%,#ccf000 99.75%,#fff300 100%)"></i><i style="inset:124.5px;background:conic-gradient(from 90deg,#ffd100 0%,#ff9e00 0.42%,#fe8c00 0.83%,#f87b00 8.06%,#fff000 8.33%,#ffff00 8.39%,#90df00 9.17%,#63d300 9.58%,#44cb01 10%,#0fbd15 11.47%,#00d165 12.92%,#04e2b0 14.17%,#10e8e8 15.66%,#2eb8fb 18.75%,#2eb7fb 20.42%,#16deec 22.5%,#19daee 22.92%,#32b2fe 23.33%,#366ff8 23.75%,#374fef 24.17%,#374eee 24.28%,#3599fd 24.58%,#0ee7e0 24.92%,#00cd55 25.34%,#04c840 25.42%,#37c705 25.76%,#4bcd00 25.83%,#dcf500 26.25%,#ffdb00 26.59%,#ff9200 27.08%,#f36c00 27.5%,#f06200 27.92%,#f97f00 41.67%,#ff9000 44.18%,#ffa200 44.58%,#ffff00 45.68%,#4dcd00 47.92%,#0fbd15 49.01%,#02ca47 49.58%,#04e2b2 50.42%,#0de6d9 50.83%,#13e2ea 51.25%,#2fb5fc 52.92%,#33affe 55%,#2eb8fb 57.09%,#1ed1f1 57.51%,#05e3b7 57.93%,#03c945 58.34%,#3fc903 58.76%,#ccf000 59.18%,#ffd900 59.59%,#ffa200 60.01%,#fe8c00 60.43%,#f87b00 67.14%,#fe8d00 70.42%,#ffc300 73.75%,#ffff00 76.31%,#e7f800 76.67%,#baeb00 77.08%,#3bc804 77.92%,#0fbd15 78.49%,#00d471 80%,#0be6d2 81.67%,#12e5e9 82.08%,#32b1fe 82.92%,#3675f9 83.75%,#3667f6 84.34%,#3677f9 85%,#2eb8fb 85.83%,#18dbed 86.25%,#0ae5cb 86.67%,#00d46f 87.5%,#01cb4a 87.92%,#07c536 88.33%,#09c32a 88.88%,#06c637 89.58%,#02ca49 90%,#00da8a 90.83%,#0be6d2 91.67%,#15dfec 92.08%,#30b5fc 92.92%,#34a2fe 93.75%,#30b5fc 97.5%,#1cd4f0 97.92%,#03e1ad 98.33%,#05c73a 98.75%,#4bcd00 99.17%,#daf400 99.58%,#ffd100 100%)"></i><i style="inset:126px;background:conic-gradient(from 90deg,#ffb400 0%,#ff9000 0.42%,#f87b00 6.25%,#f87b00 7.85%,#ff9400 7.92%,#ffff00 8.07%,#95e100 8.75%,#64d400 9.17%,#44cb01 9.58%,#0fbd15 11.15%,#00d679 12.92%,#07e3be 14.17%,#11e7e8 15.42%,#2db9fa 18.33%,#30b5fc 20%,#16dfec 22.49%,#27c3f7 22.92%,#3582fa 23.33%,#3754f0 23.75%,#374eee 23.96%,#3583fa 24.18%,#0ee7e0 24.6%,#00cd55 25.02%,#37c705 25.43%,#c6ee00 25.85%,#ffda00 26.27%,#ff9b00 26.68%,#f57100 27.1%,#f06200 27.52%,#fa8100 41.67%,#ff9000 43.81%,#ff9d00 44.17%,#ffff00 45.38%,#3dc903 47.92%,#0fbd15 48.75%,#06c638 49.17%,#00e0a0 50%,#0ae5cc 50.42%,#10e8e8 50.83%,#2eb7fb 52.5%,#34aeff 54.17%,#2eb8fb 56.85%,#29c0f8 57.08%,#0ee7df 57.5%,#05e3b7 57.69%,#03c945 58.1%,#13bd0f 58.33%,#3ec903 58.52%,#ccf000 58.94%,#fff700 59.17%,#ffa200 59.77%,#fe8c00 60.19%,#f87b00 66.81%,#fe8c00 70%,#ffc200 73.33%,#ffff00 75.96%,#eefa00 76.25%,#c4ee00 76.67%,#45cb01 77.5%,#1fc00c 77.92%,#0cc01f 78.33%,#00d269 79.58%,#09e5cb 81.25%,#10e8e8 81.75%,#359cfd 82.92%,#367efa 83.33%,#366cf7 83.75%,#3668f6 84.17%,#366ff8 84.58%,#3587fb 85%,#34a9fe 85.42%,#0ee7e0 86.25%,#00d985 87.08%,#00cf5a 87.5%,#04c83f 87.92%,#09c32c 88.66%,#04c841 89.58%,#00ce57 90%,#07e4c2 91.25%,#0fe8e4 91.67%,#34adff 92.92%,#34a2fe 93.75%,#30b4fd 97.24%,#29bff8 97.5%,#0de7dc 97.92%,#06e3ba 98.07%,#02ca46 98.49%,#19bf0d 98.75%,#3ec903 98.91%,#ccf000 99.32%,#fff100 99.58%,#ffb400 100%)"></i><i style="inset:127.5px;background:conic-gradient(from 90deg,#ff9d00 0%,#fe8b00 0.42%,#f87b00 7.53%,#ffff00 7.76%,#a3e400 8.33%,#6ed600 8.75%,#49cc00 9.17%,#0fbd15 10.83%,#00d573 12.5%,#06e3ba 13.75%,#10e8e8 15.06%,#2eb7fb 18.33%,#2eb8fb 20%,#16deec 22.08%,#1ed2f1 22.5%,#3599fd 22.92%,#375cf2 23.33%,#374eee 23.64%,#3760f4 23.75%,#3582fa 23.86%,#1dd3f0 24.17%,#0ee7e1 24.28%,#00cd56 24.69%,#1cbf0d 25%,#37c705 25.11%,#c5ee00 25.52%,#ffed00 25.83%,#ff9c00 26.36%,#f57100 26.78%,#f06100 27.19%,#fb8400 41.67%,#ff9000 43.45%,#ff9900 43.75%,#ffff00 45.06%,#44cb01 47.5%,#0fbd15 48.47%,#00cd53 49.17%,#06e3bd 50%,#10e8e8 50.57%,#2dbafa 52.08%,#34aeff 53.33%,#2eb8fb 56.67%,#1ad7ef 57.08%,#02e1aa 57.5%,#06c638 57.92%,#3ec903 58.28%,#dcf500 58.75%,#ffd100 59.17%,#ff9d00 59.58%,#fe8b00 60%,#f87b00 66.67%,#ff9000 70%,#ffd200 73.75%,#ffff00 75.62%,#f3fb00 75.83%,#cdf000 76.25%,#96e100 76.67%,#53cf00 77.08%,#27c309 77.5%,#0ebe18 77.92%,#00d77c 79.58%,#10e8e8 81.47%,#34a8fe 82.5%,#3670f8 83.33%,#3667f6 83.84%,#366bf6 84.17%,#367bf9 84.58%,#2bbcf9 85.42%,#16deec 85.83%,#09e4c7 86.25%,#00d46e 87.08%,#01cb4b 87.5%,#06c637 87.92%,#09c32d 88.45%,#05c73a 89.17%,#01cb4c 89.58%,#04e2b1 90.83%,#0ce6d4 91.25%,#16deec 91.67%,#30b4fd 92.5%,#34a2fe 93.33%,#30b4fd 97.08%,#1cd4f0 97.5%,#03e1ad 97.92%,#06c639 98.33%,#3dc903 98.69%,#dcf500 99.17%,#ffd100 99.58%,#ff9d00 100%)"></i></div></div><div class="d w" style="left:233px;top:59px;width:250px;height:250px"><div class="b" style="inset:-4px;filter:blur(0.8px)"><i style="inset:0px;background:conic-gradient(from 26deg,#3b3bd9 0%,#3939df 2.22%,#3b3bd7 6.11%,#3a3add 23.33%,#3838e6 24.44%,#3841eb 25%,#3673f8 26.11%,#34a1fe 26.67%,#21ccf3 27.22%,#0ee7de 27.78%,#08e4c4 28.33%,#05e2b5 28.89%,#08e4c5 29.44%,#15e0eb 30%,#33affe 30.56%,#3673f8 31.11%,#3751ef 31.67%,#383be9 32.22%,#3b3bd8 34.44%,#3b3bd7 35.56%)"></i><i style="inset:2px;background:conic-gradient(from 26deg,#3b3bd9 0%,#3939df 2.22%,#3b3bd7 6.11%,#3a3add 23.33%,#3838e6 24.44%,#3841eb 25%,#3673f8 26.11%,#34a1fe 26.67%,#21ccf3 27.22%,#0ee7de 27.78%,#08e4c4 28.33%,#05e2b5 28.89%,#08e4c5 29.44%,#15e0eb 30%,#33affe 30.56%,#3673f8 31.11%,#3751ef 31.67%,#383be9 32.22%,#3b3bd8 34.44%,#3b3bd7 35.56%)"></i><i style="inset:4px;background:conic-gradient(from 26deg,#3b3bd9 0%,#3939e3 1.67%,#3b3bd7 5%,#3a3adb 22.78%,#3838e7 24.44%,#3844eb 25%,#375af2 25.56%,#367df9 26.11%,#34aeff 26.67%,#1ad8ee 27.22%,#0ae5cf 27.78%,#05e2b6 28.33%,#02e1a9 28.89%,#06e3bd 29.44%,#13e3ea 30%,#33b0fe 30.56%,#3672f8 31.11%,#3750ef 31.67%,#383ae9 32.22%,#3b3bd8 34.44%,#3b3bd7 35.56%)"></i><i style="inset:6px;background:conic-gradient(from 26deg,#3a3ad9 0%,#3939e5 1.67%,#3b3bd7 4.44%,#3a3adc 22.78%,#383de9 24.44%,#3750ef 25%,#366ef7 25.56%,#34a6fe 26.11%,#1bd6ef 26.67%,#08e4c4 27.22%,#00de97 27.78%,#00d985 28.33%,#00d984 28.89%,#02e1ab 29.44%,#11e6e9 30%,#34acff 30.56%,#366cf7 31.11%,#374cee 31.67%,#3838e8 32.22%,#3b3bd8 34.44%,#3b3bd7 35.56%)"></i><i style="inset:8px;background:conic-gradient(from 26deg,#3a3ad9 0%,#3838e7 1.67%,#3b3bd7 4.44%,#3a3add 22.78%,#3838e6 23.89%,#3844ec 24.44%,#375ef3 25%,#358efb 25.56%,#23c9f4 26.11%,#0be5d0 26.67%,#00de96 27.22%,#00d36e 27.78%,#00d36c 28.33%,#00d77a 28.89%,#04e2b0 29.44%,#18dbed 30%,#359cfd 30.56%,#3664f4 31.11%,#3746ec 31.67%,#3838e6 32.22%,#3b3bd8 35%,#3b3bd7 35.56%)"></i><i style="inset:10px;background:conic-gradient(from 26deg,#3a3ada 0%,#383ae9 1.67%,#3b3bd8 3.89%,#3a3adc 22.22%,#383ae9 23.89%,#374dee 24.44%,#366df7 25%,#34afff 25.56%,#11e6e9 26.11%,#04e2b0 26.67%,#00d77d 27.22%,#00d163 27.78%,#00d572 28.33%,#00dc90 28.89%,#0ae5cb 29.44%,#26c5f6 30%,#3585fa 30.56%,#3759f1 31.11%,#3840ea 31.67%,#3a3ade 32.78%,#3b3bd7 35.56%)"></i><i style="inset:12px;background:conic-gradient(from 26deg,#3a3ada 0%,#383eea 1.67%,#3a3ada 3.33%,#3a3add 22.22%,#3939e5 23.33%,#3840ea 23.89%,#3758f1 24.44%,#3582fa 25%,#26c5f6 25.56%,#0ce6d4 26.11%,#01e0a4 26.67%,#00d881 27.22%,#00d67a 27.78%,#06e3ba 28.89%,#16deec 29.44%,#34a7fe 30%,#366df7 30.56%,#374fee 31.11%,#383be9 31.67%,#3b3bd8 34.44%,#3b3bd7 35.56%)"></i><i style="inset:14px;background:conic-gradient(from 26deg,#3a3adb 0%,#3842eb 1.67%,#3939e0 2.78%,#3b3bd8 5.56%,#3a3adb 21.67%,#3838e8 23.33%,#3747ec 23.89%,#3663f4 24.44%,#3597fc 25%,#1cd5ef 25.56%,#0ae5cd 26.11%,#03e2af 26.67%,#00e0a0 27.22%,#02e1a9 27.78%,#14e2ea 28.89%,#2eb8fb 29.44%,#3583fa 30%,#375df2 30.56%,#3845ec 31.11%,#3838e6 31.67%,#3b3bd8 34.44%,#3b3bd7 35.56%)"></i><i style="inset:16px;background:conic-gradient(from 26deg,#3a3adc 0%,#3840ea 1.11%,#3746ec 1.67%,#3939e2 2.78%,#3b3bd8 5%,#3a3add 21.67%,#383fea 23.33%,#3751ef 23.89%,#3670f8 24.44%,#34abff 25%,#16deec 25.56%,#0ae5cb 26.67%,#0ae5cd 27.22%,#0ee7e0 27.78%,#2eb8fb 28.89%,#3667f6 30%,#383de9 31.11%,#3b3bd8 33.89%,#3b3bd7 35.56%)"></i><i style="inset:18px;background:conic-gradient(from 26deg,#3a3adc 0%,#3939e5 0.56%,#374aed 1.67%,#3939e4 2.78%,#3b3bd8 5%,#3939df 21.67%,#383be9 22.78%,#375df3 23.89%,#3584fa 24.44%,#2eb7fb 25%,#16deec 25.56%,#15e0eb 26.67%,#27c2f7 27.78%,#34a7fe 28.33%,#366cf7 29.44%,#3844eb 30.56%,#3838e7 31.11%,#3b3bd8 34.44%,#3b3bd7 35.56%)"></i><i style="inset:20px;background:conic-gradient(from 26deg,#3a3add 0%,#3838e6 0.56%,#374eee 1.67%,#3838e5 2.78%,#3b3bd9 4.44%,#3a3add 16.67%,#3a3adf 21.11%,#383ae8 22.22%,#3756f0 23.33%,#366cf7 23.89%,#3598fd 24.44%,#29bff8 25%,#1bd7ef 25.56%,#33affe 27.22%,#366bf7 28.89%,#383ce9 30.56%,#3b3bd8 33.89%,#3b3bd7 35.56%)"></i><i style="inset:22px;background:conic-gradient(from 26deg,#3a3ade 0%,#3838e8 0.56%,#3752ef 1.67%,#3838e7 2.78%,#3a3ad9 4.44%,#3a3adc 15.56%,#3939e3 18.33%,#3939e3 21.11%,#383ae8 21.67%,#3666f5 23.33%,#3582fa 23.89%,#34abff 24.44%,#28c2f7 25%,#23c9f4 25.56%,#31b2fd 26.11%,#3667f5 28.33%,#3838e7 30.56%,#3b3bd8 33.89%,#3b3bd7 35.56%)"></i><i style="inset:24px;background:conic-gradient(from 26deg,#3a3adf 0%,#383ae9 0.56%,#374dee 1.11%,#3756f1 1.67%,#383ae9 2.78%,#3a3ada 4.44%,#3a3ade 15%,#3838e8 16.67%,#3840ea 17.78%,#3939e5 20.56%,#383ae9 21.11%,#3667f5 22.78%,#2fb5fc 24.44%,#2abef9 25%,#2db9fb 25.56%,#3598fc 26.11%,#3672f8 27.22%,#383be9 30%,#3b3bd8 33.89%,#3b3bd7 35.56%)"></i><i style="inset:26px;background:conic-gradient(from 26deg,#3939e0 0%,#383ce9 0.56%,#3750ef 1.11%,#3759f1 1.67%,#383de9 2.78%,#3a3ada 4.44%,#3a3adc 13.89%,#383eea 16.11%,#374fee 17.22%,#383fea 20.56%,#3669f6 22.22%,#34aeff 23.89%,#2dbafa 24.44%,#2fb6fc 25%,#34a6fe 25.56%,#3584fa 26.11%,#375ff3 27.78%,#3838e7 30%,#3b3bd7 33.89%,#3b3bd7 35.56%)"></i><i style="inset:28px;background:conic-gradient(from 26deg,#3939e0 0%,#383eea 0.56%,#3753f0 1.11%,#375cf2 1.67%,#3753f0 2.22%,#3840ea 2.78%,#3a3add 3.89%,#3a3add 13.33%,#383ce9 15%,#3760f3 17.22%,#374fee 20.56%,#366bf7 21.67%,#34aeff 23.33%,#2db9fb 23.89%,#2db9fb 24.44%,#3596fc 25.56%,#367af9 26.11%,#3838e5 30%,#3b3bd7 33.89%,#3b3bd7 35.56%)"></i><i style="inset:30px;background:conic-gradient(from 26deg,#3939e1 0%,#3840ea 0.56%,#3755f0 1.11%,#375ff3 1.67%,#3757f1 2.22%,#3939e4 3.33%,#3a3adb 6.11%,#3a3ade 12.78%,#3838e7 13.89%,#3670f8 17.22%,#3762f4 20.56%,#366ef8 21.11%,#32b1fe 22.78%,#2abef9 23.89%,#34a3fe 25%,#367bf9 26.11%,#383be9 29.44%,#3b3bd8 33.33%,#3b3bd7 35.56%)"></i><i style="inset:32px;background:conic-gradient(from 26deg,#3939e2 0%,#3841eb 0.56%,#3757f1 1.11%,#3761f4 1.67%,#3759f1 2.22%,#3838e6 3.33%,#3a3adc 6.11%,#3a3ade 12.22%,#3838e8 13.33%,#3583fa 17.22%,#3679f9 20.56%,#30b4fd 22.22%,#27c2f7 23.33%,#29c0f8 23.89%,#3594fc 25.56%,#3753f0 28.33%,#3839e8 29.44%,#3b3bd8 32.78%,#3b3bd7 35.56%)"></i><i style="inset:34px;background:conic-gradient(from 26deg,#3939e3 0%,#3843eb 0.56%,#3758f1 1.11%,#3663f4 1.67%,#375cf2 2.22%,#3838e7 3.33%,#3a3add 5.56%,#3a3adf 11.67%,#3839e8 12.78%,#3580fa 16.11%,#3592fc 18.33%,#3596fc 20.56%,#28c1f8 22.22%,#27c3f7 23.89%,#34a5fe 25.56%,#3590fc 26.67%,#3843eb 28.89%,#3838e7 29.44%,#3b3bd8 32.78%,#3b3bd7 35.56%)"></i><i style="inset:36px;background:conic-gradient(from 26deg,#3939e3 0%,#3664f4 1.67%,#375df3 2.22%,#383ae9 3.33%,#3a3ade 5.56%,#3a3ade 11.11%,#383be9 12.22%,#367dfa 15%,#358efb 16.67%,#359dfd 18.89%,#2db9fb 21.11%,#22ccf3 22.78%,#2bbcf9 25.56%,#34a2fe 26.67%,#3667f6 27.78%,#3841eb 28.89%,#3939e1 30%,#3b3bd7 35.56%)"></i><i style="inset:38px;background:conic-gradient(from 26deg,#3939e4 0%,#3664f5 1.67%,#375ff3 2.22%,#383de9 3.33%,#3939e0 6.11%,#3a3add 10.56%,#383ce9 11.67%,#3583fa 14.44%,#358dfb 16.11%,#3585fa 17.22%,#34a8fe 19.44%,#1fd0f2 22.22%,#1ad9ee 24.44%,#1dd4f0 25.56%,#34afff 26.67%,#3667f5 27.78%,#383eea 28.89%,#3a3ada 31.11%,#3b3bd7 35.56%)"></i><i style="inset:40px;background:conic-gradient(from 26deg,#3939e5 0%,#3664f5 1.67%,#3760f3 2.22%,#383fea 3.33%,#3939e2 5%,#3939e1 10.56%,#3839e8 11.11%,#3585fa 13.89%,#358cfb 15%,#3675f9 17.22%,#3587fb 18.33%,#31b4fd 20%,#1ed1f1 21.67%,#0fe8e5 23.33%,#0de6d9 24.44%,#0de6da 25%,#10e8e7 25.56%,#1dd2f1 26.11%,#31b3fd 26.67%,#3663f4 27.78%,#383ce9 28.89%,#3b3bd8 32.22%,#3b3bd7 35.56%)"></i><i style="inset:42px;background:conic-gradient(from 26deg,#3838e5 0%,#3664f4 1.67%,#3760f3 2.22%,#3838e7 3.89%,#3939e1 10%,#3838e6 10.56%,#3587fb 13.33%,#3589fb 14.44%,#3667f5 17.22%,#3678f9 18.33%,#32b2fe 20%,#1ed1f1 21.11%,#11e6e9 22.22%,#06e3b9 23.89%,#05e2b6 24.44%,#07e3bf 25%,#0ce6d7 25.56%,#1bd6ef 26.11%,#33b0fe 26.67%,#367ffa 27.22%,#375df3 27.78%,#3838e8 28.89%,#3b3bd8 32.22%,#3b3bd7 35.56%)"></i><i style="inset:44px;background:conic-gradient(from 26deg,#3838e6 0%,#3663f4 1.67%,#3760f4 2.22%,#383ae9 3.89%,#3939e1 9.44%,#3842eb 10.56%,#367efa 12.22%,#358efb 13.33%,#3760f3 16.67%,#3760f4 17.78%,#367dfa 18.89%,#33afff 20%,#24c9f4 20.56%,#11e6e9 21.67%,#01e1a6 23.33%,#00de9a 23.89%,#00df9d 24.44%,#04e2b1 25%,#0ce6d5 25.56%,#1fd0f2 26.11%,#34a3fe 26.67%,#3672f8 27.22%,#3842eb 28.33%,#3838e6 28.89%,#3b3bd8 32.78%,#3b3bd7 35.56%)"></i><i style="inset:46px;background:conic-gradient(from 26deg,#3838e6 0%,#3762f4 1.67%,#3755f0 2.78%,#3838e8 4.44%,#3838e6 9.44%,#383fea 10%,#3582fa 11.67%,#3590fc 12.78%,#367cf9 13.89%,#3664f5 15%,#3752f0 17.22%,#3665f5 18.33%,#358efb 19.44%,#34aeff 20%,#15e0eb 21.11%,#0de6d9 21.67%,#00db8b 23.33%,#00da86 23.89%,#00dd95 24.44%,#05e2b6 25%,#0fe8e4 25.56%,#29c0f8 26.11%,#358ffc 26.67%,#3666f5 27.22%,#383de9 28.33%,#3b3bd8 31.67%,#3b3bd7 35.56%)"></i><i style="inset:48px;background:conic-gradient(from 26deg,#3838e6 0%,#3760f3 1.67%,#3756f1 2.78%,#383ce9 4.44%,#3838e7 8.89%,#374dee 10%,#3591fc 11.67%,#358cfb 12.78%,#375df3 14.44%,#374cee 16.67%,#3754f0 17.78%,#3671f8 18.89%,#33afff 20%,#10e8e8 21.11%,#00dc8f 22.78%,#00d882 23.33%,#00da89 23.89%,#01e0a4 24.44%,#0ae5cc 25%,#1cd5ef 25.56%,#34a9fe 26.11%,#3678f9 26.67%,#3845ec 27.78%,#3838e8 28.33%,#3b3bd8 31.67%,#3b3bd7 35.56%)"></i><i style="inset:50px;background:conic-gradient(from 26deg,#3838e7 0%,#375ef3 1.67%,#3757f1 2.78%,#3840ea 4.44%,#383ae9 8.33%,#374bed 9.44%,#3590fc 11.11%,#3596fc 11.67%,#367efa 12.78%,#3750ef 14.44%,#3746ec 16.67%,#3760f3 18.33%,#3671f8 18.89%,#32b1fe 20%,#1ed2f1 20.56%,#0fe7e3 21.11%,#01e1a6 22.22%,#00dc92 22.78%,#00dc90 23.33%,#00e0a2 23.89%,#14e1eb 25%,#2db9fb 25.56%,#3665f5 26.67%,#383eea 27.78%,#3a3ada 30.56%,#3b3bd7 35.56%)"></i><i style="inset:52px;background:conic-gradient(from 26deg,#3838e7 0%,#375df2 1.67%,#3758f1 2.78%,#3843eb 5%,#3841eb 8.33%,#375bf2 9.44%,#358efb 10.56%,#359afd 11.11%,#3581fa 12.22%,#374fef 13.89%,#3841ea 15%,#3749ed 17.22%,#3671f8 18.89%,#33b0fe 20%,#10e8e7 21.11%,#04e2b3 22.22%,#02e1aa 22.78%,#04e2b1 23.33%,#13e3ea 24.44%,#29bff8 25%,#3596fc 25.56%,#366df7 26.11%,#3844eb 27.22%,#3838e8 27.78%,#3b3bd8 31.67%,#3b3bd7 35.56%)"></i><i style="inset:54px;background:conic-gradient(from 26deg,#3838e7 0%,#375bf2 1.67%,#3754f0 3.33%,#3844eb 7.22%,#374bed 8.33%,#366ef7 9.44%,#358bfb 10%,#359dfd 10.56%,#3599fd 11.11%,#375ff3 12.78%,#383ce9 14.44%,#3841eb 16.67%,#375ff3 18.33%,#366ff8 18.89%,#34aafe 20%,#18dced 21.11%,#0ee7e0 21.67%,#0be5d1 22.22%,#0ae5cf 22.78%,#0ee7de 23.33%,#19daee 23.89%,#3599fd 25%,#3673f8 25.56%,#3749ed 26.67%,#3939e5 27.78%,#3b3bd7 32.78%,#3b3bd7 35.56%)"></i><i style="inset:56px;background:conic-gradient(from 26deg,#3838e7 0%,#3759f2 1.67%,#3752ef 5%,#374bed 7.22%,#3757f1 8.33%,#34a0fd 10%,#34a3fe 10.56%,#3671f8 11.67%,#383ce9 13.89%,#383be9 16.11%,#375df3 18.33%,#3580fa 19.44%,#30b4fd 20.56%,#1cd4f0 21.67%,#18dbed 22.22%,#1ad8ee 22.78%,#30b4fd 23.89%,#3674f8 25%,#3840ea 26.67%,#3939e2 27.78%,#3b3bd7 34.44%,#3b3bd7 35.56%)"></i><i style="inset:58px;background:conic-gradient(from 26deg,#3838e8 0%,#375df3 2.22%,#375af2 5.56%,#3753f0 7.22%,#3667f5 8.33%,#34a2fe 9.44%,#34acff 10%,#359efd 10.56%,#3664f5 11.67%,#383eea 13.33%,#3839e8 16.11%,#3758f1 18.33%,#3671f8 19.44%,#34abff 21.11%,#2db9fa 22.22%,#30b4fd 22.78%,#358cfb 23.89%,#375ff3 25%,#3838e8 26.67%,#3b3bd8 31.11%,#3b3bd7 35.56%)"></i><i style="inset:60px;background:conic-gradient(from 26deg,#3838e8 0%,#375df3 2.22%,#366ff8 5%,#375df3 6.67%,#3667f5 7.78%,#367cf9 8.33%,#34a3fe 8.89%,#31b2fd 9.44%,#34adff 10%,#366ef7 11.11%,#374cee 12.22%,#383ae8 13.33%,#383ce9 16.67%,#366ff8 20%,#3593fc 21.67%,#358ffc 22.78%,#3844ec 25.56%,#3939e5 26.67%,#3b3bd7 32.22%,#3b3bd7 35.56%)"></i><i style="inset:62px;background:conic-gradient(from 26deg,#3838e8 0%,#3670f8 3.33%,#358bfb 4.44%,#358efb 5%,#366df7 6.67%,#366ef7 7.22%,#367bf9 7.78%,#2eb7fb 8.89%,#2db9fb 9.44%,#34a5fe 10%,#3762f4 11.11%,#3747ec 12.22%,#3838e8 13.33%,#383dea 17.22%,#3678f9 22.22%,#3838e6 26.11%,#3b3bd8 31.11%,#3b3bd7 35.56%)"></i><i style="inset:64px;background:conic-gradient(from 26deg,#3839e8 0%,#366bf7 2.78%,#34adff 4.44%,#30b4fd 5%,#34adff 5.56%,#358bfb 6.67%,#3589fb 7.22%,#3595fc 7.78%,#34adff 8.33%,#27c3f7 8.89%,#2fb7fc 9.44%,#366ff8 10.56%,#374cee 11.67%,#3838e5 13.89%,#383eea 17.78%,#3667f5 22.22%,#3749ed 24.44%,#3838e8 25.56%,#3b3bd8 30.56%,#3b3bd7 35.56%)"></i><i style="inset:66px;background:conic-gradient(from 26deg,#3839e8 0%,#3671f8 2.78%,#32b0fe 3.89%,#23c9f4 4.44%,#1bd6ef 5%,#1ed2f1 5.56%,#32b1fe 6.67%,#34abff 7.22%,#24c7f5 8.89%,#34afff 9.44%,#3665f5 10.56%,#374bed 11.67%,#3838e6 13.89%,#383de9 18.33%,#375ef3 22.22%,#3844eb 24.44%,#3939e2 26.11%,#3b3bd7 32.78%,#3b3bd7 35.56%)"></i><i style="inset:68px;background:conic-gradient(from 26deg,#383ae9 0%,#3663f4 2.22%,#3677f9 2.78%,#359bfd 3.33%,#13e3ea 4.44%,#0ce6d5 5%,#0ce6d5 5.56%,#13e4ea 6.11%,#23caf4 7.22%,#26c5f6 8.89%,#34a0fd 9.44%,#3676f9 10%,#375ef3 10.56%,#374cee 11.67%,#3838e5 14.44%,#383ce9 18.89%,#3758f1 22.22%,#3841eb 24.44%,#3939e1 26.11%,#3b3bd7 33.33%,#3b3bd7 35.56%)"></i><i style="inset:70px;background:conic-gradient(from 26deg,#383be9 0%,#3664f4 2.22%,#367bf9 2.78%,#34a5fe 3.33%,#20cff2 3.89%,#0ce6d5 4.44%,#04e2b2 5%,#02e1aa 5.56%,#10e8e6 7.22%,#29bff8 8.89%,#3592fc 9.44%,#366cf7 10%,#3752ef 11.11%,#3838e6 14.44%,#383ce9 19.44%,#3755f0 22.78%,#3838e8 25%,#3b3bd8 30%,#3b3bd7 35.56%)"></i><i style="inset:72px;background:conic-gradient(from 26deg,#383be9 0%,#3664f4 2.22%,#367df9 2.78%,#34a8fe 3.33%,#1cd5f0 3.89%,#09e4c7 4.44%,#00df9b 5%,#00da88 5.56%,#02e1a8 6.67%,#0ee7e1 7.78%,#1cd5ef 8.33%,#2eb8fb 8.89%,#3587fb 9.44%,#3668f6 10%,#3754f0 11.11%,#3838e7 14.44%,#383eea 20%,#3754f0 22.78%,#3838e8 25%,#3b3bd8 30%,#3b3bd7 35.56%)"></i><i style="inset:74px;background:conic-gradient(from 26deg,#383ce9 0%,#3663f4 2.22%,#367bf9 2.78%,#34a6fe 3.33%,#1dd3f0 3.89%,#09e4c7 4.44%,#00dd94 5%,#00d677 5.56%,#00da87 6.67%,#0be5cf 7.78%,#19d9ee 8.33%,#30b4fd 8.89%,#3582fa 9.44%,#3667f5 10%,#3758f1 11.11%,#3845ec 13.33%,#3838e7 15%,#383eea 20%,#3755f0 22.22%,#3747ec 23.89%,#3838e8 25%,#3b3bd8 30%,#3b3bd7 35.56%)"></i><i style="inset:76px;background:conic-gradient(from 26deg,#383de9 0%,#3761f4 2.22%,#3677f9 2.78%,#359efd 3.33%,#22caf4 3.89%,#0ce6d4 4.44%,#00e0a0 5%,#00d77b 5.56%,#00d677 6.67%,#00de96 7.22%,#08e4c5 7.78%,#18dced 8.33%,#31b2fd 8.89%,#3583fa 9.44%,#366af6 10%,#375bf2 11.67%,#3838e8 15%,#383fea 20%,#3756f1 22.22%,#3747ec 23.89%,#3838e8 25%,#3b3bd8 30%,#3b3bd7 35.56%)"></i><i style="inset:78px;background:conic-gradient(from 26deg,#383eea 0%,#375ff3 2.22%,#3670f8 2.78%,#2bbcf9 3.89%,#11e6e9 4.44%,#05e3b8 5%,#00dd92 5.56%,#00d67a 6.67%,#00dd93 7.22%,#07e4c1 7.78%,#16deec 8.33%,#30b4fc 8.89%,#3589fb 9.44%,#366ff8 10%,#3760f3 11.67%,#383ae9 15%,#383de9 19.44%,#3758f1 22.22%,#3748ed 23.89%,#3838e5 25.56%,#3b3bd7 31.11%,#3b3bd7 35.56%)"></i><i style="inset:80px;background:conic-gradient(from 26deg,#383eea 0%,#375df3 2.22%,#366bf7 2.78%,#3585fa 3.33%,#34abff 3.89%,#1fd0f2 4.44%,#0de6d9 5%,#04e2b3 5.56%,#00db8d 6.67%,#00df9e 7.22%,#15dfeb 8.33%,#2db9fb 8.89%,#3593fc 9.44%,#3678f9 10%,#3667f5 11.11%,#375bf2 12.78%,#383de9 15%,#383de9 18.33%,#374dee 21.11%,#375af2 22.78%,#3838e6 25.56%,#3b3bd8 31.11%,#3b3bd7 35.56%)"></i><i style="inset:82px;background:conic-gradient(from 26deg,#383fea 0%,#3666f5 2.78%,#3678f9 3.33%,#2db9fb 4.44%,#1ad8ee 5%,#0ce6d8 5.56%,#02e1aa 6.67%,#04e2b0 7.22%,#15e0eb 8.33%,#349ffd 9.44%,#3584fa 10%,#366ef7 11.11%,#3760f3 12.78%,#3844eb 14.44%,#383be9 17.22%,#3749ed 20.56%,#375df3 22.22%,#3755f0 23.33%,#3838e7 25.56%,#3b3bd8 31.67%,#3b3bd7 35.56%)"></i><i style="inset:84px;background:conic-gradient(from 26deg,#383fea 0%,#3761f4 2.78%,#3584fa 3.89%,#2abef9 5%,#1ad8ee 5.56%,#0ee7e1 6.11%,#09e5ca 6.67%,#09e4c8 7.22%,#15dfeb 8.33%,#34adff 9.44%,#3583fa 10.56%,#3666f5 12.78%,#3747ec 14.44%,#383fea 17.22%,#374bed 20.56%,#3760f3 22.22%,#3757f1 23.33%,#3838e8 25.56%,#3b3bd8 31.67%,#3b3bd7 35.56%)"></i><i style="inset:86px;background:conic-gradient(from 26deg,#3840ea 0%,#3667f5 3.33%,#358bfb 4.44%,#2abef9 5.56%,#11e6e9 6.67%,#0fe7e2 7.22%,#10e8e6 7.78%,#21cdf3 8.89%,#34a9fe 10%,#358efb 11.11%,#367efa 12.22%,#3753f0 13.89%,#3842eb 16.11%,#374eee 20.56%,#3663f4 22.22%,#375af2 23.33%,#3839e8 25.56%,#3b3bd8 31.67%,#3b3bd8 35.56%)"></i><i style="inset:88px;background:conic-gradient(from 26deg,#3840ea 0%,#366af6 3.89%,#358efb 5%,#2dbafa 6.11%,#19d9ee 7.22%,#17dced 8.33%,#34a9fe 11.11%,#3592fc 12.22%,#3758f1 13.89%,#3845ec 16.11%,#3750ef 20.56%,#3666f5 22.22%,#375cf2 23.33%,#383be9 25.56%,#3b3bd8 32.22%,#3b3bd8 35.56%)"></i><i style="inset:90px;background:conic-gradient(from 26deg,#3840ea 0%,#3664f5 3.89%,#367bf9 5%,#2eb7fb 6.67%,#18dbed 8.33%,#1bd6ef 10%,#34adff 12.22%,#3671f8 13.33%,#3754f0 14.44%,#3749ed 16.67%,#3752ef 18.89%,#3753f0 20.56%,#366af6 22.22%,#375ff3 23.33%,#3841eb 25%,#3939e5 26.67%,#3b3bd8 34.44%,#3b3bd8 35.56%)"></i><i style="inset:92px;background:conic-gradient(from 26deg,#3840ea 0%,#3665f5 4.44%,#367cf9 5.56%,#2eb8fb 7.22%,#11e7e8 8.89%,#0ee7e0 10%,#12e4ea 11.11%,#23c9f4 12.22%,#34adff 12.78%,#3585fa 13.33%,#3668f6 13.89%,#3752f0 15%,#374fef 17.22%,#3756f1 18.89%,#3755f0 20.56%,#366df7 22.22%,#3761f4 23.33%,#3843eb 25%,#3939e4 27.22%,#3b3bd8 35.56%)"></i><i style="inset:94px;background:conic-gradient(from 26deg,#383fea 0%,#3666f5 5%,#367ffa 6.11%,#34adff 7.22%,#19d9ee 8.33%,#0fe7e2 8.89%,#08e4c6 10%,#09e4c7 11.11%,#0be5d1 11.67%,#11e7e8 12.22%,#359efd 13.33%,#3677f9 13.89%,#3759f1 15%,#3750ef 16.67%,#375af2 18.89%,#3757f1 20.56%,#3671f8 22.22%,#3664f4 23.33%,#3844eb 25%,#3939e5 27.22%,#3b3bd8 35.56%)"></i><i style="inset:96px;background:conic-gradient(from 26deg,#383fea 0%,#3761f4 5%,#3674f8 6.11%,#34a2fe 7.22%,#1cd5ef 8.33%,#0ee7e1 8.89%,#05e3b7 10%,#02e1a9 11.11%,#03e2af 11.67%,#08e4c6 12.22%,#15e1eb 12.78%,#2eb7fb 13.33%,#358cfb 13.89%,#366ef7 14.44%,#3755f0 16.11%,#375ff3 18.89%,#3758f1 20.56%,#3675f9 22.22%,#3673f8 22.78%,#3845ec 25%,#3838e6 27.22%,#3b3bd9 35.56%)"></i><i style="inset:98px;background:conic-gradient(from 26deg,#383eea 0%,#3663f4 5.56%,#367ffa 6.67%,#31b3fd 7.78%,#11e6e9 8.89%,#05e3b8 10%,#00df9c 11.11%,#00de99 11.67%,#03e1ac 12.22%,#0ce6d7 12.78%,#23caf4 13.33%,#34a0fd 13.89%,#367df9 14.44%,#3760f3 15.56%,#375cf2 17.22%,#3666f5 18.33%,#375af2 20.56%,#367af9 22.22%,#3678f9 22.78%,#374dee 24.44%,#3838e7 27.22%,#3a3ad9 35.56%)"></i><i style="inset:100px;background:conic-gradient(from 26deg,#383de9 0%,#375ff3 5.56%,#3675f9 6.67%,#34a5fe 7.78%,#0fe7e3 9.44%,#01e0a3 11.11%,#00de97 11.67%,#01e0a2 12.22%,#09e5c9 12.78%,#1bd6ef 13.33%,#34aeff 13.89%,#358afb 14.44%,#3671f8 15%,#375df3 16.67%,#366bf7 18.33%,#3759f1 20%,#3663f4 21.11%,#367ffa 22.22%,#367cf9 22.78%,#374eee 24.44%,#3838e6 27.78%,#3a3ada 35.56%)"></i><i style="inset:102px;background:conic-gradient(from 26deg,#383ce9 0%,#375af2 5.56%,#366cf7 6.67%,#34aaff 8.33%,#13e3ea 10%,#02e1a8 11.67%,#02e1a9 12.22%,#09e5ca 12.78%,#1ad8ee 13.33%,#32b2fd 13.89%,#3590fc 14.44%,#366bf6 15.56%,#3761f4 16.67%,#3671f8 18.33%,#3759f2 20%,#3664f5 21.11%,#3584fa 22.22%,#3581fa 22.78%,#374eee 24.44%,#3838e7 27.78%,#3a3ada 35.56%)"></i><i style="inset:104px;background:conic-gradient(from 26deg,#383be9 0%,#3756f0 5.56%,#366df7 7.22%,#31b3fd 9.44%,#1bd6ef 10.56%,#0ee7e0 11.11%,#08e4c3 11.67%,#06e3bd 12.22%,#0ce6d7 12.78%,#1fd0f1 13.33%,#34adff 13.89%,#358dfb 14.44%,#366cf7 15.56%,#3663f4 16.67%,#3679f9 18.33%,#375af2 20%,#3665f5 21.11%,#3588fb 22.22%,#3586fa 22.78%,#374eee 24.44%,#3838e8 27.78%,#3a3adb 35.56%)"></i><i style="inset:106px;background:conic-gradient(from 26deg,#383ae9 0%,#3755f0 6.11%,#3673f8 8.33%,#359efd 10%,#30b5fc 10.56%,#0fe7e2 11.67%,#0ce6d6 12.22%,#12e5e9 12.78%,#359efd 13.89%,#3582fa 14.44%,#3669f6 15.56%,#3664f5 16.67%,#3580fa 18.33%,#375af2 20%,#375af2 20.56%,#3679f9 21.67%,#358dfb 22.22%,#358bfb 22.78%,#375df3 23.89%,#3746ec 25%,#3838e6 28.89%,#3a3adc 35.56%)"></i><i style="inset:108px;background:conic-gradient(from 26deg,#3839e8 0%,#3753f0 6.67%,#366ef7 9.44%,#367bf9 10%,#3593fc 10.56%,#2eb7fb 11.11%,#1ad8ef 11.67%,#12e5e9 12.22%,#1cd5f0 12.78%,#31b3fd 13.33%,#358cfb 13.89%,#3673f8 14.44%,#3761f4 16.11%,#366bf7 17.22%,#3588fb 18.33%,#3759f1 20%,#3759f2 20.56%,#3665f5 21.11%,#3592fc 22.22%,#3590fc 22.78%,#375ef3 23.89%,#3846ec 25%,#3838e5 29.44%,#3a3add 35.56%)"></i><i style="inset:110px;background:conic-gradient(from 26deg,#3838e8 0%,#3755f0 8.33%,#3665f5 10%,#3679f9 10.56%,#34a3fe 11.11%,#23c9f4 11.67%,#19daee 12.22%,#23caf4 12.78%,#34a4fe 13.33%,#367af9 13.89%,#3667f5 14.44%,#375bf2 16.11%,#366af6 17.22%,#3583fa 17.78%,#358ffc 18.33%,#3665f5 19.44%,#3758f1 20%,#3758f1 20.56%,#3665f5 21.11%,#3597fc 22.22%,#3595fc 22.78%,#375ef3 23.89%,#3845ec 25%,#3939e5 30%,#3a3ade 35.56%)"></i><i style="inset:112px;background:conic-gradient(from 26deg,#3838e7 0%,#3752ef 9.44%,#3759f1 10%,#366bf7 10.56%,#3597fc 11.11%,#27c3f7 11.67%,#1bd6ef 12.22%,#26c4f6 12.78%,#3599fd 13.33%,#366ef7 13.89%,#375df3 14.44%,#3754f0 16.11%,#375af2 16.67%,#3669f6 17.22%,#3587fb 17.78%,#3597fc 18.33%,#3584fa 18.89%,#3666f5 19.44%,#3756f1 20%,#3756f1 20.56%,#3664f5 21.11%,#359cfd 22.22%,#359bfd 22.78%,#375ff3 23.89%,#3844eb 25%,#3939e5 30.56%,#3a3adf 35.56%)"></i><i style="inset:114px;background:conic-gradient(from 26deg,#3838e6 0%,#374aed 9.44%,#3751ef 10%,#3665f5 10.56%,#3592fc 11.11%,#26c4f6 11.67%,#1ad8ee 12.22%,#26c5f6 12.78%,#3595fc 13.33%,#3668f6 13.89%,#3755f0 14.44%,#374eee 16.11%,#3755f0 16.67%,#3669f6 17.22%,#358dfb 17.78%,#34a1fe 18.33%,#358bfb 18.89%,#3667f5 19.44%,#3754f0 20%,#3754f0 20.56%,#3664f5 21.11%,#34a2fe 22.22%,#34a1fd 22.78%,#375ff3 23.89%,#374bee 24.44%,#383de9 26.11%,#3939e0 35.56%)"></i><i style="inset:116px;background:conic-gradient(from 26deg,#3838e6 0%,#3845ec 9.44%,#374dee 10%,#3762f4 10.56%,#3593fc 11.11%,#23caf4 11.67%,#15e0eb 12.22%,#22cbf4 12.78%,#3595fc 13.33%,#3664f5 13.89%,#3750ef 14.44%,#3749ed 16.11%,#3752ef 16.67%,#3669f6 17.22%,#3595fc 17.78%,#34adff 18.33%,#3594fc 18.89%,#3668f6 19.44%,#3753f0 20%,#3752ef 20.56%,#3663f4 21.11%,#34a8fe 22.22%,#34a7fe 22.78%,#375ff3 23.89%,#374aed 24.44%,#383ce9 26.11%,#3939e0 35.56%)"></i><i style="inset:118px;background:conic-gradient(from 26deg,#3838e6 0%,#3841eb 9.44%,#374aed 10%,#3761f4 10.56%,#3598fc 11.11%,#1dd3f0 11.67%,#0fe7e3 12.22%,#1dd3f0 12.78%,#3599fd 13.33%,#3663f4 13.89%,#374cee 14.44%,#3842eb 15.56%,#374fef 16.67%,#366af6 17.22%,#34a0fd 17.78%,#2dbafa 18.33%,#34a0fd 18.89%,#366af6 19.44%,#3751ef 20%,#3750ef 20.56%,#3663f4 21.11%,#33afff 22.22%,#34aeff 22.78%,#3760f3 23.89%,#3749ed 24.44%,#383be9 25.56%,#3939e1 35.56%)"></i><i style="inset:120px;background:conic-gradient(from 26deg,#3838e5 0%,#383eea 9.44%,#3747ec 10%,#3761f4 10.56%,#349ffd 11.11%,#16dfec 11.67%,#0be5d1 12.22%,#16dfec 12.78%,#34a0fd 13.33%,#3662f4 13.89%,#3749ed 14.44%,#383eea 15.56%,#3840ea 16.11%,#374dee 16.67%,#366ef7 17.22%,#33afff 17.78%,#23c9f4 18.33%,#34afff 18.89%,#366ef7 19.44%,#3750ef 20%,#374eee 20.56%,#3662f4 21.11%,#30b5fc 22.22%,#30b5fc 22.78%,#3760f3 23.89%,#3747ec 24.44%,#3839e8 25.56%,#3939e2 35.56%)"></i><i style="inset:122px;background:conic-gradient(from 26deg,#3939e4 0%,#383ae9 9.44%,#3844ec 10%,#3760f3 10.56%,#34a1fd 11.11%,#13e3ea 11.67%,#09e5c9 12.22%,#13e4ea 12.78%,#34a1fe 13.33%,#3760f4 13.89%,#3845ec 14.44%,#383ae9 15.56%,#383de9 16.11%,#374aed 16.67%,#366ef7 17.22%,#30b4fd 17.78%,#1fd0f1 18.33%,#31b4fd 18.89%,#366ef7 19.44%,#374eee 20%,#374bed 20.56%,#3761f4 21.11%,#2fb7fc 22.22%,#2fb6fc 22.78%,#375ff3 23.89%,#3845ec 24.44%,#3838e7 25.56%,#3939e2 35.56%)"></i><i style="inset:124px;background:conic-gradient(from 26deg,#3939e4 0%,#3838e8 9.44%,#3841eb 10%,#375cf2 10.56%,#359cfd 11.11%,#15dfeb 11.67%,#0ae5ce 12.22%,#15e0eb 12.78%,#359cfd 13.33%,#375df2 13.89%,#3842eb 14.44%,#3838e7 15.56%,#3839e8 16.11%,#3746ec 16.67%,#366af6 17.22%,#33affe 17.78%,#21ccf3 18.33%,#33affe 18.89%,#366bf6 19.44%,#374aed 20%,#3747ec 20.56%,#375df3 21.11%,#31b3fd 22.22%,#31b3fd 22.78%,#375cf2 23.89%,#3843eb 24.44%,#3838e8 25%,#3939e2 35.56%)"></i><i style="inset:126px;background:conic-gradient(from 26deg,#3939e3 0%,#3838e6 9.44%,#383eea 10%,#3759f1 10.56%,#3597fc 11.11%,#18dced 11.67%,#0be6d3 12.22%,#18dced 12.78%,#3597fc 13.33%,#3759f1 13.89%,#383eea 14.44%,#3838e6 16.11%,#3843eb 16.67%,#3667f5 17.22%,#34abff 17.78%,#24c8f5 18.33%,#34abff 18.89%,#3667f6 19.44%,#3747ec 20%,#3844eb 20.56%,#375af2 21.11%,#33b0fe 22.22%,#33b0fe 22.78%,#3759f2 23.89%,#3840ea 24.44%,#3939e4 25.56%,#3939e2 35.56%)"></i><i style="inset:128px;background:conic-gradient(from 26deg,#3939e2 0%,#3939e4 9.44%,#383ce9 10%,#3757f1 10.56%,#3594fc 11.11%,#19d9ee 11.67%,#0ce6d6 12.22%,#19d9ee 12.78%,#3594fc 13.33%,#3757f1 13.89%,#383ce9 14.44%,#3939e5 16.11%,#3841ea 16.67%,#3664f5 17.22%,#34a7fe 17.78%,#25c6f6 18.33%,#34a8fe 18.89%,#3665f5 19.44%,#3845ec 20%,#3842eb 20.56%,#3758f1 21.11%,#34adff 22.22%,#34adff 22.78%,#3757f1 23.89%,#383eea 24.44%,#3939e2 28.33%,#3939e2 35.56%)"></i></div></div><div class="d w" style="left:233px;top:323px;width:250px;height:250px"><div class="b" style="inset:-4px;filter:blur(0.8px)"><i style="inset:0px;background:conic-gradient(from 26deg,#24c20a 0%,#5dd200 1.67%,#82dc00 3.33%,#ccf000 5%,#d8f400 5.56%,#d8f400 6.11%,#b7ea00 7.22%,#6bd600 8.89%,#48cc00 10%,#14bd0f 13.89%,#0dbf1b 21.11%,#0ac226 23.89%,#05c73e 25%,#00d67a 26.11%,#00db8c 26.67%,#00d881 27.22%,#0fbd16 28.89%,#6dd600 29.44%,#ffdc00 30%,#fe8d00 30.56%,#f77700 31.11%,#f57100 35.56%)"></i><i style="inset:2px;background:conic-gradient(from 26deg,#24c20a 0%,#5dd200 1.67%,#82dc00 3.33%,#ccf000 5%,#d8f400 5.56%,#d8f400 6.11%,#b7ea00 7.22%,#6bd600 8.89%,#48cc00 10%,#14bd0f 13.89%,#0dbf1b 21.11%,#0ac226 23.89%,#05c73e 25%,#00d67a 26.11%,#00db8c 26.67%,#00d881 27.22%,#0fbd16 28.89%,#6dd600 29.44%,#ffdc00 30%,#fe8d00 30.56%,#f77700 31.11%,#f57100 35.56%)"></i><i style="inset:4px;background:conic-gradient(from 26deg,#24c20a 0%,#6ad500 2.22%,#86dd00 3.33%,#d2f200 5%,#def500 5.56%,#ddf500 6.11%,#bbeb00 7.22%,#6dd600 8.89%,#4acc00 10%,#14bd0f 13.89%,#0dbf1c 20.56%,#0ac228 23.89%,#04c841 25%,#00d87e 26.11%,#00dc8f 26.67%,#00d982 27.22%,#05c73c 28.33%,#0fbd13 28.89%,#7dda00 29.44%,#ffd200 30%,#fd8900 30.56%,#f67500 31.11%,#f57000 35.56%)"></i><i style="inset:6px;background:conic-gradient(from 26deg,#20c00c 0%,#67d400 2.22%,#91e000 3.33%,#e5f700 5%,#f1fb00 5.56%,#eefa00 6.11%,#c5ee00 7.22%,#72d700 8.89%,#41ca02 10.56%,#12bd0f 13.89%,#0dbf1e 18.89%,#0ac228 23.33%,#06c63a 24.44%,#01cb4d 25%,#00dc8e 26.11%,#00de99 26.67%,#00d985 27.22%,#06c639 28.33%,#1fc00c 28.89%,#c5ee00 29.44%,#ffae00 30%,#f87b00 30.56%,#f46d00 31.67%,#f46d00 35.56%)"></i><i style="inset:8px;background:conic-gradient(from 26deg,#1abf0d 0%,#60d200 2.22%,#94e000 3.33%,#d5f300 4.44%,#eefa00 5%,#f9fd00 5.56%,#f3fc00 6.11%,#c7ef00 7.22%,#72d700 8.89%,#4bcd00 10%,#14bd0f 13.33%,#0cc021 17.78%,#09c32a 22.78%,#03c945 24.44%,#00cf5e 25%,#00df9d 26.11%,#00e0a0 26.67%,#00da87 27.22%,#07c535 28.33%,#36c705 28.89%,#fffd00 29.44%,#ff9500 30%,#f57200 30.56%,#f36900 32.22%,#f36900 35.56%)"></i><i style="inset:10px;background:conic-gradient(from 26deg,#13bd0f 0%,#51cf00 2.22%,#8cde00 3.33%,#d1f200 4.44%,#e9f900 5%,#f3fc00 5.56%,#edfa00 6.11%,#c0ed00 7.22%,#6dd600 8.89%,#47cc00 10%,#10bc10 13.33%,#0bc124 16.67%,#07c532 22.78%,#03c942 23.89%,#00cd53 24.44%,#00dd94 25.56%,#02e1a8 26.11%,#01e1a5 26.67%,#00da89 27.22%,#09c32d 28.33%,#5fd200 28.89%,#ffd700 29.44%,#fb8200 30%,#f36b00 30.56%,#f16500 35.56%)"></i><i style="inset:12px;background:conic-gradient(from 26deg,#0ebe16 0%,#41ca02 2.22%,#57d000 2.78%,#bfec00 4.44%,#d6f300 5%,#e0f600 5.56%,#dbf400 6.11%,#b2e900 7.22%,#63d300 8.89%,#36c705 10.56%,#10bc10 12.78%,#09c32a 16.11%,#06c637 22.22%,#00cc50 23.89%,#01e1a5 25.56%,#04e2b3 26.11%,#02e1aa 26.67%,#00db8c 27.22%,#00d05f 27.78%,#0cc021 28.33%,#a2e400 28.89%,#ffb300 29.44%,#f67400 30%,#f16500 30.56%,#f06200 35.56%)"></i><i style="inset:14px;background:conic-gradient(from 26deg,#0cc021 0%,#16be0e 1.11%,#3fc903 2.78%,#7bda00 3.89%,#b7ea00 5%,#c1ed00 5.56%,#beec00 6.11%,#b0e800 6.67%,#53cf00 8.89%,#10bc11 12.22%,#08c42e 15%,#03c942 22.22%,#00cd53 23.33%,#00d87f 24.44%,#05e2b5 25.56%,#06e3bd 26.11%,#04e2b0 26.67%,#00dc91 27.22%,#00d05e 27.78%,#14bd0f 28.33%,#e4f700 28.89%,#ff9600 29.44%,#f36a00 30%,#ef5e00 31.11%,#ef5e00 35.56%)"></i><i style="inset:16px;background:conic-gradient(from 26deg,#09c32d 0%,#11bc10 1.67%,#39c804 3.33%,#86dd00 5%,#94e000 5.56%,#94e100 6.11%,#77d900 7.22%,#41ca02 8.89%,#0fbd15 11.67%,#06c639 15%,#00cc50 22.22%,#00d269 23.33%,#08e4c5 25.56%,#09e4c8 26.11%,#05e3b8 26.67%,#00de97 27.22%,#00ce58 27.78%,#34c606 28.33%,#ffe700 28.89%,#fa8100 29.44%,#f06200 30%,#ee5a00 32.78%,#ee5a00 35.56%)"></i><i style="inset:18px;background:conic-gradient(from 26deg,#06c63a 0%,#10bc10 2.78%,#5ed200 5.56%,#5fd200 6.67%,#11bc10 10.56%,#04c83e 13.89%,#00cf5d 21.67%,#00d982 23.33%,#09e5c9 25%,#0ce6d7 25.56%,#0ce6d5 26.11%,#08e4c2 26.67%,#00e09f 27.22%,#00cd53 27.78%,#53cf00 28.33%,#ffcd00 28.89%,#f67500 29.44%,#ef5d00 30%,#ed5600 35.56%)"></i><i style="inset:20px;background:conic-gradient(from 26deg,#03c946 0%,#0cc022 3.33%,#19bf0d 4.44%,#3ac804 6.11%,#32c606 7.78%,#0fbd16 10%,#03c942 12.78%,#00cf5a 16.67%,#00d36b 21.11%,#00da8a 22.78%,#0ee7df 25%,#10e8e8 25.56%,#0fe7e2 26.11%,#0ae5cd 26.67%,#02e1a7 27.22%,#00cc51 27.78%,#6bd500 28.33%,#ffc000 28.89%,#f46e00 29.44%,#ed5900 30%,#eb5300 35.56%)"></i><i style="inset:22px;background:conic-gradient(from 26deg,#00cc51 0%,#04c83f 3.33%,#13bd0f 5.56%,#22c10b 7.22%,#10bc11 8.89%,#02ca47 11.67%,#00d36b 15.56%,#00d880 21.11%,#01e0a3 22.78%,#0fe8e5 24.44%,#19d9ee 25.56%,#14e1eb 26.11%,#0de6d8 26.67%,#03e2ae 27.22%,#01cb4d 27.78%,#87dd00 28.33%,#ffb300 28.89%,#f26800 29.44%,#ec5500 30%,#ea4f00 35.56%)"></i><i style="inset:24px;background:conic-gradient(from 26deg,#00d05e 0%,#00cf5b 3.33%,#05c73b 5%,#0ebe17 6.67%,#0dbf1b 8.33%,#00d165 12.22%,#00d87f 15.56%,#00dc8f 20.56%,#02e1aa 22.22%,#11e7e8 23.89%,#21ccf3 25%,#22ccf3 25.56%,#0fe7e2 26.67%,#04e2b3 27.22%,#03c945 27.78%,#a6e500 28.33%,#ffa600 28.89%,#f06200 29.44%,#eb5000 30%,#e94b00 35.56%)"></i><i style="inset:26px;background:conic-gradient(from 26deg,#00d269 0%,#00d470 2.22%,#00d678 3.33%,#00d26a 4.44%,#06c638 6.11%,#0ac227 7.22%,#07c536 8.89%,#00d676 11.67%,#00dd94 15.56%,#01e0a2 20.56%,#07e4c0 22.22%,#12e5e9 23.33%,#27c3f7 24.44%,#2cbcfa 25%,#2abff8 25.56%,#21cdf3 26.11%,#11e7e9 26.67%,#04e2b3 27.22%,#06c639 27.78%,#c3ee00 28.33%,#ff9a00 28.89%,#ef5d00 29.44%,#e94c00 30%,#e84800 35.56%)"></i><i style="inset:28px;background:conic-gradient(from 26deg,#00d471 0%,#00d679 1.67%,#00dc8f 3.33%,#00da87 4.44%,#01cb4d 6.11%,#06c639 7.22%,#05c73d 8.33%,#00d269 10%,#00db8e 11.67%,#02e1a9 15.56%,#04e2b4 20.56%,#08e4c5 21.67%,#12e5e9 22.78%,#32b1fe 24.44%,#34adff 25%,#30b4fc 25.56%,#25c7f5 26.11%,#13e4ea 26.67%,#03e2af 27.22%,#0ac229 27.78%,#dff600 28.33%,#fe8e00 28.89%,#ed5700 29.44%,#e84800 30%,#e64500 35.56%)"></i><i style="inset:30px;background:conic-gradient(from 26deg,#00d677 0%,#00d983 1.67%,#00e0a1 3.33%,#00e09e 4.44%,#00cd52 6.67%,#02ca48 7.78%,#00cf5a 8.89%,#00dc91 10.56%,#02e1a7 12.22%,#06e3bc 16.11%,#07e4c0 20%,#0de6d9 21.67%,#12e5e9 22.22%,#34abff 23.89%,#359efd 24.44%,#359efd 25%,#34adff 25.56%,#27c3f7 26.11%,#12e5e9 26.67%,#01e1a5 27.22%,#0fbd16 27.78%,#fdfe00 28.33%,#fb8300 28.89%,#eb5100 29.44%,#e64400 30%,#e34100 35.56%)"></i><i style="inset:32px;background:conic-gradient(from 26deg,#00d77c 0%,#00db8b 1.67%,#03e2ae 3.33%,#03e2af 4.44%,#00dc90 5.56%,#00d267 6.67%,#00ce59 7.78%,#00d470 8.89%,#01e1a6 10.56%,#09e5ca 15%,#0ae5ce 20%,#12e6e9 21.67%,#34acff 23.33%,#3597fc 23.89%,#358ffb 24.44%,#3595fc 25%,#34a9fe 25.56%,#10e8e7 26.67%,#00de97 27.22%,#20c10b 27.78%,#ffee00 28.33%,#f77800 28.89%,#e94b00 29.44%,#e13e00 30.56%,#e13d00 35.56%)"></i><i style="inset:34px;background:conic-gradient(from 26deg,#00d87f 0%,#00dc91 1.67%,#07e3be 3.89%,#04e2b3 5%,#00d77b 6.67%,#00d36d 7.78%,#00d984 8.89%,#05e3b7 10.56%,#0de6da 16.11%,#0de7dc 20%,#12e5e9 21.11%,#31b2fd 22.78%,#358afb 23.89%,#3586fb 24.44%,#3592fc 25%,#34abff 25.56%,#24c8f5 26.11%,#0ee7dd 26.67%,#00d984 27.22%,#34c606 27.78%,#ffdf00 28.33%,#f56f00 28.89%,#e74600 29.44%,#df3a00 30.56%,#de3900 35.56%)"></i><i style="inset:36px;background:conic-gradient(from 26deg,#00d882 0%,#00dd95 1.67%,#09e4c7 3.89%,#07e4c0 5%,#00d982 7.22%,#00d880 7.78%,#00de99 8.89%,#08e4c5 10.56%,#0ce6d5 13.89%,#0fe7e3 16.67%,#10e8e6 20%,#20cdf3 21.67%,#34a7fe 22.78%,#3584fa 23.89%,#3585fa 24.44%,#3596fc 25%,#32b2fd 25.56%,#1ed1f1 26.11%,#0be5d0 26.67%,#00d46f 27.22%,#4acd00 27.78%,#ffd000 28.33%,#f26700 28.89%,#e44200 29.44%,#dc3600 30.56%,#dc3500 35.56%)"></i><i style="inset:38px;background:conic-gradient(from 26deg,#00d984 0%,#00de98 1.67%,#0ae5ce 3.89%,#0ae5cb 5%,#00dd95 7.22%,#00df9d 8.33%,#09e5cb 10%,#0be6d3 11.11%,#0be5d1 13.33%,#10e8e7 16.11%,#13e3ea 20%,#25c6f5 21.67%,#34a1fd 22.78%,#358efb 23.33%,#3586fa 23.89%,#358cfb 24.44%,#2bbcf9 25.56%,#18dced 26.11%,#07e4c1 26.67%,#00ce57 27.22%,#6dd600 27.78%,#ffc100 28.33%,#ef5f00 28.89%,#e13e00 29.44%,#d93200 31.11%,#d93200 35.56%)"></i><i style="inset:40px;background:conic-gradient(from 26deg,#00d985 0%,#00df9a 1.67%,#0be6d3 3.89%,#0ce6d5 5%,#02e1a7 7.22%,#04e2b0 8.33%,#0de6d9 10%,#0de6d9 11.11%,#0ae5cb 12.78%,#10e8e7 16.67%,#15e0eb 20%,#26c4f6 21.67%,#3594fc 23.33%,#3590fc 23.89%,#359afd 24.44%,#33b0fe 25%,#10e8e6 26.11%,#03e2af 26.67%,#04c842 27.22%,#90df00 27.78%,#ffb300 28.33%,#ed5700 28.89%,#de3900 29.44%,#d72e00 31.11%,#d72e00 35.56%)"></i><i style="inset:42px;background:conic-gradient(from 26deg,#00d985 0%,#00df9b 1.67%,#0ce6d7 3.89%,#0ee7de 5%,#06e3b9 7.22%,#08e4c3 8.33%,#0fe8e6 10%,#0ee7dd 11.11%,#08e4c6 12.78%,#0fe8e4 17.22%,#15e0eb 20%,#2cbafa 22.22%,#34a2fe 23.33%,#34a2fe 23.89%,#34aeff 24.44%,#19d9ee 25.56%,#0ce6d4 26.11%,#00df9b 26.67%,#08c42e 27.22%,#b2e900 27.78%,#ffa500 28.33%,#eb5000 28.89%,#dc3500 29.44%,#d42a00 31.11%,#d42a00 35.56%)"></i><i style="inset:44px;background:conic-gradient(from 26deg,#00d985 0%,#00df9c 1.67%,#0de7db 3.89%,#10e8e7 5%,#0ae5cb 7.22%,#0ce6d7 8.33%,#13e4ea 9.44%,#12e5e9 10.56%,#07e3be 12.78%,#09e4c8 14.44%,#0fe7e2 18.33%,#16dfec 20.56%,#2fb5fc 23.33%,#28c1f8 24.44%,#10e8e6 25.56%,#07e4c2 26.11%,#00d985 26.67%,#0ebe1a 27.22%,#cdf000 27.78%,#ff9800 28.33%,#e84900 28.89%,#d93100 29.44%,#d22600 31.67%,#d22600 35.56%)"></i><i style="inset:46px;background:conic-gradient(from 26deg,#00d985 0%,#00df9c 1.67%,#11e6e9 4.44%,#0fe7e2 6.67%,#0fe7e2 7.78%,#19daee 10%,#0ee7df 11.11%,#04e2b4 12.78%,#06e3bb 14.44%,#0de7db 18.33%,#13e3ea 21.11%,#23caf4 23.33%,#1cd5f0 24.44%,#12e5e9 25%,#0be6d2 25.56%,#03e2af 26.11%,#00d470 26.67%,#1abf0d 27.22%,#e7f800 27.78%,#fe8c00 28.33%,#e54400 28.89%,#d62d00 29.44%,#cf2300 31.67%,#cf2300 35.56%)"></i><i style="inset:48px;background:conic-gradient(from 26deg,#00d984 0%,#00df9c 1.67%,#0fe7e2 3.89%,#19d9ee 5.56%,#17ddec 7.78%,#1fd0f1 9.44%,#14e2eb 10.56%,#04e2b3 12.22%,#01e0a3 13.33%,#0be6d2 18.33%,#0fe8e5 22.22%,#14e2eb 23.89%,#10e8e6 24.44%,#07e3be 25.56%,#00df9e 26.11%,#00cf5a 26.67%,#2ec408 27.22%,#fffe00 27.78%,#fa8100 28.33%,#e23f00 28.89%,#d42900 29.44%,#cd1f00 31.67%,#cd1f00 35.56%)"></i><i style="inset:50px;background:conic-gradient(from 26deg,#00d982 0%,#00df9b 1.67%,#0fe8e5 3.89%,#20cff2 5.56%,#23c9f4 9.44%,#13e4ea 10.56%,#01e1a5 12.22%,#00dc91 13.33%,#07e4c1 17.22%,#08e4c6 20.56%,#09e5c9 22.22%,#0ce6d5 23.89%,#07e4c1 25%,#03e1ad 25.56%,#00db8c 26.11%,#02ca49 26.67%,#3dc903 27.22%,#fff300 27.78%,#f97c00 28.33%,#e13e00 28.89%,#d42900 29.44%,#cd1f00 31.67%,#cd1f00 35.56%)"></i><i style="inset:52px;background:conic-gradient(from 26deg,#00d880 0%,#00de9a 1.67%,#10e7e8 3.89%,#26c4f6 5.56%,#2abef9 8.89%,#1cd4f0 10%,#10e8e6 10.56%,#00dc91 12.22%,#00d880 12.78%,#00d87e 13.89%,#04e2b1 16.67%,#06e3bb 18.89%,#03e1ac 22.22%,#06e3bc 23.89%,#03e2ae 25%,#00df9e 25.56%,#00d77c 26.11%,#05c73d 26.67%,#4ccd00 27.22%,#ffeb00 27.78%,#f87900 28.33%,#e13e00 28.89%,#d42a00 29.44%,#cd1f00 31.67%,#cd1f00 35.56%)"></i><i style="inset:54px;background:conic-gradient(from 26deg,#00d77d 0%,#00de98 1.67%,#12e4ea 3.89%,#2db9fb 5.56%,#34aeff 7.78%,#2eb7fb 8.89%,#19d9ee 10%,#0de7db 10.56%,#00d677 12.22%,#00d165 12.78%,#00d05f 13.33%,#00d572 14.44%,#00df9e 16.11%,#03e2ae 17.78%,#01e0a2 20%,#00db8d 21.67%,#01e1a6 23.89%,#00e09e 25%,#00dc8e 25.56%,#00d36e 26.11%,#08c431 26.67%,#60d300 27.22%,#ffe300 27.78%,#f77700 28.33%,#e13e00 28.89%,#d42a00 29.44%,#cd1f00 31.67%,#cd1f00 35.56%)"></i><i style="inset:56px;background:conic-gradient(from 26deg,#00d679 0%,#00dd96 1.67%,#0ce6d6 3.33%,#14e1eb 3.89%,#34adff 5.56%,#359cfd 6.67%,#34a6fe 8.33%,#25c7f5 9.44%,#14e1eb 10%,#00e0a1 11.11%,#00ce58 12.22%,#02ca47 12.78%,#02ca4a 13.89%,#00dc90 16.11%,#01e0a3 17.78%,#00de97 19.44%,#00d471 21.67%,#00d77b 22.78%,#00dc91 23.89%,#00dc8f 25%,#00d881 25.56%,#00d060 26.11%,#0bc125 26.67%,#74d800 27.22%,#ffdd00 27.78%,#f67400 28.33%,#e13e00 28.89%,#d42a00 29.44%,#cd1f00 31.67%,#cd1f00 35.56%)"></i><i style="inset:58px;background:conic-gradient(from 26deg,#00d574 0%,#00dd92 1.67%,#0ce6d7 3.33%,#16dfec 3.89%,#31b4fd 5%,#3592fc 6.11%,#3589fb 7.22%,#359dfd 8.33%,#31b3fd 8.89%,#0fe7e2 10%,#00d984 11.11%,#00cd56 11.67%,#05c73a 12.22%,#09c32b 12.78%,#0ac228 13.33%,#03c942 14.44%,#00d881 16.11%,#00dd95 17.22%,#00dc8e 18.89%,#00ce57 21.67%,#00d163 22.78%,#00d87e 23.89%,#00d881 25%,#00d574 25.56%,#00cd53 26.11%,#0ebe19 26.67%,#86dd00 27.22%,#ffd600 27.78%,#f67200 28.33%,#e13e00 28.89%,#d42b00 29.44%,#cd1f00 31.67%,#cd1f00 35.56%)"></i><i style="inset:60px;background:conic-gradient(from 26deg,#00d36d 0%,#00db8e 1.67%,#0ce6d6 3.33%,#17ddec 3.89%,#34adff 5%,#3584fa 6.11%,#367bf9 7.22%,#3584fa 7.78%,#30b4fd 8.89%,#1cd4f0 9.44%,#0be5d1 10%,#00df9c 10.56%,#00d163 11.11%,#06c639 11.67%,#0dbf1c 12.22%,#13bd0f 12.78%,#0ebe18 13.89%,#00d471 16.11%,#00da88 17.22%,#00d87e 18.89%,#01cb4a 21.11%,#03c946 22.22%,#00d576 24.44%,#00d575 25%,#00d268 25.56%,#02ca48 26.11%,#13bd0f 26.67%,#98e200 27.22%,#ffd000 27.78%,#f57100 28.33%,#e13e00 28.89%,#d52b00 29.44%,#cd1f00 31.67%,#cd1f00 35.56%)"></i><i style="inset:62px;background:conic-gradient(from 26deg,#00d165 0%,#00da87 1.67%,#0ce6d5 3.33%,#17ddec 3.89%,#34a7fe 5%,#3678f9 6.11%,#366ff8 6.67%,#366ff8 7.22%,#367cf9 7.78%,#2eb8fb 8.89%,#17ddec 9.44%,#07e3be 10%,#03c945 11.11%,#0dbf1d 11.67%,#20c10b 12.22%,#2fc507 12.78%,#2ec507 13.33%,#0ebe17 14.44%,#00d061 16.11%,#00d77c 17.22%,#00d679 18.33%,#05c73c 21.11%,#06c638 22.22%,#00d26a 24.44%,#00d269 25%,#00cf5d 25.56%,#04c83f 26.11%,#1ec00c 26.67%,#aae600 27.22%,#ffcb00 27.78%,#f56f00 28.33%,#e23e00 28.89%,#d52c00 29.44%,#cd1f00 31.67%,#cd1f00 35.56%)"></i><i style="inset:64px;background:conic-gradient(from 26deg,#00cf5b 0%,#00d87f 1.67%,#0be5d0 3.33%,#16dfec 3.89%,#34a5fe 5%,#3670f8 6.11%,#366af6 7.22%,#3677f9 7.78%,#2bbcf9 8.89%,#10e7e8 9.44%,#03e1ac 10%,#00d266 10.56%,#08c42f 11.11%,#1bbf0d 11.67%,#38c705 12.22%,#47cc00 12.78%,#45cb01 13.33%,#35c705 13.89%,#1bbf0d 14.44%,#05c73d 15.56%,#00d166 16.67%,#00d470 17.78%,#00d061 18.89%,#08c42f 21.11%,#09c32b 22.22%,#00d05f 24.44%,#00d05f 25%,#00cc51 25.56%,#07c534 26.11%,#29c309 26.67%,#b9ea00 27.22%,#ffc600 27.78%,#f46e00 28.33%,#e23f00 28.89%,#d52c00 29.44%,#cd1f00 31.67%,#cd1f00 35.56%)"></i><i style="inset:66px;background:conic-gradient(from 26deg,#00cc4f 0%,#00d163 1.11%,#00db8c 2.22%,#13e3ea 3.89%,#34a6fe 5%,#366ef7 6.11%,#3665f5 6.67%,#3667f5 7.22%,#3675f9 7.78%,#3597fc 8.33%,#28c1f7 8.89%,#0ee7de 9.44%,#00df9c 10%,#00cc51 10.56%,#0dbf1e 11.11%,#2cc408 11.67%,#62d300 12.78%,#5ed200 13.33%,#29c309 14.44%,#0ebe17 15%,#02ca48 16.11%,#00d163 17.22%,#00d05f 18.33%,#0dbf1e 21.67%,#09c32c 22.78%,#00cd55 24.44%,#00cd55 25%,#02ca49 25.56%,#09c32b 26.11%,#33c606 26.67%,#c2ed00 27.22%,#ffc400 27.78%,#f46f00 28.33%,#e34000 28.89%,#d62d00 29.44%,#cd1f00 31.67%,#cd1f00 35.56%)"></i><i style="inset:68px;background:conic-gradient(from 26deg,#03c944 0%,#00cd55 1.11%,#00d87f 2.22%,#07e3bf 3.33%,#0fe8e5 3.89%,#34abff 5%,#366ef8 6.11%,#3665f5 6.67%,#3666f5 7.22%,#3675f9 7.78%,#3599fd 8.33%,#25c5f6 8.89%,#0ce6d6 9.44%,#00dc91 10%,#02ca48 10.56%,#0fbd14 11.11%,#58d000 12.22%,#6fd600 12.78%,#6bd500 13.33%,#30c507 14.44%,#10bc10 15%,#04c841 16.11%,#00ce59 17.22%,#00cd52 18.33%,#0fbd14 21.67%,#0bc124 22.78%,#03c945 23.89%,#01cb4d 25%,#04c841 25.56%,#0bc123 26.11%,#3ac804 26.67%,#c7ef00 27.22%,#ffc400 27.78%,#f57200 28.33%,#e44200 28.89%,#d72e00 29.44%,#cd2000 31.11%,#cd1f00 35.56%)"></i><i style="inset:70px;background:conic-gradient(from 26deg,#06c636 0%,#00ce56 1.67%,#00dc8e 2.78%,#0ce6d8 3.89%,#1cd4f0 4.44%,#30b4fd 5%,#3673f8 6.11%,#3667f5 6.67%,#3667f6 7.22%,#3676f9 7.78%,#359afd 8.33%,#24c7f5 8.89%,#0be6d3 9.44%,#00dc8e 10%,#02ca47 10.56%,#0fbd15 11.11%,#54cf00 12.22%,#6ad500 12.78%,#67d400 13.33%,#2fc507 14.44%,#11bc10 15%,#05c73d 16.11%,#00cc50 17.22%,#04c841 18.89%,#10bc12 21.11%,#10bc10 22.22%,#04c83f 23.89%,#03c946 25%,#06c63a 25.56%,#0dbf1b 26.11%,#41ca02 26.67%,#ccf000 27.22%,#ffc500 27.78%,#f67400 28.33%,#e54400 28.89%,#d83000 29.44%,#ce2000 31.11%,#cd1f00 35.56%)"></i><i style="inset:72px;background:conic-gradient(from 26deg,#0ac227 0%,#03c946 1.67%,#00d77a 2.78%,#09e4c6 3.89%,#14e1eb 4.44%,#359cfd 5.56%,#367cf9 6.11%,#366bf7 6.67%,#366af6 7.22%,#3677f9 7.78%,#359afd 8.33%,#25c5f6 8.89%,#0ce6d7 9.44%,#00dd96 10%,#00cc4f 10.56%,#0cc020 11.11%,#27c309 11.67%,#55cf00 12.78%,#54cf00 13.33%,#0fbd13 15%,#05c73b 16.11%,#02ca4a 17.22%,#06c639 18.89%,#14bd0f 21.11%,#16be0e 22.22%,#09c32a 23.33%,#04c842 24.44%,#04c83f 25%,#08c432 25.56%,#0fbd12 26.11%,#49cc00 26.67%,#d2f200 27.22%,#ffc500 27.78%,#f77700 28.33%,#e74700 28.89%,#d93200 29.44%,#ce2100 31.11%,#cd1f00 35.56%)"></i><i style="inset:74px;background:conic-gradient(from 26deg,#0fbd15 0%,#07c534 1.67%,#00d162 2.78%,#04e2b1 3.89%,#0de7dc 4.44%,#20cef2 5%,#34acff 5.56%,#3588fb 6.11%,#3671f8 6.67%,#366cf7 7.22%,#3677f9 7.78%,#3596fc 8.33%,#29c0f8 8.89%,#0fe7e2 9.44%,#01e1a6 10%,#00d165 10.56%,#07c534 11.11%,#11bc10 11.67%,#2bc408 12.22%,#39c804 12.78%,#3bc804 13.33%,#1abf0d 14.44%,#08c430 15.56%,#03c944 16.67%,#05c73b 18.33%,#10bc11 20.56%,#1fc00c 21.67%,#0fbd14 22.78%,#06c636 23.89%,#05c73d 24.44%,#06c639 25%,#09c32a 25.56%,#16be0e 26.11%,#55cf00 26.67%,#d7f300 27.22%,#ffc600 27.78%,#f87a00 28.33%,#e84900 28.89%,#da3300 29.44%,#ce2100 31.11%,#cd1f00 35.56%)"></i><i style="inset:76px;background:conic-gradient(from 26deg,#1ec00c 0%,#0fbd13 1.11%,#02ca49 2.78%,#00de97 3.89%,#08e4c3 4.44%,#15e0eb 5%,#2cbbfa 5.56%,#367af9 6.67%,#366ff8 7.22%,#3676f9 7.78%,#358ffc 8.33%,#2fb6fc 8.89%,#16deec 9.44%,#07e3be 10%,#00cc50 11.11%,#0fbd14 12.22%,#21c10b 13.33%,#0ebe18 14.44%,#06c638 15.56%,#04c842 17.22%,#12bd0f 20.56%,#23c10b 21.67%,#10bc11 22.78%,#07c533 23.89%,#06c639 24.44%,#07c533 25%,#0bc123 25.56%,#1ec00c 26.11%,#60d300 26.67%,#dcf500 27.22%,#ffc600 27.78%,#f97d00 28.33%,#e94c00 28.89%,#dc3500 29.44%,#ce2100 31.11%,#cd1f00 35.56%)"></i><i style="inset:78px;background:conic-gradient(from 26deg,#33c606 0%,#16be0e 1.67%,#08c431 2.78%,#01cb4c 3.33%,#02e1a7 4.44%,#0de6d8 5%,#21cdf3 5.56%,#34a8fe 6.11%,#3585fa 6.67%,#3673f8 7.22%,#3674f8 7.78%,#3586fa 8.33%,#34a8fe 8.89%,#22ccf3 9.44%,#0de7dc 10%,#00d87e 11.11%,#00cd54 11.67%,#0ac226 12.78%,#0dbf1e 13.33%,#09c32e 14.44%,#03c943 15.56%,#04c83f 17.22%,#15bd0f 20.56%,#25c20a 21.67%,#11bc10 22.78%,#08c431 23.89%,#07c535 24.44%,#09c32e 25%,#0dbf1b 25.56%,#27c20a 26.11%,#6cd600 26.67%,#e1f600 27.22%,#ffc600 27.78%,#fa8000 28.33%,#ea5000 28.89%,#dd3700 29.44%,#d12500 30.56%,#cd1f00 35.56%)"></i><i style="inset:80px;background:conic-gradient(from 26deg,#4bcd00 0%,#2ec507 1.67%,#0ebe16 2.78%,#00cd52 3.89%,#06e3bc 5%,#14e1eb 5.56%,#2db9fb 6.11%,#3593fc 6.67%,#3679f9 7.22%,#3671f8 7.78%,#367bf9 8.33%,#2fb6fc 9.44%,#1bd6ef 10%,#0ce6d5 10.56%,#00d165 12.22%,#01cb4a 12.78%,#05c73e 13.33%,#03c944 14.44%,#01cb4e 15.56%,#07c534 17.78%,#16be0e 20.56%,#26c20a 21.67%,#21c10b 22.22%,#11bc10 22.78%,#08c430 23.89%,#07c533 24.44%,#0ac229 25%,#0fbd14 25.56%,#2fc507 26.11%,#78d900 26.67%,#e7f800 27.22%,#ffc700 27.78%,#fb8300 28.33%,#ec5300 28.89%,#df3a00 29.44%,#d12600 30.56%,#cd1f00 35.56%)"></i><i style="inset:82px;background:conic-gradient(from 26deg,#72d700 0%,#39c804 2.22%,#0fbd14 3.33%,#07c535 3.89%,#00d05f 4.44%,#00df9b 5%,#0ce6d5 5.56%,#22cbf4 6.11%,#34a3fe 6.67%,#3581fa 7.22%,#3670f8 7.78%,#3671f8 8.33%,#3581fa 8.89%,#2dbafa 10%,#0ee7dd 11.11%,#00d678 12.78%,#00d061 13.33%,#00ce58 13.89%,#00d061 15%,#10bc11 20%,#26c20a 21.67%,#20c10b 22.22%,#11bc10 22.78%,#08c431 23.89%,#08c431 24.44%,#13bd0f 25.56%,#37c705 26.11%,#84dc00 26.67%,#ecf900 27.22%,#ffc700 27.78%,#fc8600 28.33%,#ed5700 28.89%,#e03c00 29.44%,#d22700 30.56%,#cd1f00 35.56%)"></i><i style="inset:84px;background:conic-gradient(from 26deg,#9be200 0%,#73d800 1.67%,#29c309 3.33%,#0fbd16 3.89%,#05c73d 4.44%,#05e2b6 5.56%,#15e0eb 6.11%,#30b5fc 6.67%,#358cfb 7.22%,#3672f8 7.78%,#366bf7 8.33%,#3670f8 8.89%,#359afd 10%,#30b5fc 10.56%,#11e7e8 11.67%,#00da89 13.33%,#00d679 13.89%,#00d576 15%,#0bc124 18.33%,#13bd0f 20.56%,#24c20a 21.67%,#10bc12 22.78%,#07c532 23.89%,#08c431 24.44%,#17be0e 25.56%,#3bc804 26.11%,#85dc00 26.67%,#e7f800 27.22%,#ffce00 27.78%,#fe8e00 28.33%,#ef5e00 28.89%,#e34100 29.44%,#d32900 30.56%,#cd1f00 35%,#cd1f00 35.56%)"></i><i style="inset:86px;background:conic-gradient(from 26deg,#c1ed00 0%,#b0e800 1.11%,#89de00 2.22%,#47cc00 3.33%,#29c309 3.89%,#0dbf1d 4.44%,#01cb4d 5%,#00dd93 5.56%,#0ce6d6 6.11%,#25c7f5 6.67%,#359cfd 7.22%,#3679f9 7.78%,#3669f6 8.33%,#366cf7 9.44%,#3590fc 10.56%,#34aaff 11.11%,#14e1eb 12.22%,#03e1ac 13.33%,#00de97 13.89%,#00da89 15%,#06c639 17.22%,#0dbf1b 18.89%,#10bc10 20.56%,#21c10b 21.67%,#0fbd15 22.78%,#07c535 23.89%,#08c432 24.44%,#0cc020 25%,#1bbf0d 25.56%,#3ec903 26.11%,#87dd00 26.67%,#e3f700 27.22%,#ffd400 27.78%,#ff9600 28.33%,#f26600 28.89%,#e74600 29.44%,#d52b00 30.56%,#cd1f00 33.89%,#cd1f00 35.56%)"></i><i style="inset:88px;background:conic-gradient(from 26deg,#e4f700 0%,#c7ef00 1.67%,#9ce300 2.78%,#78d900 3.33%,#48cc00 3.89%,#22c10b 4.44%,#09c32d 5%,#00d36b 5.56%,#05e2b6 6.11%,#18dced 6.67%,#33afff 7.22%,#3585fa 7.78%,#366bf7 8.33%,#3761f4 9.44%,#366ff8 10.56%,#34a1fd 11.67%,#13e3ea 12.78%,#04e2b1 13.89%,#00df9c 15%,#01cb4b 16.67%,#0ac228 17.78%,#0ebe16 19.44%,#15bd0f 21.11%,#1dc00c 21.67%,#18be0e 22.22%,#06c639 23.89%,#07c533 24.44%,#0cc01f 25%,#1ec00c 25.56%,#41ca02 26.11%,#89de00 26.67%,#e0f600 27.22%,#ffd900 27.78%,#ff9f00 28.33%,#f46e00 28.89%,#e94c00 29.44%,#d72e00 30.56%,#cd2000 33.33%,#cd1f00 35.56%)"></i><i style="inset:90px;background:conic-gradient(from 26deg,#fffb00 0%,#f6fc00 1.11%,#dbf500 2.22%,#a8e600 3.33%,#41ca02 4.44%,#12bd0f 5%,#02ca46 5.56%,#00dd94 6.11%,#0de7db 6.67%,#28c1f7 7.22%,#3595fc 7.78%,#3672f8 8.33%,#375af2 9.44%,#375df2 10.56%,#3666f5 11.11%,#367df9 11.67%,#34a3fe 12.22%,#10e8e6 13.33%,#09e5ca 13.89%,#03e2ae 15%,#01cb4d 16.67%,#0bc126 17.78%,#0ebe19 19.44%,#0dbf1c 20.56%,#18be0e 21.67%,#13bd0f 22.22%,#07c534 23.33%,#04c83e 23.89%,#06c636 24.44%,#0cc01f 25%,#20c10b 25.56%,#45cb01 26.11%,#8cde00 26.67%,#ddf500 27.22%,#ffde00 27.78%,#f77600 28.89%,#ec5300 29.44%,#d93100 30.56%,#ce2100 32.78%,#cd1f00 35.56%)"></i><i style="inset:92px;background:conic-gradient(from 26deg,#ffe600 0%,#feff00 2.22%,#cff100 3.33%,#a8e600 3.89%,#2fc507 5%,#0ac229 5.56%,#00d470 6.11%,#07e3be 6.67%,#1cd5ef 7.22%,#34a9fe 7.78%,#367ffa 8.33%,#3666f5 8.89%,#3752ef 10%,#3755f0 11.11%,#3664f5 11.67%,#3584fa 12.22%,#32b1fe 12.78%,#1dd4f0 13.33%,#0fe7e2 13.89%,#07e4c1 15%,#00cc50 16.67%,#0bc125 17.78%,#0dbf1d 19.44%,#0bc124 20.56%,#12bd0f 21.67%,#0fbd14 22.22%,#05c73b 23.33%,#03c944 23.89%,#06c639 24.44%,#0cc01f 25%,#22c10b 25.56%,#48cc00 26.11%,#dbf500 27.22%,#ffe300 27.78%,#fa7f00 28.89%,#ee5b00 29.44%,#e44300 30%,#d22700 31.67%,#cd1f00 35.56%)"></i><i style="inset:94px;background:conic-gradient(from 26deg,#ffd300 0%,#ffeb00 2.22%,#fff700 2.78%,#f1fb00 3.33%,#ccf000 3.89%,#97e100 4.44%,#4bcd00 5%,#12bd0f 5.56%,#01cb4d 6.11%,#00e0a1 6.67%,#0fe8e5 7.22%,#2bbcf9 7.78%,#366ff8 8.89%,#3751ef 10%,#3749ed 11.11%,#3754f0 11.67%,#366cf7 12.22%,#3598fd 12.78%,#28c1f8 13.33%,#18dbed 13.89%,#10e8e8 14.44%,#0ce6d6 15%,#00ce57 16.67%,#0bc126 17.78%,#0cc01f 18.89%,#08c42e 20.56%,#0fbd16 21.67%,#0dbf1b 22.22%,#03c943 23.33%,#01cb4b 23.89%,#05c73e 24.44%,#0cc020 25%,#24c20a 25.56%,#4ccd00 26.11%,#d9f400 27.22%,#ffe700 27.78%,#fc8700 28.89%,#e84800 30%,#d42900 31.67%,#cd1f00 35.56%)"></i><i style="inset:96px;background:conic-gradient(from 26deg,#ffc200 0%,#ffd800 2.22%,#fff400 3.33%,#ebf900 3.89%,#bbeb00 4.44%,#29c309 5.56%,#07c536 6.11%,#00d983 6.67%,#0ae5cc 7.22%,#1fcff2 7.78%,#34a7fe 8.33%,#3580fa 8.89%,#3756f0 10%,#3844eb 11.11%,#374bed 11.67%,#3760f3 12.22%,#32b1fe 13.33%,#22caf4 13.89%,#12e5e9 15%,#07e4c1 15.56%,#00d060 16.67%,#04c83e 17.22%,#0ac228 17.78%,#0bc124 18.89%,#06c63a 20.56%,#0dbf1e 21.67%,#0bc123 22.22%,#01cb4c 23.33%,#00cd53 23.89%,#03c942 24.44%,#0cc021 25%,#26c20a 25.56%,#50ce00 26.11%,#d8f400 27.22%,#ffeb00 27.78%,#ff9000 28.89%,#eb5000 30%,#da3300 31.11%,#ce2100 33.89%,#cd1f00 35.56%)"></i><i style="inset:98px;background:conic-gradient(from 26deg,#ffb400 0%,#ffc900 2.22%,#ffe400 3.33%,#fffb00 3.89%,#d5f300 4.44%,#91e000 5%,#3dc903 5.56%,#0cc021 6.11%,#00d267 6.67%,#04e2b3 7.22%,#14e2ea 7.78%,#2cbbfa 8.33%,#3675f9 9.44%,#374fef 10.56%,#3845ec 11.11%,#3748ed 11.67%,#375af2 12.22%,#3679f9 12.78%,#34a4fe 13.33%,#2bbdf9 13.89%,#1dd3f0 15%,#0ce6d5 15.56%,#00df9e 16.11%,#03c944 17.22%,#09c32c 17.78%,#09c32a 18.89%,#02ca47 20.56%,#0ac227 21.67%,#09c32b 22.22%,#00ce56 23.33%,#00cf5d 23.89%,#02ca47 24.44%,#0bc123 25%,#27c309 25.56%,#54cf00 26.11%,#d7f300 27.22%,#ffef00 27.78%,#ff9800 28.89%,#ed5800 30%,#dd3800 31.11%,#d02400 33.33%,#cd2000 35.56%)"></i><i style="inset:100px;background:conic-gradient(from 26deg,#ffa800 0%,#ffbc00 2.22%,#ffd800 3.33%,#ffee00 3.89%,#eaf900 4.44%,#abe700 5%,#51ce00 5.56%,#10bc10 6.11%,#00cc4f 6.67%,#00df9c 7.22%,#0ce6d7 7.78%,#20cff2 8.33%,#33affe 8.89%,#366ff8 10%,#374dee 11.11%,#374cee 11.67%,#375bf2 12.22%,#3677f9 12.78%,#359efd 13.33%,#30b5fc 13.89%,#27c2f7 15%,#10e8e8 15.56%,#03e1ad 16.11%,#01cb4b 17.22%,#08c431 17.78%,#09c32d 18.33%,#05c73c 19.44%,#00ce59 20.56%,#08c431 21.67%,#07c534 22.22%,#00d163 23.33%,#00d268 23.89%,#01cb4c 24.44%,#0bc124 25%,#28c309 25.56%,#57d000 26.11%,#d6f300 27.22%,#fff200 27.78%,#f97e00 29.44%,#e94b00 30.56%,#d62d00 32.22%,#cd2000 35.56%)"></i><i style="inset:102px;background:conic-gradient(from 26deg,#ffa100 0%,#ffb400 2.22%,#ffcf00 3.33%,#f8fd00 4.44%,#bbeb00 5%,#65d400 5.56%,#1ec00c 6.11%,#04c83f 6.67%,#00d985 7.22%,#07e4c0 7.78%,#13e3ea 8.33%,#34a9fe 9.44%,#366bf7 10.56%,#375af2 11.11%,#3756f1 11.67%,#3762f4 12.22%,#34a1fe 13.33%,#31b3fd 13.89%,#30b5fc 15%,#18dbed 15.56%,#06e3ba 16.11%,#00cc52 17.22%,#06c637 17.78%,#07c533 18.33%,#02ca48 19.44%,#00d062 20%,#00d471 20.56%,#05c73c 21.67%,#05c73d 22.22%,#00d470 23.33%,#00d573 23.89%,#00cc51 24.44%,#0bc125 25%,#2ac309 25.56%,#5cd100 26.11%,#d6f300 27.22%,#fff500 27.78%,#fc8600 29.44%,#ec5300 30.56%,#d93100 32.22%,#ce2100 35.56%)"></i><i style="inset:104px;background:conic-gradient(from 26deg,#ff9e00 0%,#ffaf00 2.22%,#ffca00 3.33%,#fffd00 4.44%,#c6ee00 5%,#29c309 6.11%,#08c432 6.67%,#02e1a9 7.78%,#0ce6d5 8.33%,#18dbed 8.89%,#34a6fe 10%,#366bf6 11.11%,#3664f5 11.67%,#366ef7 12.22%,#34adff 13.33%,#2fb7fc 13.89%,#34abff 14.44%,#34aaff 15%,#1ed1f1 15.56%,#08e4c4 16.11%,#00ce58 17.22%,#05c73b 17.78%,#06c63a 18.33%,#00cd56 19.44%,#00d679 20%,#00db8a 20.56%,#02ca47 21.67%,#02ca46 22.22%,#00d77c 23.33%,#00d77d 23.89%,#00ce57 24.44%,#0bc125 25%,#2cc408 25.56%,#a1e400 26.67%,#d7f300 27.22%,#fff600 27.78%,#ff8f00 29.44%,#e94a00 31.11%,#d42b00 33.33%,#cf2200 35.56%)"></i><i style="inset:106px;background:conic-gradient(from 26deg,#ff9f00 0%,#ffb000 2.22%,#ffca00 3.33%,#fffb00 4.44%,#ccf000 5%,#32c606 6.11%,#0bc126 6.67%,#00cf5b 7.22%,#00dd93 7.78%,#0de7dc 8.89%,#19daee 9.44%,#34a1fe 10.56%,#3583fa 11.11%,#3677f9 11.67%,#3583fa 12.22%,#2cbbfa 13.33%,#29c0f8 13.89%,#34acff 14.44%,#34a3fe 15%,#22cbf3 15.56%,#09e5c9 16.11%,#00ce5a 17.22%,#05c73c 17.78%,#05c73e 18.33%,#00d267 19.44%,#00dc90 20%,#01e1a5 20.56%,#00cd53 21.67%,#00cc4f 22.22%,#00da87 23.33%,#00d985 23.89%,#00cf5b 24.44%,#0bc125 25%,#2fc507 25.56%,#a6e500 26.67%,#d9f400 27.22%,#fff800 27.78%,#f97d00 30%,#e64500 31.67%,#d22700 34.44%,#d02300 35.56%)"></i><i style="inset:108px;background:conic-gradient(from 26deg,#ffa500 0%,#ffb400 2.22%,#ffcc00 3.33%,#fffb00 4.44%,#cdf100 5%,#38c705 6.11%,#0dbf1c 6.67%,#01cb4b 7.22%,#00d77d 7.78%,#01e1a5 8.33%,#0ee7de 9.44%,#1ad7ef 10%,#359dfd 11.11%,#358ffc 11.67%,#359cfd 12.22%,#21ccf3 13.33%,#21ccf3 13.89%,#32b1fe 14.44%,#34a0fd 15%,#24c9f4 15.56%,#09e4c8 16.11%,#00cd55 17.22%,#06c638 17.78%,#04c83e 18.33%,#00cd54 18.89%,#00d575 19.44%,#01e1a6 20%,#06e3bc 20.56%,#00de96 21.11%,#00d061 21.67%,#00ce59 22.22%,#00dc90 23.33%,#00db8c 23.89%,#00d05e 24.44%,#0bc124 25%,#32c606 25.56%,#aae700 26.67%,#fffa00 27.78%,#fc8700 30%,#ea4d00 31.67%,#d72f00 33.89%,#d12600 35.56%)"></i><i style="inset:110px;background:conic-gradient(from 26deg,#ffae00 0%,#ffbc00 2.22%,#ffe500 3.89%,#ffff00 4.44%,#cbf000 5%,#3cc903 6.11%,#0fbd15 6.67%,#00d36a 7.78%,#02e1aa 8.89%,#0fe7e3 10%,#31b3fd 11.11%,#34a6fe 11.67%,#32b1fe 12.22%,#16deec 13.33%,#18daed 13.89%,#2fb6fc 14.44%,#359efd 15%,#23c9f4 15.56%,#08e4c3 16.11%,#01cb4b 17.22%,#08c42f 17.78%,#06c639 18.33%,#00cd55 18.89%,#00d87f 19.44%,#05e3b7 20%,#0be6d2 20.56%,#02e1a8 21.11%,#00d36b 21.67%,#00d05f 22.22%,#00dd96 23.33%,#00dc91 23.89%,#00d05f 24.44%,#0bc122 25%,#36c705 25.56%,#afe800 26.67%,#fffc00 27.78%,#ff9200 30%,#ed5900 31.67%,#db3400 33.89%,#d32900 35.56%)"></i><i style="inset:112px;background:conic-gradient(from 26deg,#ffbb00 0%,#ffc800 2.22%,#ffed00 3.89%,#f6fc00 4.44%,#c5ee00 5%,#3ec903 6.11%,#11bc10 6.67%,#00cf5a 7.78%,#03e2ae 9.44%,#0ae5cd 10%,#16deec 10.56%,#28c2f7 11.11%,#2fb6fc 11.67%,#29c0f8 12.22%,#19daee 12.78%,#0ee7df 13.33%,#10e8e8 13.89%,#2cbbfa 14.44%,#359cfd 15%,#23caf4 15.56%,#06e3bb 16.11%,#00d678 16.67%,#05c73e 17.22%,#0cc021 17.78%,#08c42f 18.33%,#00cc51 18.89%,#00d982 19.44%,#08e4c4 20%,#0fe8e4 20.56%,#04e2b4 21.11%,#00d46f 21.67%,#00d060 22.22%,#00de97 23.33%,#00dc91 23.89%,#00cf5d 24.44%,#0cc01e 25%,#3bc804 25.56%,#b3e900 26.67%,#fffe00 27.78%,#fd8800 30.56%,#e94b00 32.78%,#d72e00 35.56%)"></i><i style="inset:114px;background:conic-gradient(from 26deg,#ffca00 0%,#ffdc00 2.78%,#fff700 3.89%,#e9f900 4.44%,#bcec00 5%,#3dc903 6.11%,#14bd0f 6.67%,#00cc4e 7.78%,#06e3bc 10%,#0fe8e5 10.56%,#21ccf3 11.11%,#29bff8 11.67%,#22cbf4 12.22%,#11e7e8 12.78%,#0ae5cd 13.33%,#0de6da 13.89%,#2abef9 14.44%,#3598fd 15%,#23caf4 15.56%,#04e2b1 16.11%,#00d166 16.67%,#09c32c 17.22%,#12bd0f 17.78%,#0cc020 18.33%,#02ca47 18.89%,#00d87f 19.44%,#0ae5cb 20%,#14e2ea 20.56%,#06e3ba 21.11%,#00d36c 21.67%,#00ce59 22.22%,#00dc92 23.33%,#00db8c 23.89%,#00ce56 24.44%,#0ebe18 25%,#41ca02 25.56%,#83dc00 26.11%,#b8ea00 26.67%,#feff00 27.78%,#fb8400 31.11%,#ea4e00 33.33%,#db3500 35.56%)"></i><i style="inset:116px;background:conic-gradient(from 26deg,#ffda00 0%,#ffea00 2.78%,#f9fd00 3.89%,#b0e800 5%,#3bc804 6.11%,#14bd0f 6.67%,#00d05e 8.33%,#00db8d 9.44%,#0de7db 10.56%,#1ed2f1 11.11%,#26c5f6 11.67%,#1ed2f1 12.22%,#0de7dd 12.78%,#07e3be 13.33%,#0be5cf 13.89%,#2abef9 14.44%,#3591fc 15%,#23caf4 15.56%,#01e1a6 16.11%,#00cc50 16.67%,#0fbd16 17.22%,#2ac309 17.78%,#15bd0f 18.33%,#06c639 18.89%,#00d574 19.44%,#0ae5cb 20%,#17ddec 20.56%,#05e3b9 21.11%,#00d062 21.67%,#01cb4c 22.22%,#00d985 23.33%,#00d880 23.89%,#01cb4c 24.44%,#10bc10 25%,#49cc00 25.56%,#8edf00 26.11%,#bdec00 26.67%,#fcfe00 27.78%,#fb8500 31.67%,#e94c00 34.44%,#e23f00 35.56%)"></i><i style="inset:118px;background:conic-gradient(from 26deg,#ffec00 0%,#fffa00 2.78%,#f9fd00 3.33%,#c7ef00 4.44%,#9ee300 5%,#36c705 6.11%,#14bd0f 6.67%,#00cd55 8.33%,#00d881 9.44%,#0be6d4 10.56%,#1bd6ef 11.11%,#24c8f5 11.67%,#1ad7ef 12.22%,#0be6d2 12.78%,#04e2b1 13.33%,#08e4c5 13.89%,#2bbdf9 14.44%,#3589fb 15%,#22cbf4 15.56%,#00de96 16.11%,#05c73c 16.67%,#24c20a 17.22%,#46cc00 17.78%,#2ec507 18.33%,#0bc124 18.89%,#00d061 19.44%,#08e4c4 20%,#15e0eb 20.56%,#03e2af 21.11%,#00cc4e 21.67%,#05c73b 22.22%,#00cc51 22.78%,#00d471 23.33%,#00d36e 23.89%,#04c840 24.44%,#1bbf0d 25%,#58d000 25.56%,#9ae200 26.11%,#c4ee00 26.67%,#fafe00 27.78%,#fd8a00 32.22%,#ea4e00 35.56%)"></i><i style="inset:120px;background:conic-gradient(from 26deg,#ffff00 0%,#f4fc00 2.22%,#e0f600 3.33%,#b4e900 4.44%,#32c606 6.11%,#13bd0f 6.67%,#01cb4b 8.33%,#00d574 9.44%,#09e5cb 10.56%,#18dbed 11.11%,#21cdf3 11.67%,#16dfec 12.22%,#00e09f 13.33%,#05e3b7 13.89%,#29c0f8 14.44%,#3587fb 15%,#1ed1f1 15.56%,#00d87e 16.11%,#0cc022 16.67%,#43cb01 17.22%,#7dda00 17.78%,#51ce00 18.33%,#17be0e 18.89%,#02ca46 19.44%,#04e2b2 20%,#0fe8e5 20.56%,#00df9c 21.11%,#06c639 21.67%,#0bc123 22.22%,#00cd55 23.33%,#00cd55 23.89%,#08c430 24.44%,#29c309 25%,#a8e600 26.11%,#ccf000 26.67%,#f9fd00 27.78%,#ffb800 31.11%,#f46e00 35%,#f26600 35.56%)"></i><i style="inset:122px;background:conic-gradient(from 26deg,#e3f700 0%,#d5f300 2.78%,#bbeb00 3.89%,#a2e400 4.44%,#32c606 6.11%,#18be0e 6.67%,#08c430 7.78%,#00ce5a 9.44%,#00d87f 10%,#0de7dc 11.11%,#12e5e9 11.67%,#0ce6d4 12.22%,#01e0a3 12.78%,#00d679 13.33%,#00dd93 13.89%,#18dced 14.44%,#34abff 15%,#0ee7df 15.56%,#00cc52 16.11%,#1fc00c 16.67%,#75d800 17.22%,#b1e800 17.78%,#86dd00 18.33%,#39c804 18.89%,#0bc123 19.44%,#00d983 20%,#06e3b9 20.56%,#00d36d 21.11%,#0ebe17 21.67%,#1dc00c 22.22%,#0ebe1a 22.78%,#07c535 23.33%,#06c638 23.89%,#0ebe17 24.44%,#3bc804 25%,#81db00 25.56%,#b8ea00 26.11%,#e9f800 27.22%,#fff900 28.33%,#fb8500 35.56%)"></i><i style="inset:124px;background:conic-gradient(from 26deg,#d3f200 0%,#cbf000 2.78%,#b7ea00 3.89%,#87dd00 5%,#43cb01 6.11%,#11bc10 7.78%,#09c32d 9.44%,#03c944 10%,#00de98 11.11%,#01e1a5 11.67%,#00db8b 12.22%,#00ce58 12.78%,#06c638 13.33%,#02ca49 13.89%,#02e1a7 14.44%,#0de7db 15%,#00db8d 15.56%,#0dbf1a 16.11%,#4fce00 16.67%,#b1e800 17.22%,#ddf500 17.78%,#bdec00 18.33%,#2ec408 19.44%,#05c73c 20%,#00d269 20.56%,#08c430 21.11%,#33c606 21.67%,#43cb01 22.22%,#13bd0f 23.33%,#0fbd12 23.89%,#27c20a 24.44%,#58d000 25%,#9ce300 25.56%,#c7ef00 26.11%,#eefa00 27.22%,#fffc00 28.33%,#ffab00 35.56%)"></i><i style="inset:126px;background:conic-gradient(from 26deg,#b4e900 0%,#aee800 2.78%,#99e200 3.89%,#6ed600 5%,#39c804 6.11%,#18be0e 7.22%,#08c42e 9.44%,#03c945 10%,#00de99 11.11%,#01e1a6 11.67%,#00db8c 12.22%,#00ce58 12.78%,#06c639 13.33%,#02ca49 13.89%,#02e1a8 14.44%,#0de7dc 15%,#00dc8e 15.56%,#0dbf1b 16.11%,#4dcd00 16.67%,#afe800 17.22%,#dcf500 17.78%,#bceb00 18.33%,#2cc408 19.44%,#05c73d 20%,#00d36b 20.56%,#08c432 21.11%,#32c606 21.67%,#42ca02 22.22%,#11bc10 23.33%,#0fbd14 23.89%,#25c20a 24.44%,#56d000 25%,#9ae200 25.56%,#c6ee00 26.11%,#ecfa00 27.22%,#fffd00 28.33%,#ffab00 35.56%)"></i><i style="inset:128px;background:conic-gradient(from 26deg,#99e200 0%,#94e000 2.78%,#82dc00 3.89%,#31c507 6.11%,#14bd0f 7.22%,#08c42f 9.44%,#02ca46 10%,#00df9a 11.11%,#02e1a7 11.67%,#00db8d 12.22%,#00ce5a 12.78%,#06c63a 13.33%,#01cb4a 13.89%,#02e1a9 14.44%,#0ee7de 15%,#00dc90 15.56%,#0dbf1c 16.11%,#4bcd00 16.67%,#ade700 17.22%,#daf400 17.78%,#baeb00 18.33%,#2bc408 19.44%,#04c83e 20%,#00d36d 20.56%,#07c533 21.11%,#31c507 21.67%,#41ca02 22.22%,#10bc10 23.33%,#0fbd15 23.89%,#24c20a 24.44%,#54cf00 25%,#98e200 25.56%,#c4ee00 26.11%,#ebf900 27.22%,#fffe00 28.33%,#ffac00 35.56%)"></i></div></div>
<svg class="a" style="left:0;top:0" width="960" height="600" viewBox="0 0 960 600"><circle cx="202" cy="184" r="73.5" fill="none" stroke="#101058" stroke-opacity="0.5" stroke-width="0.8"/><path d="M394.8 120.3A73.5 73.5 0 0 1 394.8 247.7" fill="none" stroke="#101058" stroke-opacity="0.5" stroke-width="0.8"/><circle cx="202" cy="184" r="7" fill="#000"/><circle cx="202" cy="184" r="4.1" fill="#ffff20"/><circle cx="358" cy="184" r="7" fill="#000"/><circle cx="358" cy="184" r="4.1" fill="#ffff20"/><circle cx="274" cy="184" r="3.1" fill="#86e05c" stroke="#000" stroke-width="1.2"/><circle cx="244" cy="127.5" r="3.1" fill="#f07878" stroke="#000" stroke-width="1.2"/><circle cx="429" cy="193" r="3.1" fill="#86e05c" stroke="#000" stroke-width="1.2"/><circle cx="202" cy="448" r="73.5" fill="none" stroke="#101058" stroke-opacity="0.5" stroke-width="0.8"/><path d="M394.8 384.3A73.5 73.5 0 0 1 394.8 511.7" fill="none" stroke="#101058" stroke-opacity="0.5" stroke-width="0.8"/><circle cx="202" cy="448" r="7" fill="#000"/><circle cx="202" cy="448" r="4.1" fill="#ffff20"/><circle cx="358" cy="448" r="7" fill="#000"/><circle cx="358" cy="448" r="4.1" fill="#ffff20"/><circle cx="274" cy="448" r="3.1" fill="#86e05c" stroke="#000" stroke-width="1.2"/><circle cx="244" cy="391.5" r="3.1" fill="#e070a8" stroke="#000" stroke-width="1.2"/><circle cx="429" cy="457" r="3.1" fill="#86e05c" stroke="#000" stroke-width="1.2"/></svg>
<svg class="a" style="left:0;top:0" width="960" height="60" viewBox="0 0 960 60"><text transform="scale(1.11 1)" x="270.28 289.38 308.48 327.58 350.51 365.78 384.88 407.80 423.08 442.18 466.04 480.37 499.47 524.24 537.67 556.77 575.83" y="46.6" font-family="Liberation Sans, sans-serif" font-size="34.3" fill="#ffff40" stroke="#000" stroke-width="0.55">2026-03-30 00:00Z</text></svg>
<div class="t" style="left:3px;top:583px;letter-spacing:0.12px">Space Weather Prediction Center</div><div class="t" style="left:379px;top:583px;letter-spacing:0.11px">Run Time: 2026-03-30 04:00Z&nbsp; Mode: CME</div><div class="t" style="left:734px;top:583px;letter-spacing:0.04px">Image Created: 2026-03-30 05:48Z</div>
<div class="a" style="left:30px;top:102px;width:9px;height:162px;border:1px solid #fff;background:linear-gradient(to bottom,#000000 0.00%,#ffffff 49.50%,#fff0ff 51.67%,#ffa0f0 54.67%,#f060d0 57.50%,#d04080 60.50%,#b01020 62.83%,#c81800 65.33%,#e84800 67.67%,#ff9000 70.50%,#ffc800 72.67%,#ffff00 75.00%,#b0e800 77.17%,#48cc00 79.50%,#10bc10 81.50%,#00cc50 83.67%,#00e0a0 85.67%,#10e8e8 87.67%,#34aeff 89.67%,#3670f8 91.33%,#3838e8 93.50%,#4040b8 96.33%,#3a3a8c 99.17%,#383880 100.00%)"></div><div class="t" style="left:47.5px;top:95.0px">60</div><div class="t" style="left:47.5px;top:135.8px">45</div><div class="t" style="left:47.5px;top:176.5px">30</div><div class="t" style="left:47.5px;top:217.2px">15</div><div class="t" style="left:47.5px;top:258.0px">0</div><div class="rot" style="left:11px;top:264.5px">Plasma Density (r<sup>2</sup>N/cm<sup>3</sup>)</div>
<div class="a" style="left:30px;top:366px;width:9px;height:162px;border:1px solid #fff;background:linear-gradient(to bottom,#000000 0.00%,#ffffff 49.50%,#fff0ff 51.67%,#ffa0f0 54.67%,#f060d0 57.50%,#d04080 60.50%,#b01020 62.83%,#c81800 65.33%,#e84800 67.67%,#ff9000 70.50%,#ffc800 72.67%,#ffff00 75.00%,#b0e800 77.17%,#48cc00 79.50%,#10bc10 81.50%,#00cc50 83.67%,#00e0a0 85.67%,#10e8e8 87.67%,#34aeff 89.67%,#3670f8 91.33%,#3838e8 93.50%,#4040b8 96.33%,#3a3a8c 99.17%,#383880 100.00%)"></div><div class="t" style="left:43.7px;top:359.0px;letter-spacing:0.5px">1600</div><div class="t" style="left:43.7px;top:399.8px;letter-spacing:0.5px">1250</div><div class="t" style="left:46.3px;top:440.5px">900</div><div class="t" style="left:46.3px;top:481.2px">550</div><div class="t" style="left:46.3px;top:522.0px">200</div><div class="rot" style="left:11px;top:528.5px">Radial Velocity (km/s)</div>
<div class="a" style="left:41px;top:326px;width:10px;height:1px;background:#ccc"></div>
<svg class="a" style="left:0;top:0" width="960" height="600" viewBox="0 0 960 600"><g fill="none" stroke="#fff" stroke-width="1" shape-rendering="crispEdges"><rect x="532.5" y="91.5" width="408.0" height="90.0"/><path d="M532.5 113.5h5M940.5 113.5h-5M532.5 136.5h5M940.5 136.5h-5M532.5 158.5h5M940.5 158.5h-5M581.5 181.5v-5M639.5 181.5v-5M698.5 181.5v-5M756.5 181.5v-5M814.5 181.5v-5M873.5 181.5v-5M931.5 181.5v-5"/><rect x="532.5" y="193.5" width="408.0" height="90.0"/><path d="M532.5 215.5h5M940.5 215.5h-5M532.5 238.5h5M940.5 238.5h-5M532.5 260.5h5M940.5 260.5h-5M581.5 283.5v-5M639.5 283.5v-5M698.5 283.5v-5M756.5 283.5v-5M814.5 283.5v-5M873.5 283.5v-5M931.5 283.5v-5"/><rect x="532.5" y="354.5" width="408.0" height="90.0"/><path d="M532.5 372.5h5M940.5 372.5h-5M532.5 390.5h5M940.5 390.5h-5M532.5 408.5h5M940.5 408.5h-5M532.5 426.5h5M940.5 426.5h-5M581.5 444.5v-5M639.5 444.5v-5M698.5 444.5v-5M756.5 444.5v-5M814.5 444.5v-5M873.5 444.5v-5M931.5 444.5v-5"/><rect x="532.5" y="456.5" width="408.0" height="90.0"/><path d="M532.5 474.5h5M940.5 474.5h-5M532.5 492.5h5M940.5 492.5h-5M532.5 510.5h5M940.5 510.5h-5M532.5 528.5h5M940.5 528.5h-5M581.5 546.5v-5M639.5 546.5v-5M698.5 546.5v-5M756.5 546.5v-5M814.5 546.5v-5M873.5 546.5v-5M931.5 546.5v-5"/></g><polyline fill="none" stroke="#84e872" stroke-width="1.2" stroke-linejoin="round" points="533.3,167.0 551.9,162.8 573.8,157.4 595.6,151.9 606.6,150.4 621.9,150.6 632.8,151.7 639.4,153.4 650.3,156.7 661.3,160.4 672.2,162.8 683.1,164.6 696.3,166.4 715.0,166.6 731.3,166.6 736.6,164.6 739.9,161.8 742.1,147.4 744.4,127.5 745.9,122.0 748.8,123.6 751.0,129.8 753.2,141.2 755.4,144.1 758.7,144.1 761.4,151.8 763.1,153.4 767.5,154.0 770.9,160.2 775.3,162.4 779.7,169.5 784.1,173.5 789.6,175.2 796.3,173.9 805.1,169.9 813.9,168.6 823.9,168.6 836.0,169.9 853.7,171.3 939.8,171.3"/><polyline fill="none" stroke="#e46a6a" stroke-width="1.2" stroke-linejoin="round" points="533.0,272.3 727.4,271.8 753.2,269.2 774.6,265.0 791.8,260.7 809.0,255.5 818.0,254.3 826.1,254.2 839.0,256.4 856.2,260.2 881.9,263.2 912.0,266.2 939.8,266.7"/><polyline fill="none" stroke="#84e872" stroke-width="1.2" stroke-linejoin="round" points="533.3,426.4 543.1,429.0 556.2,432.1 573.8,434.3 602.2,434.3 617.5,432.5 630.6,429.4 639.4,426.4 648.1,422.0 656.9,419.4 667.8,417.4 683.1,417.4 700.6,419.8 718.1,423.1 730.0,425.3 737.7,427.5 739.9,422.7 741.5,407.2 743.7,392.9 746.6,389.1 749.9,386.2 753.2,388.7 756.0,388.2 759.2,385.6 765.3,385.6 769.8,384.5 775.3,384.0 780.8,379.6 787.9,375.2 792.9,375.2 800.7,377.2 813.9,378.7 822.8,379.4 827.2,378.5 844.8,379.6 862.5,382.2 884.6,385.1 902.3,388.0 919.9,392.4 939.8,399.0"/><polyline fill="none" stroke="#e46a6a" stroke-width="1.2" stroke-linejoin="round" points="533.0,487.0 585.8,493.5 639.4,499.0 671.6,504.6 701.7,511.5 731.7,519.2 761.8,527.8 778.9,531.7 791.8,533.0 804.7,532.5 821.8,528.2 839.0,520.5 851.9,517.1 873.3,516.7 899.1,518.0 924.8,521.4 939.8,524.0"/><rect x="639" y="90" width="2" height="92" fill="#ffff50"/><rect x="639" y="192" width="2" height="92" fill="#ffff50"/><rect x="639" y="353" width="2" height="92" fill="#ffff50"/><rect x="639" y="455" width="2" height="92" fill="#ffff50"/><rect x="638.5" y="151.6" width="3" height="4" fill="#f0e040"/><rect x="638.5" y="270.0" width="3" height="4" fill="#f0e040"/><rect x="638.5" y="424.1" width="3" height="4" fill="#f0e040"/><rect x="638.5" y="497.1" width="3" height="4" fill="#f0e040"/></svg>
<div class="t" style="left:543px;top:94.5px">EARTH</div><div class="t" style="left:543px;top:196.5px">STEREO A</div><div class="t" style="left:543px;top:357.5px">EARTH</div><div class="t" style="left:543px;top:459.5px">STEREO A</div><div class="t" style="right:437px;top:105.5px">15</div><div class="t" style="right:437px;top:150.5px">5</div><div class="t" style="right:437px;top:207.5px">15</div><div class="t" style="right:437px;top:252.5px">5</div><div class="t" style="right:437px;top:346.0px">800</div><div class="t" style="right:437px;top:382.0px">600</div><div class="t" style="right:437px;top:418.0px">400</div><div class="t" style="right:437px;top:448.0px">800</div><div class="t" style="right:437px;top:484.0px">600</div><div class="t" style="right:437px;top:520.0px">400</div><div class="t" style="left:561.4px;top:286.0px;width:40px;text-align:center">29</div><div class="t" style="left:619.7px;top:286.0px;width:40px;text-align:center">30</div><div class="t" style="left:678.1px;top:286.0px;width:40px;text-align:center">31</div><div class="t" style="left:736.4px;top:286.0px;width:40px;text-align:center">01</div><div class="t" style="left:794.8px;top:286.0px;width:40px;text-align:center">02</div><div class="t" style="left:853.1px;top:286.0px;width:40px;text-align:center">03</div><div class="t" style="left:911.5px;top:286.0px;width:40px;text-align:center">04</div><div class="t" style="left:561.4px;top:549.0px;width:40px;text-align:center">29</div><div class="t" style="left:619.7px;top:549.0px;width:40px;text-align:center">30</div><div class="t" style="left:678.1px;top:549.0px;width:40px;text-align:center">31</div><div class="t" style="left:736.4px;top:549.0px;width:40px;text-align:center">01</div><div class="t" style="left:794.8px;top:549.0px;width:40px;text-align:center">02</div><div class="t" style="left:853.1px;top:549.0px;width:40px;text-align:center">03</div><div class="t" style="left:911.5px;top:549.0px;width:40px;text-align:center">04</div><div class="t" style="left:537px;top:70.5px;width:400px;text-align:center">Plasma Density (/cm<sup>3</sup>)</div><div class="t" style="left:537px;top:334.5px;width:400px;text-align:center">Radial Velocity (km/s)</div>
</body></html>
